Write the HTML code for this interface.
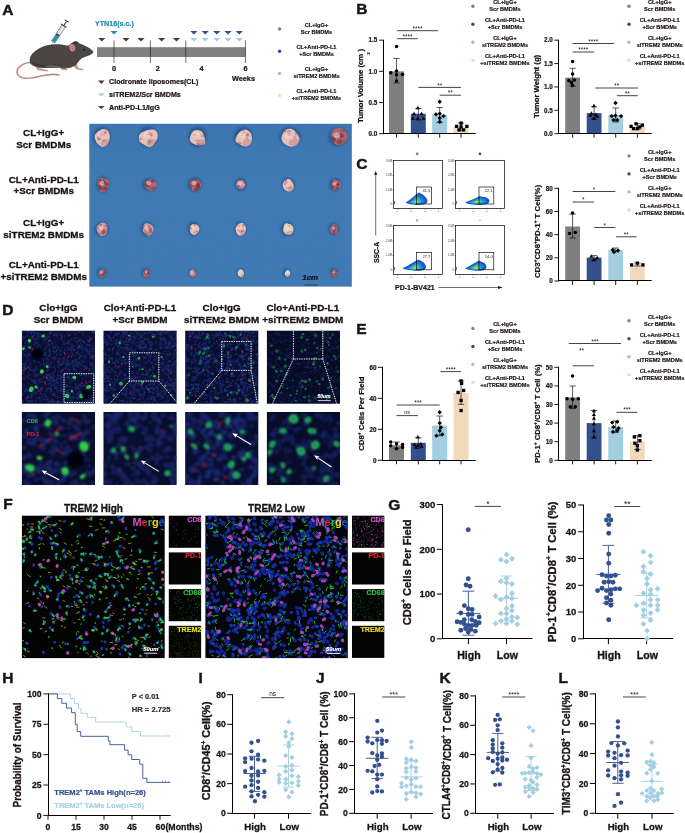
<!DOCTYPE html>
<html><head><meta charset="utf-8"><title>Figure</title>
<style>html,body{margin:0;padding:0;background:#fff}svg{display:block}text{font-family:"Liberation Sans",sans-serif}</style>
</head><body>
<svg width="685" height="833" viewBox="0 0 685 833">
<rect width="685" height="833" fill="#fff"/>
<text x="2.20" y="14.80" font-size="15.5" text-anchor="start" fill="#1a1311" font-weight="bold" stroke="#1a1311" stroke-width="0.46">A</text>
<path d="M30.5,62.5 C22,63 15.5,68.5 17.5,74 C20,80.5 31,78.6 41,76 C48,74.4 54,73.8 59,75" fill="none" stroke="#bb8f87" stroke-width="1.7" stroke-linecap="round"/>
<path d="M35,66.5 L37.5,70.2 L47.5,71.6 L48.5,70.3 L41,68.5 L40,66 Z" fill="#c99a90"/>
<path d="M73.5,65 L76,69.3 L83.3,70.6 L83.6,69.3 L78.4,67.8 L77,64 Z" fill="#c99a90"/>
<path d="M60,66 L61,69.5 L67,70.3 L67,69 L63.5,68 Z" fill="#b58a82"/>
<path d="M29.6,60 C29.5,54 38,47.5 48,45 C55,43.6 63,44.2 68,45.8 C70.5,44.5 72.5,42 75,41.3 C77,41 78.5,42.5 79.5,43.6 C84,44.6 89.5,47.8 93.2,51.2 C93.8,52.8 92,54 90,55 C87,56.5 84,57 81.5,58.5 C79,61 77,63.5 75.5,65.5 C72,67.5 67.5,68.6 64,68.4 C58,66.8 52,68.4 46,68 C40,68 32,67 30,63 Z" fill="#4b4544"/>
<path d="M31,61 C36,65 46,66.5 53,64.5 C57,63.5 60,64 64,66.5 C58,66 52,68 46,67.6 C40,67.5 33,66.5 31,61 Z" fill="#3a3535"/>
<path d="M44,66.8 C50,64.5 58,64.8 64,67.6 C58,67.2 50,68.2 44,66.8 Z" fill="#6a6362"/>
<ellipse cx="72.3" cy="47.8" rx="2.9" ry="3.6" fill="#c9928e" transform="rotate(-15 72.3 47.8)"/>
<ellipse cx="72.6" cy="48" rx="1.8" ry="2.5" fill="#b77d7c" transform="rotate(-15 72.6 48)"/>
<path d="M73.5,42.5 C75,40.8 78,41.2 78.6,43.3 C77,43 75,43.2 74,44.4 Z" fill="#3a3535"/>
<circle cx="83.80" cy="49.70" r="0.9" fill="#111"/>
<line x1="91.50" y1="50.00" x2="95.50" y2="44.50" stroke="#ccc" stroke-width="0.3"/>
<line x1="92.00" y1="50.50" x2="96.50" y2="47.00" stroke="#ccc" stroke-width="0.3"/>
<line x1="48.70" y1="51.50" x2="53.20" y2="42.00" stroke="#333" stroke-width="0.35"/>
<g transform="translate(53.2,42) rotate(-57)"><rect x="0" y="-2" width="19" height="4" fill="#eef3f6" stroke="#2b2b2b" stroke-width="0.45"/><rect x="0.4" y="-1.7" width="7.6" height="3.4" fill="#1f8fc6"/><rect x="7.8" y="-1.9" width="1.4" height="3.8" fill="#333"/><line x1="10.5" y1="-2" x2="10.5" y2="0" stroke="#333" stroke-width="0.3"/><line x1="12.5" y1="-2" x2="12.5" y2="0" stroke="#333" stroke-width="0.3"/><line x1="14.5" y1="-2" x2="14.5" y2="0" stroke="#333" stroke-width="0.3"/><line x1="16.5" y1="-2" x2="16.5" y2="0" stroke="#333" stroke-width="0.3"/><rect x="19" y="-3.3" width="0.9" height="6.6" fill="#2b2b2b"/><rect x="19.9" y="-0.5" width="4.6" height="1" fill="#2b2b2b"/><rect x="24.4" y="-2.4" width="0.9" height="4.8" fill="#2b2b2b"/></g>
<text x="95.00" y="26.40" font-size="7.15" text-anchor="start" fill="#1b8bb8" font-weight="bold" stroke="#1b8bb8" stroke-width="0.21">YTN16(s.c.)</text>
<polygon points="110.50,30.90 117.50,30.90 114.00,34.50" fill="#1b8bb8"/>
<rect x="97.00" y="47.20" width="148.60" height="9.80" fill="#808080"/>
<line x1="114.00" y1="40.30" x2="114.00" y2="63.00" stroke="#111" stroke-width="0.6"/>
<line x1="150.40" y1="40.30" x2="150.40" y2="63.00" stroke="#111" stroke-width="0.6"/>
<line x1="185.80" y1="40.30" x2="185.80" y2="63.00" stroke="#111" stroke-width="0.6"/>
<line x1="245.40" y1="40.30" x2="245.40" y2="63.00" stroke="#111" stroke-width="0.6"/>
<polygon points="98.20,38.00 105.40,38.00 101.80,41.60" fill="#4a3b38"/>
<polygon points="122.40,38.00 129.60,38.00 126.00,41.60" fill="#4a3b38"/>
<polygon points="137.40,38.00 144.60,38.00 141.00,41.60" fill="#4a3b38"/>
<polygon points="158.00,38.00 165.20,38.00 161.60,41.60" fill="#4a3b38"/>
<polygon points="172.90,38.00 180.10,38.00 176.50,41.60" fill="#4a3b38"/>
<polygon points="190.30,31.00 197.50,31.00 193.90,34.60" fill="#2d4b8e"/>
<polygon points="190.30,38.00 197.50,38.00 193.90,41.60" fill="#9fcfe6"/>
<polygon points="201.60,31.00 208.80,31.00 205.20,34.60" fill="#2d4b8e"/>
<polygon points="201.60,38.00 208.80,38.00 205.20,41.60" fill="#9fcfe6"/>
<polygon points="213.10,31.00 220.30,31.00 216.70,34.60" fill="#2d4b8e"/>
<polygon points="213.10,38.00 220.30,38.00 216.70,41.60" fill="#9fcfe6"/>
<polygon points="224.40,31.00 231.60,31.00 228.00,34.60" fill="#2d4b8e"/>
<polygon points="224.40,38.00 231.60,38.00 228.00,41.60" fill="#9fcfe6"/>
<polygon points="235.70,31.00 242.90,31.00 239.30,34.60" fill="#2d4b8e"/>
<polygon points="235.70,38.00 242.90,38.00 239.30,41.60" fill="#9fcfe6"/>
<text x="114.00" y="71.20" font-size="7.3" text-anchor="middle" fill="#1a1311" font-weight="bold" stroke="#1a1311" stroke-width="0.22">0</text>
<text x="157.80" y="71.20" font-size="7.3" text-anchor="middle" fill="#1a1311" font-weight="bold" stroke="#1a1311" stroke-width="0.22">2</text>
<text x="201.60" y="71.20" font-size="7.3" text-anchor="middle" fill="#1a1311" font-weight="bold" stroke="#1a1311" stroke-width="0.22">4</text>
<text x="245.60" y="71.20" font-size="7.3" text-anchor="middle" fill="#1a1311" font-weight="bold" stroke="#1a1311" stroke-width="0.22">6</text>
<text x="243.50" y="81.20" font-size="7.3" text-anchor="middle" fill="#1a1311" font-weight="bold" stroke="#1a1311" stroke-width="0.22">Weeks</text>
<polygon points="98.00,80.50 104.60,80.50 101.30,83.90" fill="#4a3b38"/>
<text x="109.00" y="84.40" font-size="7.15" text-anchor="start" fill="#1a1311" font-weight="bold" stroke="#1a1311" stroke-width="0.21">Clodronate liposomes(CL)</text>
<polygon points="98.00,93.20 104.60,93.20 101.30,96.60" fill="#9fcfe6"/>
<text x="109.00" y="97.10" font-size="7.15" text-anchor="start" fill="#1a1311" font-weight="bold" stroke="#1a1311" stroke-width="0.21">siTREM2/Scr BMDMs</text>
<polygon points="98.00,105.90 104.60,105.90 101.30,109.30" fill="#2d4b8e"/>
<text x="109.00" y="109.80" font-size="7.15" text-anchor="start" fill="#1a1311" font-weight="bold" stroke="#1a1311" stroke-width="0.21">Anti-PD-L1/IgG</text>
<circle cx="279.60" cy="29.00" r="1.7" fill="#808080"/>
<text x="316.50" y="26.75" font-size="5.65" text-anchor="middle" fill="#1a1311" font-weight="bold" stroke="#1a1311" stroke-width="0.17">CL+IgG+</text>
<text x="316.50" y="33.70" font-size="5.65" text-anchor="middle" fill="#1a1311" font-weight="bold" stroke="#1a1311" stroke-width="0.17">Scr BMDMs</text>
<circle cx="279.60" cy="51.20" r="1.7" fill="#2e4a8a"/>
<text x="316.50" y="48.95" font-size="5.65" text-anchor="middle" fill="#1a1311" font-weight="bold" stroke="#1a1311" stroke-width="0.17">CL+Anti-PD-L1</text>
<text x="316.50" y="55.90" font-size="5.65" text-anchor="middle" fill="#1a1311" font-weight="bold" stroke="#1a1311" stroke-width="0.17">+Scr BMDMs</text>
<circle cx="279.60" cy="73.40" r="1.7" fill="#8fc6de"/>
<text x="316.50" y="71.15" font-size="5.65" text-anchor="middle" fill="#1a1311" font-weight="bold" stroke="#1a1311" stroke-width="0.17">CL+IgG+</text>
<text x="316.50" y="78.10" font-size="5.65" text-anchor="middle" fill="#1a1311" font-weight="bold" stroke="#1a1311" stroke-width="0.17">siTREM2 BMDMs</text>
<circle cx="279.60" cy="95.60" r="1.7" fill="#f6d7b3"/>
<text x="316.50" y="93.35" font-size="5.65" text-anchor="middle" fill="#1a1311" font-weight="bold" stroke="#1a1311" stroke-width="0.17">CL+Anti-PD-L1</text>
<text x="316.50" y="100.30" font-size="5.65" text-anchor="middle" fill="#1a1311" font-weight="bold" stroke="#1a1311" stroke-width="0.17">+siTREM2 BMDMs</text>
<text x="356.30" y="14.30" font-size="15.5" text-anchor="start" fill="#1a1311" font-weight="bold" stroke="#1a1311" stroke-width="0.46">B</text>
<rect x="389.00" y="71.37" width="15.00" height="62.33" fill="#7f7f7f"/>
<rect x="410.80" y="113.75" width="15.00" height="19.95" fill="#33508d"/>
<rect x="432.20" y="114.69" width="15.00" height="19.01" fill="#a3cde1"/>
<rect x="453.50" y="126.84" width="15.00" height="6.86" fill="#f3d9bb"/>
<line x1="396.50" y1="58.50" x2="396.50" y2="83.00" stroke="#1a1311" stroke-width="0.7"/>
<line x1="393.30" y1="58.50" x2="399.70" y2="58.50" stroke="#1a1311" stroke-width="0.7"/>
<line x1="393.30" y1="83.00" x2="399.70" y2="83.00" stroke="#1a1311" stroke-width="0.7"/>
<line x1="418.30" y1="108.50" x2="418.30" y2="120.00" stroke="#1a1311" stroke-width="0.7"/>
<line x1="415.10" y1="108.50" x2="421.50" y2="108.50" stroke="#1a1311" stroke-width="0.7"/>
<line x1="415.10" y1="120.00" x2="421.50" y2="120.00" stroke="#1a1311" stroke-width="0.7"/>
<line x1="439.70" y1="107.50" x2="439.70" y2="122.60" stroke="#1a1311" stroke-width="0.7"/>
<line x1="436.50" y1="107.50" x2="442.90" y2="107.50" stroke="#1a1311" stroke-width="0.7"/>
<line x1="436.50" y1="122.60" x2="442.90" y2="122.60" stroke="#1a1311" stroke-width="0.7"/>
<line x1="461.00" y1="123.00" x2="461.00" y2="130.60" stroke="#1a1311" stroke-width="0.7"/>
<line x1="457.80" y1="123.00" x2="464.20" y2="123.00" stroke="#1a1311" stroke-width="0.7"/>
<line x1="457.80" y1="130.60" x2="464.20" y2="130.60" stroke="#1a1311" stroke-width="0.7"/>
<line x1="383.50" y1="39.80" x2="383.50" y2="134.00" stroke="#000" stroke-width="1.0"/>
<line x1="383.00" y1="133.50" x2="475.70" y2="133.50" stroke="#000" stroke-width="1.0"/>
<line x1="379.10" y1="133.70" x2="383.70" y2="133.70" stroke="#000" stroke-width="0.9"/>
<text x="377.20" y="135.97" font-size="6.3" text-anchor="end" fill="#1a1311" font-weight="bold" stroke="#1a1311" stroke-width="0.19">0.0</text>
<line x1="379.10" y1="102.53" x2="383.70" y2="102.53" stroke="#000" stroke-width="0.9"/>
<text x="377.20" y="104.80" font-size="6.3" text-anchor="end" fill="#1a1311" font-weight="bold" stroke="#1a1311" stroke-width="0.19">0.5</text>
<line x1="379.10" y1="71.37" x2="383.70" y2="71.37" stroke="#000" stroke-width="0.9"/>
<text x="377.20" y="73.63" font-size="6.3" text-anchor="end" fill="#1a1311" font-weight="bold" stroke="#1a1311" stroke-width="0.19">1.0</text>
<line x1="379.10" y1="40.20" x2="383.70" y2="40.20" stroke="#000" stroke-width="0.9"/>
<text x="377.20" y="42.47" font-size="6.3" text-anchor="end" fill="#1a1311" font-weight="bold" stroke="#1a1311" stroke-width="0.19">1.5</text>
<line x1="396.50" y1="133.70" x2="396.50" y2="137.70" stroke="#000" stroke-width="0.9"/>
<line x1="418.30" y1="133.70" x2="418.30" y2="137.70" stroke="#000" stroke-width="0.9"/>
<line x1="439.70" y1="133.70" x2="439.70" y2="137.70" stroke="#000" stroke-width="0.9"/>
<line x1="461.00" y1="133.70" x2="461.00" y2="137.70" stroke="#000" stroke-width="0.9"/>
<circle cx="396.52" cy="46.48" r="1.75" fill="#000"/>
<circle cx="390.74" cy="72.86" r="1.75" fill="#000"/>
<circle cx="396.52" cy="71.11" r="1.75" fill="#000"/>
<circle cx="402.55" cy="74.62" r="1.75" fill="#000"/>
<circle cx="396.52" cy="74.87" r="1.75" fill="#000"/>
<circle cx="396.52" cy="80.90" r="1.75" fill="#000"/>
<polygon points="415.86,109.15 419.89,109.15 417.87,105.73" fill="#000"/>
<polygon points="412.09,115.18 416.12,115.18 414.11,111.76" fill="#000"/>
<polygon points="419.63,115.18 423.66,115.18 421.64,111.76" fill="#000"/>
<polygon points="410.84,119.70 414.86,119.70 412.85,116.28" fill="#000"/>
<polygon points="415.86,119.70 419.89,119.70 417.87,116.28" fill="#000"/>
<polygon points="421.39,119.70 425.41,119.70 423.40,116.28" fill="#000"/>
<polygon points="437.55,101.76 439.73,99.57 441.92,101.76 439.73,103.95" fill="#000"/>
<polygon points="433.78,114.32 435.96,112.13 438.15,114.32 435.96,116.51" fill="#000"/>
<polygon points="437.55,113.57 439.73,111.38 441.92,113.57 439.73,115.76" fill="#000"/>
<polygon points="441.32,116.08 443.50,113.89 445.69,116.08 443.50,118.27" fill="#000"/>
<polygon points="437.55,118.09 439.73,115.90 441.92,118.09 439.73,120.28" fill="#000"/>
<polygon points="437.55,121.86 439.73,119.67 441.92,121.86 439.73,124.05" fill="#000"/>
<rect x="459.43" y="121.45" width="3.32" height="3.32" fill="#000"/>
<rect x="454.91" y="124.72" width="3.32" height="3.32" fill="#000"/>
<rect x="459.43" y="125.22" width="3.32" height="3.32" fill="#000"/>
<rect x="465.21" y="124.72" width="3.32" height="3.32" fill="#000"/>
<rect x="457.42" y="128.24" width="3.32" height="3.32" fill="#000"/>
<rect x="461.94" y="128.24" width="3.32" height="3.32" fill="#000"/>
<line x1="397.00" y1="30.70" x2="438.00" y2="30.70" stroke="#1a1311" stroke-width="0.8"/>
<text x="417.50" y="30.80" font-size="6.4" text-anchor="middle" fill="#1a1311" font-weight="normal">****</text>
<line x1="397.00" y1="38.70" x2="417.90" y2="38.70" stroke="#1a1311" stroke-width="0.8"/>
<text x="407.45" y="38.80" font-size="6.4" text-anchor="middle" fill="#1a1311" font-weight="normal">****</text>
<line x1="418.40" y1="87.40" x2="461.00" y2="87.40" stroke="#1a1311" stroke-width="0.8"/>
<text x="439.70" y="87.50" font-size="6.4" text-anchor="middle" fill="#1a1311" font-weight="normal">**</text>
<line x1="439.70" y1="95.20" x2="461.00" y2="95.20" stroke="#1a1311" stroke-width="0.8"/>
<text x="450.35" y="95.30" font-size="6.4" text-anchor="middle" fill="#1a1311" font-weight="normal">**</text>
<text x="362.70" y="86.00" font-size="7.75" text-anchor="middle" fill="#1a1311" font-weight="bold" stroke="#1a1311" stroke-width="0.23" transform="rotate(-90 362.70 86.00)" textLength="74.0" lengthAdjust="spacingAndGlyphs">Tumor Volume (cm )</text>
<text x="370.30" y="53.50" font-size="4.3" text-anchor="middle" fill="#1a1311" font-weight="bold" stroke="#1a1311" stroke-width="0.13" transform="rotate(-90 370.30 53.50)">3</text>
<circle cx="472.90" cy="6.20" r="1.7" fill="#808080"/>
<text x="505.00" y="3.95" font-size="5.65" text-anchor="middle" fill="#1a1311" font-weight="bold" stroke="#1a1311" stroke-width="0.17">CL+IgG+</text>
<text x="505.00" y="10.90" font-size="5.65" text-anchor="middle" fill="#1a1311" font-weight="bold" stroke="#1a1311" stroke-width="0.17">Scr BMDMs</text>
<circle cx="472.90" cy="24.20" r="1.7" fill="#2e4a8a"/>
<text x="505.00" y="21.95" font-size="5.65" text-anchor="middle" fill="#1a1311" font-weight="bold" stroke="#1a1311" stroke-width="0.17">CL+Anti-PD-L1</text>
<text x="505.00" y="28.90" font-size="5.65" text-anchor="middle" fill="#1a1311" font-weight="bold" stroke="#1a1311" stroke-width="0.17">+Scr BMDMs</text>
<circle cx="472.90" cy="42.20" r="1.7" fill="#8fc6de"/>
<text x="505.00" y="39.95" font-size="5.65" text-anchor="middle" fill="#1a1311" font-weight="bold" stroke="#1a1311" stroke-width="0.17">CL+IgG+</text>
<text x="505.00" y="46.90" font-size="5.65" text-anchor="middle" fill="#1a1311" font-weight="bold" stroke="#1a1311" stroke-width="0.17">siTREM2 BMDMs</text>
<circle cx="472.90" cy="60.20" r="1.7" fill="#f6d7b3"/>
<text x="505.00" y="57.95" font-size="5.65" text-anchor="middle" fill="#1a1311" font-weight="bold" stroke="#1a1311" stroke-width="0.17">CL+Anti-PD-L1</text>
<text x="505.00" y="64.90" font-size="5.65" text-anchor="middle" fill="#1a1311" font-weight="bold" stroke="#1a1311" stroke-width="0.17">+siTREM2 BMDMs</text>
<rect x="565.20" y="77.60" width="14.80" height="56.10" fill="#7f7f7f"/>
<rect x="586.70" y="113.13" width="14.80" height="20.57" fill="#33508d"/>
<rect x="608.30" y="115.00" width="14.80" height="18.70" fill="#a3cde1"/>
<rect x="630.00" y="126.45" width="14.80" height="7.25" fill="#f3d9bb"/>
<line x1="572.60" y1="68.30" x2="572.60" y2="86.20" stroke="#1a1311" stroke-width="0.7"/>
<line x1="569.40" y1="68.30" x2="575.80" y2="68.30" stroke="#1a1311" stroke-width="0.7"/>
<line x1="569.40" y1="86.20" x2="575.80" y2="86.20" stroke="#1a1311" stroke-width="0.7"/>
<line x1="594.10" y1="106.80" x2="594.10" y2="119.30" stroke="#1a1311" stroke-width="0.7"/>
<line x1="590.90" y1="106.80" x2="597.30" y2="106.80" stroke="#1a1311" stroke-width="0.7"/>
<line x1="590.90" y1="119.30" x2="597.30" y2="119.30" stroke="#1a1311" stroke-width="0.7"/>
<line x1="615.70" y1="108.00" x2="615.70" y2="121.90" stroke="#1a1311" stroke-width="0.7"/>
<line x1="612.50" y1="108.00" x2="618.90" y2="108.00" stroke="#1a1311" stroke-width="0.7"/>
<line x1="612.50" y1="121.90" x2="618.90" y2="121.90" stroke="#1a1311" stroke-width="0.7"/>
<line x1="637.40" y1="123.60" x2="637.40" y2="129.40" stroke="#1a1311" stroke-width="0.7"/>
<line x1="634.20" y1="123.60" x2="640.60" y2="123.60" stroke="#1a1311" stroke-width="0.7"/>
<line x1="634.20" y1="129.40" x2="640.60" y2="129.40" stroke="#1a1311" stroke-width="0.7"/>
<line x1="558.50" y1="39.80" x2="558.50" y2="134.00" stroke="#000" stroke-width="1.0"/>
<line x1="558.00" y1="133.50" x2="651.70" y2="133.50" stroke="#000" stroke-width="1.0"/>
<line x1="554.40" y1="133.70" x2="559.00" y2="133.70" stroke="#000" stroke-width="0.9"/>
<text x="552.70" y="135.97" font-size="6.3" text-anchor="end" fill="#1a1311" font-weight="bold" stroke="#1a1311" stroke-width="0.19">0.0</text>
<line x1="554.40" y1="110.32" x2="559.00" y2="110.32" stroke="#000" stroke-width="0.9"/>
<text x="552.70" y="112.59" font-size="6.3" text-anchor="end" fill="#1a1311" font-weight="bold" stroke="#1a1311" stroke-width="0.19">0.5</text>
<line x1="554.40" y1="86.95" x2="559.00" y2="86.95" stroke="#000" stroke-width="0.9"/>
<text x="552.70" y="89.22" font-size="6.3" text-anchor="end" fill="#1a1311" font-weight="bold" stroke="#1a1311" stroke-width="0.19">1.0</text>
<line x1="554.40" y1="63.58" x2="559.00" y2="63.58" stroke="#000" stroke-width="0.9"/>
<text x="552.70" y="65.84" font-size="6.3" text-anchor="end" fill="#1a1311" font-weight="bold" stroke="#1a1311" stroke-width="0.19">1.5</text>
<line x1="554.40" y1="40.20" x2="559.00" y2="40.20" stroke="#000" stroke-width="0.9"/>
<text x="552.70" y="42.47" font-size="6.3" text-anchor="end" fill="#1a1311" font-weight="bold" stroke="#1a1311" stroke-width="0.19">2.0</text>
<line x1="572.60" y1="133.70" x2="572.60" y2="137.70" stroke="#000" stroke-width="0.9"/>
<line x1="594.10" y1="133.70" x2="594.10" y2="137.70" stroke="#000" stroke-width="0.9"/>
<line x1="615.70" y1="133.70" x2="615.70" y2="137.70" stroke="#000" stroke-width="0.9"/>
<line x1="637.40" y1="133.70" x2="637.40" y2="137.70" stroke="#000" stroke-width="0.9"/>
<circle cx="572.55" cy="61.56" r="1.75" fill="#000"/>
<circle cx="572.55" cy="74.12" r="1.75" fill="#000"/>
<circle cx="568.78" cy="80.40" r="1.75" fill="#000"/>
<circle cx="574.56" cy="79.90" r="1.75" fill="#000"/>
<circle cx="571.29" cy="82.41" r="1.75" fill="#000"/>
<circle cx="572.55" cy="85.43" r="1.75" fill="#000"/>
<polygon points="591.89,107.14 595.92,107.14 593.90,103.72" fill="#000"/>
<polygon points="589.38,114.68 593.40,114.68 591.39,111.25" fill="#000"/>
<polygon points="593.90,115.93 597.93,115.93 595.91,112.51" fill="#000"/>
<polygon points="591.89,119.70 595.92,119.70 593.90,116.28" fill="#000"/>
<polygon points="588.37,116.69 592.40,116.69 590.39,113.26" fill="#000"/>
<polygon points="595.16,117.69 599.18,117.69 597.17,114.27" fill="#000"/>
<polygon points="613.33,103.02 615.51,100.83 617.70,103.02 615.51,105.20" fill="#000"/>
<polygon points="609.56,116.08 611.74,113.89 613.93,116.08 611.74,118.27" fill="#000"/>
<polygon points="613.33,115.58 615.51,113.39 617.70,115.58 615.51,117.77" fill="#000"/>
<polygon points="618.85,116.08 621.04,113.89 623.23,116.08 621.04,118.27" fill="#000"/>
<polygon points="611.32,120.10 613.50,117.91 615.69,120.10 613.50,122.29" fill="#000"/>
<polygon points="615.08,120.10 617.27,117.91 619.46,120.10 617.27,122.29" fill="#000"/>
<rect x="634.45" y="122.21" width="3.32" height="3.32" fill="#000"/>
<rect x="629.43" y="124.72" width="3.32" height="3.32" fill="#000"/>
<rect x="640.73" y="123.46" width="3.32" height="3.32" fill="#000"/>
<rect x="631.94" y="126.98" width="3.32" height="3.32" fill="#000"/>
<rect x="635.71" y="126.98" width="3.32" height="3.32" fill="#000"/>
<rect x="638.22" y="125.22" width="3.32" height="3.32" fill="#000"/>
<line x1="572.50" y1="43.50" x2="614.00" y2="43.50" stroke="#1a1311" stroke-width="0.8"/>
<text x="593.25" y="43.60" font-size="6.4" text-anchor="middle" fill="#1a1311" font-weight="normal">****</text>
<line x1="572.50" y1="52.00" x2="594.00" y2="52.00" stroke="#1a1311" stroke-width="0.8"/>
<text x="583.25" y="52.10" font-size="6.4" text-anchor="middle" fill="#1a1311" font-weight="normal">****</text>
<line x1="595.40" y1="88.00" x2="637.90" y2="88.00" stroke="#1a1311" stroke-width="0.8"/>
<text x="616.65" y="88.10" font-size="6.4" text-anchor="middle" fill="#1a1311" font-weight="normal">**</text>
<line x1="616.80" y1="95.70" x2="637.90" y2="95.70" stroke="#1a1311" stroke-width="0.8"/>
<text x="627.35" y="95.80" font-size="6.4" text-anchor="middle" fill="#1a1311" font-weight="normal">**</text>
<text x="538.80" y="86.40" font-size="7.75" text-anchor="middle" fill="#1a1311" font-weight="bold" stroke="#1a1311" stroke-width="0.23" transform="rotate(-90 538.80 86.40)" textLength="63.2" lengthAdjust="spacingAndGlyphs">Tumor Weight (g)</text>
<circle cx="629.00" cy="6.20" r="1.7" fill="#808080"/>
<text x="659.70" y="3.95" font-size="5.65" text-anchor="middle" fill="#1a1311" font-weight="bold" stroke="#1a1311" stroke-width="0.17">CL+IgG+</text>
<text x="659.70" y="10.90" font-size="5.65" text-anchor="middle" fill="#1a1311" font-weight="bold" stroke="#1a1311" stroke-width="0.17">Scr BMDMs</text>
<circle cx="629.00" cy="24.20" r="1.7" fill="#2e4a8a"/>
<text x="659.70" y="21.95" font-size="5.65" text-anchor="middle" fill="#1a1311" font-weight="bold" stroke="#1a1311" stroke-width="0.17">CL+Anti-PD-L1</text>
<text x="659.70" y="28.90" font-size="5.65" text-anchor="middle" fill="#1a1311" font-weight="bold" stroke="#1a1311" stroke-width="0.17">+Scr BMDMs</text>
<circle cx="629.00" cy="42.20" r="1.7" fill="#8fc6de"/>
<text x="659.70" y="39.95" font-size="5.65" text-anchor="middle" fill="#1a1311" font-weight="bold" stroke="#1a1311" stroke-width="0.17">CL+IgG+</text>
<text x="659.70" y="46.90" font-size="5.65" text-anchor="middle" fill="#1a1311" font-weight="bold" stroke="#1a1311" stroke-width="0.17">siTREM2 BMDMs</text>
<circle cx="629.00" cy="60.20" r="1.7" fill="#f6d7b3"/>
<text x="659.70" y="57.95" font-size="5.65" text-anchor="middle" fill="#1a1311" font-weight="bold" stroke="#1a1311" stroke-width="0.17">CL+Anti-PD-L1</text>
<text x="659.70" y="64.90" font-size="5.65" text-anchor="middle" fill="#1a1311" font-weight="bold" stroke="#1a1311" stroke-width="0.17">+siTREM2 BMDMs</text>
<text x="356.30" y="169.20" font-size="15.5" text-anchor="start" fill="#1a1311" font-weight="bold" stroke="#1a1311" stroke-width="0.46">C</text>
<circle cx="417.10" cy="153.80" r="1.35" fill="#808080"/>
<circle cx="480.00" cy="153.80" r="1.35" fill="#2e4a8a"/>
<circle cx="417.10" cy="220.40" r="1.35" fill="#8fc6de"/>
<circle cx="480.00" cy="220.40" r="1.35" fill="#f6d7b3"/>
<rect x="393.50" y="160.40" width="49.00" height="48.20" fill="#fff" stroke="#000" stroke-width="0.7"/>
<path d="M405.50,202.40 C409.50,200.80 415.00,194.70 419.00,192.50 C421.40,193.70 427.20,196.70 427.50,200.80 C427.50,203.80 424.50,204.80 418.20,204.90 C413.20,204.90 407.50,203.80 405.50,202.40 Z" fill="#1e56c2"/>
<path d="M408.13,202.35 C411.09,201.16 415.16,196.65 418.12,195.02 C419.89,195.91 424.18,198.13 424.41,201.16 C424.41,203.38 422.19,204.12 417.52,204.20 C413.82,204.20 409.61,203.38 408.13,202.35 Z" fill="#1f80d4"/>
<path d="M410.55,202.30 C412.55,201.50 415.30,198.45 417.30,197.35 C418.50,197.95 421.40,199.45 421.55,201.50 C421.55,203.00 420.05,203.50 416.90,203.55 C414.40,203.55 411.55,203.00 410.55,202.30 Z" fill="#27b4c9"/>
<path d="M412.17,202.27 C413.53,201.72 415.40,199.65 416.76,198.90 C417.57,199.31 419.54,200.33 419.65,201.72 C419.65,202.74 418.63,203.08 416.48,203.12 C414.78,203.12 412.85,202.74 412.17,202.27 Z" fill="#43cf6e"/>
<path d="M413.58,202.24 C414.38,201.92 415.48,200.70 416.28,200.26 C416.76,200.50 417.92,201.10 417.98,201.92 C417.98,202.52 417.38,202.72 416.12,202.74 C415.12,202.74 413.98,202.52 413.58,202.24 Z" fill="#e0e03a"/>
<path d="M414.69,202.22 C415.05,202.07 415.55,201.53 415.91,201.33 C416.12,201.44 416.64,201.71 416.67,202.07 C416.67,202.34 416.40,202.43 415.83,202.44 C415.38,202.44 414.87,202.34 414.69,202.22 Z" fill="#f0702a"/>
<ellipse cx="394.20" cy="202.60" rx="0.8" ry="1.8" fill="#2b63c8"/>
<rect x="416.60" y="187.00" width="14.80" height="17.00" fill="none" stroke="#000" stroke-width="0.65"/>
<text x="430.40" y="192.00" font-size="4.1" text-anchor="end" fill="#222" font-weight="normal">41.5</text>
<line x1="392.30" y1="161.20" x2="393.50" y2="161.20" stroke="#111" stroke-width="0.35"/>
<text x="391.90" y="162.10" font-size="2.6" text-anchor="end" fill="#333" font-weight="normal">3.0M</text>
<line x1="392.30" y1="175.53" x2="393.50" y2="175.53" stroke="#111" stroke-width="0.35"/>
<text x="391.90" y="176.43" font-size="2.6" text-anchor="end" fill="#333" font-weight="normal">2.0M</text>
<line x1="392.30" y1="189.87" x2="393.50" y2="189.87" stroke="#111" stroke-width="0.35"/>
<text x="391.90" y="190.77" font-size="2.6" text-anchor="end" fill="#333" font-weight="normal">1.0M</text>
<line x1="392.30" y1="204.20" x2="393.50" y2="204.20" stroke="#111" stroke-width="0.35"/>
<text x="391.90" y="205.10" font-size="2.6" text-anchor="end" fill="#333" font-weight="normal">0</text>
<line x1="397.50" y1="208.60" x2="397.50" y2="209.80" stroke="#111" stroke-width="0.35"/>
<text x="397.50" y="212.20" font-size="1.9" text-anchor="middle" fill="#444" font-weight="normal">10</text>
<line x1="411.17" y1="208.60" x2="411.17" y2="209.80" stroke="#111" stroke-width="0.35"/>
<text x="411.17" y="212.20" font-size="1.9" text-anchor="middle" fill="#444" font-weight="normal">10</text>
<line x1="424.83" y1="208.60" x2="424.83" y2="209.80" stroke="#111" stroke-width="0.35"/>
<text x="424.83" y="212.20" font-size="1.9" text-anchor="middle" fill="#444" font-weight="normal">10</text>
<line x1="438.50" y1="208.60" x2="438.50" y2="209.80" stroke="#111" stroke-width="0.35"/>
<text x="438.50" y="212.20" font-size="1.9" text-anchor="middle" fill="#444" font-weight="normal">10</text>
<line x1="395.50" y1="208.60" x2="395.50" y2="209.20" stroke="#111" stroke-width="0.25"/>
<line x1="398.38" y1="208.60" x2="398.38" y2="209.20" stroke="#111" stroke-width="0.25"/>
<line x1="401.25" y1="208.60" x2="401.25" y2="209.20" stroke="#111" stroke-width="0.25"/>
<line x1="404.12" y1="208.60" x2="404.12" y2="209.20" stroke="#111" stroke-width="0.25"/>
<line x1="407.00" y1="208.60" x2="407.00" y2="209.20" stroke="#111" stroke-width="0.25"/>
<line x1="409.88" y1="208.60" x2="409.88" y2="209.20" stroke="#111" stroke-width="0.25"/>
<line x1="412.75" y1="208.60" x2="412.75" y2="209.20" stroke="#111" stroke-width="0.25"/>
<line x1="415.62" y1="208.60" x2="415.62" y2="209.20" stroke="#111" stroke-width="0.25"/>
<line x1="418.50" y1="208.60" x2="418.50" y2="209.20" stroke="#111" stroke-width="0.25"/>
<line x1="421.38" y1="208.60" x2="421.38" y2="209.20" stroke="#111" stroke-width="0.25"/>
<line x1="424.25" y1="208.60" x2="424.25" y2="209.20" stroke="#111" stroke-width="0.25"/>
<line x1="427.12" y1="208.60" x2="427.12" y2="209.20" stroke="#111" stroke-width="0.25"/>
<line x1="430.00" y1="208.60" x2="430.00" y2="209.20" stroke="#111" stroke-width="0.25"/>
<line x1="432.88" y1="208.60" x2="432.88" y2="209.20" stroke="#111" stroke-width="0.25"/>
<line x1="435.75" y1="208.60" x2="435.75" y2="209.20" stroke="#111" stroke-width="0.25"/>
<line x1="438.62" y1="208.60" x2="438.62" y2="209.20" stroke="#111" stroke-width="0.25"/>
<rect x="455.50" y="160.40" width="49.00" height="48.20" fill="#fff" stroke="#000" stroke-width="0.7"/>
<path d="M465.00,202.40 C469.00,200.80 475.80,198.20 479.80,196.00 C482.20,197.20 489.20,196.70 489.50,200.80 C489.50,203.80 486.50,204.80 479.00,204.90 C474.00,204.90 467.00,203.80 465.00,202.40 Z" fill="#1e56c2"/>
<path d="M467.96,202.35 C470.92,201.16 475.96,199.24 478.92,197.61 C480.69,198.50 485.87,198.13 486.09,201.16 C486.09,203.38 483.87,204.12 478.32,204.20 C474.62,204.20 469.44,203.38 467.96,202.35 Z" fill="#1f80d4"/>
<path d="M470.70,202.30 C472.70,201.50 476.10,200.20 478.10,199.10 C479.30,199.70 482.80,199.45 482.95,201.50 C482.95,203.00 481.45,203.50 477.70,203.55 C475.20,203.55 471.70,203.00 470.70,202.30 Z" fill="#27b4c9"/>
<path d="M472.52,202.27 C473.88,201.72 476.20,200.84 477.56,200.09 C478.37,200.50 480.75,200.33 480.85,201.72 C480.85,202.74 479.83,203.08 477.28,203.12 C475.58,203.12 473.20,202.74 472.52,202.27 Z" fill="#43cf6e"/>
<path d="M474.12,202.24 C474.92,201.92 476.28,201.40 477.08,200.96 C477.56,201.20 478.96,201.10 479.02,201.92 C479.02,202.52 478.42,202.72 476.92,202.74 C475.92,202.74 474.52,202.52 474.12,202.24 Z" fill="#e0e03a"/>
<path d="M475.37,202.22 C475.73,202.07 476.35,201.84 476.71,201.64 C476.92,201.75 477.55,201.71 477.58,202.07 C477.58,202.34 477.31,202.43 476.63,202.44 C476.18,202.44 475.55,202.34 475.37,202.22 Z" fill="#f0702a"/>
<ellipse cx="456.20" cy="202.60" rx="0.8" ry="1.8" fill="#2b63c8"/>
<rect x="479.00" y="187.00" width="14.80" height="17.00" fill="none" stroke="#000" stroke-width="0.65"/>
<text x="492.80" y="192.00" font-size="4.1" text-anchor="end" fill="#222" font-weight="normal">22.1</text>
<line x1="454.30" y1="161.20" x2="455.50" y2="161.20" stroke="#111" stroke-width="0.35"/>
<text x="453.90" y="162.10" font-size="2.6" text-anchor="end" fill="#333" font-weight="normal">3.0M</text>
<line x1="454.30" y1="175.53" x2="455.50" y2="175.53" stroke="#111" stroke-width="0.35"/>
<text x="453.90" y="176.43" font-size="2.6" text-anchor="end" fill="#333" font-weight="normal">2.0M</text>
<line x1="454.30" y1="189.87" x2="455.50" y2="189.87" stroke="#111" stroke-width="0.35"/>
<text x="453.90" y="190.77" font-size="2.6" text-anchor="end" fill="#333" font-weight="normal">1.0M</text>
<line x1="454.30" y1="204.20" x2="455.50" y2="204.20" stroke="#111" stroke-width="0.35"/>
<text x="453.90" y="205.10" font-size="2.6" text-anchor="end" fill="#333" font-weight="normal">0</text>
<line x1="459.50" y1="208.60" x2="459.50" y2="209.80" stroke="#111" stroke-width="0.35"/>
<text x="459.50" y="212.20" font-size="1.9" text-anchor="middle" fill="#444" font-weight="normal">10</text>
<line x1="473.17" y1="208.60" x2="473.17" y2="209.80" stroke="#111" stroke-width="0.35"/>
<text x="473.17" y="212.20" font-size="1.9" text-anchor="middle" fill="#444" font-weight="normal">10</text>
<line x1="486.83" y1="208.60" x2="486.83" y2="209.80" stroke="#111" stroke-width="0.35"/>
<text x="486.83" y="212.20" font-size="1.9" text-anchor="middle" fill="#444" font-weight="normal">10</text>
<line x1="500.50" y1="208.60" x2="500.50" y2="209.80" stroke="#111" stroke-width="0.35"/>
<text x="500.50" y="212.20" font-size="1.9" text-anchor="middle" fill="#444" font-weight="normal">10</text>
<line x1="457.50" y1="208.60" x2="457.50" y2="209.20" stroke="#111" stroke-width="0.25"/>
<line x1="460.38" y1="208.60" x2="460.38" y2="209.20" stroke="#111" stroke-width="0.25"/>
<line x1="463.25" y1="208.60" x2="463.25" y2="209.20" stroke="#111" stroke-width="0.25"/>
<line x1="466.12" y1="208.60" x2="466.12" y2="209.20" stroke="#111" stroke-width="0.25"/>
<line x1="469.00" y1="208.60" x2="469.00" y2="209.20" stroke="#111" stroke-width="0.25"/>
<line x1="471.88" y1="208.60" x2="471.88" y2="209.20" stroke="#111" stroke-width="0.25"/>
<line x1="474.75" y1="208.60" x2="474.75" y2="209.20" stroke="#111" stroke-width="0.25"/>
<line x1="477.62" y1="208.60" x2="477.62" y2="209.20" stroke="#111" stroke-width="0.25"/>
<line x1="480.50" y1="208.60" x2="480.50" y2="209.20" stroke="#111" stroke-width="0.25"/>
<line x1="483.38" y1="208.60" x2="483.38" y2="209.20" stroke="#111" stroke-width="0.25"/>
<line x1="486.25" y1="208.60" x2="486.25" y2="209.20" stroke="#111" stroke-width="0.25"/>
<line x1="489.12" y1="208.60" x2="489.12" y2="209.20" stroke="#111" stroke-width="0.25"/>
<line x1="492.00" y1="208.60" x2="492.00" y2="209.20" stroke="#111" stroke-width="0.25"/>
<line x1="494.88" y1="208.60" x2="494.88" y2="209.20" stroke="#111" stroke-width="0.25"/>
<line x1="497.75" y1="208.60" x2="497.75" y2="209.20" stroke="#111" stroke-width="0.25"/>
<line x1="500.62" y1="208.60" x2="500.62" y2="209.20" stroke="#111" stroke-width="0.25"/>
<rect x="393.50" y="225.50" width="49.00" height="49.00" fill="#fff" stroke="#000" stroke-width="0.7"/>
<path d="M402.50,268.30 C406.50,266.70 414.30,261.70 418.30,259.50 C420.70,260.70 425.70,262.60 426.00,266.70 C426.00,269.70 423.00,270.70 417.50,270.80 C412.50,270.80 404.50,269.70 402.50,268.30 Z" fill="#1e56c2"/>
<path d="M405.72,268.25 C408.68,267.06 414.46,263.36 417.42,261.74 C419.19,262.62 422.89,264.03 423.11,267.06 C423.11,269.28 420.89,270.02 416.82,270.10 C413.12,270.10 407.20,269.28 405.72,268.25 Z" fill="#1f80d4"/>
<path d="M408.70,268.20 C410.70,267.40 414.60,264.90 416.60,263.80 C417.80,264.40 420.30,265.35 420.45,267.40 C420.45,268.90 418.95,269.40 416.20,269.45 C413.70,269.45 409.70,268.90 408.70,268.20 Z" fill="#27b4c9"/>
<path d="M410.68,268.17 C412.04,267.62 414.70,265.92 416.06,265.18 C416.87,265.58 418.57,266.23 418.67,267.62 C418.67,268.64 417.65,268.98 415.78,269.02 C414.08,269.02 411.36,268.64 410.68,268.17 Z" fill="#43cf6e"/>
<path d="M412.42,268.14 C413.22,267.82 414.78,266.82 415.58,266.38 C416.06,266.62 417.06,267.00 417.12,267.82 C417.12,268.42 416.52,268.62 415.42,268.64 C414.42,268.64 412.82,268.42 412.42,268.14 Z" fill="#e0e03a"/>
<path d="M413.78,268.12 C414.14,267.97 414.85,267.52 415.21,267.33 C415.42,267.43 415.87,267.61 415.90,267.97 C415.90,268.24 415.63,268.33 415.13,268.34 C414.68,268.34 413.96,268.24 413.78,268.12 Z" fill="#f0702a"/>
<ellipse cx="394.20" cy="268.50" rx="0.8" ry="1.8" fill="#2b63c8"/>
<rect x="416.60" y="252.60" width="14.80" height="17.20" fill="none" stroke="#000" stroke-width="0.65"/>
<text x="430.40" y="257.60" font-size="4.1" text-anchor="end" fill="#222" font-weight="normal">27.7</text>
<line x1="392.30" y1="226.30" x2="393.50" y2="226.30" stroke="#111" stroke-width="0.35"/>
<text x="391.90" y="227.20" font-size="2.6" text-anchor="end" fill="#333" font-weight="normal">3.0M</text>
<line x1="392.30" y1="240.90" x2="393.50" y2="240.90" stroke="#111" stroke-width="0.35"/>
<text x="391.90" y="241.80" font-size="2.6" text-anchor="end" fill="#333" font-weight="normal">2.0M</text>
<line x1="392.30" y1="255.50" x2="393.50" y2="255.50" stroke="#111" stroke-width="0.35"/>
<text x="391.90" y="256.40" font-size="2.6" text-anchor="end" fill="#333" font-weight="normal">1.0M</text>
<line x1="392.30" y1="270.10" x2="393.50" y2="270.10" stroke="#111" stroke-width="0.35"/>
<text x="391.90" y="271.00" font-size="2.6" text-anchor="end" fill="#333" font-weight="normal">0</text>
<line x1="397.50" y1="274.50" x2="397.50" y2="275.70" stroke="#111" stroke-width="0.35"/>
<text x="397.50" y="278.10" font-size="1.9" text-anchor="middle" fill="#444" font-weight="normal">10</text>
<line x1="411.17" y1="274.50" x2="411.17" y2="275.70" stroke="#111" stroke-width="0.35"/>
<text x="411.17" y="278.10" font-size="1.9" text-anchor="middle" fill="#444" font-weight="normal">10</text>
<line x1="424.83" y1="274.50" x2="424.83" y2="275.70" stroke="#111" stroke-width="0.35"/>
<text x="424.83" y="278.10" font-size="1.9" text-anchor="middle" fill="#444" font-weight="normal">10</text>
<line x1="438.50" y1="274.50" x2="438.50" y2="275.70" stroke="#111" stroke-width="0.35"/>
<text x="438.50" y="278.10" font-size="1.9" text-anchor="middle" fill="#444" font-weight="normal">10</text>
<line x1="395.50" y1="274.50" x2="395.50" y2="275.10" stroke="#111" stroke-width="0.25"/>
<line x1="398.38" y1="274.50" x2="398.38" y2="275.10" stroke="#111" stroke-width="0.25"/>
<line x1="401.25" y1="274.50" x2="401.25" y2="275.10" stroke="#111" stroke-width="0.25"/>
<line x1="404.12" y1="274.50" x2="404.12" y2="275.10" stroke="#111" stroke-width="0.25"/>
<line x1="407.00" y1="274.50" x2="407.00" y2="275.10" stroke="#111" stroke-width="0.25"/>
<line x1="409.88" y1="274.50" x2="409.88" y2="275.10" stroke="#111" stroke-width="0.25"/>
<line x1="412.75" y1="274.50" x2="412.75" y2="275.10" stroke="#111" stroke-width="0.25"/>
<line x1="415.62" y1="274.50" x2="415.62" y2="275.10" stroke="#111" stroke-width="0.25"/>
<line x1="418.50" y1="274.50" x2="418.50" y2="275.10" stroke="#111" stroke-width="0.25"/>
<line x1="421.38" y1="274.50" x2="421.38" y2="275.10" stroke="#111" stroke-width="0.25"/>
<line x1="424.25" y1="274.50" x2="424.25" y2="275.10" stroke="#111" stroke-width="0.25"/>
<line x1="427.12" y1="274.50" x2="427.12" y2="275.10" stroke="#111" stroke-width="0.25"/>
<line x1="430.00" y1="274.50" x2="430.00" y2="275.10" stroke="#111" stroke-width="0.25"/>
<line x1="432.88" y1="274.50" x2="432.88" y2="275.10" stroke="#111" stroke-width="0.25"/>
<line x1="435.75" y1="274.50" x2="435.75" y2="275.10" stroke="#111" stroke-width="0.25"/>
<line x1="438.62" y1="274.50" x2="438.62" y2="275.10" stroke="#111" stroke-width="0.25"/>
<rect x="455.50" y="225.50" width="49.00" height="49.00" fill="#fff" stroke="#000" stroke-width="0.7"/>
<path d="M465.00,268.30 C469.00,266.70 474.80,262.70 478.80,260.50 C481.20,261.70 486.20,262.60 486.50,266.70 C486.50,269.70 483.50,270.70 478.00,270.80 C473.00,270.80 467.00,269.70 465.00,268.30 Z" fill="#1e56c2"/>
<path d="M467.70,268.25 C470.66,267.06 474.96,264.10 477.92,262.48 C479.69,263.36 483.39,264.03 483.61,267.06 C483.61,269.28 481.39,270.02 477.32,270.10 C473.62,270.10 469.18,269.28 467.70,268.25 Z" fill="#1f80d4"/>
<path d="M470.20,268.20 C472.20,267.40 475.10,265.40 477.10,264.30 C478.30,264.90 480.80,265.35 480.95,267.40 C480.95,268.90 479.45,269.40 476.70,269.45 C474.20,269.45 471.20,268.90 470.20,268.20 Z" fill="#27b4c9"/>
<path d="M471.86,268.17 C473.22,267.62 475.20,266.26 476.56,265.52 C477.37,265.92 479.07,266.23 479.17,267.62 C479.17,268.64 478.15,268.98 476.28,269.02 C474.58,269.02 472.54,268.64 471.86,268.17 Z" fill="#43cf6e"/>
<path d="M473.32,268.14 C474.12,267.82 475.28,267.02 476.08,266.58 C476.56,266.82 477.56,267.00 477.62,267.82 C477.62,268.42 477.02,268.62 475.92,268.64 C474.92,268.64 473.72,268.42 473.32,268.14 Z" fill="#e0e03a"/>
<path d="M474.46,268.12 C474.82,267.97 475.35,267.61 475.71,267.42 C475.92,267.52 476.37,267.61 476.40,267.97 C476.40,268.24 476.13,268.33 475.63,268.34 C475.18,268.34 474.64,268.24 474.46,268.12 Z" fill="#f0702a"/>
<ellipse cx="456.20" cy="268.50" rx="0.8" ry="1.8" fill="#2b63c8"/>
<rect x="479.00" y="252.60" width="14.80" height="17.20" fill="none" stroke="#000" stroke-width="0.65"/>
<text x="492.80" y="257.60" font-size="4.1" text-anchor="end" fill="#222" font-weight="normal">14.0</text>
<line x1="454.30" y1="226.30" x2="455.50" y2="226.30" stroke="#111" stroke-width="0.35"/>
<text x="453.90" y="227.20" font-size="2.6" text-anchor="end" fill="#333" font-weight="normal">3.0M</text>
<line x1="454.30" y1="240.90" x2="455.50" y2="240.90" stroke="#111" stroke-width="0.35"/>
<text x="453.90" y="241.80" font-size="2.6" text-anchor="end" fill="#333" font-weight="normal">2.0M</text>
<line x1="454.30" y1="255.50" x2="455.50" y2="255.50" stroke="#111" stroke-width="0.35"/>
<text x="453.90" y="256.40" font-size="2.6" text-anchor="end" fill="#333" font-weight="normal">1.0M</text>
<line x1="454.30" y1="270.10" x2="455.50" y2="270.10" stroke="#111" stroke-width="0.35"/>
<text x="453.90" y="271.00" font-size="2.6" text-anchor="end" fill="#333" font-weight="normal">0</text>
<line x1="459.50" y1="274.50" x2="459.50" y2="275.70" stroke="#111" stroke-width="0.35"/>
<text x="459.50" y="278.10" font-size="1.9" text-anchor="middle" fill="#444" font-weight="normal">10</text>
<line x1="473.17" y1="274.50" x2="473.17" y2="275.70" stroke="#111" stroke-width="0.35"/>
<text x="473.17" y="278.10" font-size="1.9" text-anchor="middle" fill="#444" font-weight="normal">10</text>
<line x1="486.83" y1="274.50" x2="486.83" y2="275.70" stroke="#111" stroke-width="0.35"/>
<text x="486.83" y="278.10" font-size="1.9" text-anchor="middle" fill="#444" font-weight="normal">10</text>
<line x1="500.50" y1="274.50" x2="500.50" y2="275.70" stroke="#111" stroke-width="0.35"/>
<text x="500.50" y="278.10" font-size="1.9" text-anchor="middle" fill="#444" font-weight="normal">10</text>
<line x1="457.50" y1="274.50" x2="457.50" y2="275.10" stroke="#111" stroke-width="0.25"/>
<line x1="460.38" y1="274.50" x2="460.38" y2="275.10" stroke="#111" stroke-width="0.25"/>
<line x1="463.25" y1="274.50" x2="463.25" y2="275.10" stroke="#111" stroke-width="0.25"/>
<line x1="466.12" y1="274.50" x2="466.12" y2="275.10" stroke="#111" stroke-width="0.25"/>
<line x1="469.00" y1="274.50" x2="469.00" y2="275.10" stroke="#111" stroke-width="0.25"/>
<line x1="471.88" y1="274.50" x2="471.88" y2="275.10" stroke="#111" stroke-width="0.25"/>
<line x1="474.75" y1="274.50" x2="474.75" y2="275.10" stroke="#111" stroke-width="0.25"/>
<line x1="477.62" y1="274.50" x2="477.62" y2="275.10" stroke="#111" stroke-width="0.25"/>
<line x1="480.50" y1="274.50" x2="480.50" y2="275.10" stroke="#111" stroke-width="0.25"/>
<line x1="483.38" y1="274.50" x2="483.38" y2="275.10" stroke="#111" stroke-width="0.25"/>
<line x1="486.25" y1="274.50" x2="486.25" y2="275.10" stroke="#111" stroke-width="0.25"/>
<line x1="489.12" y1="274.50" x2="489.12" y2="275.10" stroke="#111" stroke-width="0.25"/>
<line x1="492.00" y1="274.50" x2="492.00" y2="275.10" stroke="#111" stroke-width="0.25"/>
<line x1="494.88" y1="274.50" x2="494.88" y2="275.10" stroke="#111" stroke-width="0.25"/>
<line x1="497.75" y1="274.50" x2="497.75" y2="275.10" stroke="#111" stroke-width="0.25"/>
<line x1="500.62" y1="274.50" x2="500.62" y2="275.10" stroke="#111" stroke-width="0.25"/>
<line x1="375.70" y1="235.50" x2="375.70" y2="173.50" stroke="#111" stroke-width="0.6"/>
<polygon points="374.1,174.8 377.3,174.8 375.7,171" fill="#111"/>
<text x="378.70" y="252.50" font-size="6.8" text-anchor="middle" fill="#1a1311" font-weight="bold" stroke="#1a1311" stroke-width="0.20" transform="rotate(-90 378.70 252.50)">SSC-A</text>
<text x="395.00" y="290.00" font-size="7.0" text-anchor="start" fill="#1a1311" font-weight="bold" stroke="#1a1311" stroke-width="0.21">PD-1-BV421</text>
<line x1="438.50" y1="287.50" x2="499.00" y2="287.50" stroke="#111" stroke-width="0.6"/>
<polygon points="498,285.9 498,289.1 502.6,287.5" fill="#111"/>
<rect x="565.20" y="226.54" width="14.80" height="54.46" fill="#7f7f7f"/>
<rect x="586.70" y="257.59" width="14.80" height="23.41" fill="#33508d"/>
<rect x="608.30" y="250.06" width="14.80" height="30.94" fill="#a3cde1"/>
<rect x="630.00" y="264.55" width="14.80" height="16.45" fill="#f3d9bb"/>
<line x1="572.60" y1="214.00" x2="572.60" y2="238.00" stroke="#1a1311" stroke-width="0.7"/>
<line x1="569.40" y1="214.00" x2="575.80" y2="214.00" stroke="#1a1311" stroke-width="0.7"/>
<line x1="569.40" y1="238.00" x2="575.80" y2="238.00" stroke="#1a1311" stroke-width="0.7"/>
<line x1="594.10" y1="255.60" x2="594.10" y2="259.90" stroke="#1a1311" stroke-width="0.7"/>
<line x1="590.90" y1="255.60" x2="597.30" y2="255.60" stroke="#1a1311" stroke-width="0.7"/>
<line x1="590.90" y1="259.90" x2="597.30" y2="259.90" stroke="#1a1311" stroke-width="0.7"/>
<line x1="615.70" y1="248.00" x2="615.70" y2="251.80" stroke="#1a1311" stroke-width="0.7"/>
<line x1="612.50" y1="248.00" x2="618.90" y2="248.00" stroke="#1a1311" stroke-width="0.7"/>
<line x1="612.50" y1="251.80" x2="618.90" y2="251.80" stroke="#1a1311" stroke-width="0.7"/>
<line x1="637.40" y1="263.00" x2="637.40" y2="266.00" stroke="#1a1311" stroke-width="0.7"/>
<line x1="634.20" y1="263.00" x2="640.60" y2="263.00" stroke="#1a1311" stroke-width="0.7"/>
<line x1="634.20" y1="266.00" x2="640.60" y2="266.00" stroke="#1a1311" stroke-width="0.7"/>
<line x1="558.50" y1="187.90" x2="558.50" y2="281.00" stroke="#000" stroke-width="1.0"/>
<line x1="558.00" y1="280.50" x2="651.70" y2="280.50" stroke="#000" stroke-width="1.0"/>
<line x1="554.40" y1="281.00" x2="559.00" y2="281.00" stroke="#000" stroke-width="0.9"/>
<text x="552.70" y="283.27" font-size="6.3" text-anchor="end" fill="#1a1311" font-weight="bold" stroke="#1a1311" stroke-width="0.19">0</text>
<line x1="554.40" y1="257.82" x2="559.00" y2="257.82" stroke="#000" stroke-width="0.9"/>
<text x="552.70" y="260.09" font-size="6.3" text-anchor="end" fill="#1a1311" font-weight="bold" stroke="#1a1311" stroke-width="0.19">20</text>
<line x1="554.40" y1="234.65" x2="559.00" y2="234.65" stroke="#000" stroke-width="0.9"/>
<text x="552.70" y="236.92" font-size="6.3" text-anchor="end" fill="#1a1311" font-weight="bold" stroke="#1a1311" stroke-width="0.19">40</text>
<line x1="554.40" y1="211.48" x2="559.00" y2="211.48" stroke="#000" stroke-width="0.9"/>
<text x="552.70" y="213.74" font-size="6.3" text-anchor="end" fill="#1a1311" font-weight="bold" stroke="#1a1311" stroke-width="0.19">60</text>
<line x1="554.40" y1="188.30" x2="559.00" y2="188.30" stroke="#000" stroke-width="0.9"/>
<text x="552.70" y="190.57" font-size="6.3" text-anchor="end" fill="#1a1311" font-weight="bold" stroke="#1a1311" stroke-width="0.19">80</text>
<line x1="572.60" y1="281.00" x2="572.60" y2="285.00" stroke="#000" stroke-width="0.9"/>
<line x1="594.10" y1="281.00" x2="594.10" y2="285.00" stroke="#000" stroke-width="0.9"/>
<line x1="615.70" y1="281.00" x2="615.70" y2="285.00" stroke="#000" stroke-width="0.9"/>
<line x1="637.40" y1="281.00" x2="637.40" y2="285.00" stroke="#000" stroke-width="0.9"/>
<circle cx="572.55" cy="212.89" r="1.75" fill="#000"/>
<circle cx="569.53" cy="233.49" r="1.75" fill="#000"/>
<circle cx="575.31" cy="232.49" r="1.75" fill="#000"/>
<polygon points="589.38,257.72 593.40,257.72 591.39,254.29" fill="#000"/>
<polygon points="591.89,261.23 595.92,261.23 593.90,257.81" fill="#000"/>
<polygon points="595.16,259.22 599.18,259.22 597.17,255.80" fill="#000"/>
<polygon points="610.56,249.82 612.75,247.64 614.94,249.82 612.75,252.01" fill="#000"/>
<polygon points="611.82,252.09 614.01,249.90 616.19,252.09 614.01,254.27" fill="#000"/>
<polygon points="615.84,250.58 618.03,248.39 620.21,250.58 618.03,252.77" fill="#000"/>
<rect x="629.93" y="263.24" width="3.32" height="3.32" fill="#000"/>
<rect x="635.71" y="261.48" width="3.32" height="3.32" fill="#000"/>
<rect x="641.24" y="263.24" width="3.32" height="3.32" fill="#000"/>
<line x1="572.50" y1="191.50" x2="615.30" y2="191.50" stroke="#1a1311" stroke-width="0.8"/>
<text x="593.90" y="191.60" font-size="6.4" text-anchor="middle" fill="#1a1311" font-weight="normal">*</text>
<line x1="572.50" y1="202.00" x2="594.00" y2="202.00" stroke="#1a1311" stroke-width="0.8"/>
<text x="583.25" y="202.10" font-size="6.4" text-anchor="middle" fill="#1a1311" font-weight="normal">*</text>
<line x1="594.20" y1="227.50" x2="615.30" y2="227.50" stroke="#1a1311" stroke-width="0.8"/>
<text x="604.75" y="227.60" font-size="6.4" text-anchor="middle" fill="#1a1311" font-weight="normal">*</text>
<line x1="616.00" y1="236.80" x2="636.60" y2="236.80" stroke="#1a1311" stroke-width="0.8"/>
<text x="626.30" y="236.90" font-size="6.4" text-anchor="middle" fill="#1a1311" font-weight="normal">**</text>
<text x="540.20" y="231.50" font-size="7.6" text-anchor="middle" fill="#1a1311" font-weight="bold" stroke="#1a1311" stroke-width="0.23" transform="rotate(-90 540.20 231.50)" textLength="93.0" lengthAdjust="spacingAndGlyphs">CD3<tspan font-size="0.62em" dy="-0.677em">+</tspan><tspan dy="0.420em">&#8203;</tspan>CD8<tspan font-size="0.62em" dy="-0.677em">+</tspan><tspan dy="0.420em">&#8203;</tspan>PD-1<tspan font-size="0.62em" dy="-0.677em">+</tspan><tspan dy="0.420em">&#8203;</tspan> T Cell(%)</text>
<circle cx="629.00" cy="155.90" r="1.7" fill="#808080"/>
<text x="659.70" y="153.65" font-size="5.65" text-anchor="middle" fill="#1a1311" font-weight="bold" stroke="#1a1311" stroke-width="0.17">CL+IgG+</text>
<text x="659.70" y="160.60" font-size="5.65" text-anchor="middle" fill="#1a1311" font-weight="bold" stroke="#1a1311" stroke-width="0.17">Scr BMDMs</text>
<circle cx="629.00" cy="173.90" r="1.7" fill="#2e4a8a"/>
<text x="659.70" y="171.65" font-size="5.65" text-anchor="middle" fill="#1a1311" font-weight="bold" stroke="#1a1311" stroke-width="0.17">CL+Anti-PD-L1</text>
<text x="659.70" y="178.60" font-size="5.65" text-anchor="middle" fill="#1a1311" font-weight="bold" stroke="#1a1311" stroke-width="0.17">+Scr BMDMs</text>
<circle cx="629.00" cy="191.90" r="1.7" fill="#8fc6de"/>
<text x="659.70" y="189.65" font-size="5.65" text-anchor="middle" fill="#1a1311" font-weight="bold" stroke="#1a1311" stroke-width="0.17">CL+IgG+</text>
<text x="659.70" y="196.60" font-size="5.65" text-anchor="middle" fill="#1a1311" font-weight="bold" stroke="#1a1311" stroke-width="0.17">siTREM2 BMDMs</text>
<circle cx="629.00" cy="209.90" r="1.7" fill="#f6d7b3"/>
<text x="659.70" y="207.65" font-size="5.65" text-anchor="middle" fill="#1a1311" font-weight="bold" stroke="#1a1311" stroke-width="0.17">CL+Anti-PD-L1</text>
<text x="659.70" y="214.60" font-size="5.65" text-anchor="middle" fill="#1a1311" font-weight="bold" stroke="#1a1311" stroke-width="0.17">+siTREM2 BMDMs</text>
<defs><pattern id="tex" width="1.7" height="1.5" patternUnits="userSpaceOnUse"><rect width="1.7" height="1.5" fill="#4b87c1"/><circle cx="0.45" cy="0.4" r="0.38" fill="#3068a2"/><circle cx="1.3" cy="1.15" r="0.38" fill="#3068a2"/></pattern><linearGradient id="phg" x1="0" y1="0" x2="0" y2="1"><stop offset="0" stop-color="#1d4f86" stop-opacity="0.14"/><stop offset="0.35" stop-color="#1d4f86" stop-opacity="0.05"/><stop offset="1" stop-color="#1d4f86" stop-opacity="0.06"/></linearGradient><filter id="b3" x="-20%" y="-20%" width="140%" height="140%"><feGaussianBlur stdDeviation="0.5"/></filter><filter id="b8" x="-30%" y="-30%" width="160%" height="160%"><feGaussianBlur stdDeviation="0.9"/></filter><clipPath id="phc"><rect x="89.3" y="123.8" width="262.5" height="162.8"/></clipPath></defs>
<rect x="89.30" y="123.80" width="262.50" height="162.80" fill="url(#tex)"/>
<rect x="89.30" y="123.80" width="262.50" height="162.80" fill="url(#phg)"/>
<g clip-path="url(#phc)">
<ellipse cx="101.8" cy="136.9" rx="9.0" ry="9.8" fill="#173e6e" opacity="0.5" filter="url(#b8)"/>
<clipPath id="tc00"><path d="M109.6,134.2 Q110.2,137.3 109.5,140.3 Q108.7,143.3 106.4,145.6 Q104.1,148.0 101.3,146.5 Q98.5,145.0 96.7,142.7 Q94.9,140.4 94.7,137.2 Q94.6,134.1 96.8,132.4 Q99.0,130.7 101.4,129.5 Q103.8,128.4 106.4,129.8 Q108.9,131.2 109.6,134.2Z"/></clipPath>
<path d="M109.6,134.2 Q110.2,137.3 109.5,140.3 Q108.7,143.3 106.4,145.6 Q104.1,148.0 101.3,146.5 Q98.5,145.0 96.7,142.7 Q94.9,140.4 94.7,137.2 Q94.6,134.1 96.8,132.4 Q99.0,130.7 101.4,129.5 Q103.8,128.4 106.4,129.8 Q108.9,131.2 109.6,134.2Z" fill="#e4c0b8" filter="url(#b3)"/>
<g clip-path="url(#tc00)" filter="url(#b3)">
<ellipse cx="103.1" cy="134.6" rx="1.4" ry="0.9" fill="#c0586a" opacity="0.67"/>
<ellipse cx="101.6" cy="134.9" rx="1.9" ry="2.1" fill="#c0586a" opacity="0.61"/>
<ellipse cx="100.2" cy="135.1" rx="1.2" ry="1.0" fill="#c0586a" opacity="0.37"/>
<ellipse cx="103.6" cy="140.8" rx="1.2" ry="1.0" fill="#c0586a" opacity="0.53"/>
<ellipse cx="105.1" cy="132.7" rx="1.6" ry="1.4" fill="#c0586a" opacity="0.61"/>
<ellipse cx="99.0" cy="138.4" rx="1.9" ry="2.1" fill="#c0586a" opacity="0.69"/>
<ellipse cx="101.4" cy="133.2" rx="1.3" ry="1.0" fill="#c0586a" opacity="0.38"/>
<ellipse cx="100.8" cy="135.1" rx="3.2" ry="3.1" fill="#f1dcd4" opacity="0.55"/>
<ellipse cx="106.4" cy="143.2" rx="5.6" ry="4.0" fill="#7a3040" opacity="0.22"/>
</g>
<ellipse cx="148.0" cy="136.9" rx="9.7" ry="10.3" fill="#173e6e" opacity="0.5" filter="url(#b8)"/>
<clipPath id="tc01"><path d="M157.5,133.6 Q158.4,137.3 156.7,140.2 Q154.9,143.1 152.7,145.7 Q150.4,148.2 147.4,146.6 Q144.5,145.1 141.6,143.2 Q138.6,141.3 138.8,137.4 Q139.1,133.5 142.2,132.3 Q145.3,131.0 147.6,130.1 Q149.9,129.2 153.2,129.6 Q156.6,130.0 157.5,133.6Z"/></clipPath>
<path d="M157.5,133.6 Q158.4,137.3 156.7,140.2 Q154.9,143.1 152.7,145.7 Q150.4,148.2 147.4,146.6 Q144.5,145.1 141.6,143.2 Q138.6,141.3 138.8,137.4 Q139.1,133.5 142.2,132.3 Q145.3,131.0 147.6,130.1 Q149.9,129.2 153.2,129.6 Q156.6,130.0 157.5,133.6Z" fill="#e4c0b8" filter="url(#b3)"/>
<g clip-path="url(#tc01)" filter="url(#b3)">
<ellipse cx="140.6" cy="139.0" rx="1.6" ry="1.0" fill="#c0586a" opacity="0.60"/>
<ellipse cx="149.3" cy="133.2" rx="1.3" ry="1.0" fill="#c0586a" opacity="0.74"/>
<ellipse cx="148.7" cy="134.1" rx="1.5" ry="0.9" fill="#c0586a" opacity="0.37"/>
<ellipse cx="149.5" cy="133.9" rx="1.7" ry="1.4" fill="#c0586a" opacity="0.43"/>
<ellipse cx="148.3" cy="134.1" rx="1.8" ry="1.2" fill="#c0586a" opacity="0.52"/>
<ellipse cx="149.5" cy="141.4" rx="2.1" ry="2.1" fill="#c0586a" opacity="0.47"/>
<ellipse cx="151.2" cy="134.8" rx="1.6" ry="1.6" fill="#c0586a" opacity="0.61"/>
<ellipse cx="146.9" cy="134.9" rx="3.5" ry="3.3" fill="#f1dcd4" opacity="0.55"/>
<ellipse cx="152.9" cy="143.5" rx="6.1" ry="4.3" fill="#7a3040" opacity="0.22"/>
</g>
<ellipse cx="197.3" cy="136.9" rx="9.3" ry="10.3" fill="#173e6e" opacity="0.5" filter="url(#b8)"/>
<clipPath id="tc02"><path d="M203.8,134.8 Q204.6,137.3 205.2,141.1 Q205.8,144.8 202.4,145.1 Q199.1,145.4 196.7,145.0 Q194.2,144.6 191.7,142.8 Q189.1,141.0 189.9,137.6 Q190.7,134.3 192.4,132.1 Q194.2,129.9 196.6,129.9 Q199.0,129.9 201.0,131.1 Q203.0,132.4 203.8,134.8Z"/></clipPath>
<path d="M203.8,134.8 Q204.6,137.3 205.2,141.1 Q205.8,144.8 202.4,145.1 Q199.1,145.4 196.7,145.0 Q194.2,144.6 191.7,142.8 Q189.1,141.0 189.9,137.6 Q190.7,134.3 192.4,132.1 Q194.2,129.9 196.6,129.9 Q199.0,129.9 201.0,131.1 Q203.0,132.4 203.8,134.8Z" fill="#e4c0b8" filter="url(#b3)"/>
<g clip-path="url(#tc02)" filter="url(#b3)">
<ellipse cx="194.9" cy="135.3" rx="1.7" ry="1.3" fill="#c0586a" opacity="0.53"/>
<ellipse cx="202.6" cy="135.9" rx="1.7" ry="1.7" fill="#c0586a" opacity="0.42"/>
<ellipse cx="202.1" cy="144.2" rx="1.8" ry="1.3" fill="#c0586a" opacity="0.43"/>
<ellipse cx="197.4" cy="128.7" rx="1.4" ry="1.5" fill="#c0586a" opacity="0.70"/>
<ellipse cx="194.3" cy="134.2" rx="1.3" ry="0.8" fill="#c0586a" opacity="0.74"/>
<ellipse cx="198.3" cy="144.3" rx="1.4" ry="1.4" fill="#c0586a" opacity="0.59"/>
<ellipse cx="197.1" cy="140.7" rx="1.8" ry="1.1" fill="#c0586a" opacity="0.44"/>
<ellipse cx="196.2" cy="134.9" rx="3.3" ry="3.3" fill="#f1dcd4" opacity="0.55"/>
<ellipse cx="202.1" cy="143.5" rx="5.8" ry="4.3" fill="#7a3040" opacity="0.22"/>
</g>
<ellipse cx="243.3" cy="136.9" rx="9.3" ry="10.3" fill="#173e6e" opacity="0.5" filter="url(#b8)"/>
<clipPath id="tc03"><path d="M251.3,134.3 Q252.4,137.3 251.9,140.9 Q251.3,144.4 248.4,145.8 Q245.4,147.2 242.8,145.9 Q240.2,144.7 237.4,142.9 Q234.5,141.2 235.9,137.9 Q237.2,134.5 239.0,132.7 Q240.7,131.0 242.9,130.0 Q245.2,129.0 247.6,130.2 Q250.1,131.4 251.3,134.3Z"/></clipPath>
<path d="M251.3,134.3 Q252.4,137.3 251.9,140.9 Q251.3,144.4 248.4,145.8 Q245.4,147.2 242.8,145.9 Q240.2,144.7 237.4,142.9 Q234.5,141.2 235.9,137.9 Q237.2,134.5 239.0,132.7 Q240.7,131.0 242.9,130.0 Q245.2,129.0 247.6,130.2 Q250.1,131.4 251.3,134.3Z" fill="#e4c0b8" filter="url(#b3)"/>
<g clip-path="url(#tc03)" filter="url(#b3)">
<ellipse cx="246.8" cy="138.6" rx="1.5" ry="1.3" fill="#c0586a" opacity="0.40"/>
<ellipse cx="239.2" cy="143.6" rx="2.0" ry="1.8" fill="#c0586a" opacity="0.63"/>
<ellipse cx="241.4" cy="135.6" rx="1.2" ry="0.7" fill="#c0586a" opacity="0.71"/>
<ellipse cx="241.6" cy="128.9" rx="1.2" ry="1.1" fill="#c0586a" opacity="0.54"/>
<ellipse cx="243.4" cy="132.8" rx="2.0" ry="1.3" fill="#c0586a" opacity="0.57"/>
<ellipse cx="243.3" cy="129.0" rx="1.8" ry="1.7" fill="#c0586a" opacity="0.67"/>
<ellipse cx="247.4" cy="134.9" rx="1.7" ry="1.8" fill="#c0586a" opacity="0.70"/>
<ellipse cx="242.2" cy="134.9" rx="3.3" ry="3.3" fill="#f1dcd4" opacity="0.55"/>
<ellipse cx="248.1" cy="143.5" rx="5.8" ry="4.3" fill="#7a3040" opacity="0.22"/>
</g>
<ellipse cx="289.9" cy="136.9" rx="10.6" ry="9.6" fill="#173e6e" opacity="0.5" filter="url(#b8)"/>
<clipPath id="tc04"><path d="M298.0,135.0 Q299.7,137.3 299.3,140.5 Q298.9,143.7 295.7,145.6 Q292.5,147.5 289.0,146.3 Q285.5,145.2 283.2,142.8 Q280.9,140.5 281.5,137.5 Q282.0,134.5 283.7,131.9 Q285.5,129.4 288.9,128.8 Q292.3,128.2 294.3,130.5 Q296.4,132.8 298.0,135.0Z"/></clipPath>
<path d="M298.0,135.0 Q299.7,137.3 299.3,140.5 Q298.9,143.7 295.7,145.6 Q292.5,147.5 289.0,146.3 Q285.5,145.2 283.2,142.8 Q280.9,140.5 281.5,137.5 Q282.0,134.5 283.7,131.9 Q285.5,129.4 288.9,128.8 Q292.3,128.2 294.3,130.5 Q296.4,132.8 298.0,135.0Z" fill="#e4c0b8" filter="url(#b3)"/>
<g clip-path="url(#tc04)" filter="url(#b3)">
<ellipse cx="284.7" cy="130.9" rx="2.0" ry="1.9" fill="#c0586a" opacity="0.51"/>
<ellipse cx="289.9" cy="131.5" rx="1.6" ry="1.7" fill="#c0586a" opacity="0.38"/>
<ellipse cx="290.5" cy="134.9" rx="1.8" ry="1.5" fill="#c0586a" opacity="0.44"/>
<ellipse cx="288.7" cy="132.3" rx="1.8" ry="1.9" fill="#c0586a" opacity="0.45"/>
<ellipse cx="294.9" cy="137.6" rx="1.8" ry="1.3" fill="#c0586a" opacity="0.42"/>
<ellipse cx="296.2" cy="133.8" rx="1.6" ry="1.7" fill="#c0586a" opacity="0.48"/>
<ellipse cx="288.6" cy="134.3" rx="1.6" ry="1.6" fill="#c0586a" opacity="0.72"/>
<ellipse cx="288.6" cy="135.1" rx="3.8" ry="3.1" fill="#f1dcd4" opacity="0.55"/>
<ellipse cx="295.3" cy="143.0" rx="6.7" ry="4.0" fill="#7a3040" opacity="0.22"/>
</g>
<ellipse cx="337.9" cy="136.9" rx="9.6" ry="9.4" fill="#173e6e" opacity="0.5" filter="url(#b8)"/>
<clipPath id="tc05"><path d="M347.2,134.3 Q348.7,137.3 346.7,139.9 Q344.7,142.5 342.4,144.3 Q340.1,146.1 337.3,145.1 Q334.6,144.1 333.2,141.9 Q331.8,139.7 331.1,137.0 Q330.4,134.4 332.0,131.5 Q333.5,128.6 336.9,128.0 Q340.2,127.4 343.0,129.3 Q345.8,131.2 347.2,134.3Z"/></clipPath>
<path d="M347.2,134.3 Q348.7,137.3 346.7,139.9 Q344.7,142.5 342.4,144.3 Q340.1,146.1 337.3,145.1 Q334.6,144.1 333.2,141.9 Q331.8,139.7 331.1,137.0 Q330.4,134.4 332.0,131.5 Q333.5,128.6 336.9,128.0 Q340.2,127.4 343.0,129.3 Q345.8,131.2 347.2,134.3Z" fill="#ad6670" filter="url(#b3)"/>
<g clip-path="url(#tc05)" filter="url(#b3)">
<ellipse cx="342.1" cy="136.1" rx="2.2" ry="1.8" fill="#7c2f42" opacity="0.46"/>
<ellipse cx="339.5" cy="141.8" rx="2.8" ry="2.4" fill="#7c2f42" opacity="0.48"/>
<ellipse cx="342.8" cy="130.5" rx="2.6" ry="1.6" fill="#7c2f42" opacity="0.36"/>
<ellipse cx="340.2" cy="135.6" rx="2.9" ry="2.6" fill="#7c2f42" opacity="0.47"/>
<ellipse cx="339.1" cy="135.1" rx="2.1" ry="1.8" fill="#7c2f42" opacity="0.36"/>
<ellipse cx="340.2" cy="134.2" rx="2.1" ry="1.3" fill="#7c2f42" opacity="0.60"/>
<ellipse cx="332.9" cy="139.3" rx="2.8" ry="2.8" fill="#7c2f42" opacity="0.73"/>
<ellipse cx="337.2" cy="134.2" rx="2.6" ry="1.8" fill="#7c2f42" opacity="0.35"/>
<ellipse cx="332.1" cy="138.4" rx="2.2" ry="1.6" fill="#7c2f42" opacity="0.49"/>
<ellipse cx="336.8" cy="135.2" rx="3.4" ry="3.0" fill="#f1dcd4" opacity="0.55"/>
<ellipse cx="342.8" cy="142.9" rx="6.0" ry="3.9" fill="#7a3040" opacity="0.22"/>
</g>
<ellipse cx="102.6" cy="184.5" rx="6.6" ry="8.2" fill="#173e6e" opacity="0.5" filter="url(#b8)"/>
<clipPath id="tc10"><path d="M108.9,182.0 Q109.3,184.9 108.4,187.3 Q107.5,189.7 105.9,191.1 Q104.2,192.6 102.1,192.3 Q100.1,192.1 99.1,189.7 Q98.2,187.3 97.7,184.7 Q97.2,182.0 98.5,179.6 Q99.9,177.2 101.9,178.1 Q104.0,179.1 106.2,179.1 Q108.4,179.2 108.9,182.0Z"/></clipPath>
<path d="M108.9,182.0 Q109.3,184.9 108.4,187.3 Q107.5,189.7 105.9,191.1 Q104.2,192.6 102.1,192.3 Q100.1,192.1 99.1,189.7 Q98.2,187.3 97.7,184.7 Q97.2,182.0 98.5,179.6 Q99.9,177.2 101.9,178.1 Q104.0,179.1 106.2,179.1 Q108.4,179.2 108.9,182.0Z" fill="#ad6670" filter="url(#b3)"/>
<g clip-path="url(#tc10)" filter="url(#b3)">
<ellipse cx="102.9" cy="182.4" rx="1.7" ry="1.5" fill="#7c2f42" opacity="0.71"/>
<ellipse cx="100.6" cy="188.3" rx="2.0" ry="2.0" fill="#7c2f42" opacity="0.73"/>
<ellipse cx="99.3" cy="186.1" rx="1.5" ry="1.4" fill="#7c2f42" opacity="0.68"/>
<ellipse cx="100.5" cy="180.6" rx="1.5" ry="1.5" fill="#7c2f42" opacity="0.74"/>
<ellipse cx="106.7" cy="184.2" rx="1.9" ry="1.5" fill="#7c2f42" opacity="0.71"/>
<ellipse cx="104.9" cy="182.0" rx="1.3" ry="1.1" fill="#7c2f42" opacity="0.57"/>
<ellipse cx="103.6" cy="180.6" rx="1.3" ry="1.3" fill="#7c2f42" opacity="0.38"/>
<ellipse cx="103.8" cy="182.3" rx="1.6" ry="1.6" fill="#7c2f42" opacity="0.41"/>
<ellipse cx="105.2" cy="188.5" rx="1.9" ry="1.9" fill="#7c2f42" opacity="0.63"/>
<ellipse cx="102.1" cy="183.1" rx="2.2" ry="2.6" fill="#f1dcd4" opacity="0.55"/>
<ellipse cx="106.0" cy="189.7" rx="3.9" ry="3.3" fill="#7a3040" opacity="0.22"/>
</g>
<ellipse cx="149.3" cy="184.5" rx="7.4" ry="6.7" fill="#173e6e" opacity="0.5" filter="url(#b8)"/>
<clipPath id="tc11"><path d="M156.4,182.9 Q157.7,184.9 156.2,186.8 Q154.8,188.7 153.0,190.3 Q151.3,192.0 149.3,190.5 Q147.3,189.0 146.0,187.8 Q144.7,186.6 144.2,184.8 Q143.8,182.9 145.4,181.6 Q147.0,180.3 149.1,179.4 Q151.1,178.5 153.1,179.7 Q155.1,180.9 156.4,182.9Z"/></clipPath>
<path d="M156.4,182.9 Q157.7,184.9 156.2,186.8 Q154.8,188.7 153.0,190.3 Q151.3,192.0 149.3,190.5 Q147.3,189.0 146.0,187.8 Q144.7,186.6 144.2,184.8 Q143.8,182.9 145.4,181.6 Q147.0,180.3 149.1,179.4 Q151.1,178.5 153.1,179.7 Q155.1,180.9 156.4,182.9Z" fill="#ad6670" filter="url(#b3)"/>
<g clip-path="url(#tc11)" filter="url(#b3)">
<ellipse cx="144.6" cy="184.2" rx="1.8" ry="1.4" fill="#7c2f42" opacity="0.50"/>
<ellipse cx="153.1" cy="180.6" rx="1.5" ry="1.6" fill="#7c2f42" opacity="0.74"/>
<ellipse cx="145.8" cy="184.3" rx="1.5" ry="1.3" fill="#7c2f42" opacity="0.55"/>
<ellipse cx="148.5" cy="183.9" rx="2.2" ry="1.9" fill="#7c2f42" opacity="0.51"/>
<ellipse cx="151.2" cy="181.3" rx="1.8" ry="1.7" fill="#7c2f42" opacity="0.38"/>
<ellipse cx="146.5" cy="184.1" rx="2.2" ry="2.3" fill="#7c2f42" opacity="0.46"/>
<ellipse cx="147.8" cy="185.2" rx="1.7" ry="1.7" fill="#7c2f42" opacity="0.71"/>
<ellipse cx="146.9" cy="185.3" rx="1.5" ry="1.4" fill="#7c2f42" opacity="0.72"/>
<ellipse cx="153.4" cy="188.3" rx="1.4" ry="1.0" fill="#7c2f42" opacity="0.44"/>
<ellipse cx="148.6" cy="183.4" rx="2.6" ry="2.1" fill="#f1dcd4" opacity="0.55"/>
<ellipse cx="153.1" cy="188.7" rx="4.5" ry="2.7" fill="#7a3040" opacity="0.22"/>
</g>
<ellipse cx="194.7" cy="184.5" rx="7.2" ry="7.4" fill="#173e6e" opacity="0.5" filter="url(#b8)"/>
<clipPath id="tc12"><path d="M200.8,183.0 Q202.1,184.9 200.9,186.8 Q199.6,188.8 198.0,189.9 Q196.3,190.9 194.2,190.9 Q192.0,190.9 191.3,188.8 Q190.6,186.7 189.7,184.6 Q188.8,182.4 190.8,181.3 Q192.8,180.2 194.6,179.3 Q196.4,178.4 197.9,179.8 Q199.5,181.2 200.8,183.0Z"/></clipPath>
<path d="M200.8,183.0 Q202.1,184.9 200.9,186.8 Q199.6,188.8 198.0,189.9 Q196.3,190.9 194.2,190.9 Q192.0,190.9 191.3,188.8 Q190.6,186.7 189.7,184.6 Q188.8,182.4 190.8,181.3 Q192.8,180.2 194.6,179.3 Q196.4,178.4 197.9,179.8 Q199.5,181.2 200.8,183.0Z" fill="#ad6670" filter="url(#b3)"/>
<g clip-path="url(#tc12)" filter="url(#b3)">
<ellipse cx="196.5" cy="188.8" rx="1.8" ry="1.4" fill="#7c2f42" opacity="0.52"/>
<ellipse cx="193.1" cy="184.5" rx="1.6" ry="1.5" fill="#7c2f42" opacity="0.61"/>
<ellipse cx="190.1" cy="183.9" rx="2.0" ry="2.0" fill="#7c2f42" opacity="0.44"/>
<ellipse cx="195.0" cy="179.5" rx="2.3" ry="1.7" fill="#7c2f42" opacity="0.48"/>
<ellipse cx="197.5" cy="183.7" rx="2.4" ry="2.5" fill="#7c2f42" opacity="0.40"/>
<ellipse cx="195.6" cy="189.9" rx="1.7" ry="1.1" fill="#7c2f42" opacity="0.68"/>
<ellipse cx="190.9" cy="187.4" rx="1.5" ry="1.2" fill="#7c2f42" opacity="0.62"/>
<ellipse cx="197.7" cy="185.2" rx="2.1" ry="2.2" fill="#7c2f42" opacity="0.74"/>
<ellipse cx="198.1" cy="187.5" rx="2.1" ry="1.8" fill="#7c2f42" opacity="0.62"/>
<ellipse cx="194.1" cy="183.2" rx="2.5" ry="2.3" fill="#f1dcd4" opacity="0.55"/>
<ellipse cx="198.4" cy="189.2" rx="4.3" ry="3.0" fill="#7a3040" opacity="0.22"/>
</g>
<ellipse cx="240.6" cy="184.5" rx="6.0" ry="6.4" fill="#173e6e" opacity="0.5" filter="url(#b8)"/>
<clipPath id="tc13"><path d="M245.0,183.4 Q245.5,184.9 244.8,186.3 Q244.2,187.8 243.1,188.6 Q241.9,189.4 240.6,189.0 Q239.3,188.7 237.8,187.8 Q236.4,186.9 236.4,184.9 Q236.5,183.0 237.5,181.4 Q238.6,179.9 240.3,180.1 Q241.9,180.3 243.2,181.1 Q244.5,181.8 245.0,183.4Z"/></clipPath>
<path d="M245.0,183.4 Q245.5,184.9 244.8,186.3 Q244.2,187.8 243.1,188.6 Q241.9,189.4 240.6,189.0 Q239.3,188.7 237.8,187.8 Q236.4,186.9 236.4,184.9 Q236.5,183.0 237.5,181.4 Q238.6,179.9 240.3,180.1 Q241.9,180.3 243.2,181.1 Q244.5,181.8 245.0,183.4Z" fill="#d09c9e" filter="url(#b3)"/>
<g clip-path="url(#tc13)" filter="url(#b3)">
<ellipse cx="242.4" cy="189.4" rx="1.6" ry="1.7" fill="#a03e54" opacity="0.39"/>
<ellipse cx="245.4" cy="186.8" rx="1.3" ry="1.2" fill="#a03e54" opacity="0.48"/>
<ellipse cx="238.2" cy="185.6" rx="1.2" ry="1.1" fill="#a03e54" opacity="0.36"/>
<ellipse cx="239.9" cy="180.4" rx="1.1" ry="0.9" fill="#a03e54" opacity="0.65"/>
<ellipse cx="239.6" cy="186.1" rx="1.1" ry="0.9" fill="#a03e54" opacity="0.36"/>
<ellipse cx="244.4" cy="182.1" rx="1.4" ry="1.5" fill="#a03e54" opacity="0.60"/>
<ellipse cx="238.4" cy="187.0" rx="1.3" ry="1.4" fill="#a03e54" opacity="0.67"/>
<ellipse cx="241.0" cy="189.9" rx="1.4" ry="1.4" fill="#a03e54" opacity="0.68"/>
<ellipse cx="240.2" cy="183.5" rx="2.0" ry="2.0" fill="#f1dcd4" opacity="0.55"/>
<ellipse cx="243.7" cy="188.5" rx="3.5" ry="2.5" fill="#7a3040" opacity="0.22"/>
</g>
<ellipse cx="288.0" cy="184.5" rx="6.6" ry="6.8" fill="#173e6e" opacity="0.5" filter="url(#b8)"/>
<clipPath id="tc14"><path d="M293.0,183.4 Q293.9,184.9 293.8,187.2 Q293.7,189.5 291.7,190.7 Q289.7,191.9 287.6,191.2 Q285.5,190.6 284.1,188.9 Q282.7,187.2 282.7,184.9 Q282.7,182.6 284.3,181.3 Q285.9,179.9 287.8,179.1 Q289.7,178.4 290.8,180.1 Q292.0,181.8 293.0,183.4Z"/></clipPath>
<path d="M293.0,183.4 Q293.9,184.9 293.8,187.2 Q293.7,189.5 291.7,190.7 Q289.7,191.9 287.6,191.2 Q285.5,190.6 284.1,188.9 Q282.7,187.2 282.7,184.9 Q282.7,182.6 284.3,181.3 Q285.9,179.9 287.8,179.1 Q289.7,178.4 290.8,180.1 Q292.0,181.8 293.0,183.4Z" fill="#e4c0b8" filter="url(#b3)"/>
<g clip-path="url(#tc14)" filter="url(#b3)">
<ellipse cx="286.8" cy="187.8" rx="0.8" ry="0.6" fill="#c0586a" opacity="0.61"/>
<ellipse cx="287.0" cy="183.2" rx="1.3" ry="1.2" fill="#c0586a" opacity="0.49"/>
<ellipse cx="286.6" cy="181.6" rx="1.1" ry="0.9" fill="#c0586a" opacity="0.75"/>
<ellipse cx="286.0" cy="181.4" rx="1.2" ry="1.3" fill="#c0586a" opacity="0.36"/>
<ellipse cx="285.4" cy="181.8" rx="0.9" ry="0.8" fill="#c0586a" opacity="0.37"/>
<ellipse cx="289.6" cy="187.8" rx="0.9" ry="0.6" fill="#c0586a" opacity="0.71"/>
<ellipse cx="285.4" cy="183.8" rx="1.3" ry="1.2" fill="#c0586a" opacity="0.75"/>
<ellipse cx="287.5" cy="183.4" rx="2.2" ry="2.1" fill="#f1dcd4" opacity="0.55"/>
<ellipse cx="291.4" cy="188.8" rx="3.9" ry="2.7" fill="#7a3040" opacity="0.22"/>
</g>
<ellipse cx="335.2" cy="184.5" rx="6.0" ry="6.6" fill="#173e6e" opacity="0.5" filter="url(#b8)"/>
<clipPath id="tc15"><path d="M340.4,183.1 Q341.1,184.9 340.7,187.0 Q340.2,189.2 338.3,189.3 Q336.5,189.4 334.8,189.8 Q333.2,190.2 331.8,188.6 Q330.5,187.1 331.3,185.2 Q332.1,183.3 332.5,181.1 Q332.8,178.8 334.7,179.5 Q336.5,180.1 338.1,180.7 Q339.6,181.2 340.4,183.1Z"/></clipPath>
<path d="M340.4,183.1 Q341.1,184.9 340.7,187.0 Q340.2,189.2 338.3,189.3 Q336.5,189.4 334.8,189.8 Q333.2,190.2 331.8,188.6 Q330.5,187.1 331.3,185.2 Q332.1,183.3 332.5,181.1 Q332.8,178.8 334.7,179.5 Q336.5,180.1 338.1,180.7 Q339.6,181.2 340.4,183.1Z" fill="#ad6670" filter="url(#b3)"/>
<g clip-path="url(#tc15)" filter="url(#b3)">
<ellipse cx="337.3" cy="187.9" rx="1.6" ry="1.0" fill="#7c2f42" opacity="0.73"/>
<ellipse cx="333.1" cy="186.6" rx="1.6" ry="1.2" fill="#7c2f42" opacity="0.46"/>
<ellipse cx="334.0" cy="181.8" rx="1.4" ry="1.3" fill="#7c2f42" opacity="0.47"/>
<ellipse cx="337.9" cy="185.1" rx="1.2" ry="0.8" fill="#7c2f42" opacity="0.65"/>
<ellipse cx="332.4" cy="188.1" rx="1.7" ry="1.1" fill="#7c2f42" opacity="0.75"/>
<ellipse cx="337.2" cy="184.3" rx="1.8" ry="1.5" fill="#7c2f42" opacity="0.54"/>
<ellipse cx="337.9" cy="184.5" rx="1.5" ry="1.6" fill="#7c2f42" opacity="0.64"/>
<ellipse cx="331.2" cy="186.0" rx="1.8" ry="1.6" fill="#7c2f42" opacity="0.40"/>
<ellipse cx="333.8" cy="182.6" rx="1.3" ry="0.8" fill="#7c2f42" opacity="0.56"/>
<ellipse cx="334.8" cy="183.5" rx="2.0" ry="2.0" fill="#f1dcd4" opacity="0.55"/>
<ellipse cx="338.3" cy="188.7" rx="3.5" ry="2.6" fill="#7a3040" opacity="0.22"/>
</g>
<ellipse cx="101.7" cy="229.0" rx="7.3" ry="7.6" fill="#173e6e" opacity="0.5" filter="url(#b8)"/>
<clipPath id="tc20"><path d="M107.3,227.2 Q107.5,229.4 107.2,231.5 Q107.0,233.7 105.2,235.1 Q103.5,236.6 101.3,235.9 Q99.2,235.2 98.1,233.3 Q97.1,231.5 96.6,229.2 Q96.1,227.0 97.7,225.4 Q99.3,223.7 101.4,222.8 Q103.5,221.8 105.4,223.4 Q107.2,225.0 107.3,227.2Z"/></clipPath>
<path d="M107.3,227.2 Q107.5,229.4 107.2,231.5 Q107.0,233.7 105.2,235.1 Q103.5,236.6 101.3,235.9 Q99.2,235.2 98.1,233.3 Q97.1,231.5 96.6,229.2 Q96.1,227.0 97.7,225.4 Q99.3,223.7 101.4,222.8 Q103.5,221.8 105.4,223.4 Q107.2,225.0 107.3,227.2Z" fill="#d09c9e" filter="url(#b3)"/>
<g clip-path="url(#tc20)" filter="url(#b3)">
<ellipse cx="108.1" cy="229.3" rx="1.8" ry="1.3" fill="#a03e54" opacity="0.40"/>
<ellipse cx="106.2" cy="226.0" rx="1.7" ry="1.3" fill="#a03e54" opacity="0.46"/>
<ellipse cx="100.7" cy="225.4" rx="1.7" ry="1.5" fill="#a03e54" opacity="0.65"/>
<ellipse cx="103.3" cy="232.1" rx="2.0" ry="2.1" fill="#a03e54" opacity="0.70"/>
<ellipse cx="104.1" cy="229.9" rx="1.4" ry="1.2" fill="#a03e54" opacity="0.60"/>
<ellipse cx="105.5" cy="232.0" rx="1.3" ry="0.8" fill="#a03e54" opacity="0.62"/>
<ellipse cx="98.2" cy="227.9" rx="1.5" ry="1.3" fill="#a03e54" opacity="0.43"/>
<ellipse cx="99.6" cy="233.8" rx="1.9" ry="1.2" fill="#a03e54" opacity="0.40"/>
<ellipse cx="101.0" cy="227.7" rx="2.5" ry="2.4" fill="#f1dcd4" opacity="0.55"/>
<ellipse cx="105.5" cy="233.8" rx="4.4" ry="3.1" fill="#7a3040" opacity="0.22"/>
</g>
<ellipse cx="147.1" cy="229.0" rx="6.7" ry="7.2" fill="#173e6e" opacity="0.5" filter="url(#b8)"/>
<clipPath id="tc21"><path d="M153.3,227.2 Q154.2,229.4 153.3,231.6 Q152.3,233.8 150.6,235.1 Q148.8,236.5 147.0,235.3 Q145.2,234.2 143.9,232.8 Q142.5,231.5 142.8,229.5 Q143.0,227.5 143.7,225.2 Q144.4,223.0 146.5,223.3 Q148.6,223.5 150.5,224.2 Q152.4,225.0 153.3,227.2Z"/></clipPath>
<path d="M153.3,227.2 Q154.2,229.4 153.3,231.6 Q152.3,233.8 150.6,235.1 Q148.8,236.5 147.0,235.3 Q145.2,234.2 143.9,232.8 Q142.5,231.5 142.8,229.5 Q143.0,227.5 143.7,225.2 Q144.4,223.0 146.5,223.3 Q148.6,223.5 150.5,224.2 Q152.4,225.0 153.3,227.2Z" fill="#d09c9e" filter="url(#b3)"/>
<g clip-path="url(#tc21)" filter="url(#b3)">
<ellipse cx="150.4" cy="229.2" rx="1.5" ry="1.5" fill="#a03e54" opacity="0.72"/>
<ellipse cx="145.1" cy="230.8" rx="1.2" ry="1.2" fill="#a03e54" opacity="0.38"/>
<ellipse cx="150.9" cy="231.5" rx="1.4" ry="1.4" fill="#a03e54" opacity="0.47"/>
<ellipse cx="148.0" cy="227.5" rx="1.2" ry="1.2" fill="#a03e54" opacity="0.38"/>
<ellipse cx="146.3" cy="234.0" rx="1.6" ry="1.2" fill="#a03e54" opacity="0.41"/>
<ellipse cx="145.0" cy="233.2" rx="1.4" ry="0.9" fill="#a03e54" opacity="0.63"/>
<ellipse cx="143.1" cy="227.0" rx="1.8" ry="1.9" fill="#a03e54" opacity="0.53"/>
<ellipse cx="148.6" cy="226.6" rx="1.3" ry="1.1" fill="#a03e54" opacity="0.72"/>
<ellipse cx="146.6" cy="227.8" rx="2.3" ry="2.2" fill="#f1dcd4" opacity="0.55"/>
<ellipse cx="150.5" cy="233.6" rx="4.0" ry="2.9" fill="#7a3040" opacity="0.22"/>
</g>
<ellipse cx="193.6" cy="229.0" rx="6.0" ry="7.4" fill="#173e6e" opacity="0.5" filter="url(#b8)"/>
<clipPath id="tc22"><path d="M199.1,227.2 Q200.1,229.4 198.9,231.3 Q197.6,233.1 196.3,234.3 Q195.0,235.5 193.4,235.1 Q191.9,234.7 190.8,233.1 Q189.8,231.5 189.8,229.4 Q189.7,227.3 190.8,225.6 Q191.8,224.0 193.4,223.9 Q194.9,223.9 196.5,224.4 Q198.1,225.0 199.1,227.2Z"/></clipPath>
<path d="M199.1,227.2 Q200.1,229.4 198.9,231.3 Q197.6,233.1 196.3,234.3 Q195.0,235.5 193.4,235.1 Q191.9,234.7 190.8,233.1 Q189.8,231.5 189.8,229.4 Q189.7,227.3 190.8,225.6 Q191.8,224.0 193.4,223.9 Q194.9,223.9 196.5,224.4 Q198.1,225.0 199.1,227.2Z" fill="#e4c0b8" filter="url(#b3)"/>
<g clip-path="url(#tc22)" filter="url(#b3)">
<ellipse cx="195.1" cy="225.4" rx="1.1" ry="1.0" fill="#c0586a" opacity="0.42"/>
<ellipse cx="194.4" cy="223.7" rx="0.9" ry="0.5" fill="#c0586a" opacity="0.56"/>
<ellipse cx="191.1" cy="228.2" rx="1.2" ry="1.1" fill="#c0586a" opacity="0.67"/>
<ellipse cx="197.1" cy="231.0" rx="1.1" ry="0.7" fill="#c0586a" opacity="0.38"/>
<ellipse cx="193.8" cy="223.6" rx="0.8" ry="0.7" fill="#c0586a" opacity="0.41"/>
<ellipse cx="194.1" cy="224.8" rx="0.8" ry="0.6" fill="#c0586a" opacity="0.66"/>
<ellipse cx="190.3" cy="228.7" rx="0.9" ry="0.7" fill="#c0586a" opacity="0.74"/>
<ellipse cx="193.2" cy="227.8" rx="2.0" ry="2.3" fill="#f1dcd4" opacity="0.55"/>
<ellipse cx="196.7" cy="233.7" rx="3.5" ry="3.0" fill="#7a3040" opacity="0.22"/>
</g>
<ellipse cx="240.4" cy="229.0" rx="6.0" ry="7.2" fill="#173e6e" opacity="0.5" filter="url(#b8)"/>
<clipPath id="tc23"><path d="M245.8,227.2 Q246.4,229.4 245.6,231.5 Q244.8,233.5 243.4,234.7 Q241.9,235.8 240.1,235.7 Q238.2,235.5 237.0,233.7 Q235.8,231.8 235.6,229.3 Q235.4,226.8 237.0,225.4 Q238.6,224.1 240.3,223.1 Q242.0,222.1 243.6,223.5 Q245.1,225.0 245.8,227.2Z"/></clipPath>
<path d="M245.8,227.2 Q246.4,229.4 245.6,231.5 Q244.8,233.5 243.4,234.7 Q241.9,235.8 240.1,235.7 Q238.2,235.5 237.0,233.7 Q235.8,231.8 235.6,229.3 Q235.4,226.8 237.0,225.4 Q238.6,224.1 240.3,223.1 Q242.0,222.1 243.6,223.5 Q245.1,225.0 245.8,227.2Z" fill="#e4c0b8" filter="url(#b3)"/>
<g clip-path="url(#tc23)" filter="url(#b3)">
<ellipse cx="243.5" cy="225.3" rx="1.1" ry="1.2" fill="#c0586a" opacity="0.73"/>
<ellipse cx="239.0" cy="226.4" rx="1.1" ry="1.1" fill="#c0586a" opacity="0.52"/>
<ellipse cx="239.5" cy="230.5" rx="1.1" ry="1.2" fill="#c0586a" opacity="0.50"/>
<ellipse cx="242.0" cy="231.6" rx="0.9" ry="0.7" fill="#c0586a" opacity="0.74"/>
<ellipse cx="243.2" cy="230.5" rx="0.8" ry="0.7" fill="#c0586a" opacity="0.66"/>
<ellipse cx="241.6" cy="231.1" rx="0.9" ry="0.8" fill="#c0586a" opacity="0.71"/>
<ellipse cx="242.6" cy="229.9" rx="0.8" ry="0.6" fill="#c0586a" opacity="0.44"/>
<ellipse cx="240.0" cy="227.8" rx="2.0" ry="2.2" fill="#f1dcd4" opacity="0.55"/>
<ellipse cx="243.5" cy="233.6" rx="3.5" ry="2.9" fill="#7a3040" opacity="0.22"/>
</g>
<ellipse cx="287.2" cy="229.0" rx="6.6" ry="7.4" fill="#173e6e" opacity="0.5" filter="url(#b8)"/>
<clipPath id="tc24"><path d="M293.1,227.2 Q294.0,229.4 293.1,231.6 Q292.3,233.8 290.5,234.4 Q288.6,235.0 287.0,234.6 Q285.4,234.3 284.3,232.8 Q283.1,231.4 283.2,229.5 Q283.4,227.5 284.0,225.2 Q284.7,223.0 286.7,223.2 Q288.7,223.5 290.4,224.3 Q292.2,225.1 293.1,227.2Z"/></clipPath>
<path d="M293.1,227.2 Q294.0,229.4 293.1,231.6 Q292.3,233.8 290.5,234.4 Q288.6,235.0 287.0,234.6 Q285.4,234.3 284.3,232.8 Q283.1,231.4 283.2,229.5 Q283.4,227.5 284.0,225.2 Q284.7,223.0 286.7,223.2 Q288.7,223.5 290.4,224.3 Q292.2,225.1 293.1,227.2Z" fill="#e9cdb8" filter="url(#b3)"/>
<g clip-path="url(#tc24)" filter="url(#b3)">
<ellipse cx="289.1" cy="225.9" rx="1.0" ry="1.0" fill="#d09088" opacity="0.72"/>
<ellipse cx="285.9" cy="232.9" rx="1.4" ry="1.2" fill="#d09088" opacity="0.44"/>
<ellipse cx="286.7" cy="227.8" rx="2.2" ry="2.3" fill="#f1dcd4" opacity="0.55"/>
<ellipse cx="290.6" cy="233.7" rx="3.9" ry="3.0" fill="#7a3040" opacity="0.22"/>
</g>
<ellipse cx="333.5" cy="229.0" rx="5.2" ry="6.0" fill="#173e6e" opacity="0.5" filter="url(#b8)"/>
<clipPath id="tc25"><path d="M337.5,227.6 Q337.4,229.4 337.7,231.4 Q338.0,233.5 336.5,234.4 Q334.9,235.3 333.5,234.5 Q332.1,233.7 331.1,232.4 Q330.1,231.2 330.1,229.4 Q330.1,227.6 331.2,226.5 Q332.2,225.4 333.6,224.2 Q335.0,223.1 336.3,224.4 Q337.6,225.8 337.5,227.6Z"/></clipPath>
<path d="M337.5,227.6 Q337.4,229.4 337.7,231.4 Q338.0,233.5 336.5,234.4 Q334.9,235.3 333.5,234.5 Q332.1,233.7 331.1,232.4 Q330.1,231.2 330.1,229.4 Q330.1,227.6 331.2,226.5 Q332.2,225.4 333.6,224.2 Q335.0,223.1 336.3,224.4 Q337.6,225.8 337.5,227.6Z" fill="#ad6670" filter="url(#b3)"/>
<g clip-path="url(#tc25)" filter="url(#b3)">
<ellipse cx="334.2" cy="230.7" rx="1.3" ry="1.0" fill="#7c2f42" opacity="0.67"/>
<ellipse cx="333.5" cy="226.0" rx="1.1" ry="0.7" fill="#7c2f42" opacity="0.48"/>
<ellipse cx="333.9" cy="233.9" rx="1.3" ry="1.2" fill="#7c2f42" opacity="0.75"/>
<ellipse cx="333.8" cy="232.6" rx="1.1" ry="1.0" fill="#7c2f42" opacity="0.35"/>
<ellipse cx="335.6" cy="225.5" rx="1.5" ry="1.0" fill="#7c2f42" opacity="0.46"/>
<ellipse cx="333.8" cy="227.8" rx="1.3" ry="1.1" fill="#7c2f42" opacity="0.73"/>
<ellipse cx="331.0" cy="227.1" rx="1.2" ry="1.1" fill="#7c2f42" opacity="0.52"/>
<ellipse cx="335.2" cy="228.6" rx="1.5" ry="1.0" fill="#7c2f42" opacity="0.57"/>
<ellipse cx="332.6" cy="229.1" rx="1.5" ry="1.1" fill="#7c2f42" opacity="0.47"/>
<ellipse cx="333.3" cy="228.1" rx="1.7" ry="1.8" fill="#f1dcd4" opacity="0.55"/>
<ellipse cx="336.2" cy="232.8" rx="2.9" ry="2.3" fill="#7a3040" opacity="0.22"/>
</g>
<ellipse cx="101.6" cy="272.8" rx="4.9" ry="5.3" fill="#173e6e" opacity="0.5" filter="url(#b8)"/>
<clipPath id="tc30"><path d="M105.2,271.8 Q105.3,273.2 105.1,274.5 Q104.9,275.8 103.9,276.7 Q102.9,277.6 101.5,277.5 Q100.0,277.5 99.4,276.1 Q98.8,274.6 98.5,273.1 Q98.2,271.5 99.4,270.8 Q100.6,270.0 101.7,269.5 Q102.8,269.0 104.0,269.7 Q105.1,270.4 105.2,271.8Z"/></clipPath>
<path d="M105.2,271.8 Q105.3,273.2 105.1,274.5 Q104.9,275.8 103.9,276.7 Q102.9,277.6 101.5,277.5 Q100.0,277.5 99.4,276.1 Q98.8,274.6 98.5,273.1 Q98.2,271.5 99.4,270.8 Q100.6,270.0 101.7,269.5 Q102.8,269.0 104.0,269.7 Q105.1,270.4 105.2,271.8Z" fill="#ad6670" filter="url(#b3)"/>
<g clip-path="url(#tc30)" filter="url(#b3)">
<ellipse cx="105.4" cy="272.4" rx="1.3" ry="0.8" fill="#7c2f42" opacity="0.50"/>
<ellipse cx="101.8" cy="271.4" rx="1.2" ry="1.0" fill="#7c2f42" opacity="0.35"/>
<ellipse cx="105.4" cy="273.0" rx="1.0" ry="0.9" fill="#7c2f42" opacity="0.47"/>
<ellipse cx="100.5" cy="275.2" rx="1.1" ry="0.8" fill="#7c2f42" opacity="0.51"/>
<ellipse cx="101.4" cy="271.5" rx="1.0" ry="1.0" fill="#7c2f42" opacity="0.48"/>
<ellipse cx="104.6" cy="272.2" rx="1.3" ry="1.0" fill="#7c2f42" opacity="0.68"/>
<ellipse cx="103.3" cy="274.1" rx="0.9" ry="0.9" fill="#7c2f42" opacity="0.63"/>
<ellipse cx="103.1" cy="275.4" rx="1.4" ry="1.2" fill="#7c2f42" opacity="0.39"/>
<ellipse cx="102.4" cy="274.8" rx="1.0" ry="0.8" fill="#7c2f42" opacity="0.38"/>
<ellipse cx="101.4" cy="272.1" rx="1.6" ry="1.6" fill="#f1dcd4" opacity="0.55"/>
<ellipse cx="104.2" cy="276.1" rx="2.7" ry="2.0" fill="#7a3040" opacity="0.22"/>
</g>
<ellipse cx="146.0" cy="272.8" rx="4.3" ry="5.4" fill="#173e6e" opacity="0.5" filter="url(#b8)"/>
<clipPath id="tc31"><path d="M149.8,271.8 Q150.6,273.2 149.8,274.6 Q149.0,276.1 148.1,276.9 Q147.2,277.8 146.0,277.6 Q144.8,277.5 144.0,276.2 Q143.1,275.0 143.1,273.2 Q143.0,271.4 144.0,270.4 Q145.0,269.4 146.1,269.2 Q147.1,269.0 148.1,269.7 Q149.0,270.4 149.8,271.8Z"/></clipPath>
<path d="M149.8,271.8 Q150.6,273.2 149.8,274.6 Q149.0,276.1 148.1,276.9 Q147.2,277.8 146.0,277.6 Q144.8,277.5 144.0,276.2 Q143.1,275.0 143.1,273.2 Q143.0,271.4 144.0,270.4 Q145.0,269.4 146.1,269.2 Q147.1,269.0 148.1,269.7 Q149.0,270.4 149.8,271.8Z" fill="#ad6670" filter="url(#b3)"/>
<g clip-path="url(#tc31)" filter="url(#b3)">
<ellipse cx="148.3" cy="273.4" rx="1.1" ry="1.2" fill="#7c2f42" opacity="0.67"/>
<ellipse cx="145.4" cy="270.6" rx="0.8" ry="0.6" fill="#7c2f42" opacity="0.49"/>
<ellipse cx="146.0" cy="272.0" rx="0.9" ry="0.8" fill="#7c2f42" opacity="0.67"/>
<ellipse cx="147.6" cy="270.4" rx="0.8" ry="0.8" fill="#7c2f42" opacity="0.71"/>
<ellipse cx="145.0" cy="272.5" rx="1.0" ry="0.7" fill="#7c2f42" opacity="0.64"/>
<ellipse cx="148.6" cy="273.0" rx="1.1" ry="1.1" fill="#7c2f42" opacity="0.43"/>
<ellipse cx="148.7" cy="272.1" rx="0.9" ry="0.5" fill="#7c2f42" opacity="0.45"/>
<ellipse cx="144.4" cy="271.6" rx="0.9" ry="1.0" fill="#7c2f42" opacity="0.49"/>
<ellipse cx="145.5" cy="273.6" rx="1.2" ry="0.8" fill="#7c2f42" opacity="0.71"/>
<ellipse cx="145.9" cy="272.1" rx="1.3" ry="1.6" fill="#f1dcd4" opacity="0.55"/>
<ellipse cx="148.2" cy="276.2" rx="2.3" ry="2.1" fill="#7a3040" opacity="0.22"/>
</g>
<ellipse cx="192.3" cy="272.8" rx="4.0" ry="4.6" fill="#173e6e" opacity="0.5" filter="url(#b8)"/>
<clipPath id="tc32"><path d="M195.4,272.2 Q196.0,273.2 195.6,274.5 Q195.3,275.7 194.4,276.4 Q193.4,277.1 192.5,276.6 Q191.6,276.1 190.5,275.4 Q189.5,274.8 189.5,273.2 Q189.4,271.6 190.3,270.5 Q191.2,269.4 192.3,269.3 Q193.4,269.3 194.1,270.2 Q194.8,271.2 195.4,272.2Z"/></clipPath>
<path d="M195.4,272.2 Q196.0,273.2 195.6,274.5 Q195.3,275.7 194.4,276.4 Q193.4,277.1 192.5,276.6 Q191.6,276.1 190.5,275.4 Q189.5,274.8 189.5,273.2 Q189.4,271.6 190.3,270.5 Q191.2,269.4 192.3,269.3 Q193.4,269.3 194.1,270.2 Q194.8,271.2 195.4,272.2Z" fill="#d09c9e" filter="url(#b3)"/>
<g clip-path="url(#tc32)" filter="url(#b3)">
<ellipse cx="193.5" cy="271.7" rx="0.9" ry="0.7" fill="#a03e54" opacity="0.58"/>
<ellipse cx="193.5" cy="271.9" rx="0.8" ry="0.5" fill="#a03e54" opacity="0.36"/>
<ellipse cx="194.1" cy="276.4" rx="0.9" ry="0.9" fill="#a03e54" opacity="0.47"/>
<ellipse cx="191.8" cy="270.6" rx="0.7" ry="0.6" fill="#a03e54" opacity="0.67"/>
<ellipse cx="194.1" cy="273.4" rx="0.8" ry="0.5" fill="#a03e54" opacity="0.50"/>
<ellipse cx="191.9" cy="272.6" rx="0.8" ry="0.6" fill="#a03e54" opacity="0.58"/>
<ellipse cx="191.9" cy="275.5" rx="0.6" ry="0.6" fill="#a03e54" opacity="0.41"/>
<ellipse cx="194.8" cy="272.6" rx="0.8" ry="0.6" fill="#a03e54" opacity="0.60"/>
<ellipse cx="192.3" cy="272.2" rx="1.2" ry="1.3" fill="#f1dcd4" opacity="0.55"/>
<ellipse cx="194.4" cy="275.7" rx="2.1" ry="1.7" fill="#7a3040" opacity="0.22"/>
</g>
<ellipse cx="240.4" cy="272.8" rx="3.9" ry="4.8" fill="#173e6e" opacity="0.5" filter="url(#b8)"/>
<clipPath id="tc33"><path d="M243.7,272.0 Q244.2,273.2 243.8,274.6 Q243.5,276.1 242.5,276.9 Q241.6,277.6 240.6,277.1 Q239.6,276.6 238.6,275.8 Q237.6,274.9 237.7,273.3 Q237.8,271.6 238.6,270.4 Q239.3,269.1 240.4,269.3 Q241.5,269.4 242.3,270.1 Q243.2,270.7 243.7,272.0Z"/></clipPath>
<path d="M243.7,272.0 Q244.2,273.2 243.8,274.6 Q243.5,276.1 242.5,276.9 Q241.6,277.6 240.6,277.1 Q239.6,276.6 238.6,275.8 Q237.6,274.9 237.7,273.3 Q237.8,271.6 238.6,270.4 Q239.3,269.1 240.4,269.3 Q241.5,269.4 242.3,270.1 Q243.2,270.7 243.7,272.0Z" fill="#e9cdb8" filter="url(#b3)"/>
<g clip-path="url(#tc33)" filter="url(#b3)">
<ellipse cx="238.7" cy="271.8" rx="0.6" ry="0.5" fill="#d09088" opacity="0.52"/>
<ellipse cx="242.1" cy="272.1" rx="0.5" ry="0.4" fill="#d09088" opacity="0.71"/>
<ellipse cx="240.4" cy="272.2" rx="1.2" ry="1.4" fill="#f1dcd4" opacity="0.55"/>
<ellipse cx="242.4" cy="275.8" rx="2.0" ry="1.8" fill="#7a3040" opacity="0.22"/>
</g>
<ellipse cx="286.7" cy="272.8" rx="3.9" ry="4.4" fill="#173e6e" opacity="0.5" filter="url(#b8)"/>
<clipPath id="tc34"><path d="M290.0,272.0 Q290.5,273.2 290.1,274.4 Q289.6,275.6 288.7,276.4 Q287.9,277.2 286.9,276.6 Q286.0,276.0 285.2,275.3 Q284.5,274.5 284.8,273.4 Q285.1,272.2 285.6,271.4 Q286.1,270.6 287.0,270.2 Q287.8,269.7 288.7,270.3 Q289.5,270.9 290.0,272.0Z"/></clipPath>
<path d="M290.0,272.0 Q290.5,273.2 290.1,274.4 Q289.6,275.6 288.7,276.4 Q287.9,277.2 286.9,276.6 Q286.0,276.0 285.2,275.3 Q284.5,274.5 284.8,273.4 Q285.1,272.2 285.6,271.4 Q286.1,270.6 287.0,270.2 Q287.8,269.7 288.7,270.3 Q289.5,270.9 290.0,272.0Z" fill="#e9cdb8" filter="url(#b3)"/>
<g clip-path="url(#tc34)" filter="url(#b3)">
<ellipse cx="286.6" cy="273.8" rx="0.6" ry="0.5" fill="#d09088" opacity="0.45"/>
<ellipse cx="286.8" cy="275.0" rx="0.5" ry="0.3" fill="#d09088" opacity="0.71"/>
<ellipse cx="286.7" cy="272.3" rx="1.2" ry="1.3" fill="#f1dcd4" opacity="0.55"/>
<ellipse cx="288.8" cy="275.5" rx="2.0" ry="1.6" fill="#7a3040" opacity="0.22"/>
</g>
<ellipse cx="333.8" cy="272.8" rx="3.9" ry="4.6" fill="#173e6e" opacity="0.5" filter="url(#b8)"/>
<clipPath id="tc35"><path d="M337.5,271.7 Q337.9,273.2 337.4,274.5 Q336.8,275.8 335.9,276.7 Q335.0,277.6 334.0,277.0 Q333.0,276.4 332.1,275.5 Q331.3,274.7 331.7,273.4 Q332.0,272.1 332.4,270.8 Q332.8,269.5 333.8,269.4 Q334.9,269.3 336.0,269.8 Q337.1,270.3 337.5,271.7Z"/></clipPath>
<path d="M337.5,271.7 Q337.9,273.2 337.4,274.5 Q336.8,275.8 335.9,276.7 Q335.0,277.6 334.0,277.0 Q333.0,276.4 332.1,275.5 Q331.3,274.7 331.7,273.4 Q332.0,272.1 332.4,270.8 Q332.8,269.5 333.8,269.4 Q334.9,269.3 336.0,269.8 Q337.1,270.3 337.5,271.7Z" fill="#ad6670" filter="url(#b3)"/>
<g clip-path="url(#tc35)" filter="url(#b3)">
<ellipse cx="336.3" cy="275.0" rx="0.7" ry="0.6" fill="#7c2f42" opacity="0.73"/>
<ellipse cx="335.6" cy="273.2" rx="0.8" ry="0.6" fill="#7c2f42" opacity="0.38"/>
<ellipse cx="336.3" cy="271.3" rx="0.8" ry="0.7" fill="#7c2f42" opacity="0.58"/>
<ellipse cx="335.2" cy="273.5" rx="1.1" ry="0.8" fill="#7c2f42" opacity="0.55"/>
<ellipse cx="336.9" cy="271.8" rx="0.9" ry="0.6" fill="#7c2f42" opacity="0.47"/>
<ellipse cx="336.7" cy="271.6" rx="0.7" ry="0.8" fill="#7c2f42" opacity="0.49"/>
<ellipse cx="333.3" cy="273.4" rx="1.0" ry="1.2" fill="#7c2f42" opacity="0.43"/>
<ellipse cx="333.6" cy="272.1" rx="1.0" ry="0.7" fill="#7c2f42" opacity="0.39"/>
<ellipse cx="334.2" cy="271.4" rx="1.1" ry="1.1" fill="#7c2f42" opacity="0.64"/>
<ellipse cx="333.8" cy="272.2" rx="1.2" ry="1.3" fill="#f1dcd4" opacity="0.55"/>
<ellipse cx="335.8" cy="275.7" rx="2.0" ry="1.7" fill="#7a3040" opacity="0.22"/>
</g>
</g>
<text x="310.20" y="280.00" font-size="8" text-anchor="middle" fill="#15151f" font-weight="bold" stroke="#15151f" stroke-width="0.24" font-style="italic">1cm</text>
<line x1="304.50" y1="285.00" x2="318.10" y2="285.00" stroke="#1a1a2a" stroke-width="0.6"/>
<text x="43.70" y="136.00" font-size="9.9" text-anchor="middle" fill="#1a1311" font-weight="bold" stroke="#1a1311" stroke-width="0.30">CL+IgG+</text>
<text x="43.70" y="147.60" font-size="9.9" text-anchor="middle" fill="#1a1311" font-weight="bold" stroke="#1a1311" stroke-width="0.30">Scr BMDMs</text>
<text x="43.70" y="182.50" font-size="9.9" text-anchor="middle" fill="#1a1311" font-weight="bold" stroke="#1a1311" stroke-width="0.30">CL+Anti-PD-L1</text>
<text x="43.70" y="194.10" font-size="9.9" text-anchor="middle" fill="#1a1311" font-weight="bold" stroke="#1a1311" stroke-width="0.30">+Scr BMDMs</text>
<text x="43.70" y="226.40" font-size="9.9" text-anchor="middle" fill="#1a1311" font-weight="bold" stroke="#1a1311" stroke-width="0.30">CL+IgG+</text>
<text x="43.70" y="238.00" font-size="9.9" text-anchor="middle" fill="#1a1311" font-weight="bold" stroke="#1a1311" stroke-width="0.30">siTREM2 BMDMs</text>
<text x="43.70" y="267.90" font-size="9.9" text-anchor="middle" fill="#1a1311" font-weight="bold" stroke="#1a1311" stroke-width="0.30">CL+Anti-PD-L1</text>
<text x="43.70" y="279.50" font-size="9.9" text-anchor="middle" fill="#1a1311" font-weight="bold" stroke="#1a1311" stroke-width="0.30">+siTREM2 BMDMs</text>
<defs><filter id="fb5" x="-5%" y="-5%" width="110%" height="110%"><feGaussianBlur stdDeviation="0.45"/></filter><filter id="fb6" x="-5%" y="-5%" width="110%" height="110%"><feGaussianBlur stdDeviation="0.9"/></filter><filter id="fb10" x="-40%" y="-40%" width="180%" height="180%"><feGaussianBlur stdDeviation="1.3"/></filter></defs>
<text x="2.20" y="315.20" font-size="15.5" text-anchor="start" fill="#1a1311" font-weight="bold" stroke="#1a1311" stroke-width="0.46">D</text>
<text x="58.40" y="311.00" font-size="9.9" text-anchor="middle" fill="#1a1311" font-weight="bold" stroke="#1a1311" stroke-width="0.30">Clo+IgG</text>
<text x="58.40" y="322.70" font-size="9.9" text-anchor="middle" fill="#1a1311" font-weight="bold" stroke="#1a1311" stroke-width="0.30">Scr BMDM</text>
<text x="140.00" y="311.00" font-size="9.9" text-anchor="middle" fill="#1a1311" font-weight="bold" stroke="#1a1311" stroke-width="0.30">Clo+Anti-PD-L1</text>
<text x="140.00" y="322.70" font-size="9.9" text-anchor="middle" fill="#1a1311" font-weight="bold" stroke="#1a1311" stroke-width="0.30">+Scr BMDM</text>
<text x="221.60" y="311.00" font-size="9.9" text-anchor="middle" fill="#1a1311" font-weight="bold" stroke="#1a1311" stroke-width="0.30">Clo+IgG</text>
<text x="221.60" y="322.70" font-size="9.9" text-anchor="middle" fill="#1a1311" font-weight="bold" stroke="#1a1311" stroke-width="0.30">siTREM2 BMDM</text>
<text x="302.80" y="311.00" font-size="9.9" text-anchor="middle" fill="#1a1311" font-weight="bold" stroke="#1a1311" stroke-width="0.30">Clo+Anti-PD-L1</text>
<text x="302.80" y="322.70" font-size="9.9" text-anchor="middle" fill="#1a1311" font-weight="bold" stroke="#1a1311" stroke-width="0.30">+siTREM2 BMDM</text>
<clipPath id="fc1"><rect x="21.9" y="330.7" width="73.1" height="73"/></clipPath>
<rect x="21.90" y="330.70" width="73.10" height="73.00" fill="#0a0f34"/>
<g clip-path="url(#fc1)"><g filter="url(#fb5)">
<path d="M34.0,381.1l-0.4,0.6M81.0,368.1l0.4,0.3M64.7,335.8l-0.2,0.2M94.8,384.6l-0.1,0.6M58.3,339.2l0.3,0.0M31.0,398.4l-0.2,0.2M35.6,333.4l-0.2,0.4M92.7,396.0l0.2,0.7M30.9,365.5l0.2,0.7M51.8,357.4l-0.4,0.3M23.9,337.5l0.4,0.1M62.1,385.3l-0.4,0.1M35.1,343.1l-0.1,0.3M44.3,338.2l-0.4,0.4M71.9,380.0l-0.5,0.2M92.2,373.8l0.6,0.2M85.9,342.5l-0.2,0.7M83.1,334.5l-0.0,0.4M27.0,355.4l0.1,0.5M40.3,400.7l-0.3,0.5M83.2,388.8l-0.5,0.2M84.0,353.2l0.6,0.4M72.0,400.3l-0.2,0.2M64.6,349.5l0.1,0.7M28.8,337.6l-0.1,0.3M69.8,339.9l-0.6,0.3M34.0,344.1l0.5,0.4M73.9,394.5l-0.5,0.2M26.5,386.5l-0.5,0.1M44.8,333.8l0.6,0.0M58.7,370.8l-0.6,0.4M75.6,401.3l-0.5,0.5M26.6,390.2l-0.4,0.3M29.8,336.3l0.3,0.1M67.3,332.1l0.7,0.1M51.3,347.2l-0.6,0.4M81.6,383.5l-0.4,0.3M68.1,401.0l-0.0,0.2M87.0,387.6l0.4,0.2M73.0,380.6l0.4,0.1M82.2,401.1l-0.0,0.3M50.5,341.3l0.2,0.1M76.2,364.5l0.1,0.7M46.4,377.5l0.1,0.6M40.5,392.4l-0.4,0.5M42.2,358.4l-0.4,0.3M42.4,343.4l0.3,0.0M24.4,389.9l0.3,0.3M24.8,375.1l-0.2,0.5M28.8,353.3l0.2,0.3M79.8,390.7l-0.5,0.6M62.2,347.1l-0.2,0.2M23.2,373.2l-0.4,0.5M35.7,335.1l-0.1,0.6M80.4,355.4l-0.4,0.2M87.0,335.9l-0.2,0.3M41.6,335.0l-0.5,0.3M33.5,338.3l0.5,0.3M75.1,369.0l-0.4,0.2M47.7,369.6l0.3,0.5M33.7,392.8l-0.7,0.0M78.7,396.6l0.3,0.4M90.7,399.1l0.1,0.3M66.3,385.9l-0.1,0.4M86.4,345.8l0.0,0.7M86.4,357.2l-0.1,0.8M81.5,357.1l0.3,0.2M23.8,379.3l0.6,0.1M87.3,368.2l0.2,0.3M78.3,385.6l-0.3,0.7M57.7,350.1l-0.5,0.5M64.8,389.3l-0.5,0.1M50.7,331.0l0.5,0.4M36.3,347.3l0.2,0.2M49.0,391.0l0.2,0.6M65.6,381.3l-0.2,0.4M79.1,388.6l0.3,0.1M27.5,353.2l-0.2,0.5M71.8,352.3l-0.1,0.6M37.8,380.8l-0.2,0.7M32.2,334.9l-0.5,0.1M69.8,332.2l0.2,0.5M92.2,358.0l0.2,0.2M77.1,377.1l-0.3,0.4M23.4,377.7l0.4,0.0M28.2,366.5l0.1,0.2M37.6,334.2l0.6,0.0M38.1,338.9l-0.6,0.4M36.8,381.8l-0.1,0.3M28.9,345.6l-0.2,0.3M22.6,352.8l0.3,0.3M24.4,367.1l0.3,0.1M89.6,336.5l-0.3,0.0M25.8,351.7l-0.6,0.1M49.3,393.9l-0.2,0.2M62.6,357.3l-0.2,0.3M35.5,397.4l-0.0,0.5M85.4,355.3l-0.3,0.1M75.7,369.3l0.5,0.0M72.5,365.7l-0.0,0.6M71.6,387.1l0.4,0.1M94.8,354.6l-0.3,0.4M67.7,350.6l0.1,0.2M79.6,394.4l0.7,0.1M73.2,368.2l0.2,0.2M43.5,340.2l0.2,0.3M55.1,386.4l-0.0,0.3M43.5,363.3l-0.1,0.6M30.4,356.2l-0.1,0.5M67.6,353.5l0.3,0.3M90.3,356.4l-0.3,0.3M22.2,355.6l-0.3,0.2M80.6,343.4l0.0,0.7M67.3,343.0l-0.2,0.3M40.4,346.5l0.2,0.3M75.2,348.5l-0.3,0.3M94.7,336.8l-0.5,0.3M79.2,344.3l-0.4,0.3M28.1,382.9l0.4,0.5M30.7,389.4l0.1,0.3M68.4,376.7l0.1,0.3M63.9,357.2l0.4,0.1M33.6,360.7l-0.6,0.1M30.4,369.6l0.1,0.5M46.9,352.0l0.2,0.5M72.0,353.7l0.5,0.5M68.2,398.4l-0.4,0.3M88.1,337.6l-0.1,0.4M61.0,348.8l-0.5,0.4M30.4,352.1l-0.3,0.1M59.2,371.2l-0.3,0.1M52.6,380.6l0.4,0.2M23.0,352.0l-0.1,0.3M90.0,376.7l-0.3,0.7M26.3,357.1l-0.5,0.4M71.5,400.5l0.4,0.2M38.5,387.0l0.3,0.3M28.1,400.5l-0.7,0.3M35.5,373.5l0.4,0.4M47.0,379.8l-0.3,0.7M46.5,339.1l0.0,0.3M56.8,336.8l0.3,0.1M60.2,349.0l0.0,0.3M51.0,378.6l-0.2,0.3M52.0,377.7l0.6,0.1M56.4,350.5l0.1,0.6M78.7,358.4l-0.1,0.4M48.4,388.2l0.7,0.2M28.5,350.7l-0.2,0.3M79.7,401.7l0.6,0.1M32.1,370.6l-0.6,0.1M92.5,368.2l-0.7,0.2M80.7,359.8l0.3,0.1M65.7,374.3l0.0,0.3M28.7,373.2l0.0,0.7M82.8,348.5l0.5,0.5M56.8,378.4l0.5,0.5M62.2,373.7l0.3,0.1M64.3,350.4l0.5,0.1M74.5,340.3l0.6,0.0M83.9,359.1l0.2,0.7M72.6,387.8l0.2,0.6M40.2,366.2l-0.3,0.3M37.8,342.2l-0.4,0.4M33.9,369.4l-0.1,0.4M40.9,333.6l0.5,0.2M68.3,345.4l-0.0,0.5M37.1,390.5l-0.3,0.0M86.0,350.2l-0.5,0.1M69.1,353.7l0.5,0.2M80.4,342.1l0.4,0.3M59.8,362.5l0.0,0.6M25.0,365.8l-0.3,0.1M90.3,351.5l-0.7,0.3M26.8,355.1l0.2,0.1M53.8,381.4l0.0,0.2M81.3,383.4l0.5,0.2M56.5,402.3l0.4,0.3M60.0,388.4l0.5,0.4M23.4,378.7l-0.1,0.3M34.2,383.2l-0.4,0.6M27.1,375.5l-0.3,0.0M27.7,395.7l-0.2,0.3M87.8,345.1l0.1,0.5M69.0,355.9l0.6,0.1M94.2,388.2l0.6,0.3M74.3,349.7l0.5,0.2M53.6,402.2l-0.0,0.2M27.6,377.9l0.5,0.2M28.5,393.4l0.1,0.3M84.3,357.5l0.3,0.1M85.2,383.4l-0.3,0.2M29.4,356.3l-0.2,0.2M65.8,363.3l-0.5,0.4M93.3,357.0l-0.4,0.2M84.3,335.9l-0.5,0.0M57.3,335.3l-0.3,0.6M52.3,378.4l0.2,0.1M61.3,378.4l-0.2,0.3M91.6,363.2l0.4,0.3M80.7,352.7l0.3,0.2M26.7,331.0l0.2,0.2M29.0,390.2l-0.6,0.4M37.6,388.1l-0.3,0.3M91.0,399.9l-0.5,0.1M82.5,348.7l-0.0,0.2M31.7,345.6l0.2,0.3M49.1,383.8l-0.4,0.7M62.7,392.8l-0.2,0.4M48.2,347.4l-0.2,0.1M31.3,378.8l-0.2,0.1M61.5,402.2l-0.6,0.1M70.7,383.4l-0.5,0.0M72.7,364.8l-0.2,0.4M24.5,368.3l-0.4,0.4M23.9,340.0l0.1,0.7M64.9,352.9l-0.4,0.1M89.0,342.1l0.5,0.6M65.1,337.3l0.2,0.4M74.0,361.5l-0.1,0.4M59.4,361.6l0.1,0.4M67.5,347.7l0.1,0.6M92.6,363.4l-0.5,0.5M76.9,387.6l-0.4,0.1M60.0,352.5l-0.5,0.4M22.3,389.2l-0.2,0.5M37.7,393.2l-0.5,0.1M87.3,379.4l-0.3,0.1M62.3,394.0l0.1,0.3M28.1,355.2l-0.3,0.4M67.1,398.3l0.2,0.3M87.2,344.3l0.0,0.4M82.1,361.0l0.0,0.6M82.8,334.2l0.3,0.0M27.1,349.1l-0.0,0.6M72.5,396.4l-0.2,0.6M26.2,340.8l0.1,0.7M62.2,338.0l-0.4,0.3M56.6,390.6l-0.1,0.6M36.1,369.9l0.2,0.3M26.2,367.4l0.0,0.5M86.0,361.8l0.5,0.1M56.1,344.2l-0.7,0.2M82.4,339.8l-0.1,0.6M93.6,401.2l0.1,0.2M31.7,335.1l-0.4,0.3M92.1,399.4l-0.2,0.5M34.4,343.9l-0.4,0.0M64.2,357.8l-0.1,0.6M49.3,374.8l-0.4,0.6M59.5,392.9l0.7,0.1M37.9,383.1l0.4,0.0M79.5,363.1l0.3,0.6M49.8,340.4l-0.5,0.2M48.1,365.5l-0.1,0.6M54.9,340.2l0.4,0.0M26.7,363.8l0.0,0.3" fill="none" stroke="#24337e" stroke-width="1.28" stroke-linecap="round" opacity="0.46"/>
<path d="M68.3,365.7l0.3,0.4M58.8,347.9l0.4,0.2M79.9,347.7l0.3,0.7M85.9,375.7l-0.4,0.2M91.5,357.6l-0.6,0.5M55.0,371.0l0.4,0.1M85.2,347.8l-0.4,0.1M77.1,386.4l-0.3,0.6M82.4,345.4l-0.7,0.5M54.9,358.9l-0.3,0.2M74.4,403.2l-0.6,0.7M38.1,375.1l-0.5,0.8M47.4,398.4l0.6,0.2M26.7,390.1l-0.5,0.0M87.6,400.7l0.2,0.4M86.5,366.5l0.2,0.5M27.0,389.5l-0.0,0.5M87.6,402.5l-0.0,0.9M60.3,383.9l0.2,0.4M86.3,374.6l-0.7,0.2M61.0,350.8l-0.7,0.5M23.6,374.0l-0.5,0.0M51.5,400.7l0.8,0.0M23.8,363.3l-0.3,0.5M61.3,354.4l-0.8,0.2M49.5,382.5l-0.2,0.7M78.5,388.4l0.1,0.4M34.7,382.6l0.5,0.6M50.3,353.3l0.0,0.6M91.2,337.9l-0.4,0.8M44.6,381.8l0.3,0.1M93.3,356.6l-0.3,0.3M27.3,390.1l-0.1,0.6M69.0,363.0l-0.4,0.6M25.5,362.4l0.2,0.7M55.2,348.0l-0.8,0.2M28.1,365.7l0.1,0.8M67.7,386.1l0.6,0.7M39.8,397.6l0.7,0.0M94.2,331.2l-0.7,0.6M62.3,336.5l-0.1,0.6M29.8,400.5l-0.3,0.8M71.7,349.7l0.3,0.7M33.1,380.4l0.2,0.2M90.7,364.8l0.4,0.1M50.0,350.6l0.1,0.4M90.2,382.1l-0.6,0.5M73.1,348.2l0.1,0.4M55.1,396.0l0.2,0.8M60.6,334.3l-0.7,0.4M80.6,392.3l0.3,0.8M27.8,396.4l-0.0,0.5M81.5,375.0l-0.7,0.2M26.8,368.1l0.3,0.1M24.6,366.8l0.1,0.8M89.9,370.0l0.1,0.6M27.6,391.1l0.6,0.3M67.8,343.4l0.1,0.5M80.9,396.9l0.5,0.4M60.9,397.0l-0.6,0.3M79.9,331.5l-0.2,0.6M69.2,342.5l-0.5,0.6M94.9,371.2l0.9,0.0M28.0,360.3l0.0,0.3M31.5,332.7l-0.5,0.6M37.3,338.5l0.3,0.6M30.9,348.2l0.8,0.1M69.5,349.2l-0.4,0.7M61.2,364.2l0.1,0.9M75.7,384.1l0.1,0.3M70.5,373.1l0.5,0.1M75.6,390.0l0.3,0.3M58.4,364.4l0.7,0.2M85.2,385.5l-0.9,0.3M89.7,345.2l0.3,0.6M68.2,341.4l-0.1,0.7M37.9,345.8l-0.4,0.4M46.4,378.1l0.5,0.0M72.8,360.9l0.7,0.0M74.9,374.1l-0.7,0.1M68.4,377.1l-0.4,0.6M55.3,368.2l-0.4,0.0M55.2,346.9l-0.1,0.5M34.0,389.0l0.1,0.4M35.5,341.8l-0.4,0.3M61.0,339.1l0.6,0.6M61.3,336.9l0.4,0.0M64.1,390.4l-0.7,0.2M45.2,397.4l0.3,0.2M87.1,387.0l-0.4,0.7M92.4,387.4l-0.9,0.0M70.4,378.6l-0.2,0.2M28.5,354.4l-0.5,0.4M30.1,379.0l-0.0,0.3M53.0,381.1l0.6,0.0M36.4,366.8l-0.2,0.4M53.0,345.3l-0.3,0.0M70.7,347.5l-0.8,0.4M49.3,351.1l0.8,0.2M45.9,395.8l-0.2,0.5M71.3,401.1l0.1,0.6M49.7,402.0l-0.8,0.2M41.4,388.7l0.1,0.6M92.8,378.5l0.6,0.3M50.1,340.7l-0.6,0.3M25.4,377.2l-0.2,0.6M73.9,360.9l-0.9,0.0M73.2,391.6l-0.0,0.7M73.2,392.5l-0.4,0.3M68.1,390.5l-0.2,0.4M63.8,371.2l-0.4,0.3M77.5,337.8l-0.7,0.1M50.9,388.5l-0.1,0.7M45.4,352.9l-0.1,0.5M92.4,397.7l0.6,0.0M66.9,402.4l0.4,0.5M57.5,397.1l0.3,0.3M74.7,333.0l-0.5,0.0M26.5,400.1l-0.3,0.3M66.2,359.8l0.7,0.2M77.7,347.1l0.2,0.8M44.8,349.8l0.6,0.0M25.6,336.5l-0.1,0.4M83.1,378.7l-0.3,0.3M66.9,385.1l0.4,0.1M41.2,379.7l0.6,0.1M74.8,350.1l-0.3,0.3M40.7,393.9l0.3,0.4M92.7,345.5l0.7,0.6M92.8,387.7l-0.3,0.2M71.2,349.8l-0.4,0.8M49.4,345.1l0.6,0.0M84.6,366.6l0.5,0.0M49.2,355.6l0.6,0.2M39.0,344.3l0.6,0.5M34.5,374.1l0.1,0.3M83.9,365.8l-0.1,0.6M81.9,364.6l-0.5,0.6M69.0,363.4l0.4,0.4M36.9,368.2l-0.6,0.7M49.8,378.4l-0.1,0.7M75.1,360.0l0.3,0.5M48.1,367.1l0.3,0.5M81.6,386.3l0.3,0.4M25.9,388.7l0.3,0.0M80.0,361.8l-0.5,0.2M46.9,399.7l-0.4,0.1M77.2,351.4l0.4,0.8M70.5,396.9l0.1,0.7M46.0,347.3l-0.4,0.4M89.9,345.4l0.2,0.2M57.8,396.7l-0.6,0.3M92.7,401.0l-0.7,0.6M37.0,343.0l-0.6,0.3M75.7,372.1l0.6,0.2M41.6,402.8l0.0,0.4M57.4,358.6l0.5,0.0M23.7,370.1l0.3,0.8M44.9,382.2l-0.9,0.0M67.8,334.4l0.5,0.7M65.6,343.0l0.2,0.5M60.1,388.4l-0.1,0.3M79.9,356.0l-0.2,0.3M68.2,392.8l-0.2,0.8M56.8,378.0l0.7,0.1M57.0,349.6l-0.0,0.5M69.0,378.7l-0.4,0.3M52.5,400.4l0.5,0.3M35.3,392.6l0.3,0.8M60.5,377.1l0.4,0.3M33.2,331.4l-0.5,0.4M71.1,363.8l0.2,0.3M69.1,341.5l0.3,0.6M91.0,402.2l-0.7,0.6M23.2,348.7l-0.1,0.6M75.1,355.8l-0.4,0.4M57.3,390.0l0.5,0.5M57.7,375.2l-0.4,0.2M78.0,393.4l-0.3,0.1M27.8,358.3l0.4,0.3M49.2,380.1l-0.6,0.2M21.9,352.8l0.2,0.4M27.2,345.8l0.1,0.7M51.0,376.1l-0.3,0.8M57.8,375.4l0.7,0.3M79.0,392.6l-0.7,0.1M79.0,353.4l-0.5,0.7M28.9,343.6l-0.5,0.2M62.8,363.7l0.1,0.8M31.3,396.3l0.5,0.3M80.6,356.2l-0.6,0.1M44.7,365.8l0.1,0.6M83.8,341.9l0.0,0.8M70.1,389.9l0.6,0.2M36.5,384.1l0.2,0.9M30.6,363.3l-0.4,0.2M53.7,351.5l0.5,0.8M48.6,374.3l0.8,0.0M44.4,362.5l0.5,0.0M42.1,370.9l-0.3,0.7M85.8,388.7l-0.2,0.4M48.7,363.9l0.3,0.8M30.6,345.6l0.4,0.5M94.6,355.4l-0.2,0.8M60.6,375.4l-0.7,0.5M66.3,362.7l0.4,0.7M89.0,402.1l-0.3,0.1M60.0,364.9l-0.4,0.5M63.2,393.3l0.3,0.7M51.9,391.0l-0.7,0.5M58.5,400.7l-0.7,0.5M64.3,358.7l-0.6,0.3M93.6,351.8l-0.5,0.7M32.5,348.6l-0.1,0.3M21.9,332.7l0.2,0.7M29.3,369.2l0.4,0.0M56.1,351.5l-0.7,0.4M93.7,333.1l0.8,0.0M93.6,389.7l-0.2,0.5M85.8,375.9l-0.2,0.3M76.1,359.3l0.7,0.3M79.7,340.3l-0.4,0.6M61.6,402.6l0.1,0.4M27.8,367.0l0.8,0.4M30.3,374.7l0.3,0.4M70.1,369.2l-0.0,0.3M42.5,396.3l0.2,0.4M84.6,400.8l0.9,0.3M46.7,374.8l0.4,0.3M87.1,385.8l0.5,0.6M78.3,348.1l-0.7,0.3M23.4,337.0l-0.3,0.6M93.3,365.1l0.7,0.1M55.5,388.3l-0.9,0.1M82.4,355.8l-0.4,0.1M35.3,332.5l-0.6,0.7M41.5,381.9l0.3,0.3M34.0,335.3l-0.4,0.0M69.1,386.3l0.7,0.3M27.3,334.8l0.4,0.6M94.6,390.5l0.3,0.3M22.8,400.9l-0.2,0.6M77.9,342.0l-0.3,0.6M84.7,356.8l0.3,0.3M71.2,400.2l0.3,0.1M82.0,346.9l-0.3,0.4M62.5,399.6l0.3,0.0M27.8,340.5l-0.6,0.3M74.0,337.8l0.6,0.5M83.5,341.9l-0.3,0.1M71.4,339.6l0.6,0.4M23.4,350.2l-0.4,0.3M74.4,403.4l0.0,0.5M34.8,380.0l0.3,0.8M51.6,392.0l-0.2,0.7M78.8,397.3l-0.9,0.3M61.3,390.5l-0.2,0.3M57.1,403.0l0.4,0.9" fill="none" stroke="#24337e" stroke-width="1.60" stroke-linecap="round" opacity="0.62"/>
<path d="M37.7,388.6l0.0,0.4M22.1,357.8l-0.4,0.7M38.9,333.8l-0.5,0.6M24.4,354.7l0.4,0.5M33.2,390.4l0.7,0.3M47.0,366.1l-0.0,0.5M78.9,345.9l0.9,0.1M64.4,384.0l-0.4,0.9M94.6,358.9l0.0,0.4M58.2,366.6l-0.0,0.6M62.6,376.2l-0.5,0.2M47.2,374.3l-0.7,0.5M78.7,358.1l0.5,0.7M51.7,402.9l0.6,0.1M49.4,348.7l-0.2,0.3M78.5,366.0l-0.2,1.1M52.6,343.2l-1.0,0.1M76.4,365.7l-0.5,0.3M24.0,346.2l0.2,0.5M53.0,373.1l0.4,0.1M78.1,331.4l0.5,0.1M69.0,392.9l0.3,0.6M88.1,340.4l0.1,1.1M32.2,394.0l0.3,0.7M58.0,346.7l-0.6,0.4M62.1,334.1l-0.8,0.9M22.5,364.6l-0.6,0.2M40.4,381.6l-1.0,0.5M87.7,352.2l0.4,0.3M65.8,367.8l-0.6,0.7M60.3,371.6l0.9,0.7M45.2,403.2l0.1,1.2M77.4,363.4l-0.0,1.0M59.7,359.1l0.9,0.4M40.0,382.1l0.1,0.5M50.1,366.2l0.2,0.9M57.9,383.1l-0.9,0.3M70.7,393.4l-1.0,0.3M50.1,375.6l0.2,0.5M44.8,353.5l-0.7,0.2M44.0,399.6l-0.9,0.1M73.4,345.7l-0.7,0.5M91.4,354.2l0.6,0.5M36.5,374.4l-0.2,0.4M53.8,375.7l0.4,0.9M35.7,400.8l0.3,0.2M23.3,367.3l0.6,0.5M22.5,370.4l0.5,0.6M49.0,340.6l0.5,0.5M76.5,386.1l-1.0,0.3M67.2,365.1l-0.5,0.5M43.7,376.5l-0.2,1.0M71.5,344.6l0.5,0.4M71.7,378.4l0.7,0.3M51.8,381.1l0.5,0.8M37.5,333.7l0.4,0.8M73.8,366.7l-0.2,0.8M71.6,346.6l0.2,0.7M92.8,359.2l0.8,0.3M47.6,375.5l0.3,0.5M89.9,369.8l-0.7,0.2M78.6,384.7l0.8,0.3M34.9,370.1l0.2,0.7M52.8,373.1l-0.3,0.7M89.7,368.9l-0.6,0.2M52.9,377.5l-0.9,0.6M53.3,358.3l0.3,0.3M24.5,390.8l0.7,0.4M94.5,358.2l-0.7,0.3M64.0,403.5l0.6,0.6M57.2,334.7l-0.9,0.7M50.4,376.6l-0.1,0.5M49.3,349.0l-0.1,0.8M82.7,350.0l0.4,0.3M58.3,382.8l-0.6,0.2M48.8,344.8l-0.8,0.3M30.9,395.0l1.1,0.0M54.3,367.2l-0.5,0.0M48.6,356.0l-0.2,0.3M38.2,388.3l-0.5,0.2M64.8,373.3l-0.4,0.9M45.8,354.7l-0.3,1.1M67.5,392.6l1.0,0.6M51.5,386.2l-0.2,0.4M39.6,374.5l0.5,0.1M59.9,379.1l0.6,0.2M48.0,388.0l0.6,0.2M64.3,344.0l-0.9,0.4M74.5,369.4l0.3,0.4M50.4,389.2l0.6,0.2M79.9,385.7l0.5,0.1M54.3,347.6l-0.6,0.0M67.8,365.3l-0.4,0.2M44.2,354.8l0.4,0.2M24.2,346.3l-0.1,1.1M69.5,363.6l-0.6,0.3M65.3,391.4l-0.6,0.4M83.8,341.3l-0.0,0.6M86.2,348.7l0.5,0.8M66.7,385.0l0.2,0.5M93.4,367.1l0.2,0.3M53.4,379.2l0.4,1.0M22.2,337.5l-0.1,0.6M30.0,368.0l0.1,0.8M50.5,383.9l0.7,0.4M93.5,349.5l0.3,0.3M42.3,387.9l0.5,0.4M37.5,332.5l-0.3,0.3M89.8,353.2l0.0,0.8M84.4,385.2l-0.4,0.2M53.6,394.5l-0.5,0.4M55.6,381.3l0.9,0.4M34.1,370.8l-0.7,0.9M44.5,341.0l0.7,0.7M92.5,362.9l-0.8,0.2M54.1,385.4l-0.3,0.4M26.9,397.2l0.4,0.5M47.7,369.9l0.4,0.3M56.5,387.0l0.4,0.8M61.0,385.6l-0.0,0.8M93.3,369.3l-0.0,1.0M76.7,361.6l-0.4,0.5M68.9,376.6l0.4,0.2M61.2,381.5l0.3,0.6M39.2,362.1l-0.3,0.4M72.5,362.2l0.8,0.6M70.9,403.1l-0.5,0.3M64.8,395.9l-0.1,0.8M53.2,334.9l0.5,0.6M46.4,388.8l1.1,0.2M74.6,379.9l0.8,0.8M84.7,374.6l-0.7,0.2M25.0,342.8l0.5,0.3M51.4,401.0l-0.4,0.1M35.0,339.0l0.4,0.4M62.0,388.8l0.5,1.1M76.8,401.9l0.2,1.1M45.2,338.1l-0.2,0.3M73.7,350.1l0.3,0.6M79.0,398.1l0.5,0.3M88.0,344.5l0.9,0.7M54.5,400.9l-0.1,0.7M91.1,365.0l0.5,0.7M40.9,387.8l0.2,0.3M67.9,369.4l0.9,0.5M76.9,341.3l-0.5,0.8M58.0,361.1l0.2,0.9M75.3,334.4l0.9,0.1M89.7,351.2l-0.8,0.4M89.3,380.9l-0.1,0.9M47.1,358.0l-0.5,0.4M31.3,401.4l0.8,0.3M73.8,397.1l-0.5,1.0M76.3,353.1l0.8,0.1M24.6,350.0l-0.4,0.1M93.4,349.6l-0.5,0.8M56.6,387.9l-0.7,0.4M39.7,379.3l-0.5,0.9M68.7,399.9l0.3,0.2M89.0,341.2l-0.3,0.4M38.2,398.0l0.4,0.2M44.8,393.8l-1.0,0.4M43.7,358.9l0.1,1.0M46.8,370.8l0.3,0.4M64.1,360.4l-0.2,0.6M66.2,372.6l1.0,0.2M60.3,391.4l0.9,0.0M85.7,368.5l0.5,0.3M53.1,350.1l0.4,0.9M56.3,379.9l-0.2,0.4M34.7,382.6l0.4,0.7M59.3,401.9l-0.7,0.1M49.4,336.3l-0.9,0.6M62.2,403.3l-0.4,0.4M63.6,390.4l0.9,0.4M80.1,374.5l0.6,0.5M30.3,386.4l0.2,0.8M72.7,398.2l-0.5,0.1M27.5,331.9l1.0,0.2M31.7,380.8l0.6,0.5M94.4,372.0l0.7,0.8M67.5,376.4l-0.4,1.0M48.0,359.6l0.2,0.5M44.2,377.6l-0.3,0.4M68.5,364.2l1.2,0.2M74.0,369.5l-0.4,0.2M77.6,394.6l0.1,0.4M62.2,362.3l0.8,0.2M47.3,363.1l-0.9,0.7M31.4,397.5l-0.7,0.2M63.1,341.2l0.9,0.1M49.2,350.9l0.0,0.5M57.0,354.4l0.4,0.3M77.9,362.1l-0.6,0.1M36.1,375.8l-0.8,0.1M94.2,347.7l-0.6,0.8M89.2,400.4l0.8,0.7M71.0,382.0l-0.4,0.1M24.9,364.7l0.3,0.5M89.7,339.8l-0.3,1.0M47.9,375.9l-0.7,0.3M31.5,332.8l-0.9,0.0M93.1,363.0l-0.5,0.6M32.1,401.0l-0.3,0.8M57.7,332.9l-0.6,0.5M54.5,356.9l0.3,0.5M65.1,386.7l0.3,0.5M22.5,394.1l-0.2,1.2M87.4,350.9l-0.6,0.0M77.4,397.7l0.2,0.8M29.9,354.4l0.2,0.4M38.1,335.5l0.9,0.7M74.3,364.0l0.1,0.4M51.5,362.2l-0.2,0.5M63.3,369.6l-0.9,0.3M38.1,337.0l0.6,0.1M90.7,348.5l0.6,0.2M61.8,363.8l-0.9,0.6M29.4,401.6l-0.7,0.3M92.3,330.8l-0.2,0.8M32.7,338.0l0.8,0.9M38.7,397.9l1.0,0.6M66.3,364.2l0.8,0.6M65.0,398.2l0.0,0.4M47.0,390.1l-0.7,0.5M79.9,339.4l1.1,0.4M43.1,364.1l-0.8,0.4M82.0,332.3l1.1,0.3M66.2,390.9l1.2,0.2M47.0,338.3l-0.8,0.7M55.3,403.4l-0.9,0.2M48.0,343.4l0.3,0.7M51.7,398.9l0.2,0.8M54.9,334.0l-0.5,0.8M90.4,338.2l0.0,1.0M79.9,371.9l1.1,0.1M92.3,332.4l0.4,0.4M43.3,370.8l-0.5,0.6M54.4,383.7l0.2,0.4M88.6,353.7l-0.5,0.6M67.8,360.9l0.4,0.6M28.4,375.4l-0.3,1.1M41.7,390.6l-0.3,0.6M91.7,401.2l0.6,0.2M29.5,342.4l0.4,0.3M87.5,388.2l-0.5,0.5M90.0,362.8l0.3,0.4M24.2,384.5l-0.7,0.8M35.1,360.9l-0.3,0.5M80.0,363.4l0.1,0.5M47.8,400.3l0.3,0.4M83.6,361.5l0.0,0.9" fill="none" stroke="#24337e" stroke-width="2.00" stroke-linecap="round" opacity="0.53"/>
<ellipse cx="43.1" cy="336.1" rx="1.8" ry="1.5" fill="#2fd84a" opacity="0.95" transform="rotate(167 43.1 336.1)"/>
<ellipse cx="29.5" cy="340.8" rx="1.9" ry="1.7" fill="#2fd84a" opacity="0.95" transform="rotate(108 29.5 340.8)"/>
<ellipse cx="23.3" cy="348.7" rx="1.6" ry="1.2" fill="#2fd84a" opacity="0.95" transform="rotate(154 23.3 348.7)"/>
<ellipse cx="29.5" cy="347.5" rx="1.5" ry="1.0" fill="#2fd84a" opacity="0.95" transform="rotate(37 29.5 347.5)"/>
<ellipse cx="41.9" cy="371.5" rx="2.2" ry="2.0" fill="#2fd84a" opacity="0.95" transform="rotate(117 41.9 371.5)"/>
<ellipse cx="47.2" cy="366.7" rx="1.6" ry="1.3" fill="#2fd84a" opacity="0.95" transform="rotate(61 47.2 366.7)"/>
<ellipse cx="31.2" cy="389.4" rx="2.8" ry="2.2" fill="#2fd84a" opacity="0.95" transform="rotate(114 31.2 389.4)"/>
<ellipse cx="36.0" cy="387.0" rx="1.8" ry="1.4" fill="#2fd84a" opacity="0.95" transform="rotate(33 36.0 387.0)"/>
<ellipse cx="74.3" cy="377.5" rx="2.0" ry="1.7" fill="#2fd84a" opacity="0.95" transform="rotate(14 74.3 377.5)"/>
<ellipse cx="88.6" cy="387.0" rx="2.6" ry="1.9" fill="#2fd84a" opacity="0.95" transform="rotate(159 88.6 387.0)"/>
<ellipse cx="67.1" cy="395.9" rx="2.4" ry="2.1" fill="#2fd84a" opacity="0.95" transform="rotate(24 67.1 395.9)"/>
<ellipse cx="81.4" cy="395.9" rx="2.4" ry="2.1" fill="#2fd84a" opacity="0.95" transform="rotate(100 81.4 395.9)"/>
<ellipse cx="71.9" cy="391.1" rx="1.3" ry="1.0" fill="#2fd84a" opacity="0.95" transform="rotate(110 71.9 391.1)"/>
<line x1="31.4" y1="337.9" x2="33.3" y2="335.6" stroke="#d81a44" stroke-width="0.9" stroke-linecap="round" opacity="0.9"/>
<line x1="49.3" y1="333.8" x2="51.4" y2="332.6" stroke="#d81a44" stroke-width="0.9" stroke-linecap="round" opacity="0.9"/>
<line x1="68.8" y1="336.1" x2="70.1" y2="335.1" stroke="#d81a44" stroke-width="0.9" stroke-linecap="round" opacity="0.9"/>
<line x1="33.1" y1="348.7" x2="31.7" y2="351.1" stroke="#d81a44" stroke-width="0.9" stroke-linecap="round" opacity="0.9"/>
<line x1="63.9" y1="352.1" x2="65.5" y2="355.0" stroke="#d81a44" stroke-width="0.9" stroke-linecap="round" opacity="0.9"/>
<line x1="67.6" y1="358.0" x2="69.0" y2="356.3" stroke="#d81a44" stroke-width="0.9" stroke-linecap="round" opacity="0.9"/>
<line x1="61.5" y1="371.0" x2="63.1" y2="369.6" stroke="#d81a44" stroke-width="0.9" stroke-linecap="round" opacity="0.9"/>
<line x1="44.5" y1="381.7" x2="46.5" y2="385.2" stroke="#d81a44" stroke-width="0.9" stroke-linecap="round" opacity="0.9"/>
<line x1="40.8" y1="389.6" x2="38.3" y2="391.7" stroke="#d81a44" stroke-width="0.9" stroke-linecap="round" opacity="0.9"/>
<line x1="53.1" y1="395.2" x2="54.7" y2="393.3" stroke="#d81a44" stroke-width="0.9" stroke-linecap="round" opacity="0.9"/>
<line x1="82.2" y1="382.8" x2="80.7" y2="384.1" stroke="#d81a44" stroke-width="0.9" stroke-linecap="round" opacity="0.9"/>
<line x1="85.5" y1="381.0" x2="86.9" y2="383.5" stroke="#d81a44" stroke-width="0.9" stroke-linecap="round" opacity="0.9"/>
<line x1="77.4" y1="387.6" x2="75.9" y2="388.9" stroke="#d81a44" stroke-width="0.9" stroke-linecap="round" opacity="0.9"/>
<line x1="72.6" y1="354.7" x2="71.2" y2="357.1" stroke="#d81a44" stroke-width="0.9" stroke-linecap="round" opacity="0.9"/>
<line x1="91.5" y1="356.8" x2="92.9" y2="355.1" stroke="#d81a44" stroke-width="0.9" stroke-linecap="round" opacity="0.9"/>
<line x1="79.6" y1="345.4" x2="78.5" y2="347.3" stroke="#d81a44" stroke-width="0.9" stroke-linecap="round" opacity="0.9"/>
<line x1="58.3" y1="401.3" x2="56.7" y2="403.9" stroke="#d81a44" stroke-width="0.9" stroke-linecap="round" opacity="0.9"/>
<line x1="48.0" y1="341.3" x2="50.2" y2="339.5" stroke="#d81a44" stroke-width="0.9" stroke-linecap="round" opacity="0.9"/>
<line x1="24.0" y1="369.8" x2="26.4" y2="368.4" stroke="#d81a44" stroke-width="0.9" stroke-linecap="round" opacity="0.9"/>
<line x1="58.1" y1="362.6" x2="59.3" y2="361.2" stroke="#d81a44" stroke-width="0.9" stroke-linecap="round" opacity="0.9"/>
<line x1="84.0" y1="369.9" x2="86.0" y2="368.2" stroke="#d81a44" stroke-width="0.9" stroke-linecap="round" opacity="0.9"/>
<line x1="88.5" y1="341.1" x2="91.1" y2="339.6" stroke="#d81a44" stroke-width="0.9" stroke-linecap="round" opacity="0.9"/>
<line x1="26.6" y1="398.6" x2="28.5" y2="397.0" stroke="#d81a44" stroke-width="0.9" stroke-linecap="round" opacity="0.9"/>
<line x1="46.1" y1="376.4" x2="47.4" y2="378.6" stroke="#d81a44" stroke-width="0.9" stroke-linecap="round" opacity="0.9"/>
<circle cx="37.2" cy="354.2" r="5.6" fill="#020208" filter="url(#fb10)"/>
<circle cx="86.2" cy="393.8" r="4.4" fill="#020208" filter="url(#fb10)"/>
</g></g>
<clipPath id="fc2"><rect x="103.5" y="330.7" width="73.1" height="73"/></clipPath>
<rect x="103.50" y="330.70" width="73.10" height="73.00" fill="#0a0f34"/>
<g clip-path="url(#fc2)"><g filter="url(#fb5)">
<path d="M173.5,340.9l-0.6,0.2M151.1,355.9l-0.7,0.1M147.4,398.7l-0.3,0.7M167.9,373.7l0.4,0.4M172.1,387.2l-0.3,0.2M122.4,400.5l-0.7,0.2M113.9,390.9l0.2,0.2M105.9,398.2l0.3,0.1M170.5,353.1l0.3,0.6M143.2,362.3l0.3,0.2M129.5,362.2l-0.4,0.6M132.8,337.7l0.7,0.0M127.5,356.8l-0.2,0.3M150.8,345.4l0.0,0.3M170.8,364.3l0.0,0.2M176.0,385.0l-0.4,0.4M160.8,390.5l0.3,0.2M149.9,355.6l-0.1,0.4M106.6,401.3l-0.4,0.4M166.8,343.9l-0.2,0.2M128.7,384.3l0.6,0.4M165.6,333.1l-0.3,0.4M156.0,364.6l-0.3,0.0M152.2,342.2l-0.1,0.3M147.6,333.8l0.2,0.3M149.7,402.6l0.1,0.2M128.5,393.8l0.5,0.3M116.3,389.3l0.4,0.3M141.0,344.4l-0.6,0.1M154.4,390.4l0.6,0.2M159.2,358.9l-0.1,0.5M131.3,347.9l-0.6,0.4M166.7,374.4l0.3,0.6M153.7,389.6l0.4,0.3M140.4,399.2l-0.6,0.2M127.8,401.5l0.3,0.6M151.2,354.2l-0.2,0.7M125.3,332.4l-0.4,0.3M116.3,365.5l0.1,0.3M143.1,394.8l-0.3,0.1M141.1,346.6l0.4,0.1M107.1,403.3l0.3,0.1M140.4,335.8l-0.2,0.3M137.1,376.7l-0.4,0.2M129.9,351.6l-0.6,0.3M160.4,346.6l0.4,0.4M170.8,373.4l-0.2,0.3M128.2,359.8l0.7,0.1M144.2,390.8l0.3,0.0M142.2,380.5l0.6,0.3M129.4,389.0l-0.2,0.4M133.9,340.0l0.0,0.7M160.3,340.0l0.5,0.4M130.7,378.1l0.2,0.3M115.0,399.4l-0.3,0.4M138.3,343.5l-0.1,0.6M136.5,381.6l0.4,0.1M107.2,339.7l0.2,0.6M149.3,355.2l-0.4,0.3M133.3,333.8l0.2,0.6M171.2,368.0l-0.2,0.2M173.2,397.8l-0.6,0.4M166.0,359.1l0.4,0.5M124.1,377.6l0.0,0.4M136.8,342.8l0.5,0.1M161.5,376.8l-0.3,0.3M109.5,364.9l-0.1,0.3M169.1,351.2l-0.5,0.3M162.7,369.1l0.0,0.3M126.2,393.3l0.4,0.0M120.2,356.4l0.2,0.2M168.6,365.8l0.4,0.6M112.5,352.2l-0.0,0.6M123.6,335.8l0.1,0.4M119.0,342.1l0.5,0.3M107.1,366.2l-0.3,0.4M103.6,383.2l0.1,0.5M141.4,340.7l0.6,0.4M115.1,334.7l-0.3,0.1M120.5,340.0l-0.6,0.3M145.9,332.5l0.6,0.1M134.3,391.6l-0.3,0.2M132.0,348.8l0.4,0.3M165.6,393.6l0.3,0.0M123.4,386.7l-0.3,0.3M174.1,388.7l0.2,0.7M139.5,403.6l-0.3,0.2M130.9,390.4l0.2,0.0M129.4,366.0l-0.3,0.5M143.4,380.6l-0.5,0.0M132.4,361.3l-0.2,0.6M173.3,382.3l-0.0,0.5M158.4,383.5l0.2,0.4M131.9,394.1l-0.3,0.4M118.9,346.4l-0.3,0.3M157.1,401.5l-0.2,0.4M113.0,336.3l-0.1,0.6M127.8,401.2l0.2,0.1M117.8,368.4l0.3,0.2M124.3,344.1l0.5,0.2M120.0,356.9l0.1,0.5M125.0,379.9l-0.2,0.2M113.0,360.2l-0.6,0.2M138.3,378.5l0.4,0.5M140.3,385.4l-0.2,0.1M120.4,337.4l0.3,0.5M175.6,390.9l0.2,0.3M127.9,342.1l0.2,0.3M110.9,372.1l-0.3,0.4M127.7,377.3l0.3,0.7M150.6,387.3l0.2,0.5M138.6,334.0l-0.7,0.2M134.9,343.2l0.1,0.4M125.4,363.3l-0.2,0.5M174.2,342.8l-0.1,0.5M165.6,366.0l0.3,0.2M164.4,338.2l-0.1,0.3M133.0,402.6l0.0,0.2M136.2,351.9l0.1,0.3M169.8,386.4l0.0,0.7M131.1,377.8l0.3,0.2M167.0,356.2l0.2,0.3M140.5,394.1l0.3,0.1M169.0,369.4l-0.4,0.6M175.5,403.1l0.6,0.0M110.8,397.2l-0.5,0.4M171.3,386.0l-0.2,0.2M130.8,357.2l0.4,0.6M153.2,364.9l-0.0,0.6M161.6,387.2l0.5,0.5M174.3,335.6l-0.3,0.1M166.2,392.2l-0.5,0.6M165.9,398.6l0.4,0.1M104.1,380.3l-0.6,0.2M169.6,334.4l0.1,0.3M137.3,382.7l-0.2,0.1M139.0,354.4l-0.3,0.0M113.0,393.0l0.3,0.4M166.1,402.7l-0.2,0.6M122.7,384.2l0.2,0.7M162.4,340.8l0.2,0.4M107.5,345.4l-0.4,0.0M176.5,349.5l0.0,0.3M156.4,387.3l-0.4,0.3M161.7,399.3l-0.5,0.3M112.2,371.7l0.1,0.2M145.4,369.7l0.2,0.4M112.8,369.1l0.2,0.4M116.3,367.7l0.3,0.2M138.3,348.7l-0.6,0.2M130.9,339.0l0.3,0.6M104.7,381.9l0.6,0.1M175.2,367.1l0.2,0.3M149.8,368.7l-0.0,0.5M133.9,353.0l0.2,0.3M171.0,332.8l0.2,0.6M104.7,387.9l-0.7,0.2M171.3,347.2l-0.5,0.6M149.4,369.7l0.7,0.1M172.3,339.3l0.1,0.2M109.6,377.8l0.5,0.4M161.0,347.9l-0.1,0.2M172.5,383.3l0.4,0.6M126.5,335.1l-0.7,0.0M167.7,332.9l-0.7,0.2M143.5,391.0l-0.4,0.2M112.5,381.2l0.4,0.4M114.0,385.9l0.5,0.1M116.0,354.7l0.2,0.3M151.6,395.8l0.1,0.6M135.1,384.3l0.0,0.3M135.7,356.6l-0.3,0.0M155.4,378.2l-0.2,0.7M147.0,339.1l-0.3,0.4M124.8,332.1l-0.3,0.1M131.4,350.1l-0.0,0.3M130.2,394.9l-0.0,0.4M168.2,373.8l-0.4,0.2M131.1,350.1l0.3,0.2M168.9,341.0l0.5,0.2M149.7,376.9l-0.7,0.3M126.1,333.5l-0.2,0.2M134.1,391.7l-0.2,0.3M171.4,380.7l0.3,0.1M105.5,395.6l-0.2,0.2M121.1,366.1l-0.4,0.2M166.8,362.1l0.3,0.7M148.4,358.9l0.4,0.2M130.5,385.0l-0.5,0.3M104.5,375.8l0.2,0.2M122.9,353.9l-0.5,0.3M118.0,340.5l-0.3,0.1M109.5,360.4l0.4,0.5M154.4,389.2l0.4,0.6M176.1,386.3l0.2,0.2M104.0,334.4l0.0,0.3M173.6,385.4l0.3,0.7M148.4,402.5l-0.2,0.4M169.1,331.8l-0.3,0.6M144.6,362.5l0.7,0.1M123.9,390.2l-0.4,0.1M144.4,392.1l0.5,0.4M109.8,376.3l-0.0,0.3M170.2,354.6l-0.2,0.5M139.8,360.9l-0.1,0.2M174.4,384.0l-0.1,0.5M104.8,358.9l-0.6,0.3M169.1,360.5l-0.3,0.4M109.5,382.2l0.5,0.5M124.8,363.8l0.5,0.5M153.3,393.1l-0.0,0.4M134.9,403.0l0.2,0.5M114.8,362.3l-0.0,0.3M123.0,363.8l0.1,0.2M174.4,351.8l-0.1,0.3M140.0,366.5l0.2,0.2M114.5,378.2l-0.0,0.2M173.3,356.9l0.0,0.6M143.2,396.1l0.4,0.2M123.4,371.6l0.3,0.4M150.6,382.9l0.2,0.4M152.7,381.3l-0.2,0.1M117.6,333.9l-0.7,0.2M168.2,367.2l-0.3,0.6M121.0,376.2l-0.3,0.3M122.0,350.7l0.3,0.1M154.3,396.9l-0.2,0.6M163.7,336.9l-0.5,0.6M147.9,342.9l0.3,0.4M158.9,344.8l0.5,0.5M150.1,392.2l0.5,0.1M158.9,359.5l-0.3,0.1M109.7,337.9l-0.5,0.0M125.5,374.9l-0.4,0.0M134.5,372.7l-0.4,0.1M112.0,357.6l-0.6,0.4M162.7,347.2l-0.1,0.6M168.3,331.8l-0.5,0.5M148.2,350.1l-0.5,0.3M151.6,375.0l-0.3,0.4M168.7,334.8l0.2,0.2M139.0,392.3l-0.3,0.1M150.8,350.2l0.1,0.3M147.4,373.8l0.2,0.2M103.7,353.9l-0.0,0.3M141.4,388.1l-0.5,0.2M170.4,385.5l0.3,0.1M152.7,401.7l-0.5,0.5M153.0,375.9l0.1,0.2M115.6,364.2l0.4,0.4M145.1,388.7l0.3,0.6M164.4,401.5l0.7,0.1M141.3,344.4l0.6,0.2M168.9,371.3l-0.0,0.7M118.4,362.8l0.1,0.4M140.4,352.4l0.3,0.6M164.4,363.7l-0.2,0.4M139.0,352.9l0.1,0.4M133.5,354.9l0.7,0.2M150.9,349.0l-0.7,0.3M130.9,369.5l-0.0,0.3M153.8,376.7l0.3,0.1M166.2,401.1l0.0,0.4M174.9,341.1l-0.7,0.1M139.5,344.4l0.1,0.4M124.5,358.3l0.2,0.4M123.3,380.4l0.1,0.3M123.7,402.5l-0.5,0.3M134.7,335.2l-0.4,0.0M125.5,368.1l0.1,0.6M110.4,334.3l0.2,0.7M114.5,393.1l-0.3,0.3M172.9,333.3l-0.3,0.4M134.2,392.7l-0.3,0.1M142.2,384.9l0.3,0.3M124.2,378.2l0.3,0.1M145.4,392.4l-0.5,0.2M151.9,335.2l-0.5,0.4M161.1,391.0l-0.2,0.4M165.9,351.2l-0.4,0.2M160.0,352.8l-0.3,0.1M124.9,359.4l-0.3,0.7M161.7,344.1l-0.0,0.4M115.7,333.3l0.0,0.5" fill="none" stroke="#23327c" stroke-width="1.28" stroke-linecap="round" opacity="0.46"/>
<path d="M105.2,403.6l0.5,0.3M168.5,347.6l0.5,0.4M153.6,398.1l-0.1,0.7M126.2,344.6l-0.2,0.2M173.8,372.0l0.5,0.1M126.3,387.7l0.8,0.2M152.3,344.2l-0.3,0.3M140.5,368.5l-0.1,0.5M130.8,373.2l0.3,0.6M152.7,369.3l0.0,0.3M132.9,398.6l0.7,0.1M169.0,343.2l-0.6,0.3M117.5,333.4l-0.1,0.6M154.2,334.5l-0.0,0.8M165.4,367.1l-0.1,0.6M138.1,383.8l0.4,0.4M148.0,399.5l0.0,0.6M116.0,381.2l0.5,0.1M129.3,339.3l-0.6,0.1M123.7,337.8l-0.5,0.5M171.1,391.6l-0.7,0.1M118.4,366.5l0.6,0.2M121.7,347.5l-0.9,0.1M168.5,377.9l-0.2,0.5M139.1,332.9l-0.2,0.3M165.4,347.7l-0.7,0.5M163.3,331.4l0.4,0.7M168.8,371.0l-0.8,0.3M123.8,342.3l-0.7,0.4M174.7,344.6l0.0,0.6M151.4,344.9l0.1,0.5M141.3,401.5l0.0,0.3M142.0,386.7l0.1,0.7M163.8,337.9l0.5,0.7M170.0,360.8l-0.9,0.3M172.3,383.8l-0.2,0.8M124.1,348.1l0.4,0.1M126.6,338.2l0.5,0.2M133.8,356.5l0.5,0.0M173.6,358.1l-0.6,0.2M112.9,348.1l0.6,0.2M163.5,339.0l-0.3,0.7M128.3,358.5l0.4,0.2M107.1,380.8l0.2,0.6M104.2,336.7l-0.5,0.3M138.0,377.1l-0.4,0.5M125.7,348.2l0.1,0.3M144.2,343.5l-0.9,0.2M122.6,394.1l-0.4,0.5M145.4,374.6l-0.4,0.2M130.7,402.2l0.6,0.1M157.3,334.1l0.2,0.3M153.2,382.8l0.6,0.7M122.6,331.3l-0.2,0.2M140.7,342.4l0.5,0.6M109.6,367.3l-0.2,0.4M145.7,347.4l-0.2,0.9M108.6,391.0l0.9,0.0M135.0,384.2l0.3,0.3M128.6,371.6l0.0,0.6M169.6,381.1l0.4,0.2M136.5,358.8l-0.3,0.4M124.6,375.4l0.6,0.1M106.5,390.3l-0.1,0.9M104.9,339.0l-0.3,0.6M126.0,379.2l-0.7,0.2M119.7,344.5l-0.2,0.7M169.2,384.5l0.2,0.8M168.1,365.6l0.1,0.9M164.1,339.3l-0.3,0.9M133.8,341.6l0.7,0.3M134.9,386.6l0.5,0.4M120.6,384.4l0.1,0.3M125.8,359.4l-0.6,0.4M122.0,400.8l0.4,0.6M146.2,338.8l-0.3,0.1M153.6,388.1l0.5,0.7M141.1,348.2l-0.9,0.0M143.0,348.0l0.3,0.4M147.1,380.1l0.3,0.2M125.9,389.1l0.5,0.3M110.7,338.9l-0.2,0.2M159.6,337.6l0.6,0.5M127.3,350.1l-0.4,0.3M175.1,350.4l-0.4,0.0M133.7,385.0l0.4,0.3M160.6,347.9l0.0,0.9M139.0,369.0l0.7,0.6M139.6,380.7l-0.3,0.9M142.9,402.7l-0.8,0.4M159.3,357.9l-0.3,0.7M145.2,357.5l0.0,0.5M159.0,333.3l-0.2,0.3M133.1,364.8l0.7,0.6M141.7,334.2l0.1,0.6M158.3,368.3l-0.2,0.5M140.9,393.7l0.6,0.5M157.5,393.8l0.3,0.8M143.3,383.4l-0.0,0.5M136.4,389.4l0.3,0.7M132.7,350.5l0.9,0.3M149.2,376.4l0.6,0.4M141.8,385.2l0.7,0.0M160.9,363.3l0.6,0.4M111.6,368.9l0.2,0.9M105.1,353.0l0.7,0.6M146.2,362.8l-0.4,0.4M169.2,376.8l-0.5,0.4M161.0,367.1l0.3,0.7M174.6,382.9l-0.5,0.3M154.8,397.3l-0.2,0.3M175.6,338.5l-0.8,0.4M140.2,347.0l-0.6,0.1M149.7,369.5l-0.5,0.6M138.8,339.3l0.3,0.2M161.8,332.9l-0.4,0.8M110.0,380.9l-0.4,0.6M149.1,391.5l-0.4,0.1M141.2,396.0l-0.4,0.0M106.5,377.0l-0.4,0.2M140.6,369.4l-0.4,0.4M138.5,373.8l-0.6,0.1M165.1,343.6l-0.3,0.3M149.7,377.8l-0.4,0.2M112.6,383.0l-0.3,0.3M168.8,369.3l0.4,0.1M115.7,372.6l0.0,0.3M130.7,339.3l0.2,0.2M165.1,385.2l0.5,0.4M124.8,330.8l0.6,0.4M121.3,360.1l0.4,0.4M116.6,397.2l0.0,0.7M167.8,385.5l0.0,0.3M140.0,341.5l-0.3,0.5M104.9,381.6l0.6,0.3M106.9,387.4l0.7,0.0M121.3,363.4l0.4,0.6M126.3,402.5l0.7,0.2M135.9,366.0l0.1,0.3M119.6,358.8l-0.0,0.4M117.4,359.6l-0.4,0.2M161.5,387.4l0.5,0.3M155.2,363.5l-0.3,0.6M174.0,386.5l-0.4,0.6M121.5,384.0l-0.7,0.0M147.3,354.7l0.4,0.8M164.3,383.3l0.1,0.5M153.1,382.1l0.8,0.0M139.5,366.3l-0.1,0.4M118.0,376.8l-0.4,0.1M161.0,332.2l-0.2,0.7M144.6,402.0l0.1,0.5M109.1,355.6l-0.3,0.6M157.6,357.7l0.2,0.5M144.4,346.6l-0.0,0.6M124.2,341.5l0.4,0.8M167.9,364.5l-0.5,0.8M155.3,336.5l0.7,0.5M136.1,364.0l-0.2,0.5M106.0,376.3l-0.0,0.8M151.5,347.7l-0.1,0.4M130.0,379.1l0.5,0.6M104.2,364.7l0.4,0.1M145.9,344.8l-0.4,0.6M144.3,394.8l-0.5,0.3M149.6,396.9l0.5,0.8M138.6,390.4l0.5,0.6M166.8,389.8l0.5,0.2M124.0,352.0l0.1,0.6M176.1,331.0l0.8,0.1M167.8,348.6l-0.8,0.1M163.4,397.2l-0.8,0.5M143.1,340.6l-0.9,0.1M129.5,340.5l0.1,0.3M139.7,398.5l0.1,0.3M127.4,344.9l-0.0,0.9M140.0,377.2l-0.4,0.2M117.4,353.1l-0.2,0.4M125.7,403.2l-0.3,0.2M142.7,383.5l0.6,0.2M116.4,334.7l-0.6,0.1M111.2,378.6l-0.0,0.9M144.3,394.3l-0.2,0.7M134.8,394.3l-0.1,0.5M111.3,331.9l0.1,0.6M140.3,380.3l0.4,0.2M114.3,382.6l0.7,0.3M175.4,333.1l0.1,0.7M103.5,350.8l0.3,0.7M151.5,398.5l-0.3,0.2M154.4,356.0l0.8,0.1M130.7,381.9l0.7,0.6M146.5,374.6l0.2,0.4M164.9,330.8l0.7,0.1M137.3,334.0l-0.1,0.3M154.6,375.0l-0.2,0.2M104.4,372.3l0.1,0.9M105.8,389.5l0.9,0.1M127.0,332.4l-0.4,0.3M174.2,385.8l-0.1,0.4M162.1,391.9l-0.5,0.8M163.7,390.4l0.1,0.3M154.7,400.0l0.5,0.0M171.2,372.3l-0.4,0.8M156.3,349.4l-0.8,0.2M144.1,358.1l-0.3,0.7M124.2,387.3l-0.2,0.3M113.6,337.9l-0.4,0.3M113.6,362.3l0.8,0.4M137.1,372.9l-0.3,0.2M174.2,375.9l-0.0,0.3M175.8,382.5l-0.4,0.3M173.1,345.9l0.1,0.7M107.4,377.0l-0.2,0.2M129.3,381.4l-0.2,0.5M115.4,343.4l0.5,0.7M168.6,374.4l-0.4,0.6M156.8,331.1l0.4,0.4M147.1,387.8l-0.0,0.6M159.9,333.2l0.1,0.9M170.5,378.4l0.3,0.2M153.3,392.6l-0.0,0.7M107.3,370.7l-0.4,0.2M152.0,342.7l-0.4,0.0M106.8,378.2l0.1,0.5M117.8,376.0l0.4,0.2M163.3,358.4l0.2,0.4M126.9,338.2l0.6,0.5M152.7,366.9l0.5,0.7M127.8,397.8l0.1,0.3M164.6,391.4l0.7,0.4M144.7,332.6l-0.2,0.9M167.4,396.2l0.1,0.5M141.3,336.7l0.2,0.6M170.9,336.0l-0.7,0.7M144.0,350.1l-0.5,0.7M156.3,364.2l0.3,0.5M166.8,332.0l0.9,0.0M176.4,355.9l-0.7,0.2M173.2,395.1l0.3,0.5M140.9,394.1l-0.1,0.5M104.4,378.7l0.0,0.4M151.0,384.0l-0.8,0.5M150.9,375.8l-0.5,0.7M119.5,374.1l-0.6,0.1M138.9,334.9l0.7,0.1M169.6,390.6l0.1,0.5M170.6,342.8l0.5,0.5M134.0,336.8l-0.5,0.2M135.9,377.0l-0.1,0.6M106.2,364.5l-0.5,0.3M115.2,366.6l-0.3,0.0M108.8,397.1l-0.5,0.1M165.0,387.5l-0.4,0.4M165.1,333.1l0.6,0.7M106.1,375.9l-0.1,0.4M128.7,340.6l-0.2,0.6M158.9,369.2l-0.6,0.0M175.2,361.2l-0.2,0.7M107.1,335.4l0.6,0.0M124.4,333.7l-0.6,0.1M107.1,390.8l0.3,0.3M116.1,397.2l0.3,0.5M136.1,332.1l0.4,0.5M117.4,379.5l0.3,0.2M152.8,373.1l0.5,0.1M108.1,337.6l0.4,0.2M111.9,390.0l0.4,0.3M135.6,380.4l-0.2,0.3M112.2,362.3l0.5,0.7M149.1,388.5l0.9,0.1M150.1,345.6l0.5,0.2M135.1,339.1l-0.8,0.2M122.0,392.3l0.4,0.4M138.1,338.5l0.3,0.6M117.2,397.2l0.8,0.1M122.3,379.3l0.2,0.8M166.7,346.3l0.4,0.2M162.4,381.8l-0.6,0.4M113.4,347.6l0.3,0.7M159.9,396.2l0.4,0.1M118.6,354.0l0.8,0.5M119.1,396.7l-0.9,0.3" fill="none" stroke="#23327c" stroke-width="1.60" stroke-linecap="round" opacity="0.62"/>
<path d="M117.0,339.5l-0.5,1.1M173.6,354.0l0.4,0.5M155.3,334.2l-1.0,0.4M165.6,373.2l-0.7,0.6M154.6,375.4l-0.2,0.3M173.3,378.2l0.4,0.5M107.1,369.5l-0.5,0.3M133.4,379.0l-0.3,0.9M125.2,374.2l0.1,0.7M109.9,403.4l0.4,0.6M173.1,368.1l-0.0,0.5M143.5,356.2l-0.5,0.3M142.6,388.8l0.1,0.4M133.5,391.2l0.5,0.7M141.8,373.4l-0.3,1.0M150.5,356.5l-0.3,0.6M104.8,367.2l-1.0,0.1M135.3,350.3l-0.8,0.8M119.3,349.3l-0.6,0.5M137.9,345.9l-0.7,0.0M106.3,358.3l0.1,0.5M131.5,385.5l0.6,0.4M123.0,335.5l-0.5,0.5M107.7,367.1l-0.4,0.4M159.5,331.0l1.2,0.1M142.6,340.9l0.7,0.5M131.3,377.4l0.2,0.5M130.0,392.6l0.9,0.3M164.8,367.9l-0.0,0.6M133.2,394.5l-0.5,1.0M115.3,334.4l0.5,0.8M114.7,371.4l-0.3,0.3M105.1,399.9l-0.7,0.7M108.4,343.7l-0.3,0.2M149.0,384.7l-0.8,0.1M169.4,389.2l0.1,0.8M107.7,398.3l-0.5,0.3M136.0,355.0l0.4,0.2M162.9,353.1l0.2,0.3M106.5,400.1l-0.2,0.5M126.2,340.8l-0.3,0.5M138.6,389.2l0.5,0.4M170.4,373.3l0.7,0.2M162.6,379.7l0.7,0.4M114.8,363.8l0.5,0.2M149.5,332.2l-0.3,1.0M153.9,398.8l-0.1,0.4M133.2,397.7l0.1,1.0M160.7,347.2l-0.6,0.9M121.0,371.1l-0.8,0.8M145.9,347.3l0.6,0.4M147.7,353.2l-0.0,0.4M120.5,340.2l0.5,0.1M135.8,389.7l0.6,0.8M110.8,357.8l0.7,0.6M122.1,363.1l0.1,1.1M116.6,393.4l0.5,0.2M143.0,398.1l0.5,0.2M120.4,389.3l0.3,0.5M114.2,396.8l0.2,0.4M142.8,342.2l0.5,0.1M108.9,375.9l-0.7,0.5M161.5,343.1l-0.5,0.9M126.6,391.4l-0.2,0.4M122.5,386.0l-0.0,0.7M157.0,357.5l-0.8,0.7M132.1,336.2l-0.5,0.6M104.3,396.3l-0.0,0.6M105.3,341.6l0.1,0.4M129.1,338.8l-0.1,0.6M151.6,348.4l-1.1,0.3M128.7,349.4l0.8,0.3M129.4,382.3l0.5,0.8M170.0,345.2l-1.1,0.3M171.6,347.3l0.4,0.5M134.1,386.8l-0.1,1.0M139.1,364.6l0.7,0.1M127.0,334.0l-0.2,1.0M144.1,367.5l-0.8,0.4M154.0,367.8l-0.3,0.7M131.1,338.3l-0.5,0.5M139.9,394.4l0.3,0.9M125.1,374.4l-1.0,0.6M130.1,339.6l-0.3,0.8M108.8,384.7l1.1,0.3M159.1,385.0l1.0,0.2M135.0,337.2l0.8,0.1M160.4,337.1l0.4,1.0M172.0,389.2l0.8,0.1M147.1,374.1l-0.2,0.6M169.6,383.8l0.5,1.0M104.8,379.0l-0.9,0.3M153.5,351.1l-0.4,0.7M107.2,343.9l-0.5,0.9M110.0,337.0l0.4,0.1M113.0,387.9l-0.8,0.1M126.2,393.7l0.3,0.4M175.5,390.3l0.6,0.4M120.3,372.8l0.5,0.1M144.0,356.6l-1.1,0.1M126.2,347.3l-0.5,0.2M171.0,379.3l0.6,0.9M142.3,337.5l-0.5,0.4M119.1,333.2l-0.4,0.3M147.1,371.6l-0.9,0.0M169.1,361.3l0.5,1.0M144.6,392.0l-0.5,0.9M131.1,359.9l-0.2,0.3M154.5,384.6l-1.1,0.5M116.9,379.1l1.1,0.4M174.9,346.0l-1.1,0.2M134.7,375.7l-0.8,0.5M139.3,382.9l1.0,0.5M162.0,395.8l0.1,1.0M154.6,359.6l0.7,0.9M148.3,360.9l0.8,0.0M127.3,362.4l-0.8,0.4M164.8,393.3l-0.2,1.1M168.1,365.6l-0.5,0.4M161.5,333.9l-0.3,0.9M110.1,349.8l-0.4,0.3M124.2,360.9l0.3,1.1M140.3,385.6l0.8,0.1M152.3,395.9l-0.2,0.7M131.9,351.1l0.5,0.4M139.9,345.7l0.1,1.2M176.3,349.9l-0.3,0.3M149.4,348.6l-0.2,0.8M166.2,342.0l-1.1,0.2M110.8,387.1l-1.0,0.5M108.5,377.5l-0.7,0.8M160.9,342.1l-1.0,0.3M163.2,369.7l0.6,0.7M113.3,395.3l0.8,0.1M124.8,394.2l0.1,1.0M118.1,362.0l0.2,0.4M107.3,342.2l0.8,0.8M169.3,342.8l-0.6,0.6M152.8,366.5l0.9,0.3M105.2,354.3l0.5,0.8M125.3,331.2l-0.9,0.5M162.4,381.4l0.0,0.4M173.7,363.0l-0.5,0.2M127.4,378.1l-0.2,0.4M156.2,342.3l-0.3,0.5M148.7,341.5l0.6,0.5M109.3,371.3l0.1,1.0M104.2,369.5l-0.7,0.1M159.3,352.4l0.8,0.8M115.1,389.1l-0.6,0.1M125.1,378.5l0.4,0.6M126.3,391.2l-0.1,1.0M163.0,330.7l0.1,1.0M171.9,339.1l-0.1,0.7M131.8,363.5l-0.1,1.1M155.8,387.0l0.3,0.2M147.0,388.6l0.5,0.9M130.1,397.2l-0.2,0.5M105.8,371.6l-0.5,1.0M163.6,362.1l-0.6,0.2M163.0,370.3l-0.5,0.1M152.4,392.6l1.2,0.1M152.2,387.6l-0.3,1.0M141.3,347.5l0.2,0.4M150.5,341.3l0.5,0.2M163.1,358.6l-0.6,0.3M136.0,383.2l0.6,0.1M160.2,379.7l-0.5,0.2M146.2,357.2l-0.8,0.3M148.1,373.0l-0.5,0.1M150.0,342.2l0.2,1.1M167.1,368.8l-0.5,0.0M123.2,400.5l1.1,0.4M112.7,358.5l-0.5,0.3M137.3,359.9l-0.5,0.5M134.9,397.5l-0.1,0.8M138.7,359.3l-0.8,0.2M132.2,372.0l0.4,0.3M157.6,393.8l0.2,0.4M139.1,369.4l0.5,0.0M123.4,333.3l0.7,0.5M117.8,382.8l0.8,0.3M134.6,361.3l-0.4,0.1M156.8,377.8l0.9,0.2M128.3,344.9l-0.6,0.1M166.8,381.4l-0.1,0.9M176.3,343.1l0.4,0.1M138.4,356.9l-0.6,0.4M174.2,364.3l-0.7,0.4M168.2,399.9l0.5,0.3M131.0,333.6l0.4,0.0M117.7,351.7l0.4,1.1M150.8,369.9l-0.3,0.7M171.5,365.7l-0.8,0.0M110.6,387.4l0.5,0.7M152.9,335.6l-0.7,0.1M127.4,347.7l0.2,1.0M171.6,337.1l-0.1,1.0M116.5,343.2l-0.0,0.5M109.0,335.8l-0.5,0.7M166.8,384.1l-0.4,0.5M167.8,369.5l0.4,0.4M158.1,396.1l-0.0,0.5M135.2,363.2l0.4,1.0M135.4,378.1l-0.4,0.1M151.8,398.2l-0.5,0.6M152.3,330.9l-0.7,0.5M108.7,348.8l-0.3,1.1M151.6,362.9l0.3,0.2M146.6,353.8l0.4,0.9M125.0,330.7l0.8,0.3M117.7,345.5l0.0,1.1M163.2,370.8l0.4,0.4M169.6,354.3l0.5,0.5M119.1,333.4l-0.7,0.7M111.8,344.6l-0.9,0.0M120.2,371.0l-0.4,0.8M159.5,393.4l0.7,0.4M139.3,358.6l0.9,0.5M152.5,333.1l-0.5,0.6M151.1,380.5l-0.7,0.8M129.6,400.2l1.1,0.4M166.1,339.7l-1.1,0.5M176.1,364.5l0.5,0.2M164.8,339.8l0.3,0.2M163.1,364.1l0.2,0.5M168.9,344.4l-0.2,0.7M144.7,338.8l-0.1,0.9M126.3,340.9l0.7,0.6M167.9,383.4l0.1,0.4M158.5,361.0l-0.5,0.9M115.0,379.9l0.5,0.4M174.6,388.3l0.1,0.6M115.1,375.5l0.5,0.1M115.0,402.1l-0.4,0.1M131.6,342.8l1.0,0.2M140.4,336.5l0.0,0.8M131.4,363.2l0.2,0.4M119.6,384.4l0.3,0.3M125.8,396.1l-0.4,0.1M132.9,355.2l0.6,0.2M155.2,400.5l-1.1,0.1M112.9,387.7l0.3,0.7M114.4,341.5l0.6,0.3M110.6,340.2l1.0,0.3M171.4,371.5l-0.5,0.5M158.2,393.9l0.1,0.5M138.5,399.7l-0.6,0.2M134.6,331.3l0.5,0.4M146.7,386.4l-0.9,0.6M172.2,385.1l-0.2,0.5M168.2,354.1l-1.0,0.6M157.4,387.5l0.1,0.9M136.9,364.9l-0.0,0.7M172.7,345.5l-0.4,0.4M116.7,360.4l-0.4,0.5M104.8,389.8l0.1,0.7M120.2,400.9l-0.4,0.2M137.6,391.5l0.9,0.5M114.1,384.9l0.8,0.6M175.5,379.2l0.1,0.8M167.1,347.6l0.3,0.2M106.8,385.4l-1.1,0.1M142.5,334.7l0.9,0.3M120.9,341.9l0.1,1.1M145.9,381.4l0.4,0.9M144.9,378.1l-0.0,0.5M143.3,374.2l-0.2,0.7M157.8,390.4l-0.6,1.0M134.2,388.6l-0.3,0.2M108.8,380.7l0.1,0.4M131.1,391.8l-0.3,0.3M174.0,400.0l-0.6,0.7M116.8,353.1l0.7,0.8M105.9,342.3l-1.0,0.1M150.9,353.3l-1.0,0.1M150.3,391.0l-0.3,1.1M148.1,339.4l-0.3,0.6M170.2,369.6l0.2,0.5M132.8,387.5l-0.4,0.4M132.2,381.0l-0.7,0.0M109.3,359.1l-0.5,0.9M129.0,348.7l-0.5,0.4" fill="none" stroke="#23327c" stroke-width="2.00" stroke-linecap="round" opacity="0.53"/>
<ellipse cx="129.3" cy="335.6" rx="1.3" ry="0.9" fill="#22b84e" opacity="0.95" transform="rotate(27 129.3 335.6)"/>
<ellipse cx="153.3" cy="336.8" rx="1.4" ry="1.0" fill="#22b84e" opacity="0.95" transform="rotate(143 153.3 336.8)"/>
<ellipse cx="119.7" cy="342.8" rx="1.4" ry="1.3" fill="#22b84e" opacity="0.95" transform="rotate(130 119.7 342.8)"/>
<ellipse cx="109.0" cy="361.9" rx="1.5" ry="1.1" fill="#22b84e" opacity="0.95" transform="rotate(99 109.0 361.9)"/>
<ellipse cx="123.3" cy="357.1" rx="1.4" ry="1.0" fill="#22b84e" opacity="0.95" transform="rotate(166 123.3 357.1)"/>
<ellipse cx="138.9" cy="358.3" rx="1.5" ry="1.2" fill="#22b84e" opacity="0.95" transform="rotate(136 138.9 358.3)"/>
<ellipse cx="132.9" cy="366.7" rx="0.9" ry="0.8" fill="#22b84e" opacity="0.95" transform="rotate(9 132.9 366.7)"/>
<ellipse cx="142.5" cy="369.1" rx="1.2" ry="0.9" fill="#22b84e" opacity="0.95" transform="rotate(3 142.5 369.1)"/>
<ellipse cx="154.5" cy="376.3" rx="1.5" ry="1.3" fill="#22b84e" opacity="0.95" transform="rotate(163 154.5 376.3)"/>
<ellipse cx="120.9" cy="383.5" rx="2.0" ry="1.8" fill="#22b84e" opacity="0.95" transform="rotate(48 120.9 383.5)"/>
<ellipse cx="110.2" cy="384.7" rx="1.3" ry="1.0" fill="#22b84e" opacity="0.95" transform="rotate(87 110.2 384.7)"/>
<ellipse cx="142.5" cy="382.3" rx="1.5" ry="1.3" fill="#22b84e" opacity="0.95" transform="rotate(141 142.5 382.3)"/>
<ellipse cx="148.5" cy="389.4" rx="0.9" ry="0.6" fill="#22b84e" opacity="0.95" transform="rotate(59 148.5 389.4)"/>
<ellipse cx="171.2" cy="395.4" rx="1.2" ry="1.0" fill="#22b84e" opacity="0.95" transform="rotate(117 171.2 395.4)"/>
<ellipse cx="161.6" cy="357.1" rx="1.0" ry="1.0" fill="#22b84e" opacity="0.95" transform="rotate(172 161.6 357.1)"/>
<ellipse cx="165.2" cy="385.9" rx="1.2" ry="1.1" fill="#22b84e" opacity="0.95" transform="rotate(140 165.2 385.9)"/>
<ellipse cx="113.8" cy="395.4" rx="1.3" ry="1.1" fill="#22b84e" opacity="0.95" transform="rotate(129 113.8 395.4)"/>
<line x1="113.2" y1="349.4" x2="112.0" y2="350.4" stroke="#d81a44" stroke-width="0.9" stroke-linecap="round" opacity="0.9"/>
<line x1="118.1" y1="367.3" x2="119.0" y2="366.1" stroke="#d81a44" stroke-width="0.9" stroke-linecap="round" opacity="0.9"/>
<line x1="140.8" y1="385.1" x2="141.8" y2="384.3" stroke="#d81a44" stroke-width="0.9" stroke-linecap="round" opacity="0.9"/>
<line x1="161.1" y1="339.5" x2="162.2" y2="338.9" stroke="#d81a44" stroke-width="0.9" stroke-linecap="round" opacity="0.9"/>
<line x1="151.7" y1="362.3" x2="152.4" y2="361.5" stroke="#d81a44" stroke-width="0.9" stroke-linecap="round" opacity="0.9"/>
<line x1="130.3" y1="392.7" x2="130.7" y2="393.4" stroke="#d81a44" stroke-width="0.9" stroke-linecap="round" opacity="0.9"/>
</g></g>
<clipPath id="fc3"><rect x="185.2" y="330.7" width="73.1" height="73"/></clipPath>
<rect x="185.20" y="330.70" width="73.10" height="73.00" fill="#090e30"/>
<g clip-path="url(#fc3)"><g filter="url(#fb5)">
<path d="M252.8,399.9l0.5,0.3M223.9,340.2l0.5,0.3M187.0,337.0l0.2,0.1M211.4,334.9l-0.4,0.2M256.2,357.2l0.1,0.5M208.2,337.0l0.0,0.2M232.2,344.0l-0.6,0.4M193.6,337.9l0.2,0.3M209.4,357.7l0.4,0.4M204.1,338.5l-0.0,0.5M225.1,397.8l-0.1,0.3M189.3,361.1l-0.0,0.5M244.0,400.0l-0.2,0.5M256.4,358.2l-0.3,0.0M253.4,400.1l-0.0,0.5M224.9,390.0l0.4,0.2M210.3,395.8l0.4,0.4M235.9,391.3l-0.2,0.3M241.6,371.4l0.0,0.3M209.5,371.5l0.2,0.7M226.3,370.3l-0.4,0.1M237.7,331.0l0.2,0.3M200.1,380.4l-0.7,0.3M236.3,365.8l0.5,0.1M207.0,396.3l0.1,0.3M242.0,379.9l-0.3,0.6M207.3,400.8l0.3,0.7M220.1,371.1l-0.1,0.3M204.5,392.9l-0.2,0.3M226.6,363.0l0.1,0.5M257.0,377.0l0.2,0.2M195.9,391.8l0.3,0.6M206.6,336.4l0.4,0.3M251.9,344.0l-0.1,0.3M219.5,382.5l0.3,0.6M228.4,354.6l-0.4,0.3M216.4,353.8l-0.1,0.2M211.7,378.2l0.3,0.3M256.9,402.4l0.5,0.1M188.1,359.5l-0.2,0.6M214.9,335.0l-0.2,0.5M215.5,348.7l-0.3,0.2M245.3,372.7l0.2,0.3M229.7,397.8l0.4,0.6M246.6,359.3l0.1,0.7M256.5,384.8l0.0,0.4M229.2,335.3l-0.1,0.2M190.1,365.2l0.0,0.4M240.0,375.0l0.0,0.4M204.8,351.5l-0.3,0.5M255.6,332.3l0.5,0.0M235.6,399.8l0.1,0.4M193.3,391.1l0.6,0.4M255.2,376.8l0.3,0.2M232.5,394.6l0.4,0.6M245.2,343.6l0.0,0.3M256.5,330.7l0.3,0.2M243.5,377.2l-0.2,0.1M222.7,396.7l0.4,0.4M234.2,375.4l0.5,0.1M195.6,340.9l-0.4,0.2M222.3,389.8l-0.3,0.4M243.7,392.0l-0.7,0.3M254.8,397.5l-0.2,0.6M221.8,402.5l-0.4,0.5M249.9,364.2l0.2,0.6M228.5,403.0l0.2,0.7M231.8,386.1l-0.3,0.2M239.2,364.6l-0.1,0.8M220.3,388.6l-0.2,0.3M197.9,394.9l0.0,0.3M235.9,338.4l0.4,0.5M254.4,377.0l0.5,0.3M223.4,400.3l-0.5,0.5M214.5,384.7l0.1,0.3M186.0,355.2l0.1,0.6M252.9,387.7l-0.5,0.5M229.8,347.3l0.5,0.1M192.1,376.5l-0.2,0.3M235.4,402.3l-0.6,0.4M238.7,355.5l0.3,0.5M212.6,353.7l0.6,0.1M193.7,362.5l-0.6,0.1M209.5,372.4l0.4,0.6M247.5,386.4l0.5,0.0M241.7,388.0l0.4,0.1M232.0,333.9l0.2,0.2M217.3,347.5l-0.6,0.3M249.4,372.8l-0.0,0.3M244.1,349.4l-0.0,0.4M242.9,339.2l-0.1,0.6M255.6,393.9l-0.4,0.1M231.8,352.2l0.2,0.2M251.9,333.8l-0.7,0.1M212.4,384.6l0.2,0.4M231.2,336.5l-0.5,0.3M192.1,344.8l-0.1,0.4M247.5,369.3l-0.1,0.2M188.5,379.3l0.6,0.4M185.2,360.0l-0.5,0.1M255.2,370.8l-0.2,0.4M220.8,337.1l0.2,0.5M256.5,376.2l-0.6,0.5M251.4,334.7l0.3,0.3M251.2,346.8l0.1,0.6M193.3,337.3l-0.7,0.3M192.1,389.5l-0.3,0.5M238.5,335.1l0.2,0.1M210.1,393.5l0.6,0.0M255.2,401.7l-0.1,0.2M224.4,347.7l-0.6,0.2M227.7,371.3l-0.2,0.3M244.7,363.6l0.3,0.4M254.6,396.1l0.3,0.5M234.9,354.8l-0.3,0.5M249.7,376.0l0.4,0.7M242.5,358.0l0.4,0.4M210.3,354.0l0.1,0.2M254.0,341.7l0.3,0.5M245.2,343.9l-0.4,0.2M229.3,343.8l0.5,0.3M215.0,402.8l0.5,0.1M191.9,384.4l0.6,0.2M216.8,403.7l-0.5,0.4M244.5,355.8l0.3,0.6M196.2,361.5l-0.0,0.4M195.5,356.5l-0.2,0.3M254.7,403.3l-0.7,0.1M205.2,348.0l0.6,0.0M239.9,347.8l0.0,0.3M221.0,384.5l0.0,0.5M191.1,360.9l0.3,0.0M240.6,383.5l-0.3,0.2M222.7,398.5l-0.4,0.2M230.3,354.5l-0.2,0.4M212.5,373.7l0.6,0.0M222.3,342.4l0.3,0.4M248.6,378.5l-0.3,0.4M234.8,362.7l0.3,0.2M211.5,358.3l-0.6,0.4M206.4,349.7l0.3,0.5M217.9,396.0l-0.3,0.0M245.5,392.2l-0.0,0.7M251.0,335.9l-0.2,0.5M224.3,364.2l-0.3,0.3M191.6,331.9l0.3,0.3M186.5,364.6l0.3,0.4M189.2,398.7l0.6,0.3M203.4,370.0l-0.3,0.5M202.0,402.5l-0.3,0.6M247.4,354.2l0.1,0.4M214.0,355.9l0.2,0.2M197.8,335.5l-0.6,0.1M251.3,378.3l-0.2,0.5M202.2,332.2l0.1,0.5M202.2,386.4l0.6,0.1M195.7,395.6l0.1,0.3M248.5,357.7l-0.5,0.1M247.7,353.2l0.4,0.0M211.3,358.0l0.3,0.4M220.5,374.8l0.4,0.0M225.5,381.2l-0.3,0.5M196.2,353.8l0.3,0.5M231.7,359.6l0.2,0.1M221.8,333.6l0.3,0.0M200.7,363.5l-0.3,0.2M188.9,348.0l-0.6,0.2M186.2,389.8l-0.6,0.4M227.3,334.7l-0.3,0.5M249.3,335.3l-0.5,0.3M222.4,370.5l0.1,0.6M197.0,351.9l0.6,0.2M244.3,392.9l0.7,0.1M230.6,385.7l-0.4,0.6M222.7,370.1l-0.2,0.4M196.6,376.0l-0.0,0.5M190.6,385.2l0.6,0.2M236.8,342.7l0.3,0.2M195.9,358.1l0.3,0.5M230.8,365.4l0.1,0.4M217.5,398.5l-0.1,0.4M230.4,383.0l0.6,0.4M229.0,342.4l0.1,0.6M204.4,355.3l0.8,0.1M223.9,335.9l0.4,0.3M218.6,386.6l0.3,0.2M236.3,387.4l-0.4,0.3M187.5,400.1l-0.3,0.0M244.8,343.5l-0.7,0.3M242.7,393.8l0.4,0.6M223.1,366.7l0.4,0.5M228.0,366.8l0.3,0.4M196.0,391.0l-0.3,0.6M206.7,330.8l0.1,0.2M214.9,397.4l0.4,0.5M192.5,334.9l0.2,0.4M255.4,393.4l-0.2,0.4M186.6,403.0l-0.4,0.2M192.7,347.8l0.0,0.7M256.0,367.6l0.4,0.1M190.4,368.7l-0.3,0.5M196.9,359.8l0.1,0.5M250.6,375.7l-0.7,0.2M205.1,346.7l0.3,0.3M185.4,389.1l0.3,0.0M194.7,341.3l0.2,0.4M235.4,390.9l-0.2,0.2M206.7,344.8l0.1,0.7M216.0,376.6l0.3,0.1M251.3,367.3l0.2,0.5M213.7,363.3l-0.3,0.1M220.9,367.9l0.1,0.5M196.6,337.1l-0.6,0.4M235.5,398.6l-0.3,0.1M185.4,400.9l0.1,0.2M223.6,354.7l0.4,0.0M185.5,359.0l0.1,0.5M218.5,361.7l-0.3,0.1M220.2,332.1l-0.6,0.1M198.7,364.1l0.5,0.2M217.0,368.5l0.3,0.1M235.6,383.2l-0.1,0.3M202.4,344.7l-0.2,0.4M241.0,331.9l-0.2,0.3M185.4,400.4l-0.1,0.3M225.5,372.7l-0.6,0.3M187.6,383.3l0.2,0.5M207.7,382.9l0.5,0.2M204.7,402.4l0.5,0.5M195.6,375.9l0.2,0.1M228.1,346.6l-0.6,0.2M206.2,401.5l-0.1,0.3M207.9,359.9l0.1,0.6M211.6,372.4l0.6,0.1M197.8,336.3l-0.1,0.3M190.5,345.2l-0.0,0.5M221.5,355.9l-0.4,0.3M234.5,364.5l-0.6,0.3M223.0,380.6l0.0,0.3M206.3,394.1l-0.4,0.0M239.1,388.2l-0.3,0.6M200.6,372.6l0.2,0.1M206.9,398.3l-0.5,0.4M211.9,338.8l0.3,0.2M223.0,363.1l-0.2,0.5M203.6,342.9l-0.4,0.2M210.3,401.2l0.5,0.4M190.7,333.9l0.1,0.4M255.6,343.6l0.3,0.2M246.2,394.9l0.3,0.1" fill="none" stroke="#22338c" stroke-width="1.28" stroke-linecap="round" opacity="0.46"/>
<path d="M250.4,336.8l-0.0,0.4M199.2,363.2l0.6,0.4M237.1,361.5l0.7,0.4M242.4,373.7l0.5,0.0M240.7,357.6l0.6,0.3M219.9,383.1l0.0,0.8M198.3,354.3l0.2,0.8M188.0,350.8l0.7,0.1M206.3,352.9l0.5,0.1M242.5,382.3l-0.4,0.1M228.5,399.7l0.9,0.2M186.9,389.8l0.7,0.0M224.6,402.8l0.6,0.3M199.3,336.2l-0.3,0.2M201.0,338.3l-0.7,0.2M203.7,361.5l0.4,0.2M244.7,396.0l0.3,0.8M231.9,348.1l-0.4,0.2M225.4,391.0l-0.6,0.3M246.3,348.8l0.6,0.1M202.4,371.6l0.4,0.5M212.8,388.0l-0.3,0.2M197.9,363.5l0.3,0.1M235.6,370.1l-0.1,0.8M191.5,394.7l0.5,0.6M229.4,352.0l-0.6,0.2M210.1,359.0l0.3,0.1M203.9,351.0l0.7,0.3M221.9,338.8l-0.2,0.2M247.9,349.6l-0.4,0.8M188.3,389.6l0.6,0.8M191.8,384.6l-0.3,0.3M252.1,378.5l0.7,0.5M186.6,375.3l0.2,0.2M226.9,387.0l0.7,0.0M195.0,337.5l-0.2,0.3M230.5,369.6l-0.5,0.1M239.6,398.3l0.3,0.3M194.6,358.4l-0.4,0.7M238.1,386.1l-0.3,0.1M208.3,361.9l-0.2,0.5M208.2,379.7l0.7,0.2M255.9,369.9l0.3,0.2M256.9,378.9l-0.3,0.0M213.2,334.9l0.0,0.6M237.0,379.5l0.8,0.5M228.2,368.3l0.3,0.1M195.8,377.5l0.4,0.6M224.1,345.1l-0.1,0.8M221.3,370.6l-0.1,0.6M243.0,372.3l-0.4,0.0M234.0,338.9l0.1,0.5M191.0,336.6l-0.6,0.0M222.6,350.6l0.0,0.8M199.6,384.4l-0.7,0.0M201.1,335.2l0.4,0.0M244.4,386.1l0.3,0.1M195.4,388.9l0.9,0.1M215.5,393.0l0.2,0.8M246.0,345.9l0.3,0.3M227.8,401.9l-0.3,0.0M223.4,369.9l-0.3,0.1M204.7,374.5l0.0,0.6M194.5,367.8l-0.1,0.7M241.4,337.9l0.8,0.3M196.9,370.9l0.4,0.3M241.9,384.4l0.4,0.1M217.9,334.6l-0.2,0.6M242.2,355.4l-0.8,0.1M214.7,379.4l0.2,0.4M254.2,332.4l-0.0,0.5M238.8,387.0l0.3,0.7M252.8,341.2l0.7,0.6M231.7,376.1l-0.7,0.3M229.1,360.1l-0.6,0.7M207.1,336.6l0.0,0.6M233.8,392.5l-0.4,0.7M257.2,361.7l0.1,0.4M235.9,349.4l-0.8,0.0M257.1,341.5l-0.2,0.3M224.9,373.6l0.2,0.7M243.1,339.2l-0.5,0.2M248.5,356.6l0.7,0.2M239.9,364.0l-0.6,0.3M251.1,385.2l-0.3,0.4M238.6,392.2l0.2,0.3M220.1,383.8l0.8,0.3M249.9,378.7l-0.6,0.4M193.2,403.0l-0.1,0.6M223.4,343.3l-0.3,0.2M200.2,359.0l0.3,0.2M198.4,391.4l-0.6,0.0M199.9,337.0l-0.3,0.4M224.7,346.2l-0.7,0.5M187.1,360.7l0.3,0.9M248.5,350.4l-0.8,0.0M191.3,348.8l0.4,0.8M221.5,367.8l-0.7,0.1M185.7,367.6l0.3,0.6M208.1,373.1l0.2,0.3M233.9,391.7l0.3,0.4M243.3,392.3l0.0,0.6M208.0,388.1l-0.7,0.2M248.8,359.7l0.1,0.6M192.0,368.1l-0.6,0.4M226.7,334.5l0.1,0.5M251.1,333.0l-0.5,0.5M239.7,398.8l0.2,0.3M242.2,342.1l0.3,0.2M196.8,383.8l-0.5,0.7M201.2,356.8l-0.1,0.3M237.8,344.5l0.2,0.4M224.8,336.2l0.7,0.2M210.0,385.9l-0.8,0.4M249.1,331.9l-0.4,0.3M199.9,342.8l-0.3,0.4M201.5,371.4l0.4,0.7M235.7,348.9l0.7,0.0M207.6,350.6l0.3,0.5M237.7,362.2l0.3,0.3M230.2,360.1l-0.6,0.1M198.3,331.7l0.6,0.4M191.7,352.4l-0.6,0.2M238.4,359.1l-0.2,0.8M213.1,381.8l-0.6,0.2M208.5,347.6l-0.1,0.4M186.6,382.1l0.8,0.4M240.0,389.5l0.5,0.4M186.8,377.3l0.3,0.2M205.7,339.1l0.4,0.4M248.6,379.3l0.7,0.6M249.9,380.5l0.5,0.7M204.7,380.3l-0.4,0.8M237.8,346.0l0.0,0.3M258.1,355.7l0.3,0.2M202.2,358.1l0.3,0.1M232.6,368.4l0.4,0.4M233.6,367.3l-0.2,0.4M190.3,346.8l0.2,0.8M218.6,345.4l0.7,0.2M221.1,386.4l0.3,0.1M231.4,357.3l-0.5,0.4M188.0,344.9l-0.2,0.5M253.8,376.0l0.6,0.3M198.7,387.9l0.5,0.8M206.9,333.9l-0.7,0.5M206.1,347.6l0.5,0.3M256.2,348.0l0.1,0.3M204.6,350.8l0.0,0.7M241.5,354.9l0.2,0.3M250.6,363.7l0.4,0.0M242.3,393.9l0.0,1.0M194.7,336.1l-0.3,0.4M240.8,354.8l0.3,0.3M205.3,398.5l-0.3,0.1M188.0,368.0l-0.8,0.2M186.6,398.3l0.4,0.5M231.0,365.0l0.7,0.3M226.2,335.7l0.9,0.3M257.3,383.4l0.2,0.7M205.1,350.8l-0.9,0.1M240.2,343.8l-0.6,0.4M257.6,392.4l0.2,0.6M238.9,369.8l-0.4,0.3M244.7,337.7l-0.7,0.1M217.4,369.4l-0.4,0.1M193.7,355.0l0.0,0.6M196.6,384.8l0.4,0.5M206.2,362.5l0.0,0.5M194.6,378.3l0.4,0.5M210.7,397.2l0.2,0.4M194.9,377.4l0.6,0.1M210.0,384.3l-0.2,0.3M208.6,354.9l-0.4,0.1M199.1,336.9l0.3,0.1M244.5,369.7l-0.3,0.2M241.2,341.5l0.7,0.1M213.5,358.8l0.4,0.4M252.6,343.7l-0.1,0.5M218.7,335.2l-0.5,0.2M221.5,359.5l-0.3,0.7M193.6,331.0l-0.1,0.8M222.1,365.3l0.2,0.3M233.4,348.2l0.1,0.8M247.1,340.0l0.0,0.6M196.0,378.5l-0.8,0.3M193.1,333.1l-0.8,0.1M186.5,384.9l-0.3,0.5M241.9,372.7l0.6,0.6M203.8,333.0l-0.4,0.8M219.8,332.5l0.7,0.6M249.9,365.2l0.6,0.5M230.9,355.0l0.2,0.8M245.5,385.3l-0.2,0.5M202.8,349.5l-0.3,0.2M253.3,331.7l-0.5,0.5M219.1,370.6l-0.6,0.6M224.9,389.1l0.8,0.4M255.8,390.3l-0.6,0.6M208.4,369.3l-0.7,0.1M193.3,333.6l-0.5,0.4M250.1,357.1l-0.6,0.1M219.8,376.5l-0.0,0.3M220.8,389.2l0.1,0.4M251.8,339.9l0.6,0.0M221.9,381.4l0.3,0.1M256.3,382.3l-0.4,0.0M255.3,383.8l0.4,0.7M256.4,355.0l0.9,0.1M241.2,373.3l0.0,0.3M230.6,382.9l0.5,0.1M213.1,354.1l-0.3,0.6M212.4,401.4l0.2,0.3M232.8,400.6l-0.3,0.4M210.1,378.5l0.1,0.6M228.4,381.6l-0.2,0.9M246.9,395.5l-0.7,0.5M220.2,368.4l0.5,0.5M227.0,335.4l-0.4,0.7M240.8,402.9l0.2,0.9M225.2,401.4l0.1,0.9M250.3,398.6l0.1,0.8M249.4,384.9l0.3,0.3M221.6,353.5l-0.1,0.7M234.1,403.2l-0.0,0.9M231.1,349.8l-0.5,0.2M187.1,398.0l0.5,0.1M209.9,381.4l0.7,0.4M251.1,358.9l0.5,0.6M200.7,355.9l-0.4,0.5M209.5,341.0l-0.5,0.2M193.3,332.7l0.1,0.9M239.9,379.1l0.6,0.4M211.5,385.9l0.4,0.0M204.3,392.8l0.0,0.9M253.6,340.1l-0.8,0.3M257.1,402.5l0.6,0.3M241.5,333.2l0.2,0.3M229.4,392.1l-0.6,0.6M222.0,386.4l0.1,0.7M222.5,369.1l0.2,0.5M247.8,349.3l0.8,0.2M238.4,337.0l-0.3,0.4M229.2,356.9l0.6,0.8M231.9,335.3l0.5,0.4M244.7,331.6l0.9,0.2M195.3,344.2l-0.5,0.4M235.2,399.7l0.2,0.4M196.5,367.6l0.6,0.4M193.5,371.3l0.1,0.5" fill="none" stroke="#22338c" stroke-width="1.60" stroke-linecap="round" opacity="0.62"/>
<path d="M228.5,361.6l-0.1,0.5M201.4,363.9l-0.7,0.5M222.7,384.3l0.6,0.3M233.3,376.0l0.7,0.3M227.0,378.9l0.1,0.5M228.4,363.4l-0.9,0.0M244.8,345.0l0.3,0.8M227.1,390.6l-0.2,0.4M242.0,370.8l-0.0,0.9M245.8,348.1l0.4,0.5M197.4,401.9l-0.4,0.8M235.4,401.8l-0.5,0.2M240.0,356.0l0.5,1.0M219.3,345.1l0.4,0.1M223.9,343.1l0.6,0.1M251.1,363.2l0.6,0.3M235.5,360.8l0.0,0.6M206.8,360.6l-0.2,0.9M193.1,376.8l0.3,0.4M254.8,336.4l-0.7,0.0M219.6,363.5l0.4,0.1M195.6,394.0l-0.5,0.6M216.1,336.7l-1.0,0.2M225.8,369.1l1.0,0.3M248.3,367.0l-1.2,0.1M208.6,356.2l-0.8,0.4M215.9,390.3l-1.0,0.3M191.7,346.6l0.2,0.6M219.0,339.5l0.4,0.0M247.4,348.8l0.1,0.4M205.3,357.1l0.7,0.3M214.1,380.3l0.8,0.8M197.6,402.0l0.7,0.5M195.4,384.1l-0.0,0.7M245.3,374.7l-0.9,0.7M247.8,345.7l-0.4,0.2M248.0,362.5l0.3,0.6M208.0,395.4l-0.9,0.3M241.8,391.4l0.4,0.9M224.3,346.1l-0.4,0.0M245.4,373.7l-0.4,0.0M217.8,343.3l0.4,0.0M230.7,361.9l-0.6,0.3M216.7,335.3l-0.8,0.4M187.7,359.2l1.2,0.2M205.1,343.0l1.0,0.6M224.9,339.6l-0.8,0.3M207.8,376.0l0.4,0.1M210.6,402.1l0.4,0.4M243.0,352.3l-0.4,0.4M251.1,341.9l0.1,0.4M252.5,401.5l-0.6,0.3M243.3,383.3l1.0,0.1M227.1,403.1l-0.4,0.6M238.7,335.9l-0.5,0.4M233.6,341.1l-0.9,0.6M226.8,372.5l0.1,1.0M211.1,373.3l0.5,0.7M191.2,354.5l-0.2,0.4M244.0,388.8l-0.3,1.0M230.1,361.9l-1.2,0.1M228.6,398.7l0.2,0.8M245.4,383.1l1.1,0.4M211.4,345.7l0.9,0.1M203.3,357.7l0.2,1.0M203.3,333.5l-1.1,0.3M196.4,371.7l-1.1,0.1M253.0,350.1l0.4,0.0M192.0,361.9l0.1,0.9M212.7,384.2l-0.9,0.5M247.9,387.5l-0.5,0.5M231.0,401.0l0.4,0.3M207.0,369.4l-0.4,0.4M230.6,399.7l0.9,0.2M210.0,341.9l-0.2,0.9M220.7,356.3l0.0,0.6M205.3,339.2l-0.8,0.1M250.0,348.6l-0.2,0.9M252.9,401.7l0.5,0.0M238.6,385.2l0.6,1.0M247.3,334.5l1.1,0.2M189.7,339.1l-0.2,0.7M192.6,379.6l-0.7,0.8M238.8,375.9l-0.3,0.2M205.8,367.5l-0.6,0.3M245.5,370.2l-0.7,0.4M252.0,392.6l-0.4,0.2M199.2,333.5l-0.0,1.1M228.1,386.1l0.6,0.9M230.0,362.4l0.7,0.4M185.3,360.4l1.0,0.1M201.7,348.2l0.6,0.7M198.1,344.8l0.7,0.2M237.9,330.9l-0.1,0.5M209.0,366.0l0.6,0.8M241.6,340.4l-0.1,0.8M195.4,337.0l1.0,0.1M244.4,334.1l0.1,0.9M230.9,392.7l1.1,0.1M187.6,385.7l0.8,0.1M246.9,390.5l0.2,0.6M236.4,353.7l0.5,0.2M201.6,348.3l-0.4,0.3M227.0,381.1l0.3,1.1M201.6,361.7l0.6,0.9M204.7,359.0l0.6,0.2M244.2,343.5l0.2,0.4M204.1,342.7l0.7,0.4M251.1,384.7l0.1,0.3M187.0,344.7l0.4,0.4M218.8,397.7l0.2,0.8M243.9,386.4l0.2,1.1M218.7,377.7l-0.8,0.5M247.8,400.9l0.2,1.1M226.7,364.1l0.4,0.6M187.8,385.6l0.7,0.2M199.5,369.1l-1.2,0.0M209.4,371.9l0.4,0.6M208.2,366.3l0.5,0.5M227.0,367.4l-0.5,0.4M242.5,374.2l-1.2,0.0M194.2,381.1l-0.3,0.3M230.7,332.2l1.1,0.3M251.6,372.3l-0.9,0.1M240.8,381.3l0.4,0.4M193.7,385.3l-0.4,0.2M230.9,336.4l-0.0,0.5M236.6,332.3l0.9,0.6M228.4,357.1l-0.8,0.3M202.4,392.8l0.2,0.5M211.6,401.3l0.4,0.1M211.1,391.1l0.3,0.3M233.1,392.0l0.3,0.4M227.5,345.0l-0.5,0.8M242.9,391.7l-0.5,0.1M217.3,382.6l-0.9,0.5M223.6,363.2l-0.9,0.3M214.6,361.9l-0.9,0.6M189.1,334.3l1.0,0.2M202.2,363.3l-1.0,0.5M189.6,331.7l-0.3,0.7M256.3,380.3l0.3,0.8M243.0,359.3l0.2,0.7M215.3,391.3l-0.8,0.5M195.9,352.6l0.2,0.9M219.5,356.0l1.0,0.1M224.8,355.0l0.0,0.7M233.4,373.4l-0.6,0.0M218.3,334.0l0.9,0.8M258.1,354.7l-0.4,0.4M248.9,340.7l-0.7,0.8M195.1,360.6l-0.2,0.5M207.3,362.1l0.5,0.6M208.7,360.8l0.3,1.2M188.9,367.5l0.4,0.9M238.2,364.5l0.2,0.3M245.0,395.2l1.1,0.2M228.0,358.4l0.2,0.9M189.5,395.3l0.2,0.5M196.6,370.3l0.4,0.8M254.3,374.2l-0.1,0.7M242.4,365.9l0.0,0.7M251.2,367.2l-0.4,0.2M211.3,402.1l0.2,0.3M205.7,363.8l-0.6,0.2M232.9,380.7l-0.3,0.3M218.6,392.9l-0.3,0.3M247.2,402.7l0.3,0.6M234.5,401.4l-0.1,1.0M200.3,373.3l-1.0,0.2M206.7,357.0l-0.5,1.0M186.7,348.4l0.2,0.6M244.4,378.2l0.8,0.2M203.9,347.6l-0.3,0.2M187.0,346.3l-0.1,0.9M232.3,361.4l0.1,0.6M207.9,380.5l-1.0,0.2M225.1,390.6l0.6,0.1M198.1,388.1l0.0,0.7M232.1,350.0l-0.3,0.6M211.0,351.5l0.4,0.4M214.1,342.8l0.3,1.0M256.3,354.1l-0.0,0.5M202.9,382.6l0.0,0.5M206.9,370.6l0.7,0.5M198.3,339.2l-1.0,0.4M199.9,372.7l-1.1,0.2M244.0,358.7l0.2,0.3M247.4,388.7l-1.1,0.4M197.7,385.3l0.5,0.2M252.9,372.2l0.7,0.8M224.6,389.0l0.3,0.3M196.1,368.3l-0.5,0.1M251.0,386.4l-1.0,0.7M219.5,380.2l0.2,0.6M239.5,364.9l0.6,0.2M236.1,349.8l-0.4,0.4M224.5,336.2l0.9,0.4M206.6,363.3l-0.4,0.3M197.5,372.3l-0.4,0.6M240.4,367.6l0.2,0.6M205.2,365.8l0.9,0.8M211.0,398.9l-0.3,0.8M241.6,378.9l-0.9,0.3M199.6,346.6l0.5,0.1M219.2,370.1l0.4,0.1M221.5,334.8l0.9,0.3M194.6,355.4l-0.3,0.6M236.3,360.8l-0.4,0.1M237.8,385.8l0.0,1.2M228.5,356.9l-1.0,0.3M189.9,335.6l-0.5,0.8M214.5,397.3l-0.4,0.2M244.0,336.5l0.1,0.7M254.9,402.7l-1.1,0.3M192.0,389.3l-1.0,0.2M248.2,393.8l0.4,0.3M201.1,357.8l-0.1,0.4M226.1,335.0l1.2,0.1M241.2,390.4l0.5,0.6M247.2,331.6l-0.5,0.1M214.2,361.0l-0.5,0.6M245.9,354.3l-0.6,0.8M207.2,402.9l-0.8,0.5M214.8,396.4l0.9,0.8M229.5,343.5l0.6,0.4M201.8,397.2l-1.1,0.2M198.4,347.4l0.2,0.4M255.2,398.9l0.9,0.5M207.5,347.0l-1.0,0.5M204.7,387.2l0.4,0.9M203.4,368.3l0.1,0.8M202.8,394.9l0.9,0.3M227.5,367.1l0.8,0.8M252.8,360.3l0.7,0.8M215.6,336.0l1.0,0.1M222.0,391.7l-0.9,0.2M197.5,390.9l-0.7,0.2M203.6,343.6l0.1,1.2M241.6,355.7l0.4,0.2M219.6,363.9l-0.4,0.3M215.7,357.9l-0.8,0.3M223.0,356.2l-0.9,0.5M234.7,339.5l-0.2,0.9M242.8,369.1l-0.6,0.7M228.1,353.1l0.5,0.2M186.0,357.4l0.3,0.9M197.5,374.6l0.3,0.6M189.0,373.0l-0.0,0.6M222.0,363.6l0.4,0.0" fill="none" stroke="#22338c" stroke-width="2.00" stroke-linecap="round" opacity="0.53"/>
<ellipse cx="203.6" cy="370.3" rx="1.2" ry="0.9" fill="#1c9a50" opacity="0.67" transform="rotate(144 203.6 370.3)"/>
<ellipse cx="230.4" cy="337.2" rx="0.9" ry="0.6" fill="#1c9a50" opacity="0.75" transform="rotate(112 230.4 337.2)"/>
<ellipse cx="205.1" cy="348.9" rx="1.8" ry="1.3" fill="#1c9a50" opacity="0.63" transform="rotate(17 205.1 348.9)"/>
<ellipse cx="245.0" cy="365.6" rx="1.5" ry="1.3" fill="#1c9a50" opacity="0.53" transform="rotate(45 245.0 365.6)"/>
<ellipse cx="231.1" cy="392.6" rx="1.4" ry="1.2" fill="#1c9a50" opacity="0.72" transform="rotate(154 231.1 392.6)"/>
<ellipse cx="233.6" cy="337.1" rx="1.6" ry="1.3" fill="#1c9a50" opacity="0.67" transform="rotate(13 233.6 337.1)"/>
<ellipse cx="208.0" cy="334.8" rx="1.7" ry="1.2" fill="#1c9a50" opacity="0.63" transform="rotate(49 208.0 334.8)"/>
<ellipse cx="236.9" cy="393.3" rx="1.5" ry="1.0" fill="#1c9a50" opacity="0.77" transform="rotate(58 236.9 393.3)"/>
<ellipse cx="214.5" cy="388.0" rx="1.3" ry="1.0" fill="#1c9a50" opacity="0.78" transform="rotate(144 214.5 388.0)"/>
<ellipse cx="247.9" cy="339.4" rx="1.0" ry="0.8" fill="#1c9a50" opacity="0.55" transform="rotate(90 247.9 339.4)"/>
<ellipse cx="253.9" cy="362.8" rx="1.5" ry="1.0" fill="#1c9a50" opacity="0.58" transform="rotate(58 253.9 362.8)"/>
<ellipse cx="222.3" cy="359.3" rx="1.2" ry="0.9" fill="#1c9a50" opacity="0.67" transform="rotate(50 222.3 359.3)"/>
<ellipse cx="227.6" cy="395.1" rx="1.5" ry="1.0" fill="#1c9a50" opacity="0.78" transform="rotate(99 227.6 395.1)"/>
<ellipse cx="246.4" cy="401.1" rx="1.5" ry="1.4" fill="#1c9a50" opacity="0.53" transform="rotate(13 246.4 401.1)"/>
<ellipse cx="246.7" cy="399.3" rx="1.7" ry="1.4" fill="#1c9a50" opacity="0.66" transform="rotate(42 246.7 399.3)"/>
<ellipse cx="236.5" cy="347.3" rx="1.7" ry="1.4" fill="#1c9a50" opacity="0.66" transform="rotate(160 236.5 347.3)"/>
<ellipse cx="206.9" cy="337.1" rx="1.7" ry="1.4" fill="#1c9a50" opacity="0.80" transform="rotate(95 206.9 337.1)"/>
<ellipse cx="193.3" cy="387.9" rx="1.2" ry="0.9" fill="#1c9a50" opacity="0.53" transform="rotate(104 193.3 387.9)"/>
<ellipse cx="207.5" cy="385.7" rx="1.7" ry="1.2" fill="#1c9a50" opacity="0.49" transform="rotate(73 207.5 385.7)"/>
<ellipse cx="229.7" cy="335.8" rx="1.5" ry="1.3" fill="#1c9a50" opacity="0.59" transform="rotate(155 229.7 335.8)"/>
<ellipse cx="248.1" cy="400.4" rx="1.3" ry="0.9" fill="#1c9a50" opacity="0.80" transform="rotate(25 248.1 400.4)"/>
<ellipse cx="208.6" cy="338.0" rx="1.4" ry="1.2" fill="#1c9a50" opacity="0.49" transform="rotate(11 208.6 338.0)"/>
<ellipse cx="200.8" cy="360.8" rx="1.4" ry="1.3" fill="#1c9a50" opacity="0.53" transform="rotate(10 200.8 360.8)"/>
<ellipse cx="190.1" cy="392.6" rx="1.1" ry="1.1" fill="#1c9a50" opacity="0.79" transform="rotate(108 190.1 392.6)"/>
<ellipse cx="249.2" cy="358.8" rx="1.3" ry="0.9" fill="#1c9a50" opacity="0.65" transform="rotate(20 249.2 358.8)"/>
<ellipse cx="231.7" cy="373.8" rx="1.4" ry="1.2" fill="#1c9a50" opacity="0.68" transform="rotate(164 231.7 373.8)"/>
<ellipse cx="252.2" cy="367.7" rx="1.3" ry="1.0" fill="#1c9a50" opacity="0.71" transform="rotate(11 252.2 367.7)"/>
<ellipse cx="203.6" cy="353.5" rx="1.8" ry="1.5" fill="#1c9a50" opacity="0.65" transform="rotate(114 203.6 353.5)"/>
<ellipse cx="225.1" cy="333.5" rx="1.2" ry="1.0" fill="#1c9a50" opacity="0.67" transform="rotate(5 225.1 333.5)"/>
<ellipse cx="188.6" cy="375.2" rx="1.5" ry="1.2" fill="#1c9a50" opacity="0.50" transform="rotate(20 188.6 375.2)"/>
<ellipse cx="230.5" cy="364.9" rx="1.5" ry="1.1" fill="#1c9a50" opacity="0.59" transform="rotate(64 230.5 364.9)"/>
<ellipse cx="236.1" cy="383.6" rx="0.9" ry="0.6" fill="#1c9a50" opacity="0.50" transform="rotate(94 236.1 383.6)"/>
<ellipse cx="233.9" cy="399.2" rx="1.1" ry="0.7" fill="#1c9a50" opacity="0.63" transform="rotate(106 233.9 399.2)"/>
<ellipse cx="228.2" cy="354.8" rx="1.2" ry="0.8" fill="#1c9a50" opacity="0.58" transform="rotate(20 228.2 354.8)"/>
<ellipse cx="212.7" cy="373.8" rx="1.1" ry="0.9" fill="#1c9a50" opacity="0.60" transform="rotate(108 212.7 373.8)"/>
<ellipse cx="240.6" cy="334.6" rx="1.4" ry="1.1" fill="#1c9a50" opacity="0.72" transform="rotate(41 240.6 334.6)"/>
<ellipse cx="208.6" cy="348.1" rx="1.6" ry="1.5" fill="#1c9a50" opacity="0.56" transform="rotate(97 208.6 348.1)"/>
<ellipse cx="200.1" cy="362.7" rx="1.5" ry="1.3" fill="#1c9a50" opacity="0.51" transform="rotate(106 200.1 362.7)"/>
<ellipse cx="209.4" cy="355.7" rx="1.7" ry="1.2" fill="#1c9a50" opacity="0.62" transform="rotate(160 209.4 355.7)"/>
<ellipse cx="246.3" cy="344.4" rx="1.2" ry="1.0" fill="#1c9a50" opacity="0.69" transform="rotate(6 246.3 344.4)"/>
<ellipse cx="248.3" cy="363.8" rx="1.1" ry="0.8" fill="#1c9a50" opacity="0.52" transform="rotate(30 248.3 363.8)"/>
<ellipse cx="223.8" cy="345.9" rx="1.6" ry="1.3" fill="#1c9a50" opacity="0.75" transform="rotate(102 223.8 345.9)"/>
<ellipse cx="199.9" cy="351.9" rx="1.6" ry="1.3" fill="#1c9a50" opacity="0.69" transform="rotate(115 199.9 351.9)"/>
<ellipse cx="242.9" cy="356.5" rx="1.0" ry="0.9" fill="#1c9a50" opacity="0.57" transform="rotate(109 242.9 356.5)"/>
<ellipse cx="242.1" cy="351.4" rx="1.2" ry="0.8" fill="#1c9a50" opacity="0.61" transform="rotate(90 242.1 351.4)"/>
<ellipse cx="216.2" cy="361.0" rx="1.7" ry="1.6" fill="#1c9a50" opacity="0.53" transform="rotate(66 216.2 361.0)"/>
<ellipse cx="187.5" cy="397.8" rx="1.7" ry="1.3" fill="#1c9a50" opacity="0.80" transform="rotate(105 187.5 397.8)"/>
<ellipse cx="217.2" cy="398.3" rx="1.7" ry="1.2" fill="#1c9a50" opacity="0.55" transform="rotate(134 217.2 398.3)"/>
<ellipse cx="238.7" cy="390.4" rx="1.5" ry="1.4" fill="#1c9a50" opacity="0.65" transform="rotate(55 238.7 390.4)"/>
<ellipse cx="207.2" cy="356.2" rx="1.1" ry="0.8" fill="#1c9a50" opacity="0.50" transform="rotate(0 207.2 356.2)"/>
<ellipse cx="227.9" cy="352.5" rx="1.6" ry="1.1" fill="#1c9a50" opacity="0.49" transform="rotate(124 227.9 352.5)"/>
<ellipse cx="249.6" cy="380.6" rx="1.7" ry="1.4" fill="#1c9a50" opacity="0.77" transform="rotate(85 249.6 380.6)"/>
<ellipse cx="249.4" cy="372.5" rx="0.9" ry="0.6" fill="#1c9a50" opacity="0.72" transform="rotate(5 249.4 372.5)"/>
<ellipse cx="199.1" cy="353.4" rx="1.5" ry="1.4" fill="#1c9a50" opacity="0.65" transform="rotate(163 199.1 353.4)"/>
<ellipse cx="215.8" cy="397.5" rx="1.4" ry="1.0" fill="#1c9a50" opacity="0.59" transform="rotate(26 215.8 397.5)"/>
<line x1="204.1" y1="391.9" x2="205.2" y2="392.4" stroke="#d81a44" stroke-width="0.9" stroke-linecap="round" opacity="0.9"/>
<line x1="191.0" y1="347.8" x2="191.8" y2="348.1" stroke="#d81a44" stroke-width="0.9" stroke-linecap="round" opacity="0.9"/>
<line x1="195.0" y1="349.1" x2="195.9" y2="349.4" stroke="#d81a44" stroke-width="0.9" stroke-linecap="round" opacity="0.9"/>
<line x1="196.6" y1="395.8" x2="195.6" y2="396.6" stroke="#d81a44" stroke-width="0.9" stroke-linecap="round" opacity="0.9"/>
<line x1="246.4" y1="336.4" x2="247.2" y2="335.9" stroke="#d81a44" stroke-width="0.9" stroke-linecap="round" opacity="0.9"/>
<line x1="229.6" y1="368.7" x2="230.2" y2="368.4" stroke="#d81a44" stroke-width="0.9" stroke-linecap="round" opacity="0.9"/>
<line x1="240.6" y1="333.1" x2="241.1" y2="332.6" stroke="#d81a44" stroke-width="0.9" stroke-linecap="round" opacity="0.9"/>
<line x1="190.0" y1="336.6" x2="190.8" y2="335.7" stroke="#d81a44" stroke-width="0.9" stroke-linecap="round" opacity="0.9"/>
<line x1="245.7" y1="339.0" x2="246.8" y2="338.3" stroke="#d81a44" stroke-width="0.9" stroke-linecap="round" opacity="0.9"/>
<line x1="198.3" y1="337.2" x2="197.8" y2="338.1" stroke="#d81a44" stroke-width="0.9" stroke-linecap="round" opacity="0.9"/>
<line x1="227.3" y1="357.8" x2="228.1" y2="357.4" stroke="#d81a44" stroke-width="0.9" stroke-linecap="round" opacity="0.9"/>
<line x1="216.6" y1="341.2" x2="217.0" y2="341.8" stroke="#d81a44" stroke-width="0.9" stroke-linecap="round" opacity="0.9"/>
<line x1="213.1" y1="338.4" x2="213.9" y2="338.0" stroke="#d81a44" stroke-width="0.9" stroke-linecap="round" opacity="0.9"/>
<line x1="218.7" y1="377.0" x2="219.4" y2="378.1" stroke="#d81a44" stroke-width="0.9" stroke-linecap="round" opacity="0.9"/>
<line x1="242.0" y1="376.0" x2="243.1" y2="375.4" stroke="#d81a44" stroke-width="0.9" stroke-linecap="round" opacity="0.9"/>
<line x1="230.3" y1="384.7" x2="230.8" y2="385.6" stroke="#d81a44" stroke-width="0.9" stroke-linecap="round" opacity="0.9"/>
<line x1="215.7" y1="334.2" x2="216.5" y2="333.7" stroke="#d81a44" stroke-width="0.9" stroke-linecap="round" opacity="0.9"/>
<line x1="235.5" y1="337.1" x2="234.9" y2="338.1" stroke="#d81a44" stroke-width="0.9" stroke-linecap="round" opacity="0.9"/>
<line x1="196.6" y1="334.3" x2="195.8" y2="335.0" stroke="#d81a44" stroke-width="0.9" stroke-linecap="round" opacity="0.9"/>
<line x1="241.5" y1="351.3" x2="242.2" y2="350.3" stroke="#d81a44" stroke-width="0.9" stroke-linecap="round" opacity="0.9"/>
<line x1="252.7" y1="382.6" x2="251.5" y2="383.7" stroke="#d81a44" stroke-width="0.9" stroke-linecap="round" opacity="0.9"/>
<line x1="242.5" y1="378.3" x2="241.4" y2="379.3" stroke="#d81a44" stroke-width="0.9" stroke-linecap="round" opacity="0.9"/>
</g></g>
<clipPath id="fc4"><rect x="266.9" y="330.7" width="73.1" height="73"/></clipPath>
<rect x="266.90" y="330.70" width="73.10" height="73.00" fill="#070b26"/>
<g clip-path="url(#fc4)"><g filter="url(#fb5)">
<path d="M319.0,392.0l0.3,0.0M273.6,386.0l0.3,0.0M299.2,393.9l-0.2,0.7M320.9,363.1l-0.0,0.3M328.5,342.2l-0.3,0.1M332.2,398.2l-0.2,0.4M315.5,389.0l0.0,0.3M321.2,398.2l0.5,0.2M302.0,379.6l-0.2,0.4M322.8,369.5l0.3,0.6M314.3,359.3l0.1,0.7M285.2,344.2l-0.1,0.2M294.0,334.9l0.4,0.2M269.6,402.9l0.6,0.0M296.8,359.6l-0.6,0.3M333.2,389.0l-0.1,0.5M317.5,361.3l-0.4,0.1M322.5,354.0l-0.3,0.1M271.9,388.0l0.6,0.1M299.5,343.5l-0.3,0.2M307.6,381.8l0.3,0.6M280.3,341.0l-0.7,0.1M318.4,349.3l-0.0,0.6M339.3,392.5l-0.7,0.2M276.5,401.3l0.6,0.4M285.1,353.1l-0.5,0.1M286.7,335.3l0.3,0.3M291.8,386.2l-0.5,0.5M326.6,384.2l0.0,0.3M321.6,348.1l0.3,0.1M335.6,348.4l0.2,0.3M283.6,390.4l0.1,0.4M299.4,398.2l0.3,0.4M274.8,368.6l0.4,0.0M327.7,373.3l-0.5,0.4M282.5,341.0l0.5,0.1M311.6,382.3l-0.1,0.2M278.9,392.5l0.1,0.5M302.3,331.0l0.3,0.2M333.4,383.9l0.5,0.0M275.1,376.4l-0.0,0.4M281.6,343.5l-0.1,0.4M294.8,335.2l0.5,0.1M315.7,348.6l-0.5,0.2M287.4,379.8l-0.6,0.1M320.7,391.6l0.7,0.3M293.9,393.6l0.3,0.3M314.9,361.5l0.4,0.3M312.3,400.4l0.1,0.4M298.6,367.5l0.3,0.1M287.0,383.4l0.1,0.3M267.1,397.4l0.5,0.1M285.8,336.1l-0.1,0.5M290.6,337.8l-0.3,0.1M311.7,367.0l-0.3,0.4M338.6,361.2l0.1,0.3M310.8,362.4l0.3,0.1M339.2,390.5l0.6,0.4M334.2,396.8l-0.1,0.3M285.5,379.5l-0.3,0.6M309.1,374.0l-0.1,0.4M316.6,377.5l-0.5,0.2M315.9,371.6l0.3,0.7M295.0,398.3l-0.5,0.4M331.7,401.8l-0.0,0.8M339.5,376.9l0.1,0.4M309.8,377.7l0.6,0.1M332.2,347.6l-0.4,0.2M284.7,362.9l-0.5,0.1M281.7,397.5l0.7,0.0M290.6,340.0l0.7,0.2M339.7,356.3l-0.1,0.5M271.2,364.0l0.0,0.5M277.1,371.4l-0.6,0.0M328.6,361.7l-0.2,0.3M274.8,342.0l0.5,0.5M311.4,396.2l0.1,0.3M329.2,376.6l0.1,0.7M314.0,351.4l0.7,0.1M336.5,357.9l0.3,0.3M336.0,374.9l-0.1,0.5M285.9,384.2l-0.0,0.5M317.2,347.7l0.3,0.2M324.4,373.8l-0.3,0.0M278.1,331.6l-0.3,0.1M289.9,357.3l0.4,0.5M274.7,348.0l-0.2,0.7M325.0,383.3l0.3,0.5M281.1,401.9l0.5,0.1M296.2,363.6l0.2,0.6M296.1,356.3l-0.6,0.3M279.0,359.4l0.4,0.1M288.4,335.6l-0.2,0.3M277.5,339.2l0.5,0.5M302.4,375.6l-0.5,0.2M288.2,395.1l-0.0,0.7M279.1,375.4l0.0,0.5M285.9,356.4l0.1,0.3M285.5,377.8l-0.5,0.3M278.4,400.7l-0.4,0.5M319.3,352.6l0.4,0.3M286.5,396.9l0.4,0.0M288.8,372.9l-0.2,0.7M338.3,357.0l-0.5,0.4M335.2,372.0l0.5,0.1M339.3,350.0l-0.1,0.4M292.4,386.5l-0.4,0.1M299.7,387.3l-0.5,0.3M275.1,346.8l-0.1,0.5M309.6,393.3l0.0,0.7M268.2,350.3l0.2,0.2M330.8,400.4l0.2,0.4M270.4,366.7l0.2,0.3M273.3,334.2l-0.1,0.3M303.6,391.0l-0.2,0.3M317.6,366.8l0.6,0.3M280.9,339.0l-0.7,0.2M313.7,382.5l-0.3,0.4M300.4,392.2l-0.1,0.7M309.0,367.3l0.3,0.2M302.8,396.1l-0.4,0.0M275.6,345.2l0.1,0.3M316.1,366.5l0.1,0.5M286.8,367.3l0.1,0.4M278.0,388.2l-0.7,0.3M296.2,396.2l-0.2,0.3M336.3,355.3l-0.6,0.1M334.9,389.8l-0.3,0.4M318.0,336.1l0.5,0.5M301.7,403.5l0.2,0.4M272.2,350.8l0.6,0.3M294.5,366.9l-0.2,0.1M307.4,352.8l0.3,0.3M324.3,390.7l0.3,0.2M294.7,397.2l0.5,0.1M331.0,364.9l-0.2,0.5M303.8,399.4l0.2,0.4M322.2,378.0l-0.1,0.5M339.3,339.4l-0.4,0.4M294.0,349.5l-0.3,0.3M297.2,363.3l-0.0,0.5M328.5,378.1l-0.8,0.1M335.2,362.9l0.5,0.2M272.7,376.1l0.2,0.6M289.0,374.3l-0.5,0.3M299.4,346.0l0.7,0.3M284.8,338.8l0.0,0.3M331.4,378.7l0.2,0.6M284.9,399.4l-0.5,0.1M294.9,363.1l-0.2,0.1M309.3,381.9l0.4,0.5M293.4,393.3l0.2,0.1M288.2,398.2l0.0,0.3M306.7,352.4l0.3,0.0M280.0,347.3l-0.1,0.6M279.3,337.1l-0.3,0.3M336.8,391.7l-0.3,0.7M319.0,350.9l-0.6,0.0M272.9,368.2l-0.2,0.3M334.2,338.5l0.5,0.4M327.9,400.8l0.1,0.7M317.9,369.8l-0.7,0.2M288.5,375.4l0.4,0.5M313.0,362.1l-0.7,0.3M338.6,373.7l-0.1,0.3M331.6,361.4l0.2,0.4M320.9,357.5l-0.2,0.6M273.8,374.9l0.1,0.3M307.9,357.6l0.1,0.7M280.3,372.7l-0.4,0.1M310.4,397.2l0.4,0.5M303.4,353.4l-0.4,0.2M311.1,367.7l0.5,0.6M276.1,351.8l0.6,0.2" fill="none" stroke="#1a2874" stroke-width="1.28" stroke-linecap="round" opacity="0.32"/>
<path d="M280.2,403.6l-0.2,0.8M278.0,382.3l-0.2,0.7M339.1,339.1l0.3,0.1M289.2,400.3l-0.4,0.5M290.8,353.0l0.7,0.0M290.0,396.0l0.8,0.1M326.8,403.1l-0.5,0.4M273.7,366.8l0.3,0.7M338.1,340.3l0.5,0.1M284.6,376.8l-0.8,0.4M325.0,360.2l-0.1,0.3M308.9,362.4l0.1,0.3M299.9,353.5l0.2,0.8M318.9,389.9l-0.1,0.4M283.0,352.8l0.0,0.6M313.8,332.0l0.4,0.5M313.1,396.8l-0.0,0.7M319.6,359.7l0.1,0.4M328.7,369.4l-0.4,0.2M270.5,390.9l-0.3,0.0M270.5,396.9l-0.8,0.4M303.7,336.4l0.5,0.2M314.7,363.8l0.2,0.5M327.8,355.6l0.2,0.6M287.5,394.3l0.4,0.7M321.5,375.1l-0.1,0.5M282.5,402.3l-0.4,0.3M317.3,342.1l-0.2,0.3M283.5,347.8l-0.1,0.8M290.9,348.0l0.4,0.9M313.1,372.2l1.0,0.1M336.5,367.8l-0.4,0.1M293.0,363.5l-0.7,0.4M337.6,394.4l0.2,0.9M293.2,345.0l-0.4,0.2M275.2,391.2l-0.7,0.5M278.4,368.6l-0.5,0.7M277.3,375.3l0.2,0.3M304.1,366.2l-0.1,0.6M328.4,356.3l0.2,0.6M280.0,374.8l-0.8,0.2M297.7,401.8l-0.2,0.7M306.3,353.1l0.2,0.9M314.2,369.9l0.2,0.4M307.6,367.5l-0.1,0.3M323.8,396.9l0.0,0.4M323.3,375.9l-0.4,0.5M280.6,401.5l0.2,0.4M323.6,345.4l0.1,0.3M321.5,374.7l-0.2,0.7M276.1,383.6l-0.3,0.6M280.5,369.6l-0.6,0.7M328.8,386.9l0.4,0.3M329.0,401.9l-0.2,0.5M275.3,333.1l0.8,0.2M305.0,395.0l-0.5,0.3M295.4,342.3l0.5,0.0M267.5,385.9l-0.3,0.5M331.7,403.2l-0.1,0.9M310.4,397.3l-0.5,0.1M275.7,356.7l-0.2,0.8M318.8,356.5l-0.3,0.1M337.5,393.9l-0.3,0.6M309.1,361.8l0.0,0.9M294.5,399.8l0.2,0.6M278.4,377.0l-0.6,0.1M316.3,337.8l-0.1,0.3M283.5,383.4l0.4,0.7M284.5,366.0l0.2,0.5M331.0,360.1l0.6,0.0M333.3,359.9l0.0,0.8M301.4,349.1l0.5,0.5M298.4,382.1l-0.1,0.7M277.4,352.3l0.4,0.1M278.6,374.5l0.3,0.1M271.7,352.4l-0.4,0.2M283.8,385.0l0.3,0.2M298.0,357.6l0.3,0.9M278.3,365.6l-0.5,0.3M269.3,342.9l-0.2,0.3M295.9,337.7l0.8,0.2M317.6,344.3l-0.0,0.6M325.1,332.6l-0.5,0.1M308.5,357.8l0.7,0.2M312.7,335.4l0.8,0.1M327.6,357.7l0.3,0.3M267.7,350.0l0.6,0.3M277.6,398.4l-0.0,0.7M295.2,352.1l-0.8,0.4M320.9,358.5l0.9,0.3M285.8,388.6l0.3,0.1M310.4,367.6l-0.6,0.5M315.0,370.1l0.5,0.1M312.8,358.8l-0.6,0.5M298.6,341.3l-0.6,0.5M271.8,385.3l0.2,0.2M334.6,360.7l-0.5,0.1M311.4,399.3l0.3,0.6M316.8,369.9l0.3,0.2M291.6,331.2l0.2,0.5M279.6,380.9l0.7,0.6M313.9,365.0l-0.1,0.7M309.2,371.3l0.1,0.3M327.5,339.9l-0.6,0.7M283.9,341.6l0.9,0.1M322.4,343.1l-0.5,0.4M298.1,354.0l0.4,0.3M272.7,353.4l-0.4,0.5M332.0,358.9l0.3,0.4M292.9,388.5l-0.7,0.6M335.3,376.6l-0.5,0.8M299.2,341.2l-0.1,0.7M311.9,387.1l-0.4,0.5M275.4,360.5l0.2,0.8M316.5,382.0l-0.1,0.6M329.1,349.0l-0.1,0.5M280.4,353.8l-0.1,0.7M306.1,341.5l-0.4,0.5M336.3,343.0l0.1,0.3M288.5,349.5l-0.8,0.2M331.2,387.4l-0.3,0.2M269.7,335.4l-0.7,0.3M285.7,379.0l0.2,0.8M284.3,366.0l-0.1,0.7M279.1,333.8l0.0,0.6M288.3,358.2l-0.5,0.2M320.6,397.8l0.3,0.0M270.2,366.1l0.7,0.3M328.8,350.0l0.4,0.1M328.2,336.8l-0.6,0.5M294.0,332.0l-0.3,0.7M309.9,402.8l-0.1,0.9M333.0,394.3l0.1,0.4M293.0,391.1l-0.1,0.6M300.9,350.8l0.4,0.7M291.1,401.3l0.0,0.9M295.9,331.0l0.4,0.3M297.1,362.2l-0.6,0.7M276.9,332.7l-0.0,0.9M300.3,376.2l-0.5,0.5M314.2,353.2l0.4,0.4M339.9,331.6l0.7,0.1M281.6,374.8l0.3,0.1M279.3,398.4l-0.7,0.4M315.6,367.2l-0.5,0.8M267.5,376.3l0.5,0.5M302.1,377.8l0.2,0.9M317.7,395.5l0.3,0.4M330.6,338.1l0.8,0.5M270.9,362.7l0.5,0.7M298.7,399.4l0.4,0.7M294.8,339.2l0.5,0.6M267.3,350.0l0.0,0.7M270.8,384.3l0.0,0.9M270.4,358.5l0.5,0.1M289.6,398.6l-0.3,0.6M298.5,385.0l0.6,0.3M270.9,382.8l0.0,0.3M304.6,348.1l0.2,0.8M279.1,401.2l0.7,0.4M293.0,402.3l0.6,0.2M317.5,337.3l-0.1,0.4M311.2,371.4l-0.2,0.7M273.4,351.3l0.2,0.2M331.4,394.6l-0.6,0.2M313.9,402.8l0.9,0.1M319.5,350.3l0.5,0.0M289.7,345.0l0.3,0.2M307.9,364.3l-0.6,0.2M309.9,353.4l0.8,0.1M330.3,342.5l-0.1,0.4M310.3,382.1l-0.9,0.2M308.8,339.0l0.5,0.5" fill="none" stroke="#1a2874" stroke-width="1.60" stroke-linecap="round" opacity="0.42"/>
<path d="M281.1,379.7l-0.6,0.5M319.9,386.6l0.1,0.6M304.7,400.6l-0.5,0.1M273.1,386.2l-0.6,0.1M306.5,357.5l0.4,1.1M272.0,337.8l0.5,0.7M329.7,350.1l0.3,0.9M278.2,341.1l-0.3,0.3M303.8,403.5l0.5,0.4M286.0,377.7l0.4,1.1M301.2,391.4l0.3,0.5M330.8,348.9l-0.4,0.8M299.7,386.5l0.1,0.4M306.3,372.8l-0.7,0.1M288.4,355.2l-0.3,0.4M286.1,370.4l1.0,0.0M286.5,358.6l-0.1,0.4M268.3,364.5l-1.1,0.4M332.6,346.3l-0.0,1.0M270.7,398.9l-0.3,0.9M324.9,338.3l1.0,0.7M325.3,366.9l-0.6,1.0M314.3,360.7l0.6,0.1M280.9,341.9l0.9,0.5M283.9,375.9l-0.3,0.3M336.0,348.0l1.2,0.1M308.1,365.4l-1.1,0.3M270.3,343.4l0.6,1.0M289.4,380.3l0.2,0.4M336.0,371.0l0.3,1.1M335.0,357.3l0.8,0.5M291.2,336.9l0.2,1.1M308.2,348.1l0.7,0.0M289.0,388.0l0.0,0.4M318.3,380.8l-0.9,0.6M331.6,368.4l-0.1,0.6M299.7,394.2l0.1,1.0M332.1,336.3l-0.2,0.8M337.1,366.2l-0.1,0.9M273.9,377.2l1.0,0.5M322.9,400.9l-0.2,0.6M285.5,365.4l0.2,0.6M301.3,384.7l-0.2,0.6M322.8,330.9l-0.3,0.8M305.6,375.8l-0.8,0.8M309.0,343.2l-0.5,0.7M276.2,342.4l-0.7,0.8M283.8,398.3l0.5,0.5M283.6,393.7l0.3,0.3M319.5,368.8l0.1,0.4M325.1,341.1l-0.6,0.0M288.1,340.7l0.5,0.6M324.2,341.4l0.2,0.8M336.2,392.2l0.4,0.0M312.2,400.9l-0.3,0.7M287.6,384.3l-0.1,0.6M277.6,352.4l-1.1,0.3M277.2,372.8l-1.0,0.2M313.1,333.0l0.7,0.1M279.4,395.4l0.3,1.0M304.5,385.8l0.4,0.7M291.4,402.1l0.4,0.1M319.6,402.1l-0.3,0.9M296.3,334.3l0.6,0.6M276.4,364.4l-0.2,0.5M268.8,383.4l-0.2,0.9M331.4,386.5l-0.0,0.9M334.3,372.2l0.7,0.0M337.0,380.2l0.6,0.5M267.0,379.4l0.6,0.6M278.9,351.4l0.6,0.1M272.9,340.3l1.0,0.4M327.8,394.5l-0.2,1.1M295.2,359.4l-0.9,0.1M285.9,396.8l0.6,0.3M324.1,336.5l0.3,0.2M319.8,401.0l0.6,0.8M275.8,334.6l0.3,0.3M277.5,377.1l0.6,0.4M289.7,395.5l0.3,0.3M328.2,332.5l-0.8,0.3M339.2,378.4l0.7,0.8M310.9,332.2l-0.9,0.2M324.1,333.2l0.0,1.2M267.4,393.0l-0.1,0.5M328.4,402.9l-0.2,0.8M310.2,402.3l-0.1,0.5M298.6,387.4l-1.0,0.2M330.0,379.3l0.4,0.5M305.5,367.0l0.7,0.2M315.0,343.3l-0.1,0.6M314.2,381.9l0.8,0.2M291.4,395.4l-0.2,0.4M314.6,337.4l-0.7,0.5M272.7,353.5l-0.1,0.5M336.7,368.6l-0.8,0.0M320.1,346.0l0.0,0.7M278.7,333.8l0.1,1.0M319.7,365.8l-0.5,0.5M279.3,349.6l0.4,0.8M315.0,378.7l-0.5,0.8M333.8,348.1l0.4,0.9M273.8,385.8l0.8,0.1M274.9,373.9l0.4,0.1M333.8,382.1l0.6,0.7M276.1,359.8l-0.4,0.0M331.6,393.7l-0.6,0.3M331.0,367.1l-0.4,0.1M339.5,402.0l0.2,1.0M271.1,366.3l-0.0,0.9M270.3,391.9l-1.1,0.1M323.3,373.7l0.6,0.7M312.4,353.6l-0.8,0.6M295.3,397.6l-0.2,0.4M328.5,393.4l0.5,0.3M285.8,339.8l-0.8,0.5M318.3,402.7l-0.4,1.1M320.0,373.5l1.1,0.2M268.2,358.1l-0.8,0.7M299.3,337.2l-0.5,0.4M280.2,359.4l0.7,0.7M319.8,350.3l0.9,0.4M302.7,344.8l0.7,0.1M293.8,399.5l-0.7,0.2M327.9,386.3l0.0,0.8M329.2,389.4l-0.9,0.1M318.9,355.7l-0.5,0.1M337.8,389.2l-0.5,1.0M282.8,384.6l-0.1,0.9M270.1,343.8l-1.0,0.2M319.8,389.8l-0.5,0.1M322.6,344.9l-0.6,0.6M300.8,400.0l0.8,0.4M278.8,391.5l-0.2,0.9M286.4,355.9l-0.9,0.6M324.4,334.7l-0.4,0.2M308.4,384.7l0.3,0.9M275.2,398.6l-0.6,0.2M293.7,385.7l0.1,0.6M308.5,367.5l-0.8,0.4M339.0,378.7l-0.5,0.6M288.3,370.9l1.0,0.3M339.2,331.6l-0.1,1.1M268.9,382.8l1.0,0.1M292.5,400.7l0.5,0.1M282.9,370.1l0.3,0.9M296.9,401.2l-1.1,0.2M298.4,399.0l0.4,0.5M267.3,374.8l-1.2,0.2M311.8,386.1l-0.7,0.2M283.9,366.7l0.0,0.6M320.3,379.3l-0.3,0.4M331.5,392.6l0.4,0.7M275.7,401.3l0.0,0.5M301.0,388.3l-0.1,0.8M288.2,357.5l0.3,0.3M295.6,374.7l0.5,0.5M318.6,394.5l0.3,0.7M298.3,374.0l0.9,0.2M304.0,362.7l1.0,0.0M308.7,362.2l-0.3,0.3M325.7,347.4l-0.5,0.7M281.1,352.6l-0.3,0.7M303.7,372.5l-0.5,1.0M276.8,333.0l0.7,0.7M267.8,363.2l-0.5,0.3M329.3,377.5l-0.7,0.6M334.8,341.3l0.4,0.9M296.2,381.2l0.0,0.6M273.1,385.2l0.3,0.2M338.2,356.0l0.6,0.3M287.4,349.0l-0.1,1.2M335.2,395.8l-0.4,0.3" fill="none" stroke="#1a2874" stroke-width="2.00" stroke-linecap="round" opacity="0.36"/>
<ellipse cx="305.7" cy="388.7" rx="1.7" ry="1.1" fill="#1a934c" opacity="0.59" transform="rotate(136 305.7 388.7)"/>
<ellipse cx="285.2" cy="359.5" rx="1.5" ry="1.0" fill="#1a934c" opacity="0.62" transform="rotate(47 285.2 359.5)"/>
<ellipse cx="314.5" cy="358.6" rx="1.8" ry="1.6" fill="#1a934c" opacity="0.55" transform="rotate(153 314.5 358.6)"/>
<ellipse cx="327.8" cy="334.5" rx="1.0" ry="0.8" fill="#1a934c" opacity="0.59" transform="rotate(115 327.8 334.5)"/>
<ellipse cx="317.0" cy="352.3" rx="1.2" ry="0.8" fill="#1a934c" opacity="0.48" transform="rotate(133 317.0 352.3)"/>
<ellipse cx="337.7" cy="371.6" rx="1.5" ry="1.0" fill="#1a934c" opacity="0.52" transform="rotate(120 337.7 371.6)"/>
<ellipse cx="307.2" cy="339.6" rx="1.5" ry="1.2" fill="#1a934c" opacity="0.62" transform="rotate(9 307.2 339.6)"/>
<ellipse cx="329.0" cy="345.1" rx="1.0" ry="0.9" fill="#1a934c" opacity="0.75" transform="rotate(170 329.0 345.1)"/>
<ellipse cx="313.5" cy="364.0" rx="1.6" ry="1.5" fill="#1a934c" opacity="0.73" transform="rotate(157 313.5 364.0)"/>
<ellipse cx="286.4" cy="374.1" rx="1.9" ry="1.6" fill="#1a934c" opacity="0.62" transform="rotate(121 286.4 374.1)"/>
<ellipse cx="335.7" cy="358.6" rx="1.1" ry="0.9" fill="#1a934c" opacity="0.73" transform="rotate(106 335.7 358.6)"/>
<ellipse cx="327.2" cy="399.4" rx="1.3" ry="1.3" fill="#1a934c" opacity="0.62" transform="rotate(63 327.2 399.4)"/>
<ellipse cx="309.0" cy="396.5" rx="1.6" ry="1.2" fill="#1a934c" opacity="0.50" transform="rotate(146 309.0 396.5)"/>
<ellipse cx="296.6" cy="393.9" rx="1.1" ry="0.9" fill="#1a934c" opacity="0.60" transform="rotate(153 296.6 393.9)"/>
<ellipse cx="302.3" cy="380.9" rx="1.9" ry="1.3" fill="#1a934c" opacity="0.63" transform="rotate(177 302.3 380.9)"/>
<ellipse cx="328.2" cy="342.1" rx="1.7" ry="1.3" fill="#1a934c" opacity="0.49" transform="rotate(76 328.2 342.1)"/>
<ellipse cx="304.5" cy="397.2" rx="1.8" ry="1.3" fill="#1a934c" opacity="0.61" transform="rotate(5 304.5 397.2)"/>
<ellipse cx="322.8" cy="379.0" rx="1.8" ry="1.4" fill="#1a934c" opacity="0.63" transform="rotate(83 322.8 379.0)"/>
<ellipse cx="309.3" cy="400.6" rx="1.8" ry="1.5" fill="#1a934c" opacity="0.54" transform="rotate(25 309.3 400.6)"/>
<ellipse cx="287.4" cy="388.2" rx="1.1" ry="0.8" fill="#1a934c" opacity="0.62" transform="rotate(141 287.4 388.2)"/>
<ellipse cx="285.4" cy="366.0" rx="1.8" ry="1.6" fill="#1a934c" opacity="0.58" transform="rotate(126 285.4 366.0)"/>
<ellipse cx="317.1" cy="381.1" rx="1.1" ry="1.0" fill="#1a934c" opacity="0.62" transform="rotate(21 317.1 381.1)"/>
<ellipse cx="331.2" cy="377.7" rx="0.9" ry="0.6" fill="#1a934c" opacity="0.75" transform="rotate(144 331.2 377.7)"/>
<ellipse cx="273.9" cy="398.1" rx="1.7" ry="1.6" fill="#1a934c" opacity="0.71" transform="rotate(157 273.9 398.1)"/>
<ellipse cx="272.1" cy="395.6" rx="1.8" ry="1.5" fill="#1a934c" opacity="0.64" transform="rotate(135 272.1 395.6)"/>
<ellipse cx="322.6" cy="337.5" rx="1.1" ry="0.9" fill="#1a934c" opacity="0.53" transform="rotate(176 322.6 337.5)"/>
<ellipse cx="330.4" cy="386.2" rx="1.0" ry="0.8" fill="#1a934c" opacity="0.64" transform="rotate(64 330.4 386.2)"/>
<ellipse cx="315.6" cy="335.2" rx="1.9" ry="1.7" fill="#1a934c" opacity="0.50" transform="rotate(45 315.6 335.2)"/>
<ellipse cx="272.0" cy="345.3" rx="1.0" ry="0.7" fill="#1a934c" opacity="0.69" transform="rotate(155 272.0 345.3)"/>
<ellipse cx="277.1" cy="350.9" rx="1.9" ry="1.7" fill="#1a934c" opacity="0.46" transform="rotate(21 277.1 350.9)"/>
<ellipse cx="300.2" cy="383.4" rx="1.3" ry="0.8" fill="#1a934c" opacity="0.46" transform="rotate(115 300.2 383.4)"/>
<ellipse cx="291.8" cy="358.9" rx="1.0" ry="0.7" fill="#1a934c" opacity="0.64" transform="rotate(25 291.8 358.9)"/>
<ellipse cx="320.2" cy="366.5" rx="1.0" ry="0.9" fill="#1a934c" opacity="0.55" transform="rotate(79 320.2 366.5)"/>
<ellipse cx="329.9" cy="338.0" rx="1.4" ry="1.1" fill="#1a934c" opacity="0.58" transform="rotate(34 329.9 338.0)"/>
<ellipse cx="305.3" cy="350.0" rx="1.5" ry="1.4" fill="#1a934c" opacity="0.66" transform="rotate(115 305.3 350.0)"/>
<ellipse cx="315.8" cy="358.1" rx="1.4" ry="1.0" fill="#1a934c" opacity="0.65" transform="rotate(24 315.8 358.1)"/>
<ellipse cx="315.2" cy="397.9" rx="1.8" ry="1.3" fill="#1a934c" opacity="0.48" transform="rotate(46 315.2 397.9)"/>
<ellipse cx="334.2" cy="356.1" rx="1.5" ry="1.2" fill="#1a934c" opacity="0.61" transform="rotate(179 334.2 356.1)"/>
<ellipse cx="315.0" cy="367.8" rx="1.0" ry="0.8" fill="#1a934c" opacity="0.54" transform="rotate(116 315.0 367.8)"/>
<ellipse cx="319.2" cy="383.9" rx="1.6" ry="1.2" fill="#1a934c" opacity="0.67" transform="rotate(10 319.2 383.9)"/>
<ellipse cx="279.2" cy="358.3" rx="1.9" ry="1.4" fill="#1a934c" opacity="0.59" transform="rotate(85 279.2 358.3)"/>
<ellipse cx="276.4" cy="371.3" rx="1.9" ry="1.3" fill="#1a934c" opacity="0.64" transform="rotate(48 276.4 371.3)"/>
<ellipse cx="313.8" cy="361.7" rx="1.2" ry="0.9" fill="#1a934c" opacity="0.51" transform="rotate(19 313.8 361.7)"/>
<ellipse cx="302.2" cy="386.7" rx="1.6" ry="1.5" fill="#1a934c" opacity="0.48" transform="rotate(151 302.2 386.7)"/>
<ellipse cx="281.4" cy="370.9" rx="1.5" ry="1.4" fill="#1a934c" opacity="0.57" transform="rotate(94 281.4 370.9)"/>
<ellipse cx="275.8" cy="351.4" rx="1.0" ry="0.8" fill="#1a934c" opacity="0.49" transform="rotate(158 275.8 351.4)"/>
<ellipse cx="302.0" cy="351.4" rx="1.6" ry="1.4" fill="#1a934c" opacity="0.60" transform="rotate(87 302.0 351.4)"/>
<ellipse cx="329.4" cy="397.9" rx="1.4" ry="1.1" fill="#1a934c" opacity="0.69" transform="rotate(149 329.4 397.9)"/>
<ellipse cx="273.7" cy="367.1" rx="1.9" ry="1.5" fill="#1a934c" opacity="0.50" transform="rotate(4 273.7 367.1)"/>
<ellipse cx="309.7" cy="379.7" rx="1.5" ry="1.3" fill="#1a934c" opacity="0.72" transform="rotate(21 309.7 379.7)"/>
<ellipse cx="276.6" cy="380.9" rx="1.5" ry="1.4" fill="#1a934c" opacity="0.65" transform="rotate(106 276.6 380.9)"/>
<ellipse cx="295.9" cy="400.6" rx="1.0" ry="0.9" fill="#1a934c" opacity="0.63" transform="rotate(160 295.9 400.6)"/>
<ellipse cx="328.3" cy="387.8" rx="1.5" ry="1.1" fill="#1a934c" opacity="0.50" transform="rotate(167 328.3 387.8)"/>
<ellipse cx="281.3" cy="392.6" rx="1.3" ry="1.0" fill="#1a934c" opacity="0.54" transform="rotate(45 281.3 392.6)"/>
<ellipse cx="327.1" cy="363.4" rx="1.3" ry="0.9" fill="#1a934c" opacity="0.69" transform="rotate(119 327.1 363.4)"/>
<ellipse cx="290.7" cy="395.2" rx="1.2" ry="1.1" fill="#1a934c" opacity="0.60" transform="rotate(139 290.7 395.2)"/>
<ellipse cx="305.5" cy="381.5" rx="1.8" ry="1.7" fill="#1a934c" opacity="0.65" transform="rotate(135 305.5 381.5)"/>
<ellipse cx="271.0" cy="345.8" rx="1.6" ry="1.1" fill="#1a934c" opacity="0.48" transform="rotate(160 271.0 345.8)"/>
<ellipse cx="321.1" cy="348.8" rx="1.1" ry="0.8" fill="#1a934c" opacity="0.64" transform="rotate(76 321.1 348.8)"/>
<ellipse cx="282.6" cy="386.7" rx="1.1" ry="0.8" fill="#1a934c" opacity="0.69" transform="rotate(52 282.6 386.7)"/>
<ellipse cx="332.9" cy="398.0" rx="1.0" ry="0.7" fill="#1a934c" opacity="0.53" transform="rotate(95 332.9 398.0)"/>
<ellipse cx="314.3" cy="343.2" rx="1.4" ry="1.0" fill="#1a934c" opacity="0.48" transform="rotate(106 314.3 343.2)"/>
<ellipse cx="332.7" cy="334.5" rx="1.5" ry="1.1" fill="#1a934c" opacity="0.60" transform="rotate(91 332.7 334.5)"/>
<ellipse cx="303.4" cy="334.0" rx="1.3" ry="1.1" fill="#1a934c" opacity="0.55" transform="rotate(42 303.4 334.0)"/>
<ellipse cx="292.7" cy="380.5" rx="1.0" ry="0.7" fill="#1a934c" opacity="0.70" transform="rotate(142 292.7 380.5)"/>
<ellipse cx="322.5" cy="335.0" rx="1.0" ry="0.9" fill="#1a934c" opacity="0.75" transform="rotate(110 322.5 335.0)"/>
<ellipse cx="337.9" cy="346.9" rx="1.0" ry="0.7" fill="#1a934c" opacity="0.51" transform="rotate(52 337.9 346.9)"/>
<ellipse cx="317.2" cy="347.9" rx="1.2" ry="1.2" fill="#1a934c" opacity="0.69" transform="rotate(67 317.2 347.9)"/>
<ellipse cx="297.1" cy="391.0" rx="1.6" ry="1.3" fill="#1a934c" opacity="0.57" transform="rotate(90 297.1 391.0)"/>
<ellipse cx="301.6" cy="337.4" rx="1.8" ry="1.6" fill="#1a934c" opacity="0.51" transform="rotate(104 301.6 337.4)"/>
<ellipse cx="302.7" cy="334.3" rx="1.4" ry="1.1" fill="#1a934c" opacity="0.66" transform="rotate(138 302.7 334.3)"/>
<ellipse cx="299.2" cy="364.1" rx="0.9" ry="0.7" fill="#1a934c" opacity="0.53" transform="rotate(14 299.2 364.1)"/>
<ellipse cx="327.6" cy="363.6" rx="1.3" ry="1.2" fill="#1a934c" opacity="0.57" transform="rotate(65 327.6 363.6)"/>
<ellipse cx="335.9" cy="388.2" rx="1.2" ry="0.9" fill="#1a934c" opacity="0.56" transform="rotate(132 335.9 388.2)"/>
<ellipse cx="328.0" cy="369.5" rx="1.1" ry="0.9" fill="#1a934c" opacity="0.46" transform="rotate(15 328.0 369.5)"/>
</g></g>
<path d="M64,373.7 H93.7 V402.6 H64 Z" fill="none" stroke="#fff" stroke-width="0.9" stroke-dasharray="1.5 0.9"/>
<path d="M129.4,352.8 H158.8 V381 H129.4 Z M129.4,381 L110,403.6 M158.8,381 L176.3,401.5" fill="none" stroke="#fff" stroke-width="0.9" stroke-dasharray="1.5 0.9"/>
<path d="M221.7,341.5 H251.1 V370.4 H221.7 Z M221.7,370.4 L194,403.6 M251.1,370.4 L257.4,403.6" fill="none" stroke="#fff" stroke-width="0.9" stroke-dasharray="1.5 0.9"/>
<path d="M293.4,331 V359 H322.8 V331 M293.4,359 L272.5,403.6 M322.8,359 L336.6,403.6" fill="none" stroke="#fff" stroke-width="0.9" stroke-dasharray="1.5 0.9"/>
<text x="324.00" y="398.30" font-size="5" text-anchor="middle" fill="#fff" font-weight="bold" stroke="#fff" stroke-width="0.15" font-style="italic">50um</text>
<line x1="317.70" y1="400.60" x2="330.80" y2="400.60" stroke="#fff" stroke-width="0.8"/>
<clipPath id="fc5"><rect x="21.9" y="412" width="73.1" height="73"/></clipPath>
<rect x="21.90" y="412.00" width="73.10" height="73.00" fill="#090e2e"/>
<g clip-path="url(#fc5)"><g filter="url(#fb6)">
<path d="M22.8,420.2l-0.8,1.1M38.8,467.3l-1.6,0.8M61.1,444.7l-0.2,1.4M90.6,441.4l-0.7,0.6M37.3,427.8l-0.2,1.6M47.9,426.9l-0.4,1.2M85.4,459.5l-1.7,0.8M68.7,428.0l0.5,0.5M69.2,473.0l-0.3,0.7M44.3,424.9l-1.2,0.1M36.0,479.2l-0.2,1.7M88.4,459.4l-0.7,0.3M54.4,469.6l0.1,0.8M30.6,426.2l0.1,0.7M58.3,469.6l-1.0,0.4M24.7,420.2l0.6,1.7M78.0,430.6l-0.9,0.5M49.3,432.6l0.0,1.5M25.6,456.8l0.6,0.4M35.3,445.2l-0.7,0.3M60.2,464.3l-1.0,1.2M30.9,469.2l-0.3,1.0M34.0,474.3l-1.5,0.7M44.4,443.1l1.7,0.4M75.6,472.4l-0.4,0.9M36.7,471.4l0.6,0.4M36.4,427.7l-1.4,1.0M26.7,430.2l0.4,0.7M42.2,425.3l1.1,0.3M22.3,412.0l0.4,0.5M64.3,441.5l1.0,1.4M61.4,435.3l1.1,0.2M61.6,480.7l-0.0,0.8M50.2,461.4l0.7,0.1M39.6,463.5l1.7,0.8M93.8,470.1l-1.4,0.6M32.2,415.5l-1.0,0.3M54.1,422.3l1.2,1.2M56.8,462.1l-0.6,1.7M34.2,418.6l0.5,1.0M45.5,440.4l-1.1,1.4M24.7,465.3l0.8,0.5M88.5,465.9l1.3,0.1M55.1,422.0l-1.3,0.3M49.8,428.7l1.3,0.7M41.8,444.1l-0.3,0.6M40.9,478.2l-1.4,0.4M41.3,468.9l0.0,1.0M61.5,447.5l1.1,0.6M65.8,434.9l0.4,0.8" fill="none" stroke="#1f2f7c" stroke-width="3.20" stroke-linecap="round" opacity="0.45"/>
<path d="M50.6,461.9l-0.8,1.6M32.7,466.1l-2.3,0.3M52.1,484.7l0.2,1.9M36.4,436.1l0.6,1.3M64.7,452.0l-0.5,2.3M83.0,484.2l1.5,0.2M37.9,470.2l1.0,1.8M24.9,436.5l-1.5,0.2M92.2,483.3l1.7,0.4M67.5,451.8l-0.5,1.8M65.9,462.8l-1.1,1.0M94.4,426.4l-0.3,2.0M63.0,420.6l1.1,0.1M46.4,464.1l-1.3,2.0M42.2,439.2l-1.2,0.2M32.0,464.9l-1.2,0.1M77.9,483.9l0.1,1.0M34.8,415.3l-0.4,1.3M37.0,426.1l-1.3,1.9M55.6,464.3l1.7,0.7M76.3,480.8l-0.4,1.1M30.6,443.0l2.3,0.3M24.3,456.9l-1.0,1.4M48.5,441.3l2.1,0.7M47.2,462.9l0.5,1.4M67.6,447.0l-0.3,1.4M24.4,447.2l-1.5,0.2M49.7,467.3l-1.1,1.7M78.7,429.0l-1.0,0.2M28.9,453.9l1.1,2.0M71.1,449.9l-0.4,1.3M62.4,428.2l-0.9,0.3M25.4,481.7l0.6,0.6M26.4,430.1l-0.8,1.3M44.8,415.3l0.8,1.2M23.6,470.6l1.3,1.4M87.7,472.4l-1.0,0.9M84.7,416.2l-0.7,0.3M52.5,480.9l-0.2,1.0M54.9,441.3l1.5,0.6M88.4,443.3l0.8,0.2M64.7,475.6l1.2,0.6M46.8,482.0l-1.0,0.6M70.9,437.0l1.9,0.8M34.3,467.0l-2.0,1.3M53.5,417.7l1.0,0.2M47.6,462.5l0.5,2.3M83.8,452.1l-0.3,2.2" fill="none" stroke="#1f2f7c" stroke-width="4.00" stroke-linecap="round" opacity="0.6"/>
<path d="M32.0,420.2l1.4,1.2M70.3,422.0l-0.8,1.1M28.7,413.5l-0.2,2.6M48.6,481.7l-2.0,1.3M91.6,473.2l-2.6,1.5M24.1,465.7l-0.5,1.3M75.2,426.1l0.8,0.7M46.3,440.9l-2.0,0.5M94.5,469.7l-0.9,2.6M71.2,418.8l-1.0,1.4M28.9,441.1l-0.3,1.0M55.1,470.4l1.1,1.2M29.1,483.8l-1.8,1.4M84.3,446.7l-0.6,1.6M72.6,483.0l0.8,1.5M47.4,412.8l1.6,0.3M31.0,475.2l-2.5,0.7M81.9,433.8l1.4,1.4M84.7,441.3l-0.9,0.9M56.0,421.8l0.9,1.9M32.2,439.8l2.3,1.6M39.6,468.9l2.7,0.2M87.4,430.9l-0.9,1.5M81.7,440.0l1.7,2.1M48.8,468.3l-0.8,1.1M58.4,480.3l0.6,0.9M43.6,446.6l-0.7,1.6M43.9,478.6l1.3,2.0M66.1,473.8l0.8,0.9M35.6,439.2l-2.2,1.7M84.6,434.5l-1.7,1.2M51.9,472.1l-1.7,2.1M71.9,435.6l1.5,0.2M57.8,484.9l1.1,2.2M51.8,451.3l1.2,2.2M54.1,447.0l2.0,2.1M75.1,436.7l0.4,2.1M63.5,478.4l-1.0,2.4M71.9,473.2l-0.3,1.3M62.6,469.3l0.4,2.0M85.5,421.1l2.6,0.6M52.7,434.9l1.6,2.3M35.5,428.5l1.1,2.7M29.8,469.4l-1.1,1.3M28.8,470.4l-0.5,0.7M57.2,416.5l2.0,0.6M78.5,420.8l1.0,1.4" fill="none" stroke="#1f2f7c" stroke-width="5.00" stroke-linecap="round" opacity="0.51"/>
<ellipse cx="48.0" cy="423.0" rx="3.6" ry="3.1" fill="#2fd84a" opacity="0.95" transform="rotate(121 48.0 423.0)"/>
<ellipse cx="57.5" cy="434.0" rx="1.8" ry="1.4" fill="#2fd84a" opacity="0.95" transform="rotate(82 57.5 434.0)"/>
<ellipse cx="84.0" cy="446.5" rx="5.2" ry="4.5" fill="#2fd84a" opacity="0.95" transform="rotate(45 84.0 446.5)"/>
<ellipse cx="39.5" cy="458.0" rx="3.0" ry="2.0" fill="#2fd84a" opacity="0.95" transform="rotate(13 39.5 458.0)"/>
<ellipse cx="30.0" cy="468.0" rx="4.6" ry="3.3" fill="#2fd84a" opacity="0.95" transform="rotate(21 30.0 468.0)"/>
<ellipse cx="65.0" cy="471.0" rx="3.8" ry="3.5" fill="#2fd84a" opacity="0.95" transform="rotate(98 65.0 471.0)"/>
<ellipse cx="82.6" cy="476.5" rx="3.0" ry="2.0" fill="#2fd84a" opacity="0.95" transform="rotate(146 82.6 476.5)"/>
<line x1="54.6" y1="433.4" x2="60.4" y2="426.6" stroke="#d81a44" stroke-width="1.2" stroke-linecap="round" opacity="0.9"/>
<line x1="47.3" y1="440.5" x2="50.7" y2="438.5" stroke="#d81a44" stroke-width="1.2" stroke-linecap="round" opacity="0.9"/>
<line x1="69.3" y1="439.6" x2="80.7" y2="433.4" stroke="#d81a44" stroke-width="1.2" stroke-linecap="round" opacity="0.9"/>
<line x1="57.7" y1="450.1" x2="62.3" y2="453.9" stroke="#d81a44" stroke-width="1.2" stroke-linecap="round" opacity="0.9"/>
<line x1="31.8" y1="474.0" x2="34.2" y2="474.0" stroke="#d81a44" stroke-width="1.2" stroke-linecap="round" opacity="0.9"/>
<line x1="37.8" y1="457.5" x2="40.2" y2="457.5" stroke="#d81a44" stroke-width="1.2" stroke-linecap="round" opacity="0.9"/>
<line x1="73.7" y1="419.2" x2="76.3" y2="420.8" stroke="#d81a44" stroke-width="1.2" stroke-linecap="round" opacity="0.9"/>
<line x1="38.9" y1="447.0" x2="41.1" y2="445.0" stroke="#d81a44" stroke-width="1.2" stroke-linecap="round" opacity="0.9"/>
<circle cx="75.5" cy="459.5" r="8.5" fill="#020208" filter="url(#fb10)"/>
</g></g>
<clipPath id="fc6"><rect x="103.5" y="412" width="73.1" height="73"/></clipPath>
<rect x="103.50" y="412.00" width="73.10" height="73.00" fill="#090e2e"/>
<g clip-path="url(#fc6)"><g filter="url(#fb6)">
<path d="M109.2,427.6l-1.5,0.2M110.8,449.2l0.2,1.0M130.6,412.1l1.0,0.7M165.1,473.1l0.5,1.8M175.0,420.2l1.2,0.9M129.3,423.9l-1.0,1.1M157.5,453.5l-0.2,0.6M127.6,429.8l1.1,0.6M138.4,471.3l-0.6,1.8M151.9,415.5l-0.7,0.5M104.0,481.5l1.4,0.7M166.6,457.1l1.8,0.1M156.3,426.3l1.3,0.4M150.7,422.1l-0.6,0.3M146.8,482.7l1.4,0.4M136.9,418.1l-0.4,0.5M155.6,483.5l0.2,1.6M169.8,439.5l-0.8,0.7M103.8,476.3l1.4,0.0M111.9,435.2l-0.1,1.1M136.4,478.0l-0.4,1.3M112.9,418.1l0.1,1.3M158.5,417.4l-0.3,1.6M117.0,484.1l-0.5,0.4M140.6,425.5l-0.7,0.6M140.8,466.9l0.2,0.8M131.1,446.5l0.6,0.9M118.6,426.4l0.1,0.7M127.0,482.3l0.7,0.9M138.1,451.1l0.5,1.2M122.2,479.3l1.3,0.3M136.2,422.9l-1.5,0.5M161.9,456.4l-0.3,1.6M141.8,447.8l0.3,0.8M132.3,474.8l-0.3,0.8M111.2,437.4l1.1,1.2M147.4,460.6l-0.0,0.8M108.8,456.7l1.2,1.0M153.3,475.7l-0.8,1.6M134.0,461.3l-0.7,0.7M165.7,463.7l-1.0,1.4M176.4,457.4l-1.7,0.7M175.9,425.6l0.8,0.4M112.1,473.0l1.4,0.9M165.9,437.2l-0.8,1.1M133.5,419.5l0.9,0.7M118.0,445.9l-0.3,0.5M144.5,418.2l-1.4,0.5M105.7,432.1l-1.7,0.6M108.2,460.5l-0.0,1.0M172.6,481.3l0.5,1.1M127.3,421.8l-0.3,0.9M109.5,415.0l0.8,1.0M132.7,482.7l-0.4,0.4M103.9,461.0l-1.4,0.4M110.0,424.0l-0.0,1.3M118.7,412.9l-1.0,0.6" fill="none" stroke="#1e2e7a" stroke-width="3.20" stroke-linecap="round" opacity="0.45"/>
<path d="M125.7,477.7l0.5,0.7M165.1,450.2l0.4,0.7M158.7,421.2l1.3,1.3M173.2,426.7l1.0,2.0M115.2,413.5l0.2,2.1M126.1,479.8l1.9,1.4M145.6,468.2l-2.0,1.0M132.8,484.1l-1.3,0.9M136.1,463.3l1.9,1.0M125.6,440.1l-1.5,0.2M153.8,481.5l-1.3,1.2M141.9,449.1l-1.7,1.5M165.6,449.2l-0.4,0.9M121.6,412.1l0.3,1.6M160.6,435.1l1.4,1.2M126.8,424.1l0.4,0.7M118.9,468.9l0.8,1.8M163.5,414.5l-0.5,1.2M156.2,461.3l0.5,1.8M173.2,483.6l-0.8,0.4M103.9,472.5l1.2,0.8M168.1,448.7l0.8,0.6M146.6,484.4l0.6,0.8M174.9,430.0l1.4,0.2M175.5,457.3l0.3,1.7M116.5,418.4l-2.2,0.5M150.0,450.0l0.1,1.2M109.9,440.6l-0.5,1.4M162.8,431.7l-0.6,2.2M112.5,450.8l-1.7,1.6M125.1,484.7l-1.7,1.1M161.0,442.7l-2.0,0.0M145.0,417.4l-1.3,1.3M138.0,413.3l-1.6,0.2M166.4,464.5l0.6,1.6M147.5,469.4l1.7,1.2M145.5,413.1l-0.1,1.3M165.0,432.6l-1.0,1.6M154.4,417.8l-0.4,1.2M116.2,457.8l-0.0,0.7M133.0,467.9l0.2,0.7M115.8,421.4l-0.3,0.8M150.0,444.2l1.5,1.4M157.0,431.5l-0.7,0.9M113.6,452.5l2.3,0.2M113.8,428.2l0.2,0.8M118.9,429.5l-0.2,2.1M141.3,463.0l-0.4,1.2M133.4,419.4l-0.1,1.3M173.4,463.3l-2.0,0.4M173.1,467.9l1.4,1.1M139.1,463.3l-0.9,0.6M122.4,473.9l1.5,0.7M119.4,415.2l-0.6,1.3M108.0,425.9l-0.2,1.7M117.7,429.0l-0.5,0.7M166.8,474.3l0.5,0.8" fill="none" stroke="#1e2e7a" stroke-width="4.00" stroke-linecap="round" opacity="0.6"/>
<path d="M139.8,464.6l2.2,1.8M172.6,476.4l-1.0,2.5M104.2,465.3l0.4,1.3M109.5,420.8l2.4,0.7M107.1,414.8l-2.2,1.0M115.7,471.4l1.9,1.6M146.4,428.7l-1.5,0.5M134.7,417.1l0.0,3.0M110.1,416.6l1.8,1.3M117.6,414.7l-1.6,1.3M139.4,481.7l-1.9,0.5M120.0,439.5l1.4,0.8M147.7,472.0l1.1,1.6M105.5,481.5l1.0,2.4M174.2,479.3l-1.0,2.4M130.2,418.0l-0.3,1.0M146.2,447.2l1.0,0.6M174.1,425.3l-1.0,1.3M159.5,439.5l-2.4,1.5M120.3,444.3l-2.0,1.0M122.0,452.1l0.8,0.7M174.5,475.1l0.1,2.6M140.3,416.8l-1.0,0.4M126.8,464.2l1.7,0.3M130.2,413.6l-0.5,1.5M156.4,479.2l-1.4,2.1M112.9,432.1l-2.5,1.4M119.5,473.9l2.5,1.5M114.8,453.8l2.1,0.5M159.0,444.5l-0.9,0.7M153.8,412.2l1.6,1.7M109.8,481.5l0.3,1.1M175.3,434.0l2.1,0.3M168.8,448.0l1.1,0.5M169.8,437.5l1.4,1.5M157.2,458.0l1.5,0.4M143.5,432.1l0.9,1.1M152.5,457.7l-1.3,1.3M148.6,437.4l-2.2,1.8M172.1,417.6l-1.4,0.2M109.3,423.7l-0.6,1.0M136.2,451.9l2.2,0.2M144.2,480.7l-0.1,1.2M112.3,466.5l1.4,1.9M152.5,438.2l-0.4,1.1M158.9,420.9l-0.8,0.4M157.4,429.1l0.6,2.1M136.2,425.9l0.9,0.8M134.7,449.1l-0.2,2.8M136.4,472.8l1.0,0.5M172.4,467.6l1.7,2.4M123.2,438.3l2.1,0.3M107.9,422.9l-1.3,2.6M107.1,437.1l2.3,1.0M109.1,431.7l0.6,2.7M149.9,439.0l-2.1,0.5" fill="none" stroke="#1e2e7a" stroke-width="5.00" stroke-linecap="round" opacity="0.51"/>
<ellipse cx="131.7" cy="429.0" rx="3.2" ry="2.7" fill="#25c050" opacity="0.95" transform="rotate(29 131.7 429.0)"/>
<circle cx="131.7" cy="429.0" r="1.2" fill="#1a4a6a" opacity="0.55"/>
<ellipse cx="113.8" cy="450.0" rx="2.6" ry="2.0" fill="#25c050" opacity="0.95" transform="rotate(99 113.8 450.0)"/>
<circle cx="113.8" cy="450.0" r="0.9" fill="#1a4a6a" opacity="0.55"/>
<ellipse cx="123.3" cy="448.7" rx="2.6" ry="2.4" fill="#25c050" opacity="0.95" transform="rotate(164 123.3 448.7)"/>
<circle cx="123.3" cy="448.7" r="0.9" fill="#1a4a6a" opacity="0.55"/>
<ellipse cx="127.0" cy="457.0" rx="2.8" ry="2.0" fill="#25c050" opacity="0.95" transform="rotate(49 127.0 457.0)"/>
<circle cx="127.0" cy="457.0" r="1.0" fill="#1a4a6a" opacity="0.55"/>
<ellipse cx="136.5" cy="456.0" rx="2.8" ry="1.9" fill="#25c050" opacity="0.95" transform="rotate(101 136.5 456.0)"/>
<circle cx="136.5" cy="456.0" r="1.0" fill="#1a4a6a" opacity="0.55"/>
<ellipse cx="167.6" cy="473.0" rx="3.0" ry="2.7" fill="#25c050" opacity="0.95" transform="rotate(164 167.6 473.0)"/>
<circle cx="167.6" cy="473.0" r="1.1" fill="#1a4a6a" opacity="0.55"/>
<ellipse cx="171.0" cy="426.0" rx="1.8" ry="1.6" fill="#25c050" opacity="0.50" transform="rotate(1 171.0 426.0)"/>
<line x1="125.2" y1="452.0" x2="126.8" y2="452.0" stroke="#d81a44" stroke-width="1.2" stroke-linecap="round" opacity="0.9"/>
<line x1="161.4" y1="430.0" x2="162.6" y2="430.0" stroke="#d81a44" stroke-width="1.2" stroke-linecap="round" opacity="0.9"/>
<line x1="119.4" y1="470.0" x2="120.6" y2="470.0" stroke="#d81a44" stroke-width="1.2" stroke-linecap="round" opacity="0.9"/>
<line x1="139.5" y1="446.7" x2="140.5" y2="447.3" stroke="#d81a44" stroke-width="1.2" stroke-linecap="round" opacity="0.9"/>
</g></g>
<clipPath id="fc7"><rect x="185.2" y="412" width="73.1" height="73"/></clipPath>
<rect x="185.20" y="412.00" width="73.10" height="73.00" fill="#090e2e"/>
<g clip-path="url(#fc7)"><g filter="url(#fb6)">
<path d="M226.9,458.2l-0.8,0.2M251.6,425.6l-0.3,0.6M223.8,444.5l-0.3,1.5M221.5,415.8l-1.5,0.4M253.0,452.6l-0.2,1.1M206.0,427.6l-0.6,1.3M202.9,431.9l-0.5,1.4M198.8,420.0l-1.3,1.3M194.3,422.9l-0.6,1.6M200.0,426.1l-0.7,0.8M224.6,469.3l-0.9,0.6M242.3,420.1l-1.5,0.9M208.3,476.9l-1.7,0.6M187.6,418.4l-0.7,1.0M222.3,431.0l0.9,1.1M214.2,470.6l-1.0,0.4M230.7,432.9l1.3,1.0M216.9,471.1l-0.8,0.2M222.6,474.1l0.7,0.3M205.0,454.6l-0.3,1.7M190.4,479.6l1.2,1.2M185.7,480.6l0.8,0.1M188.1,413.5l-0.2,1.6M212.0,470.4l0.0,1.5M246.3,413.2l0.5,1.0M194.6,436.3l-0.0,0.6M191.2,426.8l0.8,0.6M243.7,451.8l-0.4,0.7M190.9,436.6l1.4,1.3M185.8,444.8l-0.5,1.0M188.3,423.6l-1.2,1.0M232.4,481.8l-1.1,0.7M243.3,449.7l-0.2,0.7M230.8,425.8l0.2,1.1M206.0,465.3l0.7,0.8M254.7,470.5l-0.8,0.3M196.8,427.9l1.0,0.4M198.0,443.0l0.5,0.3M251.3,479.0l-1.3,0.4M250.9,450.8l1.3,0.1M221.3,449.0l1.0,0.6M218.7,478.8l-1.9,0.3M207.4,472.4l0.5,1.5M218.1,472.1l0.0,0.7M210.8,420.7l0.5,1.6M245.4,459.5l-1.2,1.0M210.8,433.1l-1.1,0.0M237.6,416.6l-1.0,1.3M222.5,438.0l-1.7,0.4M225.4,465.9l-1.0,0.4M216.8,436.4l0.5,1.3M198.1,471.1l0.9,0.4M228.2,434.8l0.3,0.8M208.6,475.3l1.2,0.8M230.9,433.1l0.4,0.5M240.7,412.9l-1.5,1.1M255.8,434.9l1.1,1.0" fill="none" stroke="#20328c" stroke-width="3.20" stroke-linecap="round" opacity="0.45"/>
<path d="M244.9,432.2l1.1,0.3M232.8,457.0l1.6,0.9M254.2,458.4l-0.4,2.1M229.6,465.7l-1.0,1.7M235.0,420.6l-1.6,0.7M250.7,466.7l0.8,0.6M185.7,450.3l-1.9,0.9M187.6,475.7l-1.0,2.1M193.9,435.1l-1.2,0.8M233.0,445.4l1.2,0.8M207.7,417.1l-2.1,0.6M249.0,413.1l0.7,0.0M236.5,423.9l0.4,2.2M229.2,465.3l-2.0,0.8M249.3,482.2l1.0,0.2M209.0,419.7l-1.1,1.0M230.8,467.5l1.3,2.0M252.8,475.4l1.5,0.1M230.9,464.6l-1.8,0.7M227.1,426.5l-1.1,0.4M241.6,453.9l-0.4,2.3M215.4,478.9l1.3,0.6M242.3,469.8l-1.0,0.0M239.4,475.3l-1.5,1.3M185.7,475.0l1.6,1.7M210.0,448.2l-0.7,0.6M194.6,419.3l-2.2,0.1M218.8,458.7l0.0,0.8M211.6,430.4l-1.3,1.1M213.2,432.6l-0.6,0.6M256.7,437.2l0.1,2.1M209.4,471.1l-0.7,0.8M242.9,440.2l0.8,1.3M199.8,476.5l0.3,2.4M251.5,457.8l-0.7,0.1M217.7,441.2l-0.3,0.9M187.6,424.0l-1.5,0.7M240.6,419.1l-2.1,0.7M226.8,418.7l-1.0,0.2M213.2,454.8l2.0,0.4M207.9,451.4l0.2,2.0M202.4,430.5l0.3,1.4M253.1,475.9l-0.9,1.0M203.2,455.9l0.0,1.4M187.5,435.1l-0.4,0.7M230.6,472.4l0.2,1.7M193.6,469.6l-1.2,1.9M215.7,435.1l0.9,2.1M203.8,429.8l-0.8,1.1M234.2,430.9l-0.3,1.3M198.3,482.2l-0.4,0.7M212.4,434.0l-1.3,0.4M228.5,416.6l0.9,0.0M253.1,460.0l0.6,1.0M197.3,450.9l-1.2,0.7M231.4,426.0l-1.1,0.3M240.4,437.3l1.1,2.0" fill="none" stroke="#20328c" stroke-width="4.00" stroke-linecap="round" opacity="0.6"/>
<path d="M232.9,477.0l-2.6,1.2M222.0,482.5l1.0,0.4M207.2,434.6l-0.9,1.3M216.4,473.8l1.0,0.4M189.3,483.5l0.8,1.3M194.2,435.5l-1.5,2.6M207.4,440.8l2.2,1.3M239.8,452.9l-0.8,2.6M189.4,432.1l-2.8,0.1M219.8,438.1l2.2,1.0M220.4,439.7l-1.3,1.1M224.8,444.4l2.5,0.2M221.4,456.7l-1.0,2.3M219.0,442.8l-1.8,1.7M220.4,413.5l2.9,0.4M198.7,464.0l-1.6,0.2M255.8,472.7l-2.2,1.8M240.1,454.8l0.3,1.6M201.9,418.7l-0.8,2.4M199.0,481.4l0.6,2.3M258.0,461.6l-1.7,0.2M244.7,422.1l-1.1,0.3M201.9,420.2l-0.8,2.5M256.0,467.1l0.4,1.4M230.4,435.9l1.1,1.3M218.1,426.8l0.6,1.7M215.5,421.5l1.5,1.5M202.4,413.7l1.1,0.9M207.6,472.9l0.3,2.8M238.2,428.4l0.8,1.0M193.8,482.9l-1.6,1.4M188.2,429.3l2.7,1.1M249.3,417.7l1.8,1.3M216.6,471.3l1.9,1.8M202.3,460.8l0.9,2.0M192.4,468.1l-1.9,1.4M213.3,446.8l0.9,1.3M195.1,450.1l-0.5,1.9M249.1,484.5l-0.7,0.8M243.0,484.6l0.9,0.2M224.9,432.7l-1.0,0.7M207.5,474.7l-1.3,1.3M244.0,426.2l-2.2,0.3M248.9,480.1l-1.0,0.5M225.2,432.5l-1.6,0.6M209.2,459.4l2.7,0.4M251.0,414.3l1.7,1.5M251.2,443.6l1.8,0.1M189.8,413.0l0.2,1.8M257.4,417.8l-1.3,0.8M237.5,421.6l-1.2,0.3M206.9,435.8l-1.5,0.2M224.3,454.6l-1.5,2.4M215.3,424.1l-1.4,2.3M199.8,458.7l2.8,0.8M209.8,464.8l2.3,0.3" fill="none" stroke="#20328c" stroke-width="5.00" stroke-linecap="round" opacity="0.51"/>
<ellipse cx="208.7" cy="424.8" rx="3.2" ry="2.9" fill="#22b458" opacity="0.95" transform="rotate(155 208.7 424.8)"/>
<circle cx="208.7" cy="424.8" r="1.2" fill="#1a4a6a" opacity="0.55"/>
<ellipse cx="227.9" cy="421.0" rx="3.4" ry="2.4" fill="#22b458" opacity="0.95" transform="rotate(102 227.9 421.0)"/>
<circle cx="227.9" cy="421.0" r="1.2" fill="#1a4a6a" opacity="0.55"/>
<ellipse cx="190.8" cy="432.0" rx="3.0" ry="2.2" fill="#22b458" opacity="0.95" transform="rotate(49 190.8 432.0)"/>
<circle cx="190.8" cy="432.0" r="1.1" fill="#1a4a6a" opacity="0.55"/>
<ellipse cx="194.4" cy="446.3" rx="3.2" ry="2.1" fill="#22b458" opacity="0.95" transform="rotate(39 194.4 446.3)"/>
<circle cx="194.4" cy="446.3" r="1.2" fill="#1a4a6a" opacity="0.55"/>
<ellipse cx="206.3" cy="446.3" rx="3.0" ry="2.3" fill="#22b458" opacity="0.95" transform="rotate(38 206.3 446.3)"/>
<circle cx="206.3" cy="446.3" r="1.1" fill="#1a4a6a" opacity="0.55"/>
<ellipse cx="219.5" cy="436.7" rx="2.6" ry="2.1" fill="#22b458" opacity="0.95" transform="rotate(73 219.5 436.7)"/>
<circle cx="219.5" cy="436.7" r="0.9" fill="#1a4a6a" opacity="0.55"/>
<ellipse cx="227.9" cy="447.5" rx="4.0" ry="3.5" fill="#22b458" opacity="0.95" transform="rotate(8 227.9 447.5)"/>
<circle cx="227.9" cy="447.5" r="1.4" fill="#1a4a6a" opacity="0.55"/>
<ellipse cx="242.2" cy="432.0" rx="2.4" ry="2.2" fill="#22b458" opacity="0.95" transform="rotate(100 242.2 432.0)"/>
<circle cx="242.2" cy="432.0" r="0.9" fill="#1a4a6a" opacity="0.55"/>
<ellipse cx="231.5" cy="464.3" rx="3.6" ry="3.3" fill="#22b458" opacity="0.95" transform="rotate(102 231.5 464.3)"/>
<circle cx="231.5" cy="464.3" r="1.3" fill="#1a4a6a" opacity="0.55"/>
<ellipse cx="236.3" cy="475.0" rx="3.8" ry="3.6" fill="#22b458" opacity="0.95" transform="rotate(55 236.3 475.0)"/>
<circle cx="236.3" cy="475.0" r="1.4" fill="#1a4a6a" opacity="0.55"/>
<ellipse cx="248.0" cy="455.0" rx="3.2" ry="2.8" fill="#22b458" opacity="0.95" transform="rotate(77 248.0 455.0)"/>
<circle cx="248.0" cy="455.0" r="1.2" fill="#1a4a6a" opacity="0.55"/>
<ellipse cx="244.0" cy="459.0" rx="2.5" ry="2.2" fill="#22b458" opacity="0.95" transform="rotate(147 244.0 459.0)"/>
<circle cx="244.0" cy="459.0" r="0.9" fill="#1a4a6a" opacity="0.55"/>
<line x1="219.1" y1="425.4" x2="222.3" y2="421.6" stroke="#d81a44" stroke-width="1.2" stroke-linecap="round" opacity="0.9"/>
<line x1="202.9" y1="466.5" x2="205.1" y2="464.5" stroke="#d81a44" stroke-width="1.2" stroke-linecap="round" opacity="0.9"/>
<line x1="189.9" y1="443.5" x2="191.7" y2="444.5" stroke="#d81a44" stroke-width="1.2" stroke-linecap="round" opacity="0.9"/>
<line x1="224.1" y1="477.9" x2="226.9" y2="476.9" stroke="#d81a44" stroke-width="1.2" stroke-linecap="round" opacity="0.9"/>
<line x1="212.5" y1="454.7" x2="214.5" y2="454.7" stroke="#d81a44" stroke-width="1.2" stroke-linecap="round" opacity="0.9"/>
<line x1="195.2" y1="470.0" x2="196.8" y2="470.0" stroke="#d81a44" stroke-width="1.2" stroke-linecap="round" opacity="0.9"/>
<line x1="214.2" y1="480.0" x2="215.8" y2="480.0" stroke="#d81a44" stroke-width="1.2" stroke-linecap="round" opacity="0.9"/>
</g></g>
<clipPath id="fc8"><rect x="266.9" y="412" width="73.1" height="73"/></clipPath>
<rect x="266.90" y="412.00" width="73.10" height="73.00" fill="#080c28"/>
<g clip-path="url(#fc8)"><g filter="url(#fb6)">
<path d="M305.6,454.8l0.6,0.2M336.3,443.0l-1.4,0.2M286.9,456.6l-1.1,0.2M285.6,452.3l-0.6,0.4M313.4,433.3l1.4,0.4M308.8,440.6l-0.5,0.9M321.6,471.2l-0.2,1.4M324.8,441.6l0.4,0.4M321.1,483.6l0.1,0.9M284.0,433.6l-0.8,0.1M296.6,428.6l-0.1,0.9M322.3,482.5l0.2,0.8M291.5,435.4l1.2,1.0M287.3,480.2l-1.0,1.1M286.6,448.6l-1.9,0.0M285.3,462.7l-0.1,1.8M293.8,471.4l-0.9,1.4M324.9,431.4l1.3,1.3M329.8,456.1l-0.4,0.6M303.0,440.6l1.1,0.0M338.7,472.8l-0.5,0.9M289.6,460.8l0.6,1.5M319.6,458.3l0.4,0.4M302.4,474.4l0.2,1.0M335.4,436.9l-0.3,0.6M316.7,414.6l-1.7,0.9M271.5,419.3l-0.9,0.9M308.5,473.8l0.5,0.4M273.9,445.7l-1.0,1.6M339.2,450.8l0.9,1.4M274.9,445.5l-1.7,0.2M316.7,428.1l-0.1,1.5M304.3,439.0l0.6,1.1M309.5,431.4l1.3,1.0M292.7,429.2l1.2,1.2M325.6,420.2l-0.6,0.7M315.9,416.6l1.4,0.4M329.5,422.3l0.7,1.2M287.0,418.8l-0.9,0.4M275.1,481.5l1.2,0.6M311.4,434.1l-0.8,1.1M287.1,473.7l1.2,0.1M312.3,449.7l-0.7,1.7M328.2,435.6l0.7,0.8M332.6,459.3l0.6,1.4M302.3,447.8l1.0,1.3M273.3,468.8l-0.2,1.4" fill="none" stroke="#192874" stroke-width="3.20" stroke-linecap="round" opacity="0.41"/>
<path d="M328.5,477.6l2.1,0.7M289.3,418.9l0.1,1.5M323.7,466.9l0.8,2.1M328.2,470.4l-2.0,0.4M289.8,427.0l-1.3,0.1M297.9,430.1l-2.0,0.1M287.4,420.5l-1.7,1.4M323.7,437.0l0.6,0.4M297.6,445.7l2.1,1.0M271.9,433.9l-0.0,0.7M335.8,434.6l-1.0,1.8M311.4,475.6l1.2,1.0M323.2,466.1l1.1,1.1M311.8,431.0l0.8,1.0M338.0,474.6l-0.8,1.8M339.7,423.2l-1.2,0.0M339.2,422.8l-1.3,0.1M321.9,463.4l0.3,1.4M306.6,445.7l0.9,1.3M277.5,441.0l-1.9,1.2M300.0,427.9l-1.4,0.1M322.0,457.3l0.6,0.9M316.0,432.5l-0.3,1.2M289.0,450.9l1.2,0.3M324.0,433.7l-1.5,1.1M289.2,424.5l-0.4,1.2M330.1,455.9l-1.3,0.7M298.7,456.5l0.6,1.0M337.3,484.4l0.5,1.3M316.3,441.7l0.7,1.3M280.6,428.4l0.2,1.3M317.1,414.1l0.9,0.7M329.4,444.1l0.5,2.3M319.0,477.4l2.3,0.1M270.9,477.4l0.0,0.7M334.8,453.0l0.2,1.2M302.5,463.8l2.1,0.0M285.3,421.0l-1.4,1.9M276.0,467.1l1.0,2.1M317.3,454.1l-1.7,0.3M269.2,467.2l-0.2,1.1M271.2,447.1l-1.0,1.3M310.2,441.1l-0.7,0.9M318.0,480.5l1.0,0.0M306.3,419.7l1.4,1.0M267.9,454.6l0.5,1.6M325.5,466.5l-1.2,0.3" fill="none" stroke="#192874" stroke-width="4.00" stroke-linecap="round" opacity="0.55"/>
<path d="M331.4,438.6l0.0,2.4M304.3,423.3l2.7,0.5M273.2,416.5l-0.5,1.8M335.2,455.0l-2.2,0.5M306.0,456.3l-1.6,2.3M326.5,454.4l0.3,1.1M287.6,478.2l-1.2,2.0M330.2,418.6l1.1,0.5M276.5,432.1l-0.7,0.6M274.5,450.3l2.2,1.1M305.8,477.3l-2.4,0.3M271.7,465.6l-1.0,2.4M291.9,438.5l0.5,1.1M305.8,416.2l-1.4,0.8M306.9,467.7l-0.8,1.7M335.1,483.9l-0.1,1.4M300.9,455.3l1.3,1.2M329.6,465.6l-0.9,0.3M296.6,445.8l0.1,1.3M336.0,434.3l1.8,1.9M331.2,481.7l0.4,1.2M275.7,429.2l0.4,2.4M331.2,468.7l-1.1,1.9M304.9,482.7l-1.3,2.5M331.5,477.1l-0.7,0.8M303.8,414.7l-0.7,2.0M330.2,480.9l-1.1,1.2M279.1,444.5l0.8,2.7M321.7,415.3l0.0,2.8M323.6,434.9l-1.1,0.8M281.3,463.2l-0.1,1.7M335.9,429.1l-1.4,0.3M279.2,474.8l2.7,0.3M321.3,469.9l0.7,1.6M283.9,438.9l-1.0,2.2M279.4,471.2l2.8,0.7M286.8,436.5l0.4,2.6M302.6,444.5l2.5,0.8M309.4,470.6l2.1,1.2M327.4,417.4l2.7,0.1M269.1,465.6l0.1,1.6M338.5,450.9l1.7,0.4M286.2,433.7l-0.0,2.2M334.8,473.9l-2.6,0.6M272.3,433.9l1.6,2.5M292.8,440.7l-0.5,2.1" fill="none" stroke="#192874" stroke-width="5.00" stroke-linecap="round" opacity="0.47"/>
<ellipse cx="293.7" cy="418.8" rx="5.0" ry="4.6" fill="#23b456" opacity="0.95" transform="rotate(41 293.7 418.8)"/>
<circle cx="293.7" cy="418.8" r="1.8" fill="#1a4a6a" opacity="0.55"/>
<ellipse cx="308.1" cy="420.0" rx="3.4" ry="2.9" fill="#23b456" opacity="0.95" transform="rotate(153 308.1 420.0)"/>
<circle cx="308.1" cy="420.0" r="1.2" fill="#1a4a6a" opacity="0.55"/>
<ellipse cx="311.7" cy="430.8" rx="4.2" ry="2.8" fill="#23b456" opacity="0.95" transform="rotate(7 311.7 430.8)"/>
<circle cx="311.7" cy="430.8" r="1.5" fill="#1a4a6a" opacity="0.55"/>
<ellipse cx="283.0" cy="430.8" rx="3.6" ry="2.6" fill="#23b456" opacity="0.95" transform="rotate(163 283.0 430.8)"/>
<circle cx="283.0" cy="430.8" r="1.3" fill="#1a4a6a" opacity="0.55"/>
<ellipse cx="272.2" cy="444.0" rx="3.6" ry="2.9" fill="#23b456" opacity="0.95" transform="rotate(122 272.2 444.0)"/>
<circle cx="272.2" cy="444.0" r="1.3" fill="#1a4a6a" opacity="0.55"/>
<ellipse cx="301.0" cy="451.1" rx="4.6" ry="3.9" fill="#23b456" opacity="0.95" transform="rotate(10 301.0 451.1)"/>
<circle cx="301.0" cy="451.1" r="1.7" fill="#1a4a6a" opacity="0.55"/>
<ellipse cx="315.3" cy="445.1" rx="4.6" ry="4.1" fill="#23b456" opacity="0.95" transform="rotate(141 315.3 445.1)"/>
<circle cx="315.3" cy="445.1" r="1.7" fill="#1a4a6a" opacity="0.55"/>
<ellipse cx="336.8" cy="444.0" rx="3.4" ry="2.8" fill="#23b456" opacity="0.95" transform="rotate(33 336.8 444.0)"/>
<circle cx="336.8" cy="444.0" r="1.2" fill="#1a4a6a" opacity="0.55"/>
<ellipse cx="269.8" cy="452.3" rx="2.6" ry="2.2" fill="#23b456" opacity="0.95" transform="rotate(104 269.8 452.3)"/>
<circle cx="269.8" cy="452.3" r="0.9" fill="#1a4a6a" opacity="0.55"/>
<ellipse cx="283.0" cy="465.5" rx="3.0" ry="2.1" fill="#23b456" opacity="0.95" transform="rotate(81 283.0 465.5)"/>
<circle cx="283.0" cy="465.5" r="1.1" fill="#1a4a6a" opacity="0.55"/>
<ellipse cx="272.2" cy="470.3" rx="3.0" ry="2.4" fill="#23b456" opacity="0.95" transform="rotate(130 272.2 470.3)"/>
<circle cx="272.2" cy="470.3" r="1.1" fill="#1a4a6a" opacity="0.55"/>
<ellipse cx="289.0" cy="471.5" rx="2.6" ry="2.3" fill="#23b456" opacity="0.95" transform="rotate(139 289.0 471.5)"/>
<circle cx="289.0" cy="471.5" r="0.9" fill="#1a4a6a" opacity="0.55"/>
<ellipse cx="283.0" cy="479.8" rx="2.8" ry="1.9" fill="#23b456" opacity="0.95" transform="rotate(84 283.0 479.8)"/>
<circle cx="283.0" cy="479.8" r="1.0" fill="#1a4a6a" opacity="0.55"/>
<ellipse cx="326.0" cy="478.7" rx="3.4" ry="2.6" fill="#23b456" opacity="0.95" transform="rotate(111 326.0 478.7)"/>
<circle cx="326.0" cy="478.7" r="1.2" fill="#1a4a6a" opacity="0.55"/>
<ellipse cx="314.0" cy="468.0" rx="2.6" ry="2.3" fill="#23b456" opacity="0.60" transform="rotate(87 314.0 468.0)"/>
<circle cx="314.0" cy="468.0" r="0.9" fill="#1a4a6a" opacity="0.55"/>
</g></g>
<text x="26.60" y="423.20" font-size="5.6" text-anchor="start" fill="#1fae4a" font-weight="bold" stroke="#1fae4a" stroke-width="0.17">CD8</text>
<text x="26.60" y="436.10" font-size="5.6" text-anchor="start" fill="#e8202c" font-weight="bold" stroke="#e8202c" stroke-width="0.17">PD-1</text>
<line x1="59.0" y1="479.7" x2="45.2" y2="472.4" stroke="#fff" stroke-width="1.1"/>
<polygon points="41.5,470.4 47.3,471.0 45.2,472.4 45.2,474.9" fill="#fff"/>
<line x1="158.8" y1="471.4" x2="144.3" y2="462.6" stroke="#fff" stroke-width="1.1"/>
<polygon points="140.7,460.4 146.5,461.3 144.3,462.6 144.2,465.1" fill="#fff"/>
<line x1="251.0" y1="444.5" x2="235.9" y2="435.4" stroke="#fff" stroke-width="1.1"/>
<polygon points="232.3,433.2 238.1,434.1 235.9,435.4 235.8,437.9" fill="#fff"/>
<line x1="331.5" y1="467.0" x2="317.5" y2="457.6" stroke="#fff" stroke-width="1.1"/>
<polygon points="314.0,455.3 319.7,456.5 317.5,457.6 317.3,460.1" fill="#fff"/>
<text x="356.30" y="334.20" font-size="15.5" text-anchor="start" fill="#1a1311" font-weight="bold" stroke="#1a1311" stroke-width="0.46">E</text>
<rect x="389.00" y="445.26" width="15.00" height="15.04" fill="#7f7f7f"/>
<rect x="410.80" y="442.79" width="15.00" height="17.52" fill="#33508d"/>
<rect x="432.20" y="425.58" width="15.00" height="34.72" fill="#a3cde1"/>
<rect x="453.50" y="392.88" width="15.00" height="67.42" fill="#f3d9bb"/>
<line x1="396.50" y1="442.00" x2="396.50" y2="448.20" stroke="#1a1311" stroke-width="0.7"/>
<line x1="393.30" y1="442.00" x2="399.70" y2="442.00" stroke="#1a1311" stroke-width="0.7"/>
<line x1="393.30" y1="448.20" x2="399.70" y2="448.20" stroke="#1a1311" stroke-width="0.7"/>
<line x1="418.30" y1="437.70" x2="418.30" y2="448.20" stroke="#1a1311" stroke-width="0.7"/>
<line x1="415.10" y1="437.70" x2="421.50" y2="437.70" stroke="#1a1311" stroke-width="0.7"/>
<line x1="415.10" y1="448.20" x2="421.50" y2="448.20" stroke="#1a1311" stroke-width="0.7"/>
<line x1="439.70" y1="416.00" x2="439.70" y2="435.70" stroke="#1a1311" stroke-width="0.7"/>
<line x1="436.50" y1="416.00" x2="442.90" y2="416.00" stroke="#1a1311" stroke-width="0.7"/>
<line x1="436.50" y1="435.70" x2="442.90" y2="435.70" stroke="#1a1311" stroke-width="0.7"/>
<line x1="461.00" y1="381.00" x2="461.00" y2="404.30" stroke="#1a1311" stroke-width="0.7"/>
<line x1="457.80" y1="381.00" x2="464.20" y2="381.00" stroke="#1a1311" stroke-width="0.7"/>
<line x1="457.80" y1="404.30" x2="464.20" y2="404.30" stroke="#1a1311" stroke-width="0.7"/>
<line x1="382.50" y1="366.90" x2="382.50" y2="461.00" stroke="#000" stroke-width="1.0"/>
<line x1="382.00" y1="460.50" x2="475.70" y2="460.50" stroke="#000" stroke-width="1.0"/>
<line x1="377.80" y1="460.30" x2="382.40" y2="460.30" stroke="#000" stroke-width="0.9"/>
<text x="376.40" y="462.57" font-size="6.3" text-anchor="end" fill="#1a1311" font-weight="bold" stroke="#1a1311" stroke-width="0.19">0</text>
<line x1="377.80" y1="429.30" x2="382.40" y2="429.30" stroke="#000" stroke-width="0.9"/>
<text x="376.40" y="431.57" font-size="6.3" text-anchor="end" fill="#1a1311" font-weight="bold" stroke="#1a1311" stroke-width="0.19">20</text>
<line x1="377.80" y1="398.30" x2="382.40" y2="398.30" stroke="#000" stroke-width="0.9"/>
<text x="376.40" y="400.57" font-size="6.3" text-anchor="end" fill="#1a1311" font-weight="bold" stroke="#1a1311" stroke-width="0.19">40</text>
<line x1="377.80" y1="367.30" x2="382.40" y2="367.30" stroke="#000" stroke-width="0.9"/>
<text x="376.40" y="369.57" font-size="6.3" text-anchor="end" fill="#1a1311" font-weight="bold" stroke="#1a1311" stroke-width="0.19">60</text>
<line x1="396.50" y1="460.30" x2="396.50" y2="464.30" stroke="#000" stroke-width="0.9"/>
<line x1="418.30" y1="460.30" x2="418.30" y2="464.30" stroke="#000" stroke-width="0.9"/>
<line x1="439.70" y1="460.30" x2="439.70" y2="464.30" stroke="#000" stroke-width="0.9"/>
<line x1="461.00" y1="460.30" x2="461.00" y2="464.30" stroke="#000" stroke-width="0.9"/>
<circle cx="390.74" cy="441.96" r="1.75" fill="#000"/>
<circle cx="390.74" cy="445.73" r="1.75" fill="#000"/>
<circle cx="396.52" cy="443.72" r="1.75" fill="#000"/>
<circle cx="396.52" cy="448.74" r="1.75" fill="#000"/>
<circle cx="402.55" cy="444.47" r="1.75" fill="#000"/>
<circle cx="402.55" cy="447.49" r="1.75" fill="#000"/>
<polygon points="415.86,438.54 419.89,438.54 417.87,435.12" fill="#000"/>
<polygon points="412.60,446.08 416.62,446.08 414.61,442.66" fill="#000"/>
<polygon points="418.88,445.33 422.90,445.33 420.89,441.91" fill="#000"/>
<polygon points="413.85,448.59 417.88,448.59 415.86,445.17" fill="#000"/>
<polygon points="415.86,446.84 419.89,446.84 417.87,443.41" fill="#000"/>
<polygon points="419.63,447.84 423.66,447.84 421.64,444.42" fill="#000"/>
<polygon points="437.55,412.31 439.73,410.12 441.92,412.31 439.73,414.50" fill="#000"/>
<polygon points="437.55,423.12 439.73,420.93 441.92,423.12 439.73,425.30" fill="#000"/>
<polygon points="434.28,435.68 436.47,433.49 438.65,435.68 436.47,437.87" fill="#000"/>
<polygon points="440.06,434.42 442.25,432.23 444.43,434.42 442.25,436.61" fill="#000"/>
<polygon points="437.55,430.65 439.73,428.47 441.92,430.65 439.73,432.84" fill="#000"/>
<polygon points="438.80,427.39 440.99,425.20 443.18,427.39 440.99,429.57" fill="#000"/>
<rect x="459.43" y="379.24" width="3.32" height="3.32" fill="#000"/>
<rect x="456.41" y="390.80" width="3.32" height="3.32" fill="#000"/>
<rect x="461.94" y="388.79" width="3.32" height="3.32" fill="#000"/>
<rect x="459.43" y="398.84" width="3.32" height="3.32" fill="#000"/>
<rect x="459.43" y="408.89" width="3.32" height="3.32" fill="#000"/>
<rect x="459.93" y="381.75" width="3.32" height="3.32" fill="#000"/>
<line x1="440.50" y1="371.60" x2="461.00" y2="371.60" stroke="#1a1311" stroke-width="0.8"/>
<text x="450.75" y="371.70" font-size="6.4" text-anchor="middle" fill="#1a1311" font-weight="normal">****</text>
<line x1="396.50" y1="405.00" x2="439.70" y2="405.00" stroke="#1a1311" stroke-width="0.8"/>
<text x="418.10" y="405.10" font-size="6.4" text-anchor="middle" fill="#1a1311" font-weight="normal">***</text>
<line x1="396.50" y1="415.60" x2="417.90" y2="415.60" stroke="#1a1311" stroke-width="0.8"/>
<text x="407.20" y="414.00" font-size="5.58" text-anchor="middle" fill="#1a1311" font-weight="normal">ns</text>
<text x="364.50" y="413.70" font-size="7.75" text-anchor="middle" fill="#1a1311" font-weight="bold" stroke="#1a1311" stroke-width="0.23" transform="rotate(-90 364.50 413.70)" textLength="74.2" lengthAdjust="spacingAndGlyphs">CD8<tspan font-size="0.62em" dy="-0.677em">+</tspan><tspan dy="0.420em">&#8203;</tspan> Cells Per Field</text>
<circle cx="472.90" cy="328.40" r="1.7" fill="#808080"/>
<text x="505.00" y="326.15" font-size="5.65" text-anchor="middle" fill="#1a1311" font-weight="bold" stroke="#1a1311" stroke-width="0.17">CL+IgG+</text>
<text x="505.00" y="333.10" font-size="5.65" text-anchor="middle" fill="#1a1311" font-weight="bold" stroke="#1a1311" stroke-width="0.17">Scr BMDMs</text>
<circle cx="472.90" cy="346.40" r="1.7" fill="#2e4a8a"/>
<text x="505.00" y="344.15" font-size="5.65" text-anchor="middle" fill="#1a1311" font-weight="bold" stroke="#1a1311" stroke-width="0.17">CL+Anti-PD-L1</text>
<text x="505.00" y="351.10" font-size="5.65" text-anchor="middle" fill="#1a1311" font-weight="bold" stroke="#1a1311" stroke-width="0.17">+Scr BMDMs</text>
<circle cx="472.90" cy="364.40" r="1.7" fill="#8fc6de"/>
<text x="505.00" y="362.15" font-size="5.65" text-anchor="middle" fill="#1a1311" font-weight="bold" stroke="#1a1311" stroke-width="0.17">CL+IgG+</text>
<text x="505.00" y="369.10" font-size="5.65" text-anchor="middle" fill="#1a1311" font-weight="bold" stroke="#1a1311" stroke-width="0.17">siTREM2 BMDMs</text>
<circle cx="472.90" cy="382.40" r="1.7" fill="#f6d7b3"/>
<text x="505.00" y="380.15" font-size="5.65" text-anchor="middle" fill="#1a1311" font-weight="bold" stroke="#1a1311" stroke-width="0.17">CL+Anti-PD-L1</text>
<text x="505.00" y="387.10" font-size="5.65" text-anchor="middle" fill="#1a1311" font-weight="bold" stroke="#1a1311" stroke-width="0.17">+siTREM2 BMDMs</text>
<rect x="565.20" y="397.43" width="14.80" height="62.87" fill="#7f7f7f"/>
<rect x="586.70" y="423.10" width="14.80" height="37.20" fill="#33508d"/>
<rect x="608.30" y="426.82" width="14.80" height="33.48" fill="#a3cde1"/>
<rect x="630.00" y="441.70" width="14.80" height="18.60" fill="#f3d9bb"/>
<line x1="572.60" y1="386.00" x2="572.60" y2="408.50" stroke="#1a1311" stroke-width="0.7"/>
<line x1="569.40" y1="386.00" x2="575.80" y2="386.00" stroke="#1a1311" stroke-width="0.7"/>
<line x1="569.40" y1="408.50" x2="575.80" y2="408.50" stroke="#1a1311" stroke-width="0.7"/>
<line x1="594.10" y1="410.50" x2="594.10" y2="437.70" stroke="#1a1311" stroke-width="0.7"/>
<line x1="590.90" y1="410.50" x2="597.30" y2="410.50" stroke="#1a1311" stroke-width="0.7"/>
<line x1="590.90" y1="437.70" x2="597.30" y2="437.70" stroke="#1a1311" stroke-width="0.7"/>
<line x1="615.70" y1="421.00" x2="615.70" y2="432.40" stroke="#1a1311" stroke-width="0.7"/>
<line x1="612.50" y1="421.00" x2="618.90" y2="421.00" stroke="#1a1311" stroke-width="0.7"/>
<line x1="612.50" y1="432.40" x2="618.90" y2="432.40" stroke="#1a1311" stroke-width="0.7"/>
<line x1="637.40" y1="435.70" x2="637.40" y2="449.50" stroke="#1a1311" stroke-width="0.7"/>
<line x1="634.20" y1="435.70" x2="640.60" y2="435.70" stroke="#1a1311" stroke-width="0.7"/>
<line x1="634.20" y1="449.50" x2="640.60" y2="449.50" stroke="#1a1311" stroke-width="0.7"/>
<line x1="558.50" y1="366.90" x2="558.50" y2="461.00" stroke="#000" stroke-width="1.0"/>
<line x1="558.00" y1="460.50" x2="651.70" y2="460.50" stroke="#000" stroke-width="1.0"/>
<line x1="554.40" y1="460.30" x2="559.00" y2="460.30" stroke="#000" stroke-width="0.9"/>
<text x="552.70" y="462.57" font-size="6.3" text-anchor="end" fill="#1a1311" font-weight="bold" stroke="#1a1311" stroke-width="0.19">0</text>
<line x1="554.40" y1="441.70" x2="559.00" y2="441.70" stroke="#000" stroke-width="0.9"/>
<text x="552.70" y="443.97" font-size="6.3" text-anchor="end" fill="#1a1311" font-weight="bold" stroke="#1a1311" stroke-width="0.19">10</text>
<line x1="554.40" y1="423.10" x2="559.00" y2="423.10" stroke="#000" stroke-width="0.9"/>
<text x="552.70" y="425.37" font-size="6.3" text-anchor="end" fill="#1a1311" font-weight="bold" stroke="#1a1311" stroke-width="0.19">20</text>
<line x1="554.40" y1="404.50" x2="559.00" y2="404.50" stroke="#000" stroke-width="0.9"/>
<text x="552.70" y="406.77" font-size="6.3" text-anchor="end" fill="#1a1311" font-weight="bold" stroke="#1a1311" stroke-width="0.19">30</text>
<line x1="554.40" y1="385.90" x2="559.00" y2="385.90" stroke="#000" stroke-width="0.9"/>
<text x="552.70" y="388.17" font-size="6.3" text-anchor="end" fill="#1a1311" font-weight="bold" stroke="#1a1311" stroke-width="0.19">40</text>
<line x1="554.40" y1="367.30" x2="559.00" y2="367.30" stroke="#000" stroke-width="0.9"/>
<text x="552.70" y="369.57" font-size="6.3" text-anchor="end" fill="#1a1311" font-weight="bold" stroke="#1a1311" stroke-width="0.19">50</text>
<line x1="572.60" y1="460.30" x2="572.60" y2="464.30" stroke="#000" stroke-width="0.9"/>
<line x1="594.10" y1="460.30" x2="594.10" y2="464.30" stroke="#000" stroke-width="0.9"/>
<line x1="615.70" y1="460.30" x2="615.70" y2="464.30" stroke="#000" stroke-width="0.9"/>
<line x1="637.40" y1="460.30" x2="637.40" y2="464.30" stroke="#000" stroke-width="0.9"/>
<circle cx="572.55" cy="375.88" r="1.75" fill="#000"/>
<circle cx="567.02" cy="398.74" r="1.75" fill="#000"/>
<circle cx="572.55" cy="399.25" r="1.75" fill="#000"/>
<circle cx="578.33" cy="398.74" r="1.75" fill="#000"/>
<circle cx="570.29" cy="406.78" r="1.75" fill="#000"/>
<circle cx="575.31" cy="406.78" r="1.75" fill="#000"/>
<polygon points="591.89,412.16 595.92,412.16 593.90,408.74" fill="#000"/>
<polygon points="591.89,415.93 595.92,415.93 593.90,412.51" fill="#000"/>
<polygon points="591.89,425.23 595.92,425.23 593.90,421.81" fill="#000"/>
<polygon points="591.89,432.26 595.92,432.26 593.90,428.84" fill="#000"/>
<polygon points="591.89,438.54 595.92,438.54 593.90,435.12" fill="#000"/>
<polygon points="591.89,419.70 595.92,419.70 593.90,416.28" fill="#000"/>
<polygon points="610.06,422.61 612.25,420.43 614.43,422.61 612.25,424.80" fill="#000"/>
<polygon points="615.08,421.86 617.27,419.67 619.46,421.86 617.27,424.05" fill="#000"/>
<polygon points="611.32,426.88 613.50,424.70 615.69,426.88 613.50,429.07" fill="#000"/>
<polygon points="616.34,428.14 618.53,425.95 620.72,428.14 618.53,430.33" fill="#000"/>
<polygon points="610.81,431.91 613.00,429.72 615.19,431.91 613.00,434.10" fill="#000"/>
<polygon points="615.08,430.65 617.27,428.47 619.46,430.65 617.27,432.84" fill="#000"/>
<rect x="632.69" y="435.27" width="3.32" height="3.32" fill="#000"/>
<rect x="638.22" y="434.02" width="3.32" height="3.32" fill="#000"/>
<rect x="633.20" y="441.55" width="3.32" height="3.32" fill="#000"/>
<rect x="638.22" y="439.04" width="3.32" height="3.32" fill="#000"/>
<rect x="635.71" y="444.07" width="3.32" height="3.32" fill="#000"/>
<rect x="635.71" y="448.34" width="3.32" height="3.32" fill="#000"/>
<line x1="568.80" y1="343.50" x2="621.00" y2="343.50" stroke="#1a1311" stroke-width="0.8"/>
<text x="594.90" y="343.60" font-size="6.4" text-anchor="middle" fill="#1a1311" font-weight="normal">***</text>
<line x1="572.50" y1="365.80" x2="594.00" y2="365.80" stroke="#1a1311" stroke-width="0.8"/>
<text x="581.60" y="353.30" font-size="6.4" text-anchor="middle" fill="#1a1311" font-weight="normal">**</text>
<line x1="616.50" y1="412.30" x2="637.40" y2="412.30" stroke="#1a1311" stroke-width="0.8"/>
<text x="626.95" y="412.40" font-size="6.4" text-anchor="middle" fill="#1a1311" font-weight="normal">***</text>
<text x="540.30" y="413.60" font-size="7.5" text-anchor="middle" fill="#1a1311" font-weight="bold" stroke="#1a1311" stroke-width="0.22" transform="rotate(-90 540.30 413.60)" textLength="98.6" lengthAdjust="spacingAndGlyphs">PD-1<tspan font-size="0.62em" dy="-0.677em">+</tspan><tspan dy="0.420em">&#8203;</tspan> CD8<tspan font-size="0.62em" dy="-0.677em">+</tspan><tspan dy="0.420em">&#8203;</tspan>/CD8<tspan font-size="0.62em" dy="-0.677em">+</tspan><tspan dy="0.420em">&#8203;</tspan> T Cell (%)</text>
<circle cx="629.00" cy="320.80" r="1.7" fill="#808080"/>
<text x="659.70" y="318.55" font-size="5.65" text-anchor="middle" fill="#1a1311" font-weight="bold" stroke="#1a1311" stroke-width="0.17">CL+IgG+</text>
<text x="659.70" y="325.50" font-size="5.65" text-anchor="middle" fill="#1a1311" font-weight="bold" stroke="#1a1311" stroke-width="0.17">Scr BMDMs</text>
<circle cx="629.00" cy="338.80" r="1.7" fill="#2e4a8a"/>
<text x="659.70" y="336.55" font-size="5.65" text-anchor="middle" fill="#1a1311" font-weight="bold" stroke="#1a1311" stroke-width="0.17">CL+Anti-PD-L1</text>
<text x="659.70" y="343.50" font-size="5.65" text-anchor="middle" fill="#1a1311" font-weight="bold" stroke="#1a1311" stroke-width="0.17">+Scr BMDMs</text>
<circle cx="629.00" cy="356.80" r="1.7" fill="#8fc6de"/>
<text x="659.70" y="354.55" font-size="5.65" text-anchor="middle" fill="#1a1311" font-weight="bold" stroke="#1a1311" stroke-width="0.17">CL+IgG+</text>
<text x="659.70" y="361.50" font-size="5.65" text-anchor="middle" fill="#1a1311" font-weight="bold" stroke="#1a1311" stroke-width="0.17">siTREM2 BMDMs</text>
<circle cx="629.00" cy="374.80" r="1.7" fill="#f6d7b3"/>
<text x="659.70" y="372.55" font-size="5.65" text-anchor="middle" fill="#1a1311" font-weight="bold" stroke="#1a1311" stroke-width="0.17">CL+Anti-PD-L1</text>
<text x="659.70" y="379.50" font-size="5.65" text-anchor="middle" fill="#1a1311" font-weight="bold" stroke="#1a1311" stroke-width="0.17">+siTREM2 BMDMs</text>
<text x="3.30" y="508.60" font-size="15.5" text-anchor="start" fill="#1a1311" font-weight="bold" stroke="#1a1311" stroke-width="0.46">F</text>
<text x="93.50" y="512.00" font-size="10" text-anchor="middle" fill="#1a1311" font-weight="bold" stroke="#1a1311" stroke-width="0.30">TREM2 High</text>
<text x="276.40" y="512.00" font-size="10" text-anchor="middle" fill="#1a1311" font-weight="bold" stroke="#1a1311" stroke-width="0.30">TREM2 Low</text>
<defs><filter id="ff4" x="-3%" y="-3%" width="106%" height="106%"><feGaussianBlur stdDeviation="0.4"/></filter><clipPath id="fF1"><rect x="21.9" y="515.7" width="142.8" height="142.4"/></clipPath><clipPath id="fF2"><rect x="205.4" y="515.7" width="142.4" height="142.4"/></clipPath></defs>
<rect x="21.90" y="515.70" width="142.80" height="142.40" fill="#030303"/>
<g clip-path="url(#fF1)"><g filter="url(#ff4)">
<path d="M104.7,543.4l0.3,0.6M153.5,582.2l-0.1,1.2M52.4,547.3l-0.3,0.7M120.5,545.9l-0.7,0.4M31.9,543.2l-0.4,0.6M131.5,567.9l-0.3,0.3M68.3,606.5l0.8,0.5M51.6,577.0l-0.5,0.5M116.6,641.4l0.9,0.1M75.9,575.9l0.7,0.2M98.1,564.9l-0.9,0.6M43.7,520.6l-0.4,0.2M31.3,537.2l-0.3,0.3M125.6,567.4l-1.0,0.1M89.6,586.7l-0.9,0.7M119.2,516.5l-0.9,0.6M146.6,635.1l-0.4,0.1M122.4,626.0l1.0,0.2M134.7,535.7l1.0,0.4M134.8,620.8l0.3,1.0M85.5,642.4l0.8,0.3M158.2,641.6l-0.6,0.8M71.8,523.9l0.5,0.3M57.5,544.8l-0.9,0.5M161.6,644.0l-0.0,0.4M87.2,596.8l-0.7,0.8M55.9,554.6l-0.5,1.1M100.6,591.9l-0.4,1.0M149.2,572.8l0.4,0.4M53.3,525.1l-1.2,0.1M39.1,564.5l0.9,0.3M85.6,610.4l-0.5,0.8M119.8,567.6l0.2,0.6M67.2,611.9l-0.5,0.1M56.2,577.7l1.0,0.3M64.2,521.5l0.7,0.0M163.3,621.1l-0.2,1.0M116.8,554.0l0.6,0.7M157.3,625.8l-0.5,1.0M162.0,647.0l0.1,1.2M80.5,580.1l0.2,1.2M59.8,606.6l0.3,1.0M161.0,629.3l0.6,0.7M81.3,553.5l-0.3,0.3M52.8,629.1l-0.3,0.3M55.0,543.1l-0.4,0.3M125.9,599.3l0.5,0.4M150.1,579.6l0.6,0.7M48.9,589.3l0.5,1.0M152.7,588.5l0.4,1.0M106.3,648.8l0.5,0.7M154.5,644.4l-0.2,0.7M90.4,534.1l-0.7,0.6M163.4,601.5l-0.2,0.9M79.3,534.8l0.5,0.4M62.9,591.3l-0.9,0.4M64.2,549.2l0.1,1.2M77.2,595.2l-1.0,0.2M143.4,646.6l0.7,0.3M155.1,563.1l0.3,0.8M65.3,643.5l0.5,0.6M50.4,537.2l-0.4,0.2M84.4,647.5l0.8,0.2M129.8,623.4l0.7,0.0M26.7,642.8l0.7,0.7M106.3,610.0l0.7,0.5M119.1,568.3l-0.9,0.4M155.5,603.6l0.2,0.5M34.9,609.9l-1.0,0.2M28.1,523.8l-0.3,0.5M135.1,619.2l0.8,0.8M160.2,619.4l-1.0,0.6M62.4,572.3l0.6,0.8M95.4,585.2l-1.0,0.6M81.8,638.0l-0.3,0.3M97.4,617.2l0.6,0.1M121.1,556.4l-0.5,0.4M56.4,535.1l0.8,0.1M31.0,530.1l0.6,0.4M86.5,631.7l-0.5,0.6M45.3,526.6l-0.1,0.8M145.3,637.2l-1.2,0.1M94.5,652.1l-0.0,0.5M130.5,645.5l-0.3,0.4M127.4,598.9l0.5,0.0M58.3,617.7l0.2,1.1M102.0,556.6l0.0,1.1M147.1,655.2l-0.1,1.0M126.0,528.1l-0.1,1.0M101.6,633.4l0.3,0.5M42.9,586.9l-0.9,0.6M41.9,538.3l-0.8,0.6M32.5,551.4l-0.7,0.5M22.9,561.6l-0.5,0.9M54.7,642.0l0.1,0.4M124.4,645.3l-1.1,0.5M144.7,561.3l0.4,0.6M104.6,565.6l1.1,0.4M121.0,561.2l0.7,0.2M63.8,556.4l1.1,0.1M123.6,517.3l-0.6,0.9M84.0,642.1l-0.2,0.9M57.6,579.1l-0.4,0.1M51.8,530.6l0.3,0.4M118.8,640.0l0.0,0.4M23.6,540.7l-0.4,0.8M106.7,573.5l-0.7,0.8M109.5,603.2l0.4,0.1M139.0,627.1l0.1,0.8M121.1,584.6l-0.4,0.5M129.9,606.2l-0.8,0.2M147.1,561.4l0.0,1.0M84.3,615.6l-1.0,0.3M112.8,585.1l-0.5,0.2M74.0,597.1l0.4,0.1M64.6,554.8l-0.3,1.0M95.5,556.3l0.7,0.5M104.7,641.6l0.7,0.5M120.4,519.7l-1.1,0.1M81.0,560.3l0.3,0.3M103.0,622.1l0.6,0.6M94.3,627.0l0.4,0.7M139.4,549.2l-0.1,1.2M33.5,592.4l0.3,0.7M24.5,547.2l0.5,0.7M97.2,556.6l0.7,0.4M33.6,564.5l-0.1,1.1M139.3,570.2l-0.2,1.2M69.7,574.8l0.4,0.7M58.8,593.6l0.2,0.3M32.4,544.0l-0.6,0.8M44.8,590.6l-0.4,0.0M128.6,631.8l-0.9,0.5M87.9,642.4l-0.5,0.2M44.3,622.7l0.7,0.7M109.7,616.9l-0.2,0.4M140.7,618.5l1.2,0.1M159.4,620.1l-0.4,0.5M26.5,539.8l0.0,0.5M124.8,648.3l0.7,1.0M51.0,543.4l1.1,0.3M77.4,576.0l-0.5,0.5M138.8,603.0l-0.6,0.6M144.7,624.7l-0.4,0.8M80.2,592.0l0.3,1.2M117.1,637.0l-0.5,0.5M58.1,596.1l-0.1,0.6M39.4,530.7l0.6,0.2M155.9,615.8l-0.5,0.3M152.4,618.9l0.3,0.3M22.8,559.9l-0.6,0.0M109.0,606.9l0.8,0.6M145.5,636.9l1.0,0.3M56.4,557.6l-0.3,0.3M133.7,638.1l-0.4,0.3M107.4,629.5l1.0,0.3M39.1,525.4l-0.7,0.1M160.1,617.7l0.5,0.6M78.3,637.9l-1.0,0.8M29.6,630.1l-0.4,0.6M123.9,608.3l0.1,1.1M84.1,554.5l0.5,0.5M132.6,562.6l1.0,0.7M70.7,578.3l-0.5,0.4M156.9,561.4l-0.9,0.8M111.1,576.3l0.4,0.5M116.2,593.6l0.7,0.9M49.8,627.2l0.2,1.1M90.2,594.8l0.3,1.0M37.9,581.1l-0.8,0.1M61.3,575.7l1.0,0.6M51.3,613.3l-0.7,0.1M156.9,541.4l-1.2,0.5M79.8,600.4l-1.1,0.1M105.8,585.9l0.1,0.7M158.8,630.2l0.4,0.4M121.8,647.5l0.3,0.4M47.3,517.0l0.7,0.0M116.5,592.2l1.0,0.4M119.3,626.8l0.4,1.2M31.3,530.8l-0.3,0.5M40.9,594.3l-0.5,0.7M47.8,586.4l-1.0,0.1M24.3,553.4l0.3,0.4M119.9,653.7l0.2,0.6M91.7,581.8l0.8,0.7M43.0,651.9l0.5,0.7M104.3,573.8l0.4,0.8M147.3,603.7l0.6,0.4M117.8,550.5l0.6,0.7M145.2,588.1l-0.3,1.1M35.3,554.9l-0.2,0.3M156.3,568.3l-0.8,0.8M104.5,618.0l-0.6,0.1M39.3,537.2l-0.1,0.5M101.9,647.8l-0.4,0.9M100.1,575.3l-0.8,0.3M161.1,559.4l-0.1,0.6M38.7,522.0l0.7,0.2M75.2,603.6l0.8,0.5M128.7,653.0l0.5,0.5M143.5,561.4l0.6,0.0M99.3,657.6l-0.4,0.2M119.2,537.6l-0.0,1.0M45.6,588.7l-0.9,0.2M67.3,588.1l1.0,0.2M109.6,620.2l-1.0,0.5M153.8,532.3l-0.8,0.6M35.6,584.1l-0.5,0.5M50.2,516.7l0.6,0.1M57.8,599.6l0.1,0.8M84.3,646.6l-0.7,0.0M103.4,626.5l0.2,1.0M140.0,655.4l0.4,0.6M90.1,614.1l0.7,0.4M110.6,522.3l0.8,0.4M108.8,532.1l0.1,0.5M160.3,587.2l0.6,0.7M141.2,627.2l0.7,1.0M55.2,525.2l-0.7,0.1M92.7,602.4l-0.3,0.5M86.9,568.2l0.9,0.5M155.2,555.5l-0.6,0.1M91.3,552.8l0.5,0.8M157.6,591.4l0.5,0.3M29.4,605.4l0.0,0.8M111.1,563.4l0.5,0.6M161.7,519.5l0.5,0.6M108.8,564.1l-0.7,0.6M136.3,644.3l0.1,0.8M159.2,597.7l-1.2,0.1M95.2,629.0l-1.0,0.4M93.3,583.7l0.2,0.8M141.7,609.4l1.1,0.5M40.3,567.6l0.4,0.2M72.2,567.2l-0.2,0.4M42.4,606.5l-0.4,0.5M53.2,618.6l-0.6,0.6M23.4,648.5l0.8,0.3M90.4,518.1l-0.2,0.3" fill="none" stroke="#1b3fc4" stroke-width="2.50" stroke-linecap="round" opacity="0.85"/>
<path d="M104.3,543.7l-1.5,0.1M153.2,582.8l0.8,1.0M51.8,547.2l0.4,1.8M30.6,542.4l-1.3,0.1M133.1,568.4l0.9,0.9M67.5,605.9l-0.9,0.5M76.4,576.6l0.2,0.8M42.9,520.2l-1.0,1.5M30.4,535.7l-0.6,0.8M89.5,586.0l0.3,0.9M147.8,634.3l-1.8,0.3M133.9,536.1l-1.9,1.1M136.2,619.7l2.0,0.1M157.0,642.5l0.5,0.6M72.8,523.0l-1.5,1.6M56.0,543.5l2.0,0.7M56.9,553.9l-0.8,0.3M100.2,591.5l0.9,1.3M149.2,573.5l-0.4,1.0M38.8,564.7l0.4,0.6M84.2,608.9l-0.7,0.9M66.0,612.8l1.1,1.6M56.0,576.5l0.3,0.8M162.1,621.8l1.2,0.5M118.3,555.3l0.5,1.7M158.2,624.7l0.1,0.7M161.4,646.0l0.9,1.8M161.9,629.0l-1.4,0.7M82.0,554.0l-0.7,0.3M51.8,629.7l1.4,1.1M53.8,542.6l-0.9,0.7M148.5,578.2l1.1,0.4M50.3,590.7l1.2,0.1M151.6,587.3l-0.1,1.0M91.8,534.2l0.4,1.5M77.7,536.1l-0.2,0.7M61.5,592.3l1.4,1.2M63.5,550.2l-0.8,1.5M78.6,596.4l0.8,0.5M143.0,645.5l1.1,0.4M51.4,538.8l-0.8,0.1M84.4,648.1l1.3,1.4M129.4,623.4l0.4,1.0M105.0,611.5l1.0,0.8M118.1,567.6l-1.3,1.1M36.0,610.6l-2.0,0.5M133.9,619.7l-0.7,0.2M95.0,586.5l-1.9,1.2M98.1,615.9l0.6,0.6M55.3,535.4l0.3,1.0M31.3,529.2l2.1,0.7M43.8,528.1l-0.8,0.3M143.9,637.7l1.0,1.3M93.3,651.2l1.0,1.2M131.7,644.5l-0.4,0.7M125.9,598.4l1.2,0.1M58.1,617.5l-0.8,0.2M101.5,556.8l-2.0,0.4M102.8,633.2l-0.2,0.7M42.4,586.1l0.5,1.0M31.6,551.5l0.3,0.9M24.1,560.3l-0.5,1.1M125.6,645.3l0.8,1.0M145.7,561.0l-1.3,0.6M105.4,564.4l-0.7,0.8M120.4,560.1l2.0,0.1M123.0,518.1l-0.8,1.3M58.4,579.9l-1.3,0.3M23.3,540.4l-0.3,2.0M108.3,573.8l-0.4,2.0M138.8,626.4l0.9,1.7M122.1,585.3l0.3,2.0M129.4,604.6l-0.1,1.0M146.1,560.5l-2.0,0.9M83.4,617.0l-0.7,0.9M113.7,586.2l0.5,0.6M65.8,556.3l-0.2,1.3M121.4,519.5l1.6,0.2M81.1,559.1l1.0,1.4M140.6,550.6l-0.6,1.7M33.7,593.3l-0.2,1.4M23.6,548.7l-1.3,0.4M98.5,556.7l0.4,2.1M44.3,591.4l1.1,0.2M43.7,623.5l-0.4,0.9M108.5,617.6l-2.0,0.4M141.6,619.2l-1.1,1.5M161.0,619.2l-0.2,0.8M27.1,538.3l-0.6,1.2M125.0,649.6l0.7,0.8M76.6,575.5l1.3,1.6M137.4,603.3l1.6,0.1M81.5,592.5l0.9,1.1M116.8,638.2l-1.0,2.0M39.6,532.0l-0.0,1.0M154.5,614.3l1.2,1.8M109.2,606.8l-1.1,1.3M146.1,635.5l0.7,0.2M56.3,557.3l0.0,1.2M134.7,638.0l1.2,1.6M107.7,630.1l-1.0,1.5M38.6,526.6l0.7,1.9M160.2,618.8l1.2,1.6M79.6,637.9l2.1,0.9M29.6,629.9l1.2,1.6M125.2,609.4l-1.1,0.2M83.5,553.1l-0.7,1.4M133.6,562.5l1.1,1.6M72.2,578.5l0.3,2.2M110.1,577.1l-1.1,1.3M115.1,594.7l-0.6,1.6M90.8,595.5l1.8,0.7M37.6,582.4l-1.1,0.4M60.6,575.8l-0.4,1.5M52.3,614.8l1.7,1.4M156.8,542.9l-1.8,0.5M80.3,600.2l1.1,1.9M105.6,586.7l0.9,1.0M160.1,630.5l-0.5,0.7M48.2,516.6l-1.5,1.2M118.5,628.3l-0.6,2.1M30.2,531.8l-1.1,0.5M23.5,554.0l0.7,1.1M91.5,580.3l-1.2,0.6M105.4,574.4l-0.5,0.6M147.1,604.6l-0.2,0.7M116.3,551.5l1.1,1.6M143.9,586.6l-1.4,0.5M35.6,554.2l-0.6,1.0M104.9,617.4l-0.4,0.9M99.4,576.2l2.2,0.4M160.1,560.3l-1.3,0.7M39.1,521.7l1.1,2.0M129.9,653.9l0.5,0.9M143.8,560.3l0.0,1.0M98.4,658.3l1.3,1.3M117.9,538.7l-0.6,0.7M44.3,587.4l0.6,1.8M154.4,533.6l-0.9,0.2M35.9,585.4l-0.9,0.3M57.5,598.8l-0.9,0.9M83.7,648.0l-0.0,2.1M140.3,655.9l0.7,0.3M111.8,522.0l0.2,1.1M107.3,530.6l-1.5,1.2M160.6,587.4l0.7,0.4M54.9,524.8l-0.8,0.5M85.6,568.8l1.3,1.5M153.9,557.0l0.1,1.5M90.1,553.9l0.9,0.8M157.5,592.3l-0.9,1.9M137.0,642.9l-1.8,0.8M158.8,598.5l1.6,0.1M94.2,630.2l-2.2,0.1M93.9,582.6l0.9,0.8M41.2,566.5l1.6,1.1M73.5,566.6l1.3,0.5M24.9,648.9l0.7,1.6M91.6,517.6l-0.3,2.3" fill="none" stroke="#27c53a" stroke-width="1.80" stroke-linecap="round" opacity="0.95"/>
<path d="M161.8,640.4l-0.5,0.9M137.8,640.3l0.7,0.2M63.0,642.2l-0.5,0.5M123.2,618.4l0.3,0.4M76.9,565.2l1.0,0.1M110.5,652.8l1.0,0.0M95.9,578.8l0.3,0.5M60.7,559.0l0.1,0.6M99.7,599.6l0.4,0.1M89.0,535.7l-0.8,0.2M97.1,629.7l-0.6,0.5M80.4,636.0l-0.7,0.4M76.3,633.8l0.4,0.6M80.0,583.8l-1.3,0.0M111.4,569.9l1.1,0.1M122.8,636.2l0.1,0.5M76.3,645.9l-0.2,0.8M135.1,596.8l-0.7,0.2M119.2,637.8l0.2,1.2M63.4,619.1l-0.4,0.4M135.1,529.8l0.6,0.2M44.4,567.9l0.9,0.2M126.7,534.1l0.4,0.2M104.5,519.7l-0.4,0.7M103.4,654.7l-0.8,0.8M142.2,648.4l-0.3,0.5M126.7,579.0l0.8,0.2M118.3,535.7l0.0,1.2M120.5,561.2l-0.4,0.3M94.4,594.6l0.4,0.5M83.7,604.7l-0.4,0.3M52.1,647.6l0.2,1.1M41.6,628.6l-1.3,0.3M119.0,576.9l-0.8,0.1M160.3,632.7l0.9,0.8M22.7,525.0l0.9,0.2M43.5,602.8l0.2,1.1M84.2,620.1l-0.7,0.1M43.5,621.8l0.5,0.9M115.0,634.5l0.5,1.1M81.4,547.4l0.8,0.1M122.3,562.6l0.6,0.8M140.3,588.5l0.5,0.8M80.3,648.3l0.7,0.6M39.5,592.6l0.2,0.6M74.3,601.6l0.1,0.5M95.1,587.9l0.7,0.8M44.1,559.7l-1.0,0.4M67.5,643.3l0.6,1.1M131.5,549.9l0.3,1.2M39.1,547.8l0.5,0.9M130.4,572.5l-1.2,0.1M40.3,576.1l0.3,0.5M121.8,577.2l0.2,0.5M41.0,529.9l0.4,0.5M66.4,571.5l-0.9,0.9M119.0,532.6l1.0,0.2M46.5,526.4l-0.4,0.6M95.7,622.9l-0.7,0.3M78.8,543.3l-1.0,0.7M26.9,591.0l0.9,0.0M48.8,636.6l0.1,0.9M127.6,578.7l0.8,0.9M128.3,600.3l0.7,0.5M81.0,623.8l0.0,0.8M109.6,556.9l0.4,0.3M122.7,587.9l0.8,0.2M24.6,557.3l-0.4,0.3M157.8,612.9l-0.8,0.6M152.3,620.2l-0.3,0.4M56.9,523.6l-0.4,0.3M91.1,656.1l-0.4,0.3M105.7,538.2l0.2,1.1M141.1,567.4l1.0,0.1M102.6,586.5l0.6,0.3M160.6,622.6l0.8,0.4M158.4,628.3l0.4,0.0M78.0,631.6l0.7,0.3M39.3,527.6l-0.6,0.8M135.0,620.9l1.2,0.5M64.7,618.5l0.3,1.1M138.4,578.6l-1.0,0.3M73.6,568.7l-0.0,0.8M79.1,611.6l-0.3,0.5M140.3,612.7l-0.8,0.8M133.4,605.0l-0.5,0.6M53.5,618.6l-0.3,0.5M82.4,581.3l-0.4,0.3M24.5,541.1l-0.2,0.9M72.6,582.9l0.5,0.9" fill="none" stroke="#27c53a" stroke-width="1.30" stroke-linecap="round" opacity="0.9"/>
<path d="M157.2,615.1l0.1,0.9M128.3,646.1l0.1,0.5M113.2,648.2l-0.5,0.3M57.5,614.7l-0.6,0.8M61.7,618.0l0.2,0.6M40.5,564.5l-0.7,0.6M39.1,604.2l0.5,0.8M48.6,560.3l-0.7,0.7M86.3,633.8l0.6,0.3M63.5,590.5l0.5,0.8M57.3,565.6l-0.3,0.7M122.6,520.9l0.3,0.6M107.6,542.2l-0.6,0.1M112.1,633.1l0.8,0.5M45.3,518.6l0.5,0.6M162.6,572.0l0.1,0.4M162.6,579.3l0.5,0.1M133.5,609.6l-0.6,0.5M67.7,652.6l-0.0,0.7M77.1,581.0l-0.7,0.4M127.5,566.9l-0.7,1.0M47.5,596.5l-0.1,0.5" fill="none" stroke="#c04ac0" stroke-width="3.00" stroke-linecap="round" opacity="0.95"/>
<path d="M25.9,603.5l2.9,-0.9M149.0,637.4l1.4,-0.6M149.1,599.6l1.3,1.5M113.5,540.9l2.1,-0.4M42.6,519.7l0.8,0.6M120.9,625.0l0.6,0.7M43.5,588.3l1.2,0.0M151.8,516.3l1.7,1.9M106.4,581.1l1.4,0.3M84.0,570.5l2.6,-0.4M56.4,579.7l2.7,0.5M44.5,521.5l2.9,1.0M162.7,584.7l2.7,1.0M60.6,620.2l2.6,1.1M36.9,597.9l2.0,1.1M22.7,628.2l1.7,-0.3M103.7,562.8l1.1,0.7M43.1,620.6l2.5,1.2M130.0,567.3l2.0,-0.6M101.5,641.0l0.8,0.6M92.0,629.4l0.9,0.9M61.4,626.1l1.3,0.1M120.2,537.4l2.2,0.3M68.5,550.4l0.8,1.0M76.4,613.5l2.0,-0.9M64.2,627.9l1.3,-0.5M144.8,645.6l2.1,1.2M148.3,597.4l2.0,2.2M117.7,574.9l0.7,0.4M49.6,526.6l0.8,0.7M124.8,559.6l2.2,-1.0M22.4,536.9l2.8,-0.5M86.6,585.1l1.1,1.3M110.0,642.5l2.6,-0.2M27.0,573.8l1.9,2.2M89.9,597.0l0.9,0.5M98.8,599.6l1.6,-0.8M59.1,520.4l1.9,1.0M48.3,572.3l2.0,0.2M76.4,607.1l2.6,0.1M58.9,528.2l2.6,1.7M110.0,648.7l1.6,-0.7M95.4,530.4l2.6,-1.0M135.5,561.1l1.3,0.5M64.1,542.7l2.5,1.6M29.4,537.9l2.4,0.6M118.4,648.5l1.5,1.6M117.2,580.3l2.5,1.5M150.8,572.7l1.9,0.2M144.7,614.1l1.7,-0.3M74.7,605.2l2.9,0.3M86.2,602.2l0.9,0.5M63.1,600.7l1.8,0.6M118.8,629.1l2.1,-0.4M96.5,654.4l1.2,0.0M110.3,605.2l1.6,0.5M76.1,541.2l2.1,-0.6M138.1,594.2l2.1,-0.4M60.3,577.9l1.8,1.1M80.0,636.5l2.1,-1.0M85.2,553.1l1.4,0.7M134.9,596.5l1.9,1.0M112.9,633.2l0.8,1.0M123.5,614.6l1.6,-0.1M77.4,652.3l0.9,0.4M104.5,573.3l2.8,0.6M105.4,598.5l2.0,-0.9M159.2,599.7l2.1,-0.6M141.5,641.9l1.0,-0.2M93.6,554.3l2.4,0.6M52.4,621.9l2.8,-1.0M94.7,561.1l2.6,-1.1M75.0,551.3l1.7,-0.8M147.1,594.9l0.9,-0.2M130.1,555.3l2.1,-0.3M119.6,619.7l1.9,-0.0M113.2,577.8l1.9,-0.3M96.0,629.1l0.8,-0.2M158.3,647.8l1.1,-0.2M150.7,595.2l1.5,-0.8M78.3,572.9l1.5,-0.4M93.2,597.7l1.0,0.4M68.9,551.7l2.5,1.6M95.9,655.7l1.9,1.1M71.3,606.5l1.5,-0.0M155.4,591.8l1.7,-0.6M63.1,585.9l1.9,1.1M44.4,606.2l2.5,1.9M100.1,519.5l2.3,-0.5M146.1,610.4l1.1,-0.5M42.1,532.4l2.3,1.3M156.7,621.9l0.9,0.8M112.7,612.9l1.2,0.9M134.3,606.8l1.6,-0.3M59.1,645.6l1.5,0.7M61.5,574.4l2.0,0.9M109.8,615.0l2.8,0.4M122.6,547.3l2.4,1.1M42.6,617.9l2.3,0.0M92.1,563.5l2.9,0.5M112.5,566.5l2.9,1.2M72.8,557.3l1.6,0.9M78.0,619.2l1.9,0.3M114.9,644.8l2.0,-0.3M66.6,553.1l1.8,0.2M104.0,587.9l2.2,1.2M130.1,646.0l1.4,1.5M24.3,535.3l1.6,0.7M23.5,655.5l2.2,1.5M114.2,577.6l2.7,0.8M147.0,561.6l2.0,-0.9M71.4,544.9l0.8,0.1M123.8,538.5l1.3,1.1M99.8,523.3l2.0,1.7M60.7,647.0l1.0,1.1M161.1,630.4l1.5,-0.6M102.2,527.9l3.0,-0.1M44.9,631.9l2.0,-0.9M89.4,526.2l2.6,0.3M26.0,642.9l0.6,0.6M91.8,630.4l1.9,1.1M137.8,574.6l2.5,-0.9M93.6,564.8l1.7,0.1M136.3,588.0l0.8,-0.4M46.7,596.0l2.4,0.5M102.4,545.7l2.4,1.6M144.6,584.2l2.1,-0.5M99.5,591.6l2.6,0.3M138.7,559.3l2.9,-0.1M52.9,623.2l1.7,-0.4M40.1,601.5l2.0,1.6M104.3,564.0l3.2,0.0M147.5,566.9l3.1,-0.1M48.1,524.5l2.8,0.6M128.4,657.1l1.0,0.5M39.9,587.8l1.4,1.0M73.8,623.0l1.2,-0.1M67.3,585.8l2.8,1.1M74.6,587.8l1.6,1.6M42.8,543.3l1.3,1.5M128.6,628.4l1.7,-0.8M86.6,652.5l1.9,1.5M86.6,518.7l2.9,0.9M23.7,622.7l1.7,0.9M22.4,640.3l1.1,0.4M128.6,543.5l2.5,-0.3M105.1,579.6l2.3,1.1M27.4,651.1l2.1,0.8M111.2,565.2l0.8,0.5M59.8,532.0l1.2,1.2M96.7,651.7l1.6,1.6M147.7,626.0l1.8,0.3M36.7,531.8l1.7,-0.1M131.0,574.2l0.8,-0.3M154.2,552.3l2.5,0.1M69.6,555.0l1.6,0.1M38.3,545.0l2.5,-1.3M30.4,527.0l2.2,0.0M62.8,569.8l2.0,0.4M161.1,529.0l2.2,0.7M134.4,641.9l2.8,-0.2M29.8,576.1l0.6,0.8M26.8,529.1l0.9,0.1M82.2,577.5l1.2,0.3M147.8,573.9l0.8,-0.1M31.2,524.0l2.3,0.2M133.7,563.5l2.7,1.2M115.1,539.0l2.7,0.5M122.8,574.2l1.2,1.1M140.2,637.3l2.9,-0.0" fill="none" stroke="#e6d820" stroke-width="0.7" stroke-linecap="round" opacity="0.9"/>
<path d="M104.1,549.4l-0.2,0.2M113.4,588.4l0.4,0.3M163.2,654.5l0.1,0.2M133.3,597.7l0.2,0.0M96.5,581.9l-0.2,0.2M95.9,626.0l0.3,0.3M76.9,632.4l-0.1,0.2M121.1,555.4l-0.0,0.4M132.9,563.1l0.2,0.4M28.5,588.1l-0.1,0.3M82.2,563.1l-0.2,0.0M93.5,631.4l-0.2,0.1M41.4,564.6l0.3,0.0M114.5,645.9l0.1,0.3" fill="none" stroke="#e02020" stroke-width="0.90" stroke-linecap="round" opacity="0.9"/>
</g></g>
<text x="164.6" y="525.7" font-size="10.9" font-weight="bold" text-anchor="end"><tspan fill="#c653c0">M</tspan><tspan fill="#e8232a">e</tspan><tspan fill="#2dbb3a">r</tspan><tspan fill="#e9dd24">g</tspan><tspan fill="#2356d8">e</tspan></text>
<text x="150.80" y="650.60" font-size="5.8" text-anchor="middle" fill="#fff" font-weight="bold" stroke="#fff" stroke-width="0.17" font-style="italic">50um</text>
<line x1="144.20" y1="653.20" x2="157.40" y2="653.20" stroke="#fff" stroke-width="0.9"/>
<rect x="205.40" y="515.70" width="142.40" height="142.40" fill="#05050c"/>
<g clip-path="url(#fF2)"><g filter="url(#ff4)">
<path d="M314.2,607.5l-0.7,0.4M233.6,612.1l0.3,0.5M266.3,636.9l1.2,0.4M280.6,544.4l0.2,0.7M292.4,637.6l0.3,0.6M329.1,562.2l1.4,0.4M271.6,617.6l-1.0,0.5M272.6,638.4l-0.2,1.0M211.9,643.6l1.4,0.1M315.1,521.2l0.1,1.2M230.6,646.0l-1.0,0.1M233.6,655.7l-0.9,0.6M298.0,543.0l0.9,0.1M328.6,657.8l0.8,0.6M255.2,523.9l-1.0,0.3M255.2,538.2l-0.5,0.8M255.1,564.8l-0.2,0.5M289.0,517.9l0.8,0.4M343.5,571.2l-1.3,0.8M220.4,646.5l-0.7,0.9M328.4,612.2l-0.8,0.5M248.4,608.8l-0.0,0.8M224.4,523.5l-0.7,0.5M254.8,608.3l-0.5,0.8M291.4,519.5l-0.6,0.4M285.9,538.0l0.9,1.3M214.2,608.5l0.5,0.0M276.1,516.6l0.1,1.2M302.4,628.6l-1.1,0.2M272.0,520.9l-0.5,1.0M313.1,586.8l-0.4,0.5M238.8,610.5l-0.3,1.1M291.4,526.1l0.3,0.6M293.7,549.0l-0.4,0.6M208.2,575.2l-0.6,1.3M297.5,587.8l0.4,0.4M304.2,588.2l1.4,0.2M329.8,596.1l0.7,0.5M258.3,537.5l-1.5,0.1M269.4,570.5l-0.2,0.6M241.2,652.6l0.1,1.4M248.2,585.7l-0.8,0.3M340.8,615.4l0.6,0.3M320.3,568.0l-0.1,1.4M271.6,523.1l-1.3,0.4M284.0,627.8l-0.5,0.3M344.6,620.9l0.2,0.4M237.8,648.7l0.8,0.6M295.7,543.3l0.6,0.3M233.4,646.5l0.9,0.4M305.3,614.2l-0.5,0.6M246.5,544.4l-0.6,0.5M225.4,658.1l0.1,0.8M208.5,558.6l-0.9,1.2M263.1,535.6l-0.9,0.4M212.4,597.1l0.2,0.8M301.9,533.6l0.6,1.4M284.2,562.1l-0.8,0.2M242.5,622.6l0.6,0.0M264.1,616.0l0.7,1.2M336.5,621.3l1.4,0.2M326.5,605.1l0.2,0.4M306.5,645.9l0.7,1.4M254.5,620.4l0.8,0.1M280.2,617.7l0.4,0.6M252.8,544.2l-0.7,0.2M229.2,579.4l0.5,1.3M312.0,568.2l-0.8,0.8M341.2,634.1l1.0,0.4M337.6,610.5l-1.3,0.6M274.5,516.3l-0.7,1.3M214.9,635.1l1.3,0.0M319.2,631.0l0.3,1.2M242.8,518.9l-0.5,0.4M333.8,618.2l-1.0,0.3M254.2,577.9l1.5,0.2M278.0,635.0l1.1,1.1M296.6,607.9l1.4,0.1M227.0,532.5l-0.9,0.7M327.7,641.3l-1.2,0.4M283.5,603.9l-0.4,0.6M247.9,584.7l-0.8,0.9M252.6,567.8l-0.8,0.2M235.2,585.3l0.1,0.9M214.1,589.2l0.9,0.1M280.1,656.4l-0.9,0.4M294.5,640.5l0.8,0.4M315.0,534.6l0.2,1.0M313.6,626.9l-0.8,0.4M211.7,527.7l-1.1,0.2M214.7,645.4l1.4,0.3M238.5,619.0l0.7,1.0M328.0,565.8l0.1,0.6M324.5,526.1l1.4,0.6M259.6,616.5l-1.2,0.4M265.4,545.3l-0.5,0.7M265.0,608.0l-0.8,0.6M284.9,650.2l-0.5,0.5M239.1,625.7l-0.7,1.1M278.1,574.1l-0.9,0.3M252.4,629.4l0.9,0.5M240.9,599.9l-1.5,0.0M227.8,619.5l0.8,1.0M242.3,533.0l0.6,0.2M298.7,617.1l-0.4,1.1M291.0,542.8l-0.8,1.2M224.5,655.6l-1.4,0.0M267.8,649.9l-0.6,0.1M315.7,522.7l-0.6,1.1M209.6,602.3l0.4,1.1M272.7,603.6l0.5,1.2M272.2,575.8l-0.7,1.1M339.0,554.4l-1.1,0.2M270.6,561.0l-1.3,0.9M328.0,541.0l-0.8,0.0M324.9,638.9l-0.4,0.6M207.7,614.9l0.5,0.4M307.8,532.1l-1.1,0.5M218.6,599.7l-0.9,1.1M213.8,636.6l-0.9,1.3M297.5,565.3l0.5,0.3M286.1,547.7l-0.1,0.5M277.5,600.5l-1.0,0.6M287.2,576.9l0.8,1.3M280.6,585.0l-0.6,0.1M311.3,522.9l1.0,0.2M300.2,657.8l-0.5,0.6M278.4,613.8l1.3,0.3M248.0,648.0l1.4,0.2M307.7,516.8l-1.1,1.2M325.1,606.8l-0.2,0.5M291.9,538.1l0.8,0.7M278.8,597.0l1.0,0.0M269.0,615.6l0.4,1.5M219.9,653.6l-0.4,0.6M342.1,640.0l-0.3,0.5M243.5,542.8l-0.8,1.1M257.3,652.3l-0.4,1.4M298.3,657.3l0.5,0.0M261.6,650.5l0.1,0.5M315.3,626.5l1.2,0.2M219.2,566.8l1.3,0.9M252.7,542.3l1.2,0.6M234.8,610.4l1.0,0.1M315.2,617.4l0.4,0.3M315.7,643.1l0.7,0.5M278.6,616.0l1.0,0.7M284.4,575.4l-1.2,0.7M214.7,638.4l-0.5,0.9M283.1,629.5l0.6,0.7M212.3,569.3l0.9,0.0M293.0,538.0l-0.3,1.0M254.2,523.6l0.9,1.3M314.8,651.4l0.2,0.7M319.2,610.1l-0.5,0.3M251.3,543.2l-0.6,1.3M319.8,595.0l0.7,0.5M216.4,611.2l0.3,0.4M289.5,554.2l-0.1,1.3M305.7,550.9l0.4,1.5M309.9,529.8l-0.0,1.0M309.6,646.6l-0.5,0.2M321.4,542.0l0.3,0.7M259.6,626.3l0.3,0.5M222.2,522.4l-0.5,0.6M328.5,651.9l-0.2,0.5M314.7,570.1l-0.8,0.4M240.6,594.6l0.4,0.6M214.0,586.7l0.1,1.0M208.6,523.1l1.4,0.8M346.1,621.8l1.3,0.9M291.6,652.6l-0.1,1.6M213.2,632.3l-1.4,0.1M323.3,632.5l0.7,0.9M315.5,550.4l0.6,1.1M238.6,576.6l0.9,0.0M272.8,554.1l0.1,1.6M241.7,582.4l-0.8,0.4M289.7,650.6l-0.0,0.7M254.7,637.5l-0.6,1.5M268.9,642.3l-0.9,1.2M223.2,637.7l-1.0,1.2M230.9,619.5l-0.3,0.4M222.2,564.6l-1.1,0.8M291.6,537.0l0.6,1.0M286.5,554.9l-1.3,0.6M334.9,521.0l1.2,0.8M235.9,600.4l-1.1,1.1M280.1,593.1l1.1,1.0M302.9,531.5l0.8,0.6M238.5,527.1l1.1,0.2M344.5,578.6l-0.4,0.9M337.4,649.4l-0.2,1.4M231.9,625.3l-0.4,0.7M248.6,524.4l0.8,0.9M283.8,645.2l0.8,0.5M251.2,540.8l1.1,0.9M253.2,627.0l-1.2,0.7M221.5,650.6l0.6,0.4M245.1,653.1l-1.3,0.8M238.4,613.1l1.1,1.1M291.8,556.7l1.1,0.4M310.5,618.9l-0.5,1.2M221.8,558.8l-0.1,1.4M223.0,522.3l-1.4,0.3M259.8,573.9l-0.3,1.3M233.5,616.9l-0.1,0.6M244.7,653.9l1.6,0.2M275.9,616.9l0.2,0.4M294.4,519.2l-1.4,0.1M264.6,573.5l0.9,0.2M332.5,540.1l-0.9,0.8M218.0,632.6l-0.9,0.6M243.9,576.5l-0.7,0.2M206.4,581.5l0.3,0.5M255.9,649.8l-1.2,0.5M255.9,529.9l0.6,0.6M272.7,571.3l-0.2,1.4M324.2,649.0l0.6,1.1M306.4,557.5l-0.5,0.1M274.5,639.0l0.7,0.4M302.4,519.0l1.2,0.4M267.6,630.9l0.3,0.6M281.1,632.4l1.0,0.6M346.7,653.2l0.7,0.4M257.1,641.3l1.3,0.3M250.9,650.4l-0.2,0.6M215.7,634.1l1.0,0.1M311.1,594.8l-0.8,0.5M230.7,567.7l-0.6,0.7M260.9,544.5l-0.9,0.3M326.8,596.7l-0.6,0.3M209.5,516.4l0.6,0.9M324.8,637.3l-0.6,0.0M323.2,628.7l-1.1,0.3M304.5,639.6l0.9,0.2M220.2,652.5l-1.1,0.2M206.0,576.6l-0.6,1.4M342.6,581.9l0.0,0.5M235.3,628.8l0.4,1.2M232.2,582.7l-0.8,1.1M335.8,651.9l1.0,1.1M299.4,618.7l-0.8,1.3M300.0,553.0l-1.3,0.7M318.2,567.6l0.7,0.3M244.4,570.6l0.6,1.0M299.1,548.9l0.4,0.5M263.3,571.2l-0.8,0.4M328.4,596.0l1.2,0.1M225.4,557.9l-0.3,1.2M228.0,599.1l-0.1,0.6M236.8,590.4l0.4,1.4M250.8,606.8l0.9,1.2M211.9,556.8l-0.3,0.8M248.4,567.4l1.0,0.6M277.5,633.8l-0.4,1.2M241.5,521.2l-0.9,0.2M217.3,651.2l-0.5,0.6M263.9,532.7l0.7,1.4M258.9,629.7l-1.2,0.3M288.5,622.6l0.5,0.3M223.3,592.8l0.2,1.1M288.9,585.3l0.3,1.1M276.6,526.6l-0.1,0.5M289.9,539.1l-0.1,0.7M229.1,617.8l-1.5,0.4M325.7,541.4l0.9,0.4M276.1,598.4l-1.2,0.1M267.5,571.0l0.2,1.1M228.1,641.4l0.1,0.5M337.0,559.7l-0.4,1.0M233.6,554.6l-0.1,0.8M347.7,590.2l0.1,0.8M317.1,607.3l1.2,0.5M214.0,638.0l-0.3,0.7M261.0,552.5l-0.7,1.2M210.4,650.9l-0.1,1.2M346.1,627.0l-0.1,1.3M337.3,563.9l-0.3,0.7M208.4,622.4l1.1,0.6M208.6,527.2l1.1,0.5M301.3,639.9l-0.2,0.4M207.2,582.3l0.2,0.6M298.3,624.4l0.6,0.0M270.8,571.4l-1.3,0.2M318.2,611.0l-0.7,0.4M321.8,553.3l1.1,0.9M303.6,567.5l-0.7,0.5M268.8,535.6l-0.3,0.8M280.6,516.0l0.0,1.6M238.5,544.6l1.2,0.5M216.7,644.5l-0.1,1.3M209.1,606.4l-0.8,0.6M231.6,557.7l0.7,0.5M314.1,525.6l-0.6,0.9M274.3,589.7l0.3,0.4M263.9,602.5l0.7,1.1M300.0,648.0l0.6,0.3M218.3,631.9l1.4,0.4M255.3,624.8l-0.9,1.0M239.6,575.4l0.6,0.5M205.9,545.3l-0.9,0.0M333.7,616.8l-0.6,0.0M215.2,563.2l-0.6,0.4M280.3,610.4l1.2,0.9M283.0,521.7l-0.9,0.5M340.6,563.1l-0.5,1.1M308.2,534.7l-0.4,1.4M309.7,522.1l-0.2,0.5M256.4,542.8l0.9,0.4M292.5,584.3l1.1,0.4M298.7,582.7l-0.5,0.6M211.4,641.2l-1.2,0.9M303.9,561.0l-1.5,0.2M306.8,550.1l1.2,0.8M279.9,576.8l0.6,1.0M270.7,533.2l-0.5,1.1M322.8,579.1l-0.9,0.1M273.8,542.4l-0.4,0.6M256.1,603.3l1.0,1.1M333.0,532.5l0.8,0.0M294.4,589.6l-0.7,0.8M241.4,527.1l0.4,0.3M281.2,605.3l-1.5,0.0M237.6,548.0l1.6,0.3M227.4,517.5l1.4,0.5M306.1,561.2l0.4,1.0M281.3,555.2l-0.0,0.8M228.1,527.9l0.8,1.2M208.6,590.3l-0.5,0.4M249.4,591.6l-0.6,1.2M283.6,619.5l0.5,0.6M305.9,556.8l0.8,0.6M232.7,518.4l0.8,0.5M319.8,637.4l1.0,0.1M215.4,634.2l0.8,0.3M285.7,569.4l0.6,0.5M327.2,530.9l0.2,0.8M343.7,603.0l-0.4,0.5M325.0,521.1l-1.1,0.9M345.7,615.0l1.1,0.3M254.7,560.7l0.5,0.5M235.5,542.9l0.6,0.1M252.2,636.5l-1.1,0.1M233.2,630.6l1.2,0.7M243.4,649.0l-1.0,0.2M286.9,550.5l0.9,0.5M311.0,652.1l-0.8,0.7M214.0,636.2l0.6,0.7M344.7,538.0l-0.3,0.4M277.5,521.5l0.4,1.2M335.3,551.3l-1.2,0.6M340.7,635.3l-0.4,0.4M312.2,583.2l-0.0,0.6M347.1,548.3l-0.2,0.7M255.6,554.5l-1.0,0.5M264.6,568.7l-1.0,0.6M253.3,590.6l0.7,0.7M336.4,583.2l1.1,0.2M328.5,552.7l1.2,0.8M310.6,653.9l-0.5,1.3M223.1,607.1l0.5,0.3M317.1,517.1l-0.7,0.4M308.8,621.7l-0.3,1.4M324.9,517.9l-1.1,0.0M225.6,640.6l-0.4,0.3M285.6,551.6l-0.5,0.3M318.0,548.3l0.6,1.4M283.6,611.9l0.3,1.4M302.3,538.8l0.5,0.6M238.2,567.2l0.8,0.7M255.0,606.5l1.2,0.9M341.5,520.0l-0.7,0.1M231.9,535.9l1.1,0.7M238.2,608.9l0.1,1.5M337.7,558.3l-0.1,1.1M250.4,550.8l-1.2,0.1M317.9,573.5l-0.8,1.3M284.5,593.2l0.9,0.9M324.7,573.6l-0.7,0.1M337.8,642.8l0.1,0.7M262.5,597.1l-1.1,0.7M299.9,608.4l0.9,0.3M318.6,638.4l0.6,0.2M218.0,563.4l0.3,1.0M325.3,541.0l-0.6,0.9M205.4,524.2l0.6,0.1M250.9,529.8l-1.3,0.2M284.7,594.5l-0.5,0.7M265.3,622.8l0.8,0.4M237.1,547.7l0.8,0.4M308.7,543.4l-0.3,1.1M242.5,620.7l-0.6,0.7M218.7,630.6l0.8,0.3M214.2,600.1l-0.1,1.4M318.8,635.3l0.8,1.2M255.9,593.8l0.5,0.7M219.2,633.2l-0.4,0.3M256.2,649.1l1.1,0.7M324.4,614.4l-0.1,0.5M314.8,644.3l0.4,0.6M226.0,539.4l-0.5,0.5M250.8,636.9l0.3,0.7M253.2,569.1l0.5,0.6M282.2,543.1l0.5,0.2M213.2,607.1l0.5,0.0M340.9,559.3l-0.3,0.9M250.2,614.5l-0.9,0.5M291.1,555.4l0.4,0.3M300.7,650.2l0.1,0.6" fill="none" stroke="#142aa2" stroke-width="3.20" stroke-linecap="round" opacity="0.85"/>
<path d="M285.7,533.3l0.2,0.4M337.6,556.3l-0.9,0.5M304.4,649.5l0.7,1.1M301.5,530.9l0.5,0.2M250.6,576.5l0.2,0.9M227.9,546.5l-0.9,0.8M338.8,554.2l-1.0,0.4M248.5,527.8l0.2,0.4M264.5,596.5l0.8,0.8M263.9,649.2l0.9,0.4M216.2,607.3l0.3,0.8M247.7,598.4l0.2,0.4M345.4,653.6l0.4,0.6M299.1,538.8l0.5,0.2M263.2,545.5l-0.3,0.7M330.8,618.1l0.4,0.4M252.2,617.3l-0.4,0.5M220.6,647.7l-0.1,0.4M275.8,623.7l0.2,0.5M273.9,565.1l1.0,0.3M232.5,653.9l0.7,0.1M304.5,635.0l0.5,0.1M274.6,633.8l0.5,0.2M314.9,549.8l-1.3,0.0M324.2,657.8l0.6,0.7M322.1,640.9l-0.0,0.4M228.1,530.4l0.8,0.7M327.3,635.3l-0.1,1.0M254.5,634.8l0.3,0.7M291.5,575.4l0.4,0.5M345.7,653.1l0.0,0.7M271.9,576.1l-0.8,0.9M270.2,621.2l0.5,0.2M247.3,623.8l-0.7,0.0M322.9,642.2l0.8,0.2M345.4,599.0l0.6,0.4M288.2,633.3l0.9,0.6M235.2,542.1l-1.0,0.7M342.0,541.4l0.8,0.4M274.8,564.2l0.7,1.0M226.3,541.7l0.5,0.3M327.6,528.3l-0.9,0.7M342.3,648.9l-1.2,0.0M243.5,532.2l-0.4,0.1M250.6,647.0l-0.1,0.7M332.0,634.9l-0.5,1.2M343.5,621.4l-1.0,0.6M340.4,597.8l0.4,0.3M234.5,625.0l-0.3,0.5M313.1,516.0l0.1,0.5M263.3,566.7l-0.3,0.3M315.0,633.3l0.3,0.6M266.3,551.6l0.1,0.4M333.1,625.5l0.8,0.9M220.5,574.9l-0.1,0.8M274.7,642.7l1.0,0.3M316.3,599.8l-0.8,0.3M232.1,541.0l0.3,0.7M282.7,583.8l-0.2,0.7M344.0,601.0l-0.7,0.4M232.9,649.3l0.6,0.6M302.6,567.6l-1.2,0.5M267.6,653.8l-0.2,1.2M338.2,541.3l-0.7,1.0M220.1,519.4l0.3,0.7M321.0,605.1l-0.8,0.5M209.8,515.9l0.8,0.1M217.2,609.8l0.8,1.0M213.2,621.6l-0.2,0.6M270.9,579.4l-0.5,1.0M323.9,598.2l0.3,1.0M302.3,610.9l-0.0,0.5M308.7,656.1l0.3,0.3M250.6,557.2l0.2,0.5M236.5,580.4l0.1,1.1M310.1,551.0l-0.5,0.4M301.7,648.2l0.4,0.2M343.2,611.2l-0.6,1.0M331.4,649.8l0.7,1.1M334.8,633.2l-1.2,0.4M224.5,653.0l-0.2,0.7M245.5,525.7l0.9,0.4M340.3,577.4l0.3,1.2M279.4,556.7l-0.5,0.7M324.5,597.6l0.2,0.9M271.3,579.1l-0.6,0.0M273.9,521.5l-1.0,0.1M298.7,537.5l0.5,0.7M334.0,629.3l-0.3,0.3M310.9,580.9l-0.1,1.2M248.0,635.5l0.2,0.9M261.3,648.9l0.4,0.1M223.4,535.4l-0.5,0.3M310.1,562.4l0.5,1.0M256.7,570.5l-1.0,0.6M299.3,561.7l-0.6,0.5M237.1,617.8l0.3,0.7M230.7,613.6l0.3,0.6M310.8,522.5l0.0,0.7M277.3,574.5l-1.2,0.6M279.2,631.6l-0.6,0.0M234.9,580.3l1.2,0.5M232.4,610.5l-0.6,0.2M284.4,536.3l0.5,0.3M287.3,562.1l-0.4,0.4M254.4,613.0l0.3,0.2M225.1,537.5l-1.1,0.0M215.5,516.3l-0.7,0.2M330.9,652.3l-0.4,0.4M244.8,638.6l-0.4,0.1M268.8,573.2l0.4,0.0M319.7,572.7l-0.1,1.2M323.6,545.6l-0.3,0.2M252.3,534.1l1.2,0.1M213.0,651.1l-0.3,0.7M263.5,594.1l-0.5,0.6M285.8,620.4l-0.8,1.0M305.2,574.1l0.1,0.5M227.2,643.8l-0.5,0.2M287.4,592.1l0.9,0.1M298.9,549.6l0.3,0.5M264.4,561.4l0.1,0.8M300.4,567.9l-0.6,0.1M303.6,615.4l0.2,0.5M268.9,536.8l-0.7,0.2M248.8,648.3l-0.5,0.1M255.8,602.2l-0.3,0.6M214.5,524.5l-0.8,0.7M236.9,593.3l0.8,0.3M344.2,559.7l-0.6,0.3M338.9,565.3l0.5,1.1M213.0,575.5l0.1,0.7M327.9,633.9l0.3,1.0M262.0,569.1l-0.3,0.8M311.7,643.0l0.1,0.8M242.5,549.9l1.0,0.4M343.2,567.9l0.5,1.1M322.0,613.5l-0.3,1.1M285.3,604.2l0.3,0.4M314.1,550.5l0.2,0.5M275.4,576.0l0.3,0.3M247.5,610.4l0.5,0.6M330.2,651.1l-0.7,1.1M236.3,590.6l-0.7,0.8M250.5,547.8l0.4,0.9M310.1,568.4l-0.6,1.1M311.1,543.8l-0.4,0.3M243.3,591.4l-0.2,0.4M344.7,623.2l0.8,0.5M308.7,553.6l-1.1,0.4M304.8,614.9l0.7,0.7M259.8,541.5l0.1,0.6M209.8,518.0l-0.3,0.4M230.6,625.0l0.3,0.4M284.3,525.2l-0.5,0.2M244.3,627.9l-0.6,0.2M339.0,613.9l-1.1,0.0M306.7,588.1l0.5,1.1M285.6,575.3l-0.5,0.3M215.2,600.8l0.6,0.2M330.7,613.5l0.6,0.9M277.0,528.3l-0.8,0.7M338.6,521.4l0.4,1.0M304.4,557.4l0.1,0.4M283.4,656.0l0.7,0.5M328.4,517.8l0.1,0.7M301.0,631.2l0.7,0.4M245.8,545.2l-0.9,0.1M237.7,572.4l-0.4,0.1M216.6,525.9l0.3,0.2M300.3,543.3l0.4,0.9M250.8,607.6l-0.4,1.1M281.0,644.0l0.2,0.9M276.6,631.9l0.5,0.6M284.4,590.6l-0.5,0.8M270.5,572.5l-0.2,1.0M240.2,617.5l1.1,0.2M299.6,563.6l1.1,0.4M331.0,628.7l-0.2,0.7M240.4,627.4l-0.5,0.5M281.8,592.3l0.4,0.5M258.1,636.7l0.2,0.8M260.5,527.1l0.2,0.9M273.7,602.2l-0.5,1.0M238.9,559.4l0.9,0.4M249.1,613.0l-0.4,0.5M260.4,533.8l0.7,0.2M237.0,632.4l0.4,0.1M268.1,616.8l0.5,0.7M319.4,588.4l0.1,1.0M340.0,544.2l0.5,0.2M317.4,597.5l0.0,0.4M273.6,648.6l-0.1,0.4M278.7,570.9l-0.5,0.1M270.1,602.2l-0.7,0.3M273.7,543.2l-0.9,0.4M297.8,613.7l0.4,0.3M237.5,526.5l-0.9,0.8M205.4,534.2l1.2,0.6M216.0,519.3l0.3,1.0M300.5,624.7l-0.5,1.1M236.5,646.8l-0.4,0.7M343.2,556.1l-0.9,0.7M272.3,566.1l0.9,0.9M300.4,566.1l-0.4,0.2M330.0,631.7l-0.2,0.3M284.0,606.5l0.5,0.8M345.8,526.6l0.5,1.0M342.8,623.2l-0.4,0.3M340.2,517.9l-0.1,0.7M212.3,630.6l0.1,0.4M294.1,554.5l-0.1,1.2M336.5,645.5l-0.6,0.9M258.9,570.8l-0.7,0.1M207.5,630.9l0.2,0.9M328.9,536.9l0.6,0.0M310.3,589.5l-0.1,1.2M314.6,593.5l0.6,1.0M329.4,558.8l-0.7,0.9M254.1,518.8l0.9,0.1M336.3,596.5l0.6,1.0M221.5,606.1l0.5,0.3M297.0,533.9l0.8,0.3M320.4,635.2l0.2,0.4M347.6,655.7l-0.4,0.9M330.9,519.2l-1.0,0.3M249.0,540.2l-1.2,0.4M265.1,651.2l0.5,0.4M246.0,625.8l0.6,0.1M254.7,574.1l0.5,0.5M270.6,559.3l-1.1,0.1M329.7,644.9l0.7,1.0M259.0,551.8l0.7,0.5M231.0,604.6l-0.8,0.1M297.4,611.4l0.4,1.1M307.4,597.4l-1.1,0.2M259.0,652.9l0.0,1.3M227.3,632.7l0.9,0.1M273.0,602.1l0.6,0.1M321.0,613.3l-0.4,0.8M254.7,560.3l-0.4,0.8M239.6,601.3l0.9,0.4M311.1,538.3l-0.5,0.4M294.1,572.2l0.2,0.7M303.5,574.9l0.9,0.2M236.2,536.5l-0.4,0.7M207.9,561.7l0.2,0.5M256.5,611.2l-0.9,0.8M326.4,611.7l1.0,0.0M340.6,548.2l-0.5,0.4M270.3,575.5l-0.4,0.0M262.5,519.5l-0.5,0.7M257.3,605.5l-0.2,0.5M269.5,614.8l0.8,0.1M254.8,613.1l-0.8,0.9M207.3,596.0l-0.7,0.5M317.5,543.0l-0.1,1.3M230.7,609.2l-1.3,0.2M330.3,647.1l-0.9,0.0M326.1,537.1l0.6,0.8M213.9,575.0l-0.6,0.1M251.5,607.9l1.0,0.3M268.7,572.2l0.0,0.7M331.5,593.3l0.8,0.6M280.3,562.5l0.9,0.5M305.2,572.8l-0.2,1.1M250.7,629.6l0.6,0.4M247.7,634.4l0.1,0.6M310.8,650.8l1.0,0.4M245.3,652.5l-1.0,0.7M280.1,586.0l1.0,0.8M248.1,591.9l0.3,0.3M346.4,597.2l-0.1,0.9M214.1,535.2l0.8,0.4M305.8,590.5l0.3,0.9M260.0,648.1l0.6,0.2M307.2,535.8l-0.6,0.6M311.6,650.9l-0.7,0.2M286.8,558.0l0.6,0.4M295.0,622.3l0.5,1.2M212.2,643.3l1.3,0.3M327.2,518.1l-0.1,0.9M313.9,609.3l-0.5,0.0M311.9,620.2l0.3,0.6M276.0,527.0l-0.7,0.8M332.5,546.9l0.1,0.4M310.5,526.3l-0.2,0.5M256.6,605.7l-1.0,0.2M262.2,523.1l0.6,0.3M212.5,523.2l0.5,0.6M313.8,599.1l-0.6,0.4M252.0,611.0l-1.2,0.1M292.0,612.3l-1.0,0.2M260.7,543.4l0.3,0.5M262.5,604.5l-0.7,0.2M255.2,623.4l-0.7,0.2M234.6,524.5l-0.5,0.8M268.5,603.7l0.6,0.9M233.1,609.7l0.6,0.8M217.6,593.7l-0.2,1.1M276.9,556.2l0.8,0.3M255.8,574.3l-1.3,0.2M345.9,570.7l1.0,0.5M325.3,604.6l-0.9,0.4M317.3,626.4l0.3,0.5M326.0,579.2l0.5,0.6M261.9,614.4l1.1,0.7M217.2,633.0l-0.8,0.2M284.9,527.0l0.7,0.3M329.1,563.8l-0.9,0.4M207.7,564.8l-0.4,0.1M305.2,613.0l-0.7,0.1M282.0,580.0l0.6,0.1M328.1,542.9l-0.0,1.1M288.2,526.9l-0.8,0.1M304.6,581.5l-0.3,0.6M283.7,567.5l0.7,0.7M269.1,622.5l0.1,1.1M236.7,628.3l-0.3,1.1M265.6,626.4l0.7,1.0M248.3,637.8l-1.2,0.3M266.7,635.5l0.2,0.5M346.5,555.4l-0.4,0.1M215.7,620.4l-0.7,0.1M316.4,534.0l0.3,0.8M235.7,615.1l0.6,0.8M211.7,593.7l0.5,0.3M243.0,644.0l0.2,0.5M207.6,603.2l-0.5,1.1M245.9,571.8l-0.4,0.0M267.6,656.9l0.7,0.3M310.5,609.5l-1.3,0.2M254.5,517.7l-0.9,0.9M273.5,646.9l0.9,0.3M249.9,529.1l0.1,1.2M270.1,522.6l-0.4,0.4M330.4,587.3l0.5,0.0M225.6,563.2l-1.1,0.7M340.2,651.9l0.1,0.7M312.5,538.9l-0.2,0.3M297.6,581.0l0.3,0.3M299.8,656.7l0.6,0.4M231.6,584.3l0.1,0.8M276.9,622.7l0.7,0.1M326.8,538.4l0.1,0.4M208.6,615.9l-0.6,0.4M211.1,565.3l0.3,0.3M320.9,579.2l-0.9,0.4M310.2,635.4l-0.2,0.5M333.3,546.7l0.3,0.6M332.0,653.2l-1.1,0.1M283.0,528.9l0.5,0.9M273.9,616.8l0.1,0.8M241.5,562.5l-0.6,0.7M254.9,535.8l0.3,0.9M326.1,601.1l0.6,0.0M252.4,564.2l-0.3,0.4M217.3,535.1l0.2,0.7M298.8,516.9l0.1,0.6M253.7,621.9l-0.5,0.1M319.3,542.4l0.9,0.5M308.0,539.6l-0.0,0.7M235.6,579.8l-1.2,0.0M316.5,552.6l-0.3,0.6M291.7,527.3l0.1,1.3M254.6,619.1l-0.9,0.1M291.1,530.1l-1.3,0.3M344.3,604.9l0.1,0.4M244.8,601.5l-0.5,1.1M337.3,595.9l-0.1,0.4M312.8,606.5l-0.5,0.5M331.2,595.5l-0.0,1.0M322.6,573.8l0.4,0.1M327.4,648.3l0.0,0.6M273.5,583.3l-0.8,0.2M312.1,636.1l0.3,0.5M346.7,624.5l-0.0,1.3M290.8,521.9l0.7,0.8M321.0,599.6l-0.3,0.3M269.2,523.9l0.4,1.1M286.0,568.7l-0.4,0.2M344.4,624.2l-1.0,0.7M206.1,633.8l1.3,0.0M294.0,520.4l0.6,0.8M322.4,652.8l-1.1,0.2M205.7,607.5l-0.6,1.1M247.6,629.6l0.9,0.1M248.3,589.4l-0.1,0.8M262.0,528.8l-1.1,0.3M234.0,522.4l-1.1,0.1M270.4,543.8l-1.0,0.1M328.3,606.6l0.3,0.3M214.8,531.4l0.7,0.8M275.6,600.9l0.1,1.2M282.8,577.1l0.4,0.1M302.3,535.8l1.1,0.4M276.2,638.6l-0.7,0.5M299.9,639.0l-1.0,0.2M345.5,571.2l1.1,0.6M213.4,574.9l-0.1,1.0M247.8,617.7l-0.4,0.9M344.2,620.5l-0.5,0.3M275.4,646.8l0.6,0.4M232.6,528.2l0.5,0.4M344.3,611.1l-0.2,0.5M233.1,541.6l-0.3,0.9M261.3,552.7l0.3,0.3M248.5,576.6l0.3,0.6M229.3,631.0l0.6,0.1M312.6,605.2l-1.0,0.4" fill="none" stroke="#1934ba" stroke-width="2.60" stroke-linecap="round" opacity="0.9"/>
<path d="M304.7,533.6l1.0,2.8M254.4,551.6l-1.3,1.8M333.7,546.2l2.6,1.5M255.7,556.0l2.2,0.6M333.7,655.5l0.7,0.5M205.7,523.3l1.9,0.4M245.8,622.0l-3.5,0.2M231.5,596.0l1.4,1.9M289.3,579.0l2.1,2.5M250.4,607.3l-0.7,2.1M269.4,574.7l0.3,2.7M345.8,576.2l1.2,2.8M278.6,614.5l2.7,0.6M286.4,619.9l3.5,0.2M339.2,602.0l2.6,0.8M217.3,583.2l-0.2,0.8M312.6,647.7l-1.4,0.4M329.6,549.4l-0.5,1.5M334.6,527.9l-2.6,0.1M259.6,600.3l-1.1,1.9M316.3,634.6l2.7,1.2M335.6,639.9l-1.1,1.7M222.4,638.7l1.3,0.3M334.1,523.1l-1.7,2.1M274.0,602.0l1.5,3.0M306.5,561.2l-1.6,1.6M259.4,544.6l1.3,1.3M211.9,528.4l-2.0,0.5M287.2,583.7l-1.9,2.5M248.0,558.6l0.9,0.5M282.9,587.5l-1.1,1.0M306.4,520.7l-2.6,2.3M292.2,637.4l1.7,1.6M223.2,655.5l2.2,0.9M251.6,629.4l-3.5,0.5M322.9,650.2l1.6,0.5M299.5,620.8l-0.1,2.2M260.5,635.6l0.1,2.9M279.9,547.3l1.0,3.3M250.9,557.3l0.4,1.7M216.9,619.8l-0.8,0.9M261.6,658.1l-0.0,2.1M234.3,532.3l-1.0,2.0M340.6,623.2l0.4,0.7M206.7,587.1l1.1,0.3M228.5,648.6l-2.0,2.3M206.7,602.4l2.0,1.4M248.6,518.9l-0.2,1.8M309.6,537.7l-2.2,1.3M252.4,654.8l-2.1,1.2M219.3,630.2l-2.8,0.6M294.9,564.1l-0.6,1.5M318.2,545.8l2.0,0.3M328.5,530.3l1.8,0.6M246.5,536.6l1.5,2.8M218.8,523.0l-0.9,1.0M221.9,565.1l2.0,0.1M340.2,594.9l2.9,0.8M230.5,644.1l-2.0,0.8M218.9,607.2l0.8,2.5M330.7,592.3l0.7,2.4M238.1,654.7l0.2,1.7M239.4,613.2l-0.5,1.5M300.7,552.8l0.6,0.6M214.4,520.7l0.9,0.2M333.4,600.9l-2.7,0.3M233.9,577.9l1.0,1.7M266.8,613.3l1.6,3.2M227.9,579.1l1.1,0.4M324.2,647.0l1.5,1.9M290.5,542.1l1.7,2.3M284.0,550.7l-2.4,0.5M255.0,539.0l2.3,0.5M275.8,636.5l-1.0,0.7M335.1,620.1l0.7,1.5M278.5,627.7l-1.1,1.0M216.8,529.5l0.3,3.2M272.5,531.2l-0.5,1.2M324.1,610.0l-1.5,0.4M208.6,578.6l1.8,2.1M344.3,654.8l-1.5,0.1M225.3,559.3l-0.9,3.1M299.9,529.8l0.5,2.3M295.6,629.0l-1.6,1.2M228.2,523.9l-2.2,2.3M232.9,593.5l-2.5,0.5M273.8,601.4l-2.9,2.1M207.6,605.5l-3.3,0.6M266.9,593.3l-1.5,0.2M218.0,615.1l-3.4,0.8M310.9,644.3l-2.7,0.0M261.5,622.6l0.6,0.6M256.2,598.8l-1.4,1.1M314.2,621.2l1.1,2.9M221.8,606.1l-1.4,0.2M297.8,568.2l1.9,1.7M242.9,520.4l-1.1,0.9M296.1,588.1l-1.2,0.8M303.5,521.5l1.4,0.2M214.6,634.4l0.3,0.8M328.7,564.7l0.9,1.4M219.2,569.5l-2.6,0.3M329.0,544.7l-1.6,1.9M237.9,568.5l-0.1,3.3M239.5,517.8l2.2,0.1M330.6,586.1l-0.4,2.2M251.2,610.8l-0.3,2.6M340.6,622.9l-0.4,2.3M281.0,658.1l1.3,0.8M254.2,601.5l1.4,2.6M256.2,592.7l-0.7,0.7M322.6,629.0l0.0,1.5M210.8,582.7l-1.8,1.3M246.6,620.6l1.3,3.0M303.3,575.7l-3.2,1.0M227.9,646.0l-0.2,1.0M291.7,591.2l1.3,1.6M256.9,536.0l-1.8,0.5M326.3,555.3l-0.9,3.0M332.7,632.4l-2.1,2.7M281.7,549.1l0.6,0.9M274.1,600.1l1.8,1.1M338.2,592.0l0.4,2.7M259.8,651.2l0.3,2.8M328.9,595.4l-0.8,1.9M233.6,546.6l2.0,1.7M303.1,530.1l-2.2,2.3M209.6,568.6l-2.1,0.1M244.2,578.7l1.7,3.1M238.1,623.0l0.3,0.8M305.2,536.3l-0.7,2.1M299.7,589.2l0.8,0.2M241.9,621.3l-0.7,0.5M250.8,566.1l0.3,1.1M338.8,519.0l-1.1,2.1M286.6,537.1l-0.1,1.7M280.1,523.6l-0.5,2.2M245.5,566.3l0.6,1.1M304.9,557.7l2.3,1.8M251.3,519.4l-0.9,1.3M347.5,595.1l3.3,1.3M332.8,560.2l-3.4,0.2M268.8,621.3l-1.3,0.6M344.5,580.3l2.6,2.4M265.4,578.8l-0.8,0.5M252.1,637.8l-2.4,2.6M234.5,647.7l0.5,1.7M293.5,651.8l-2.6,1.4M254.0,622.0l-0.8,1.7M247.0,658.0l1.6,3.1M304.7,610.0l0.5,1.3M283.0,631.3l-1.2,0.3M214.3,524.6l1.2,0.4M317.0,572.7l-2.0,2.0M338.3,624.4l1.3,3.1M336.5,519.2l2.5,1.3M234.9,614.8l-1.4,0.5M215.5,579.5l2.2,2.1M306.8,580.8l2.8,1.5M212.1,564.4l-1.4,0.6M267.7,564.8l-2.4,1.4M291.0,529.2l0.1,1.8M215.3,627.1l0.6,3.3M284.6,652.5l3.5,0.1M253.6,578.2l1.1,2.7M344.8,584.0l-0.1,2.1M268.1,580.6l-0.7,1.0M253.1,623.1l-3.0,0.5M336.3,602.2l2.6,0.2M325.2,599.4l-1.4,2.7M311.9,598.1l-1.4,1.5M343.0,539.3l3.2,0.1M287.3,650.8l-1.3,1.5M280.1,537.8l-1.3,2.2M322.2,613.4l-2.8,1.3M250.9,645.1l-1.5,1.3M284.5,537.9l0.8,0.1M331.8,529.1l0.3,0.9M230.6,540.8l-1.9,1.3M250.3,634.9l-2.2,1.5M315.8,640.8l1.3,1.0M321.0,641.1l-2.5,0.9M266.5,522.4l-0.7,0.9M344.7,627.0l-0.1,1.3M337.3,570.5l-1.2,2.8M316.9,605.1l-1.1,0.3M228.7,538.1l2.6,0.6M241.0,650.3l0.4,3.6M337.8,555.9l0.5,3.4M252.9,604.7l-2.3,0.6M211.5,523.3l1.3,1.2M271.4,544.3l1.6,0.1M323.6,618.3l-1.3,2.8M331.1,542.2l-0.9,0.2M230.6,571.1l0.5,1.5M240.9,546.8l-1.9,0.4M241.8,621.3l2.9,0.3M327.5,533.1l-0.9,0.9M317.5,585.5l-0.9,0.1M216.9,658.1l0.3,1.2M295.1,583.2l-0.2,1.0M307.7,581.0l1.7,0.8M272.9,605.2l-1.5,2.0M216.6,639.2l1.0,1.3M230.6,615.1l1.3,0.3M303.8,571.5l1.1,1.8M248.5,602.9l-1.8,0.3M345.0,516.4l-1.3,0.9M250.1,557.2l1.3,0.4M297.1,554.9l2.3,2.1M261.9,534.1l0.5,2.5M285.6,611.7l-1.9,0.7M289.8,548.7l1.9,1.3M260.7,549.8l3.0,1.1M218.4,591.9l-0.2,1.1M219.9,559.4l-0.5,2.0M224.7,561.3l1.8,1.3M306.3,575.8l0.9,0.5M228.9,520.4l0.2,2.8M251.5,576.9l-0.5,1.6M312.1,556.4l1.1,0.7M329.5,656.7l0.4,1.2M289.4,642.7l-1.0,1.9M272.9,539.5l1.1,2.6M300.6,530.4l1.7,0.4M207.1,547.5l0.5,0.8M261.1,585.3l-0.3,0.9M314.2,532.0l-1.3,1.6M339.3,614.0l1.0,0.3M306.2,599.9l-0.9,1.8M316.9,609.3l1.7,2.8M218.2,531.4l-3.4,1.1M325.2,525.9l0.9,2.4M259.0,535.6l-1.0,1.3M330.8,594.4l-3.0,1.1M256.2,549.8l-1.6,0.4M271.9,517.7l1.3,1.6M282.6,616.2l-1.4,3.0M321.9,558.5l-0.1,1.4M343.5,559.5l2.6,2.5M233.3,553.1l2.6,1.6M288.7,644.1l0.1,0.9M339.7,563.4l1.5,0.5M290.5,638.2l0.0,3.5M242.0,581.9l0.7,1.2M264.5,558.3l-1.9,3.0M340.7,625.1l1.0,2.1M209.0,588.5l-2.6,2.2M289.6,652.4l-1.0,2.0M306.1,629.0l-0.1,2.7M332.3,525.5l2.3,0.9M298.5,556.6l0.2,1.3M235.9,567.9l1.9,1.2M300.7,540.4l1.3,0.7M267.0,539.8l-2.3,1.3M305.5,629.4l0.9,1.5M216.9,558.6l-1.4,2.6M331.5,537.0l-1.0,0.4M241.0,565.2l0.5,0.6M247.4,651.5l0.7,0.7M220.4,534.6l0.8,0.6M252.0,645.9l-2.5,2.4M323.9,563.4l-0.8,0.2M310.7,565.5l-1.0,1.9M211.7,655.0l1.5,1.0M243.8,638.9l-2.4,1.7M282.0,620.8l-3.2,1.4M214.7,621.2l1.8,2.4M225.6,526.3l0.5,1.3M249.1,580.9l-1.4,2.9M288.1,520.8l1.8,0.6M316.4,531.6l2.2,2.0M279.5,543.0l1.0,1.5M233.2,592.9l-3.1,0.5M259.1,537.7l0.5,1.6M212.4,527.0l0.1,1.3M242.3,583.5l-1.6,0.6M302.1,635.3l2.1,2.8M238.3,576.8l0.8,1.3M249.3,656.1l-0.3,2.2M211.0,615.5l3.3,0.8M264.4,524.1l2.4,2.3M284.3,537.7l0.3,3.1M286.9,655.2l-1.3,1.1M322.5,522.0l-0.1,1.5M275.5,534.5l-0.5,0.7M289.0,532.6l-1.8,2.7M226.8,535.9l0.9,2.1M339.9,603.3l-2.7,1.0M259.4,554.7l1.8,2.7M344.2,577.8l0.9,0.3M240.2,571.4l-1.4,1.6M308.2,640.1l0.0,1.4M333.8,588.1l-3.0,0.7M347.7,636.9l2.1,1.6M280.9,575.1l1.5,0.2M285.2,531.9l-3.1,0.7M221.6,644.0l1.6,1.5M250.6,549.5l0.7,1.0M219.3,656.1l-2.1,0.8M241.7,570.4l2.3,0.5M301.8,542.7l-0.5,1.5M276.6,540.6l0.4,3.0M296.2,649.7l-2.0,1.3M213.0,531.2l1.7,2.2M288.3,546.3l0.2,3.4M251.8,629.7l-1.9,1.1M347.1,627.5l0.1,1.0M301.0,636.3l1.7,0.6M267.5,520.6l-2.6,0.5M234.6,618.8l-0.5,3.1M264.7,601.4l0.0,1.6M205.8,643.7l-0.7,0.5M205.9,640.4l-1.1,0.8M304.2,541.2l1.7,0.8M333.0,598.9l-1.2,1.2M317.0,596.6l1.6,0.2M326.2,630.8l-1.5,1.7M298.5,652.1l-1.4,1.6M262.0,621.3l0.2,1.4M315.7,570.5l1.7,0.0M208.5,621.5l0.9,2.4M250.1,622.1l-0.7,1.8M260.5,591.2l-1.4,2.5M288.4,637.5l-1.3,0.7M340.9,616.9l0.6,1.5M299.0,545.2l2.9,0.6M299.2,651.9l-0.2,1.7M303.2,604.8l2.8,1.7M270.9,599.4l-0.8,0.4M275.1,530.2l-1.5,2.1M303.3,518.7l-0.6,2.5M307.0,575.7l1.6,2.9M338.1,635.4l-0.8,0.6M303.4,564.9l2.2,1.9M266.2,569.3l1.6,0.6M296.7,558.0l-2.3,1.2M263.7,535.9l-2.2,1.0M331.4,554.5l-1.3,1.8M300.2,555.7l1.4,0.1M293.8,572.7l-3.4,1.0M258.7,622.2l-0.3,2.7M205.6,626.9l-1.1,0.7M332.0,522.6l-2.0,1.1M308.1,525.2l-3.1,0.3M237.6,533.8l-0.8,0.5M239.2,619.0l-2.5,0.6M304.6,538.8l-2.3,0.6M338.7,542.7l2.5,1.5M331.7,586.5l1.2,0.1M214.8,577.0l0.2,3.5M331.7,649.6l-2.3,1.3M345.3,604.6l-0.4,1.2M318.9,568.3l0.3,1.9M329.8,584.7l1.9,1.6M269.4,554.2l-2.2,0.8M325.6,650.8l1.0,1.3M316.9,564.1l-0.1,1.0M339.7,602.8l-2.0,0.8M227.8,542.8l0.2,1.0M243.2,538.0l1.5,0.1M276.1,657.4l-0.2,1.7M280.5,640.8l-1.8,1.6M322.6,591.8l0.6,1.9M294.8,651.9l-0.7,0.7M277.1,643.5l-2.2,1.7M237.3,524.1l-2.2,0.6M227.2,608.9l1.7,0.3M245.6,590.3l-0.9,2.5M268.9,563.2l-0.3,1.6M267.0,602.6l-0.0,0.8M268.0,560.3l-3.0,0.1M342.3,585.6l-1.8,2.5M241.9,558.2l-1.2,0.8M214.3,606.6l1.4,2.1M241.3,547.8l2.6,1.9M221.0,573.8l-2.4,0.4M229.3,604.5l1.7,2.3M333.0,587.6l-0.7,1.4M327.3,587.6l-1.3,3.1" fill="none" stroke="#25c238" stroke-width="1.0" stroke-linecap="round" opacity="0.9"/>
<path d="M259.2,644.1l1.6,0.3M324.5,580.8l-2.1,0.3M247.2,649.0l-0.6,1.7M311.1,593.8l1.1,0.5M260.8,564.9l1.8,0.7M219.7,631.3l-1.6,1.0M286.2,568.6l0.3,1.2M305.1,652.9l1.2,0.3M337.3,553.5l0.5,0.8M295.6,547.4l-1.0,0.9M307.8,627.5l-0.8,0.1M246.6,527.4l0.0,1.8M240.4,523.6l-1.2,1.0M236.9,570.6l0.5,0.5M248.3,560.0l0.5,0.9M327.1,611.2l0.3,0.8M317.4,571.3l-0.1,1.4M257.5,571.7l-1.5,1.7M293.3,541.1l0.8,1.5M317.5,646.1l-1.2,0.3M238.8,567.6l-1.8,0.9M237.7,581.3l0.3,1.2M292.3,517.7l0.2,1.7M342.6,640.0l0.2,0.9M226.3,570.6l-1.7,1.1M249.7,593.7l-0.9,0.5M282.6,583.9l0.9,0.8M324.8,618.6l-1.5,1.2M279.0,579.3l1.0,2.0M304.4,644.0l0.2,0.9M276.1,619.0l-0.2,1.7M286.2,549.0l-0.1,1.9M239.1,603.8l-0.9,1.8M292.9,520.4l0.8,0.6M317.1,537.0l1.7,0.3M328.2,528.6l-0.4,2.2M319.8,607.8l-1.5,1.4M346.7,622.6l-0.0,1.5M230.2,536.2l-1.1,0.9M274.8,554.6l-1.1,1.5M233.0,546.9l-0.4,1.7M297.2,576.3l1.2,0.1M230.3,545.3l-0.9,1.8M255.8,557.9l-1.4,0.7M324.1,601.3l0.8,0.8M326.3,600.8l-0.7,0.1M308.2,647.7l-0.7,2.0M239.8,650.3l-0.1,1.7M274.9,516.6l1.0,0.5M248.2,539.4l1.9,1.3M273.4,603.8l1.1,0.4M224.1,609.6l-0.7,1.2M338.0,634.9l-1.2,0.9M312.4,519.3l0.9,1.3M213.9,578.3l1.4,0.9M244.1,604.3l0.7,1.1M244.2,530.9l-0.3,1.6M319.7,533.2l0.1,1.8M240.3,525.2l0.7,0.2M339.8,518.4l-1.3,0.3M313.7,575.3l-1.3,0.7M229.3,570.1l1.6,0.7M210.5,612.9l-1.3,1.5M238.0,602.6l1.4,1.5M265.4,649.0l1.6,1.6M270.9,544.1l-1.0,0.9M299.4,576.2l0.8,1.1M342.7,559.5l0.7,1.1M239.6,551.5l0.1,2.0M281.0,602.2l0.8,0.4M301.5,560.1l-1.1,0.1M316.5,564.1l1.3,0.5M231.9,538.7l-0.9,0.3M212.0,607.6l-1.7,0.0M314.8,604.9l-0.4,1.5M301.4,632.5l1.4,0.1M323.2,563.1l-0.3,1.0M345.1,570.7l-2.0,0.5M226.7,553.2l0.6,1.8M258.0,556.3l1.8,1.3M226.3,605.9l-1.3,1.2M267.8,550.9l-0.2,1.0M346.6,541.6l-1.4,0.2M239.3,538.9l0.9,0.9M326.7,573.3l1.3,1.9M334.9,537.1l1.6,0.8M320.8,602.0l-1.1,0.1M263.6,639.6l-0.8,0.4M263.6,657.5l1.7,0.3M206.8,575.9l-0.4,0.7M227.9,637.6l0.7,1.2M273.0,557.2l-0.8,1.7M230.5,550.5l-1.1,0.8M208.0,635.8l0.5,1.7M334.5,540.4l0.7,0.2M241.0,624.5l0.2,1.2M338.0,601.9l0.3,0.8M308.0,568.2l-1.5,0.1M298.0,648.9l1.3,0.4M327.1,650.1l-0.8,2.0M207.3,589.1l0.7,0.7M321.1,625.8l1.0,0.6M248.5,519.9l0.2,1.5M281.6,525.1l-1.1,0.6M307.3,643.9l-1.4,0.6" fill="none" stroke="#b548b8" stroke-width="2.90" stroke-linecap="round" opacity="0.92"/>
</g></g>
<text x="347.6" y="525.7" font-size="10.9" font-weight="bold" text-anchor="end"><tspan fill="#c653c0">M</tspan><tspan fill="#e8232a">e</tspan><tspan fill="#2dbb3a">r</tspan><tspan fill="#e9dd24">g</tspan><tspan fill="#2356d8">e</tspan></text>
<text x="333.60" y="650.80" font-size="5.8" text-anchor="middle" fill="#fff" font-weight="bold" stroke="#fff" stroke-width="0.17" font-style="italic">50um</text>
<line x1="327.00" y1="653.40" x2="340.20" y2="653.40" stroke="#fff" stroke-width="0.9"/>
<rect x="168.80" y="515.70" width="32.30" height="32.10" fill="#040404"/>
<path d="M173.7,542.3h0M193.0,524.3h0M184.8,530.2h0M189.6,540.6h0M172.5,517.4h0M195.3,529.7h0M193.0,516.6h0M183.3,538.5h0M176.6,545.3h0M197.3,517.4h0M170.4,533.0h0M198.4,528.1h0M176.2,529.4h0M170.5,523.3h0M183.0,531.6h0M176.8,523.5h0M176.3,530.5h0M178.5,517.2h0M195.3,533.5h0M189.3,522.2h0M200.1,542.7h0M173.3,526.6h0M191.7,538.2h0M198.3,529.4h0M195.1,536.9h0M178.9,534.4h0M196.7,542.3h0M185.1,534.5h0" fill="none" stroke="#b044b0" stroke-width="0.70" stroke-linecap="round" opacity="0.8"/>
<clipPath id="sc1"><rect x="168.8" y="515.7" width="32.3" height="32.1"/></clipPath><g clip-path="url(#sc1)">
<text x="201.60" y="521.60" font-size="7.2" text-anchor="end" fill="#c653c0" font-weight="bold" stroke="#c653c0" stroke-width="0.22">CD8</text>
</g>
<rect x="168.80" y="552.40" width="32.30" height="32.10" fill="#040404"/>
<path d="M199.0,582.1h0M171.3,555.8h0M195.2,575.6h0M190.2,562.6h0M188.2,571.7h0M187.4,558.0h0M182.8,565.2h0M191.8,583.5h0" fill="none" stroke="#a01818" stroke-width="0.50" stroke-linecap="round" opacity="0.5"/>
<clipPath id="sc2"><rect x="168.8" y="552.4" width="32.3" height="32.1"/></clipPath><g clip-path="url(#sc2)">
<text x="201.60" y="558.30" font-size="7.2" text-anchor="end" fill="#e8232a" font-weight="bold" stroke="#e8232a" stroke-width="0.22">PD-1</text>
</g>
<rect x="168.80" y="589.10" width="32.30" height="32.10" fill="#040404"/>
<path d="M176.9,606.5h0M181.0,608.3h0M188.8,591.9h0M170.0,615.4h0M177.6,597.0h0M200.2,604.2h0M195.3,604.4h0M189.2,594.5h0M189.1,616.4h0M185.7,612.5h0M190.2,591.9h0M192.9,607.9h0M178.8,590.8h0M196.2,604.3h0M191.7,616.7h0M191.5,618.0h0M181.7,614.3h0M183.2,618.4h0M196.6,592.9h0M173.8,596.5h0M199.2,603.2h0M188.8,599.1h0M185.2,601.7h0M180.4,607.7h0M187.5,617.5h0M190.5,618.2h0M195.9,620.1h0M190.2,594.9h0M196.0,619.3h0M197.4,607.3h0M191.5,596.3h0M195.1,607.4h0M178.3,591.8h0M195.8,620.1h0M172.3,614.3h0M182.2,594.5h0M178.6,613.3h0M196.4,591.2h0M188.5,591.3h0M191.7,600.0h0M196.6,619.8h0M185.1,620.4h0M179.1,592.2h0M188.0,590.9h0M175.7,602.3h0M188.3,594.7h0M170.9,616.4h0M179.2,619.1h0M197.1,601.4h0M183.7,605.8h0M189.4,608.1h0M186.8,608.8h0M198.5,605.4h0M182.8,611.9h0M176.9,599.1h0M199.6,605.8h0M186.4,590.2h0M182.3,607.6h0M170.2,608.7h0M189.0,591.7h0M188.9,604.1h0M190.5,600.7h0M191.3,612.4h0M170.3,591.7h0M190.4,619.3h0M177.3,603.8h0M187.8,599.7h0M180.8,599.4h0M180.9,608.1h0M178.8,601.4h0M193.3,590.7h0M187.1,612.3h0M179.1,596.7h0M194.3,597.2h0M175.4,603.2h0M191.0,593.0h0M179.5,600.1h0M195.2,603.3h0M195.9,595.1h0M179.9,609.7h0M196.8,603.7h0M176.5,593.6h0M185.9,595.7h0M194.4,615.5h0M175.2,598.4h0M194.4,609.5h0M194.4,600.4h0M173.6,598.8h0M194.0,598.2h0M180.2,602.6h0M182.5,602.4h0M197.9,594.7h0M169.7,618.7h0M196.6,620.0h0M182.9,618.9h0M198.1,596.7h0M192.5,615.4h0M190.0,605.7h0M178.5,600.3h0M176.6,592.0h0M187.7,598.7h0M194.5,591.3h0M197.3,611.1h0M198.0,617.2h0M197.2,607.5h0M170.0,612.6h0M174.9,599.0h0M190.0,605.9h0M182.3,618.5h0M188.4,600.3h0" fill="none" stroke="#23a030" stroke-width="0.65" stroke-linecap="round" opacity="0.75"/>
<clipPath id="sc3"><rect x="168.8" y="589.1" width="32.3" height="32.1"/></clipPath><g clip-path="url(#sc3)">
<text x="201.60" y="595.00" font-size="7.2" text-anchor="end" fill="#2dbb3a" font-weight="bold" stroke="#2dbb3a" stroke-width="0.22">CD68</text>
</g>
<rect x="168.80" y="625.80" width="32.30" height="32.10" fill="#040404"/>
<path d="M176.8,629.7h0M181.8,631.3h0M171.6,638.8h0M197.8,651.0h0M193.1,633.4h0M186.1,635.0h0M174.9,629.8h0M176.2,654.9h0M195.0,651.2h0M194.2,632.5h0M179.1,645.7h0M192.1,652.7h0M196.6,629.2h0M188.2,647.1h0M185.1,632.0h0M184.1,629.3h0M198.3,653.0h0M186.4,635.8h0M197.5,644.1h0M196.7,652.5h0M185.2,639.2h0M188.0,639.7h0M174.6,635.9h0M194.5,627.9h0M171.0,645.7h0M178.2,642.9h0M184.1,637.1h0M200.2,632.6h0M182.3,632.8h0M189.0,635.0h0M180.5,649.4h0M179.4,643.6h0M197.4,629.7h0M171.5,633.6h0M193.1,645.4h0M176.9,636.7h0M175.1,640.6h0M170.9,647.9h0M197.1,655.7h0M192.2,655.9h0M170.2,635.4h0M199.3,650.2h0M182.2,655.4h0M188.6,651.5h0M178.6,632.4h0M183.2,630.8h0M181.3,655.9h0M179.8,626.9h0M171.0,631.8h0M193.7,637.7h0M178.5,629.6h0M199.7,639.5h0M176.0,628.4h0M171.3,631.7h0M190.4,631.2h0M170.9,641.6h0M177.2,657.0h0M173.4,642.7h0M193.4,639.1h0M199.9,641.2h0M177.0,639.1h0M170.7,639.4h0M177.2,653.7h0M195.1,641.8h0M170.6,634.4h0M177.0,632.9h0M176.7,653.1h0M174.0,628.2h0M198.1,643.8h0M200.0,638.9h0M197.3,646.5h0M193.9,649.3h0M184.8,629.4h0M176.1,653.3h0M197.2,654.8h0M179.9,646.6h0M194.1,646.2h0M194.6,642.7h0M189.7,647.5h0M177.8,654.7h0M199.0,628.9h0M199.4,655.9h0M190.1,628.0h0M197.2,630.5h0M199.3,646.9h0M171.5,631.7h0M189.1,644.0h0M192.5,654.9h0M176.3,626.7h0M197.9,627.0h0M196.5,630.1h0M194.5,650.5h0M196.6,643.4h0M196.6,632.8h0M190.2,636.7h0M197.0,650.2h0M184.1,642.7h0M170.4,627.6h0M187.9,641.5h0M196.1,645.1h0M173.9,637.7h0M193.2,642.6h0M169.9,652.1h0M195.0,629.2h0M186.3,638.2h0M193.8,636.1h0M176.8,641.4h0M199.3,629.5h0M173.1,645.5h0M196.8,642.2h0M182.9,652.8h0M193.4,628.6h0M196.7,632.6h0M178.9,652.1h0M182.6,650.9h0M174.7,653.3h0M175.0,631.2h0M184.8,636.9h0M186.2,654.2h0M191.4,626.8h0M179.2,643.2h0M184.5,648.4h0M184.5,628.9h0M177.1,652.5h0M180.6,650.0h0M199.9,645.7h0M190.4,645.2h0M179.2,654.4h0M183.9,654.4h0M179.0,653.1h0M193.8,645.3h0M183.2,630.9h0M193.3,637.6h0M189.9,630.7h0M172.1,631.0h0M194.4,632.0h0M197.3,637.9h0M187.3,637.3h0M188.7,629.5h0M182.0,655.2h0M175.1,646.6h0M179.6,635.8h0M170.3,627.2h0M198.7,651.9h0M194.2,651.2h0M198.9,631.4h0M187.5,641.7h0M187.2,655.2h0M192.9,656.1h0M173.2,646.5h0M190.3,649.3h0M188.6,652.0h0M178.9,654.9h0M182.1,644.9h0M197.1,648.1h0M179.1,633.6h0M179.6,645.7h0M200.2,654.0h0M181.9,638.8h0M194.7,635.3h0M182.2,627.0h0M175.2,643.1h0M190.9,645.4h0M180.8,655.6h0M188.7,631.4h0M171.7,656.3h0M199.9,654.7h0M188.1,636.1h0M172.4,634.5h0M176.4,654.9h0M197.0,650.3h0M174.2,633.9h0M178.8,655.5h0M174.6,650.7h0M190.5,643.3h0M199.1,634.6h0M185.7,631.4h0M172.6,627.6h0M179.3,630.3h0M171.5,656.9h0M178.5,653.8h0M191.2,648.9h0M189.7,655.7h0M196.6,648.5h0M186.8,647.8h0M191.8,643.4h0M185.0,631.3h0M195.5,641.4h0M171.7,631.7h0M196.5,634.4h0M181.6,647.4h0M196.1,636.6h0M181.5,639.5h0M170.5,653.3h0M170.2,655.9h0M174.3,631.4h0M195.7,651.7h0M176.7,643.5h0M184.2,648.5h0M175.3,651.8h0M200.2,648.1h0M197.9,655.2h0M181.2,652.4h0M195.2,644.5h0M172.9,645.5h0M197.6,635.9h0M189.5,654.0h0M188.0,627.7h0M189.0,634.4h0M195.9,646.8h0M179.0,653.9h0M188.8,636.9h0M195.2,653.8h0M197.0,653.5h0M189.8,647.9h0M188.2,642.7h0M199.9,637.4h0M172.1,648.4h0M184.9,643.2h0M188.0,634.2h0M175.8,628.8h0M193.6,654.3h0M191.0,630.2h0M199.6,651.8h0M185.2,626.6h0M195.5,645.6h0M188.7,627.2h0M192.1,627.6h0M184.3,631.0h0M180.6,653.7h0M192.6,651.5h0M178.8,638.4h0M188.2,627.6h0M182.3,656.3h0M192.7,652.9h0M178.8,647.7h0M193.8,648.1h0M183.0,631.9h0M170.2,653.7h0M198.2,635.0h0" fill="none" stroke="#8a8418" stroke-width="0.55" stroke-linecap="round" opacity="0.5"/>
<clipPath id="sc4"><rect x="168.8" y="625.8" width="32.3" height="32.1"/></clipPath><g clip-path="url(#sc4)">
<text x="201.60" y="631.70" font-size="7.2" text-anchor="end" fill="#e9dd24" font-weight="bold" stroke="#e9dd24" stroke-width="0.22">TREM2</text>
</g>
<rect x="352.00" y="515.70" width="32.30" height="32.10" fill="#040404"/>
<path d="M371.9,539.1h0M377.2,545.2h0M375.5,544.6h0M353.7,530.7h0M381.8,536.3h0M380.5,520.0h0M367.2,524.0h0M369.5,534.0h0M353.2,523.1h0M361.4,544.4h0M376.3,521.4h0M377.3,520.7h0M371.8,520.4h0M352.9,543.1h0M359.2,523.1h0M383.0,543.1h0M361.7,545.8h0M369.4,537.2h0M359.1,545.2h0M374.0,546.0h0M380.2,525.6h0M363.9,521.6h0M357.3,518.5h0M362.1,534.9h0M352.9,537.2h0M363.2,526.0h0M377.9,531.2h0M362.5,531.2h0M374.4,518.2h0M382.7,517.2h0M375.8,542.3h0M353.4,540.5h0M364.0,534.1h0M353.1,517.9h0M358.4,545.6h0M358.8,539.5h0M381.3,545.2h0M363.4,527.3h0M368.9,540.2h0M356.1,539.3h0M377.3,542.7h0M353.9,545.3h0M355.6,526.9h0M371.6,544.5h0M363.2,544.7h0M369.5,526.0h0M362.5,521.9h0M355.2,521.0h0M374.0,546.9h0M357.8,518.0h0M383.1,532.8h0M365.3,523.7h0M371.0,541.7h0M366.8,529.4h0M354.5,544.4h0M353.8,531.6h0M378.5,520.5h0M375.3,545.5h0M372.2,540.5h0M356.1,529.8h0M357.4,542.3h0M361.9,530.3h0M383.5,542.5h0M382.8,530.3h0M367.8,538.7h0M367.5,525.4h0M365.2,521.0h0M364.4,546.6h0M382.3,535.6h0M368.1,526.8h0M355.5,524.8h0M376.8,543.0h0M363.9,540.5h0M376.6,537.7h0M373.2,539.7h0M364.0,538.0h0M361.4,531.3h0M376.4,537.6h0M361.8,545.3h0M372.7,534.2h0M353.2,533.2h0M360.5,537.0h0M367.0,541.4h0M372.7,540.8h0M363.5,536.1h0M375.5,541.8h0M363.5,542.2h0M379.5,537.5h0M382.8,545.7h0M368.7,532.6h0M357.9,542.0h0M381.6,531.1h0M374.0,538.5h0M375.2,521.7h0M376.8,534.2h0M373.2,529.3h0M371.9,540.1h0M372.4,538.5h0M353.6,521.4h0M366.3,536.3h0M359.5,537.4h0M372.2,517.8h0M367.3,523.4h0M354.5,520.6h0M362.5,522.0h0M358.7,517.6h0M367.1,528.1h0M371.6,534.5h0M360.1,544.0h0M352.8,528.9h0M361.4,529.0h0M356.3,541.9h0M364.3,517.6h0M371.6,519.4h0M369.5,526.9h0M370.6,545.7h0M377.9,529.3h0M377.8,536.1h0M364.1,520.8h0M371.1,533.7h0M382.2,546.0h0M371.5,527.2h0M380.2,516.5h0M356.1,533.8h0M371.7,520.8h0M372.1,543.7h0M364.3,529.7h0M359.7,525.4h0M382.7,528.1h0M382.3,544.4h0M371.1,524.4h0M382.9,531.6h0M365.6,526.2h0M383.0,531.5h0M361.6,531.0h0M356.5,535.5h0M366.4,525.4h0M376.8,541.7h0M353.2,532.7h0M361.2,545.0h0M376.8,524.0h0M361.0,521.2h0M383.2,525.4h0M371.5,531.0h0M372.6,534.9h0M375.6,520.1h0M376.1,525.7h0M369.2,526.8h0M361.9,532.7h0M367.1,527.5h0M375.7,534.5h0M353.9,524.2h0M366.8,544.5h0M380.1,533.1h0M353.2,540.2h0M365.9,534.1h0M374.5,535.8h0M367.6,544.3h0M364.6,528.5h0M379.0,522.5h0M361.9,541.8h0M354.8,542.0h0M374.1,529.7h0M361.6,540.3h0M380.8,520.9h0M367.5,533.2h0M368.1,526.6h0M357.5,534.4h0M377.7,518.6h0M359.9,541.5h0M377.1,536.7h0M353.6,538.5h0M382.8,546.9h0M374.3,518.0h0M378.7,523.2h0M372.6,545.5h0M374.7,520.6h0M361.8,544.5h0M357.4,535.1h0M365.5,521.4h0M371.9,517.8h0M356.1,528.1h0M355.0,518.3h0M370.5,539.1h0M379.8,520.6h0M366.1,526.1h0M371.2,531.4h0M381.6,527.9h0M354.5,537.8h0M357.4,535.8h0" fill="none" stroke="#b848b8" stroke-width="0.80" stroke-linecap="round" opacity="0.85"/>
<clipPath id="sc5"><rect x="352" y="515.7" width="32.3" height="32.1"/></clipPath><g clip-path="url(#sc5)">
<text x="384.80" y="521.60" font-size="7.2" text-anchor="end" fill="#c653c0" font-weight="bold" stroke="#c653c0" stroke-width="0.22">CD8</text>
</g>
<rect x="352.00" y="552.40" width="32.30" height="32.10" fill="#040404"/>
<path d="M377.2,578.3h0M367.7,561.2h0M352.8,573.4h0M367.2,576.4h0M364.3,576.7h0" fill="none" stroke="#801010" stroke-width="0.50" stroke-linecap="round" opacity="0.4"/>
<clipPath id="sc6"><rect x="352" y="552.4" width="32.3" height="32.1"/></clipPath><g clip-path="url(#sc6)">
<text x="384.80" y="558.30" font-size="7.2" text-anchor="end" fill="#e8232a" font-weight="bold" stroke="#e8232a" stroke-width="0.22">PD-1</text>
</g>
<rect x="352.00" y="589.10" width="32.30" height="32.10" fill="#040404"/>
<path d="M362.7,594.5h0M372.8,592.1h0M369.3,601.1h0M354.6,605.4h0M354.0,603.1h0M354.9,592.7h0M365.8,615.1h0M356.6,596.7h0M372.1,618.8h0M370.5,602.0h0M382.8,591.3h0M379.2,598.7h0M357.2,593.5h0M362.3,614.8h0M358.3,607.6h0M372.4,601.3h0M369.6,591.8h0M354.6,596.2h0M373.7,602.9h0M362.4,607.8h0M366.7,599.0h0M377.2,611.2h0M360.3,607.4h0M368.9,616.6h0M375.2,598.7h0M382.9,593.5h0M365.6,613.0h0M357.5,604.8h0M354.0,610.3h0M376.3,607.4h0M379.7,599.5h0M374.1,608.0h0M370.6,603.8h0M378.6,618.7h0M367.4,610.2h0M354.7,611.3h0M372.7,620.2h0M378.0,598.6h0M364.6,610.3h0M353.5,604.0h0M358.0,593.5h0M354.6,613.3h0M356.8,597.5h0M364.8,616.5h0M355.3,603.6h0M369.7,616.8h0M378.0,616.3h0M361.3,602.6h0M363.8,616.9h0M382.2,594.5h0M358.2,597.0h0M360.0,604.7h0M370.9,597.9h0M352.9,602.7h0M364.1,607.2h0M382.1,611.0h0M368.6,608.7h0M373.6,591.5h0M380.4,613.7h0M379.6,614.2h0M364.8,602.1h0M356.0,609.2h0M354.7,592.0h0M359.2,594.9h0M363.2,591.5h0M352.8,594.5h0M355.9,601.0h0M353.6,616.6h0M371.7,594.4h0M360.5,600.5h0M364.0,593.6h0M378.9,620.2h0M367.1,604.7h0M355.4,593.0h0M363.3,598.0h0M378.2,594.8h0M353.5,618.9h0M369.0,594.4h0M369.5,590.7h0M369.0,619.7h0M379.3,611.1h0M360.8,601.1h0M357.9,613.4h0M369.2,613.7h0M362.9,596.7h0M377.7,619.9h0M379.0,614.5h0M377.9,612.5h0M359.8,605.7h0M363.7,590.8h0M353.7,598.4h0M360.8,611.0h0M382.2,603.5h0M381.6,620.0h0M382.1,601.0h0M359.6,596.8h0M358.8,596.1h0M372.0,617.4h0M378.6,604.5h0M372.8,614.3h0M355.4,610.0h0M380.7,613.8h0M375.8,604.5h0M358.3,614.0h0M363.0,614.3h0M382.6,602.0h0M365.1,618.8h0M375.1,595.1h0M356.7,594.5h0M380.6,614.5h0M357.3,615.1h0M382.9,609.9h0M363.6,606.6h0M356.8,590.3h0M382.6,609.7h0M369.0,618.4h0M366.1,616.5h0M378.2,596.3h0M360.5,598.8h0M360.2,607.8h0M360.8,602.7h0M356.8,617.7h0M363.7,603.9h0M370.7,617.5h0M365.7,617.9h0M368.2,606.1h0M368.9,590.5h0M366.3,595.5h0M352.9,614.3h0M358.1,604.3h0" fill="none" stroke="#23a030" stroke-width="0.65" stroke-linecap="round" opacity="0.7"/>
<clipPath id="sc7"><rect x="352" y="589.1" width="32.3" height="32.1"/></clipPath><g clip-path="url(#sc7)">
<text x="384.80" y="595.00" font-size="7.2" text-anchor="end" fill="#2dbb3a" font-weight="bold" stroke="#2dbb3a" stroke-width="0.22">CD68</text>
</g>
<rect x="352.00" y="625.80" width="32.30" height="32.10" fill="#040404"/>
<path d="M359.8,655.9h0M356.7,648.1h0M355.4,634.1h0M383.5,633.0h0M372.5,640.6h0M366.7,641.7h0M358.7,651.9h0M355.5,633.7h0M353.4,634.7h0M365.3,654.1h0M364.4,630.1h0M360.7,656.8h0M354.7,645.5h0M364.4,646.8h0M363.2,647.7h0M368.1,646.4h0M380.5,644.3h0M357.2,628.6h0M381.8,641.5h0M358.8,655.5h0M370.6,648.8h0M379.8,635.3h0M363.8,653.4h0M356.9,649.9h0M355.8,647.7h0M374.4,655.6h0M378.7,642.0h0M358.9,631.2h0M369.0,642.1h0M355.0,654.1h0M368.4,648.0h0M359.6,634.0h0M353.2,637.1h0M361.0,639.5h0M364.4,652.0h0M380.2,631.9h0M365.0,631.7h0M373.2,656.3h0M359.0,650.0h0M362.0,627.0h0" fill="none" stroke="#6a6410" stroke-width="0.50" stroke-linecap="round" opacity="0.35"/>
<clipPath id="sc8"><rect x="352" y="625.8" width="32.3" height="32.1"/></clipPath><g clip-path="url(#sc8)">
<text x="384.80" y="631.70" font-size="7.2" text-anchor="end" fill="#e9dd24" font-weight="bold" stroke="#e9dd24" stroke-width="0.22">TREM2</text>
</g>
<text x="388.30" y="509.60" font-size="15.5" text-anchor="start" fill="#1a1311" font-weight="bold" stroke="#1a1311" stroke-width="0.46">G</text>
<line x1="442.50" y1="504.15" x2="442.50" y2="639.00" stroke="#000" stroke-width="1.0"/>
<line x1="442.00" y1="638.50" x2="532.50" y2="638.50" stroke="#000" stroke-width="1.0"/>
<line x1="436.80" y1="638.80" x2="442.30" y2="638.80" stroke="#000" stroke-width="1.0"/>
<text x="435.40" y="642.22" font-size="9.5" text-anchor="end" fill="#1a1311" font-weight="bold" stroke="#1a1311" stroke-width="0.28">0</text>
<line x1="436.80" y1="594.07" x2="442.30" y2="594.07" stroke="#000" stroke-width="1.0"/>
<text x="435.40" y="597.49" font-size="9.5" text-anchor="end" fill="#1a1311" font-weight="bold" stroke="#1a1311" stroke-width="0.28">100</text>
<line x1="436.80" y1="549.33" x2="442.30" y2="549.33" stroke="#000" stroke-width="1.0"/>
<text x="435.40" y="552.75" font-size="9.5" text-anchor="end" fill="#1a1311" font-weight="bold" stroke="#1a1311" stroke-width="0.28">200</text>
<line x1="436.80" y1="504.60" x2="442.30" y2="504.60" stroke="#000" stroke-width="1.0"/>
<text x="435.40" y="508.02" font-size="9.5" text-anchor="end" fill="#1a1311" font-weight="bold" stroke="#1a1311" stroke-width="0.28">300</text>
<line x1="468.40" y1="638.80" x2="468.40" y2="644.20" stroke="#000" stroke-width="1.0"/>
<line x1="506.50" y1="638.80" x2="506.50" y2="644.20" stroke="#000" stroke-width="1.0"/>
<circle cx="468.22" cy="529.75" r="2.45" fill="#34508e"/>
<circle cx="468.22" cy="578.78" r="2.45" fill="#34508e"/>
<circle cx="466.10" cy="584.95" r="2.45" fill="#34508e"/>
<circle cx="469.98" cy="586.18" r="2.45" fill="#34508e"/>
<circle cx="464.34" cy="605.58" r="2.45" fill="#34508e"/>
<circle cx="468.22" cy="608.76" r="2.45" fill="#34508e"/>
<circle cx="472.10" cy="609.46" r="2.45" fill="#34508e"/>
<circle cx="460.81" cy="612.99" r="2.45" fill="#34508e"/>
<circle cx="468.22" cy="614.40" r="2.45" fill="#34508e"/>
<circle cx="472.10" cy="614.40" r="2.45" fill="#34508e"/>
<circle cx="464.34" cy="619.69" r="2.45" fill="#34508e"/>
<circle cx="471.75" cy="619.69" r="2.45" fill="#34508e"/>
<circle cx="479.15" cy="617.05" r="2.45" fill="#34508e"/>
<circle cx="457.11" cy="621.81" r="2.45" fill="#34508e"/>
<circle cx="460.81" cy="622.34" r="2.45" fill="#34508e"/>
<circle cx="475.27" cy="621.46" r="2.45" fill="#34508e"/>
<circle cx="479.15" cy="622.69" r="2.45" fill="#34508e"/>
<circle cx="464.34" cy="624.10" r="2.45" fill="#34508e"/>
<circle cx="468.22" cy="625.34" r="2.45" fill="#34508e"/>
<circle cx="472.10" cy="625.34" r="2.45" fill="#34508e"/>
<circle cx="476.16" cy="625.34" r="2.45" fill="#34508e"/>
<circle cx="460.81" cy="630.28" r="2.45" fill="#34508e"/>
<circle cx="465.57" cy="628.51" r="2.45" fill="#34508e"/>
<circle cx="470.86" cy="629.39" r="2.45" fill="#34508e"/>
<circle cx="475.27" cy="631.16" r="2.45" fill="#34508e"/>
<circle cx="468.22" cy="632.04" r="2.45" fill="#34508e"/>
<polygon points="503.50,554.44 506.49,551.45 509.48,554.44 506.49,557.43" fill="#a4cee2"/>
<polygon points="497.86,559.73 500.85,556.74 503.84,559.73 500.85,562.72" fill="#a4cee2"/>
<polygon points="503.50,561.49 506.49,558.50 509.48,561.49 506.49,564.48" fill="#a4cee2"/>
<polygon points="508.97,558.85 511.96,555.86 514.95,558.85 511.96,561.84" fill="#a4cee2"/>
<polygon points="503.50,578.25 506.49,575.26 509.48,578.25 506.49,581.24" fill="#a4cee2"/>
<polygon points="497.86,581.25 500.85,578.26 503.84,581.25 500.85,584.23" fill="#a4cee2"/>
<polygon points="503.50,582.66 506.49,579.67 509.48,582.66 506.49,585.65" fill="#a4cee2"/>
<polygon points="508.97,583.89 511.96,580.90 514.95,583.89 511.96,586.88" fill="#a4cee2"/>
<polygon points="508.97,593.24 511.96,590.25 514.95,593.24 511.96,596.23" fill="#a4cee2"/>
<polygon points="492.57,595.88 495.56,592.89 498.54,595.88 495.56,598.87" fill="#a4cee2"/>
<polygon points="503.50,597.29 506.49,594.31 509.48,597.29 506.49,600.28" fill="#a4cee2"/>
<polygon points="497.86,599.41 500.85,596.42 503.84,599.41 500.85,602.40" fill="#a4cee2"/>
<polygon points="508.97,598.53 511.96,595.54 514.95,598.53 511.96,601.52" fill="#a4cee2"/>
<polygon points="508.97,605.94 511.96,602.95 514.95,605.94 511.96,608.93" fill="#a4cee2"/>
<polygon points="503.50,608.58 506.49,605.59 509.48,608.58 506.49,611.57" fill="#a4cee2"/>
<polygon points="508.97,610.87 511.96,607.89 514.95,610.87 511.96,613.86" fill="#a4cee2"/>
<polygon points="497.86,613.52 500.85,610.53 503.84,613.52 500.85,616.51" fill="#a4cee2"/>
<polygon points="503.50,613.52 506.49,610.53 509.48,613.52 506.49,616.51" fill="#a4cee2"/>
<polygon points="503.50,618.81 506.49,615.82 509.48,618.81 506.49,621.80" fill="#a4cee2"/>
<polygon points="508.97,617.05 511.96,614.06 514.95,617.05 511.96,620.04" fill="#a4cee2"/>
<polygon points="514.26,617.40 517.25,614.41 520.24,617.40 517.25,620.39" fill="#a4cee2"/>
<polygon points="497.86,620.93 500.85,617.94 503.84,620.93 500.85,623.92" fill="#a4cee2"/>
<polygon points="508.97,620.93 511.96,617.94 514.95,620.93 511.96,623.92" fill="#a4cee2"/>
<polygon points="492.57,623.57 495.56,620.58 498.54,623.57 495.56,626.56" fill="#a4cee2"/>
<polygon points="503.50,623.57 506.49,620.58 509.48,623.57 506.49,626.56" fill="#a4cee2"/>
<polygon points="514.26,624.28 517.25,621.29 520.24,624.28 517.25,627.27" fill="#a4cee2"/>
<line x1="456.40" y1="613.40" x2="480.40" y2="613.40" stroke="#34508e" stroke-width="0.9"/>
<line x1="468.40" y1="591.20" x2="468.40" y2="635.20" stroke="#34508e" stroke-width="0.9"/>
<line x1="462.40" y1="591.20" x2="474.40" y2="591.20" stroke="#34508e" stroke-width="0.9"/>
<line x1="462.40" y1="635.20" x2="474.40" y2="635.20" stroke="#34508e" stroke-width="0.9"/>
<line x1="494.50" y1="598.30" x2="518.50" y2="598.30" stroke="#a4cee2" stroke-width="0.9"/>
<line x1="506.50" y1="576.10" x2="506.50" y2="620.60" stroke="#a4cee2" stroke-width="0.9"/>
<line x1="500.50" y1="576.10" x2="512.50" y2="576.10" stroke="#a4cee2" stroke-width="0.9"/>
<line x1="500.50" y1="620.60" x2="512.50" y2="620.60" stroke="#a4cee2" stroke-width="0.9"/>
<text x="469.00" y="658.80" font-size="10.6" text-anchor="middle" fill="#1a1311" font-weight="bold" stroke="#1a1311" stroke-width="0.32">High</text>
<text x="507.30" y="658.80" font-size="10.6" text-anchor="middle" fill="#1a1311" font-weight="bold" stroke="#1a1311" stroke-width="0.32">Low</text>
<text x="410.80" y="572.30" font-size="11.05" text-anchor="middle" fill="#1a1311" font-weight="bold" stroke="#1a1311" stroke-width="0.33" transform="rotate(-90 410.80 572.30)" textLength="105.8" lengthAdjust="spacingAndGlyphs">CD8<tspan font-size="0.62em" dy="-0.677em">+</tspan><tspan dy="0.420em">&#8203;</tspan> Cells Per Field</text>
<line x1="474.70" y1="506.40" x2="501.00" y2="506.40" stroke="#1a1311" stroke-width="0.8"/>
<text x="487.85" y="506.50" font-size="8.6" text-anchor="middle" fill="#1a1311" font-weight="normal">*</text>
<line x1="583.50" y1="504.55" x2="583.50" y2="639.00" stroke="#000" stroke-width="1.0"/>
<line x1="583.00" y1="638.50" x2="673.20" y2="638.50" stroke="#000" stroke-width="1.0"/>
<line x1="578.10" y1="638.80" x2="583.60" y2="638.80" stroke="#000" stroke-width="1.0"/>
<text x="576.40" y="642.22" font-size="9.5" text-anchor="end" fill="#1a1311" font-weight="bold" stroke="#1a1311" stroke-width="0.28">0</text>
<line x1="578.10" y1="612.04" x2="583.60" y2="612.04" stroke="#000" stroke-width="1.0"/>
<text x="576.40" y="615.46" font-size="9.5" text-anchor="end" fill="#1a1311" font-weight="bold" stroke="#1a1311" stroke-width="0.28">10</text>
<line x1="578.10" y1="585.28" x2="583.60" y2="585.28" stroke="#000" stroke-width="1.0"/>
<text x="576.40" y="588.70" font-size="9.5" text-anchor="end" fill="#1a1311" font-weight="bold" stroke="#1a1311" stroke-width="0.28">20</text>
<line x1="578.10" y1="558.52" x2="583.60" y2="558.52" stroke="#000" stroke-width="1.0"/>
<text x="576.40" y="561.94" font-size="9.5" text-anchor="end" fill="#1a1311" font-weight="bold" stroke="#1a1311" stroke-width="0.28">30</text>
<line x1="578.10" y1="531.76" x2="583.60" y2="531.76" stroke="#000" stroke-width="1.0"/>
<text x="576.40" y="535.18" font-size="9.5" text-anchor="end" fill="#1a1311" font-weight="bold" stroke="#1a1311" stroke-width="0.28">40</text>
<line x1="578.10" y1="505.00" x2="583.60" y2="505.00" stroke="#000" stroke-width="1.0"/>
<text x="576.40" y="508.42" font-size="9.5" text-anchor="end" fill="#1a1311" font-weight="bold" stroke="#1a1311" stroke-width="0.28">50</text>
<line x1="608.40" y1="638.80" x2="608.40" y2="644.20" stroke="#000" stroke-width="1.0"/>
<line x1="646.60" y1="638.80" x2="646.60" y2="644.20" stroke="#000" stroke-width="1.0"/>
<circle cx="608.75" cy="515.64" r="2.45" fill="#34508e"/>
<circle cx="606.46" cy="520.05" r="2.45" fill="#34508e"/>
<circle cx="610.86" cy="520.05" r="2.45" fill="#34508e"/>
<circle cx="608.75" cy="524.46" r="2.45" fill="#34508e"/>
<circle cx="608.75" cy="533.27" r="2.45" fill="#34508e"/>
<circle cx="608.75" cy="554.08" r="2.45" fill="#34508e"/>
<circle cx="608.75" cy="563.26" r="2.45" fill="#34508e"/>
<circle cx="602.05" cy="574.72" r="2.45" fill="#34508e"/>
<circle cx="606.46" cy="575.95" r="2.45" fill="#34508e"/>
<circle cx="610.86" cy="575.95" r="2.45" fill="#34508e"/>
<circle cx="615.27" cy="575.25" r="2.45" fill="#34508e"/>
<circle cx="604.16" cy="582.30" r="2.45" fill="#34508e"/>
<circle cx="608.75" cy="581.77" r="2.45" fill="#34508e"/>
<circle cx="612.98" cy="582.30" r="2.45" fill="#34508e"/>
<circle cx="597.64" cy="590.59" r="2.45" fill="#34508e"/>
<circle cx="602.05" cy="588.30" r="2.45" fill="#34508e"/>
<circle cx="606.46" cy="590.59" r="2.45" fill="#34508e"/>
<circle cx="610.86" cy="589.71" r="2.45" fill="#34508e"/>
<circle cx="615.27" cy="588.83" r="2.45" fill="#34508e"/>
<circle cx="619.68" cy="588.83" r="2.45" fill="#34508e"/>
<circle cx="610.86" cy="594.12" r="2.45" fill="#34508e"/>
<circle cx="606.46" cy="597.65" r="2.45" fill="#34508e"/>
<circle cx="610.86" cy="600.29" r="2.45" fill="#34508e"/>
<circle cx="606.46" cy="602.94" r="2.45" fill="#34508e"/>
<circle cx="610.86" cy="605.23" r="2.45" fill="#34508e"/>
<circle cx="608.75" cy="619.69" r="2.45" fill="#34508e"/>
<polygon points="640.50,551.79 643.49,548.80 646.48,551.79 643.49,554.78" fill="#a4cee2"/>
<polygon points="647.56,555.67 650.55,552.68 653.54,555.67 650.55,558.66" fill="#a4cee2"/>
<polygon points="647.56,562.37 650.55,559.38 653.54,562.37 650.55,565.36" fill="#a4cee2"/>
<polygon points="640.50,566.43 643.49,563.44 646.48,566.43 643.49,569.42" fill="#a4cee2"/>
<polygon points="640.50,571.72 643.49,568.73 646.48,571.72 643.49,574.71" fill="#a4cee2"/>
<polygon points="647.56,574.19 650.55,571.20 653.54,574.19 650.55,577.18" fill="#a4cee2"/>
<polygon points="644.03,578.60 647.02,575.61 650.01,578.60 647.02,581.59" fill="#a4cee2"/>
<polygon points="644.03,583.89 647.02,580.90 650.01,583.89 647.02,586.88" fill="#a4cee2"/>
<polygon points="647.56,589.71 650.55,586.72 653.54,589.71 650.55,592.70" fill="#a4cee2"/>
<polygon points="654.61,588.83 657.60,585.84 660.59,588.83 657.60,591.82" fill="#a4cee2"/>
<polygon points="640.50,593.24 643.49,590.25 646.48,593.24 643.49,596.23" fill="#a4cee2"/>
<polygon points="647.56,594.12 650.55,591.13 653.54,594.12 650.55,597.11" fill="#a4cee2"/>
<polygon points="647.56,599.76 650.55,596.77 653.54,599.76 650.55,602.75" fill="#a4cee2"/>
<polygon points="654.61,599.76 657.60,596.77 660.59,599.76 657.60,602.75" fill="#a4cee2"/>
<polygon points="640.50,603.29 643.49,600.30 646.48,603.29 643.49,606.28" fill="#a4cee2"/>
<polygon points="633.45,605.23 636.44,602.24 639.43,605.23 636.44,608.22" fill="#a4cee2"/>
<polygon points="647.56,605.23 650.55,602.24 653.54,605.23 650.55,608.22" fill="#a4cee2"/>
<polygon points="654.61,605.23 657.60,602.24 660.59,605.23 657.60,608.22" fill="#a4cee2"/>
<polygon points="640.50,609.99 643.49,607.00 646.48,609.99 643.49,612.98" fill="#a4cee2"/>
<polygon points="654.61,609.99 657.60,607.00 660.59,609.99 657.60,612.98" fill="#a4cee2"/>
<polygon points="647.56,612.99 650.55,610.00 653.54,612.99 650.55,615.98" fill="#a4cee2"/>
<polygon points="640.50,615.28 643.49,612.29 646.48,615.28 643.49,618.27" fill="#a4cee2"/>
<polygon points="647.56,620.22 650.55,617.23 653.54,620.22 650.55,623.21" fill="#a4cee2"/>
<polygon points="640.50,624.10 643.49,621.11 646.48,624.10 643.49,627.09" fill="#a4cee2"/>
<polygon points="644.03,630.63 647.02,627.64 650.01,630.63 647.02,633.62" fill="#a4cee2"/>
<polygon points="644.03,638.74 647.02,635.75 650.01,638.74 647.02,641.73" fill="#a4cee2"/>
<line x1="596.40" y1="574.40" x2="620.40" y2="574.40" stroke="#34508e" stroke-width="0.9"/>
<line x1="608.40" y1="545.40" x2="608.40" y2="603.30" stroke="#34508e" stroke-width="0.9"/>
<line x1="602.40" y1="545.40" x2="614.40" y2="545.40" stroke="#34508e" stroke-width="0.9"/>
<line x1="602.40" y1="603.30" x2="614.40" y2="603.30" stroke="#34508e" stroke-width="0.9"/>
<line x1="634.60" y1="595.50" x2="658.60" y2="595.50" stroke="#a4cee2" stroke-width="0.9"/>
<line x1="646.60" y1="573.00" x2="646.60" y2="618.00" stroke="#a4cee2" stroke-width="0.9"/>
<line x1="640.60" y1="573.00" x2="652.60" y2="573.00" stroke="#a4cee2" stroke-width="0.9"/>
<line x1="640.60" y1="618.00" x2="652.60" y2="618.00" stroke="#a4cee2" stroke-width="0.9"/>
<text x="609.00" y="658.80" font-size="10.6" text-anchor="middle" fill="#1a1311" font-weight="bold" stroke="#1a1311" stroke-width="0.32">High</text>
<text x="647.40" y="658.80" font-size="10.6" text-anchor="middle" fill="#1a1311" font-weight="bold" stroke="#1a1311" stroke-width="0.32">Low</text>
<text x="555.80" y="571.80" font-size="11.1" text-anchor="middle" fill="#1a1311" font-weight="bold" stroke="#1a1311" stroke-width="0.33" transform="rotate(-90 555.80 571.80)" textLength="140.4" lengthAdjust="spacingAndGlyphs">PD-1<tspan font-size="0.62em" dy="-0.677em">+</tspan><tspan dy="0.420em">&#8203;</tspan>CD8<tspan font-size="0.62em" dy="-0.677em">+</tspan><tspan dy="0.420em">&#8203;</tspan>/CD8<tspan font-size="0.62em" dy="-0.677em">+</tspan><tspan dy="0.420em">&#8203;</tspan> T Cell (%)</text>
<line x1="614.40" y1="506.50" x2="640.20" y2="506.50" stroke="#1a1311" stroke-width="0.8"/>
<text x="627.30" y="506.60" font-size="8.6" text-anchor="middle" fill="#1a1311" font-weight="normal">**</text>
<text x="2.20" y="682.80" font-size="15.5" text-anchor="start" fill="#1a1311" font-weight="bold" stroke="#1a1311" stroke-width="0.46">H</text>
<path d="M48.0,693.9 L70.6,693.9 L70.6,698.6 L74.4,698.6 L74.4,703.3 L78.5,703.3 L78.5,708.7 L81.0,708.7 L81.0,713.4 L87.3,713.4 L87.3,717.4 L95.7,717.4 L95.7,722.1 L126.2,722.1 L126.2,726.9 L131.8,726.9 L131.8,731.6 L140.6,731.6 L140.6,736.0 L170.4,736.0" fill="none" stroke="#a8d0e2" stroke-width="0.9" stroke-linejoin="miter"/>
<path d="M48.0,693.9 L57.4,693.9 L57.4,698.6 L61.8,698.6 L61.8,703.3 L66.5,703.3 L66.5,708.0 L71.6,708.0 L71.6,712.7 L75.3,712.7 L75.3,724.3 L77.2,724.3 L77.2,731.6 L80.7,731.6 L80.7,736.3 L108.3,736.3 L108.3,741.0 L109.9,741.0 L109.9,744.7 L124.6,744.7 L124.6,750.1 L128.1,750.1 L128.1,754.8 L131.8,754.8 L131.8,759.5 L139.7,759.5 L139.7,764.2 L142.8,764.2 L142.8,778.3 L146.9,778.3 L146.9,782.4 L170.4,782.4" fill="none" stroke="#34508e" stroke-width="0.9" stroke-linejoin="miter"/>
<line x1="162.59" y1="780.53" x2="162.59" y2="782.41" stroke="#34508e" stroke-width="0.5"/>
<line x1="165.41" y1="780.53" x2="165.41" y2="782.41" stroke="#34508e" stroke-width="0.5"/>
<line x1="168.24" y1="780.53" x2="168.24" y2="782.41" stroke="#34508e" stroke-width="0.5"/>
<line x1="165.73" y1="734.39" x2="165.73" y2="735.96" stroke="#a8d0e2" stroke-width="0.5"/>
<line x1="168.24" y1="734.39" x2="168.24" y2="735.96" stroke="#a8d0e2" stroke-width="0.5"/>
<line x1="48.50" y1="693.50" x2="48.50" y2="816.00" stroke="#000" stroke-width="1.0"/>
<line x1="48.00" y1="815.50" x2="170.60" y2="815.50" stroke="#000" stroke-width="1.0"/>
<line x1="43.40" y1="815.40" x2="48.00" y2="815.40" stroke="#1a1311" stroke-width="1.0"/>
<text x="41.60" y="818.50" font-size="8.6" text-anchor="end" fill="#1a1311" font-weight="bold" stroke="#1a1311" stroke-width="0.26">0</text>
<line x1="43.40" y1="785.02" x2="48.00" y2="785.02" stroke="#1a1311" stroke-width="1.0"/>
<text x="41.60" y="788.12" font-size="8.6" text-anchor="end" fill="#1a1311" font-weight="bold" stroke="#1a1311" stroke-width="0.26">25</text>
<line x1="43.40" y1="754.65" x2="48.00" y2="754.65" stroke="#1a1311" stroke-width="1.0"/>
<text x="41.60" y="757.75" font-size="8.6" text-anchor="end" fill="#1a1311" font-weight="bold" stroke="#1a1311" stroke-width="0.26">50</text>
<line x1="43.40" y1="724.27" x2="48.00" y2="724.27" stroke="#1a1311" stroke-width="1.0"/>
<text x="41.60" y="727.38" font-size="8.6" text-anchor="end" fill="#1a1311" font-weight="bold" stroke="#1a1311" stroke-width="0.26">75</text>
<line x1="43.40" y1="693.90" x2="48.00" y2="693.90" stroke="#1a1311" stroke-width="1.0"/>
<text x="41.60" y="697.00" font-size="8.6" text-anchor="end" fill="#1a1311" font-weight="bold" stroke="#1a1311" stroke-width="0.26">100</text>
<line x1="48.00" y1="815.40" x2="48.00" y2="819.80" stroke="#1a1311" stroke-width="1.0"/>
<text x="48.00" y="830.40" font-size="8.6" text-anchor="middle" fill="#1a1311" font-weight="bold" stroke="#1a1311" stroke-width="0.26">0</text>
<line x1="76.00" y1="815.40" x2="76.00" y2="819.80" stroke="#1a1311" stroke-width="1.0"/>
<text x="76.00" y="830.40" font-size="8.6" text-anchor="middle" fill="#1a1311" font-weight="bold" stroke="#1a1311" stroke-width="0.26">15</text>
<line x1="104.01" y1="815.40" x2="104.01" y2="819.80" stroke="#1a1311" stroke-width="1.0"/>
<text x="104.01" y="830.40" font-size="8.6" text-anchor="middle" fill="#1a1311" font-weight="bold" stroke="#1a1311" stroke-width="0.26">30</text>
<line x1="132.01" y1="815.40" x2="132.01" y2="819.80" stroke="#1a1311" stroke-width="1.0"/>
<text x="132.01" y="830.40" font-size="8.6" text-anchor="middle" fill="#1a1311" font-weight="bold" stroke="#1a1311" stroke-width="0.26">45</text>
<line x1="160.00" y1="815.40" x2="160.00" y2="819.80" stroke="#1a1311" stroke-width="1.0"/>
<text x="155.60" y="830.40" font-size="8.8" text-anchor="start" fill="#1a1311" font-weight="bold" stroke="#1a1311" stroke-width="0.26">60(Months)</text>
<text x="21.40" y="755.00" font-size="10" text-anchor="middle" fill="#1a1311" font-weight="bold" stroke="#1a1311" stroke-width="0.30" transform="rotate(-90 21.40 755.00)" textLength="105.0" lengthAdjust="spacingAndGlyphs">Probability of Survival</text>
<text x="131.80" y="699.00" font-size="7.3" text-anchor="start" fill="#3b2a2a" font-weight="bold" stroke="#3b2a2a" stroke-width="0.22" textLength="27.6" lengthAdjust="spacingAndGlyphs">P &lt; 0.01</text>
<text x="131.80" y="711.90" font-size="7.4" text-anchor="start" fill="#3b2a2a" font-weight="bold" stroke="#3b2a2a" stroke-width="0.22" textLength="38.6" lengthAdjust="spacingAndGlyphs">HR = 2.725</text>
<text x="54.30" y="795.00" font-size="7.5" text-anchor="start" fill="#34508e" font-weight="bold" stroke="#34508e" stroke-width="0.22" textLength="91.5" lengthAdjust="spacingAndGlyphs">TREM2<tspan font-size="0.6em" dy="-0.667em">+</tspan><tspan dy="0.400em">&#8203;</tspan> TAMs High(n=26)</text>
<text x="54.30" y="807.60" font-size="7.5" text-anchor="start" fill="#a8d0e2" font-weight="bold" stroke="#a8d0e2" stroke-width="0.22" textLength="89.6" lengthAdjust="spacingAndGlyphs">TREM2<tspan font-size="0.6em" dy="-0.667em">+</tspan><tspan dy="0.400em">&#8203;</tspan> TAMs Low(n=26)</text>
<text x="198.60" y="682.80" font-size="15.5" text-anchor="start" fill="#1a1311" font-weight="bold" stroke="#1a1311" stroke-width="0.46">I</text>
<text x="316.00" y="682.80" font-size="15.5" text-anchor="start" fill="#1a1311" font-weight="bold" stroke="#1a1311" stroke-width="0.46">J</text>
<text x="439.60" y="682.80" font-size="15.5" text-anchor="start" fill="#1a1311" font-weight="bold" stroke="#1a1311" stroke-width="0.46">K</text>
<text x="558.60" y="682.80" font-size="15.5" text-anchor="start" fill="#1a1311" font-weight="bold" stroke="#1a1311" stroke-width="0.46">L</text>
<line x1="232.50" y1="694.25" x2="232.50" y2="814.00" stroke="#000" stroke-width="1.0"/>
<line x1="232.00" y1="813.50" x2="311.30" y2="813.50" stroke="#000" stroke-width="1.0"/>
<line x1="227.20" y1="813.30" x2="232.70" y2="813.30" stroke="#000" stroke-width="1.0"/>
<text x="225.90" y="816.40" font-size="8.6" text-anchor="end" fill="#1a1311" font-weight="bold" stroke="#1a1311" stroke-width="0.26">0</text>
<line x1="227.20" y1="783.65" x2="232.70" y2="783.65" stroke="#000" stroke-width="1.0"/>
<text x="225.90" y="786.75" font-size="8.6" text-anchor="end" fill="#1a1311" font-weight="bold" stroke="#1a1311" stroke-width="0.26">20</text>
<line x1="227.20" y1="754.00" x2="232.70" y2="754.00" stroke="#000" stroke-width="1.0"/>
<text x="225.90" y="757.10" font-size="8.6" text-anchor="end" fill="#1a1311" font-weight="bold" stroke="#1a1311" stroke-width="0.26">40</text>
<line x1="227.20" y1="724.35" x2="232.70" y2="724.35" stroke="#000" stroke-width="1.0"/>
<text x="225.90" y="727.45" font-size="8.6" text-anchor="end" fill="#1a1311" font-weight="bold" stroke="#1a1311" stroke-width="0.26">60</text>
<line x1="227.20" y1="694.70" x2="232.70" y2="694.70" stroke="#000" stroke-width="1.0"/>
<text x="225.90" y="697.80" font-size="8.6" text-anchor="end" fill="#1a1311" font-weight="bold" stroke="#1a1311" stroke-width="0.26">80</text>
<line x1="254.50" y1="813.30" x2="254.50" y2="818.70" stroke="#000" stroke-width="1.0"/>
<line x1="288.50" y1="813.30" x2="288.50" y2="818.70" stroke="#000" stroke-width="1.0"/>
<circle cx="251.53" cy="742.73" r="2.15" fill="#34508e"/>
<circle cx="258.08" cy="741.01" r="2.15" fill="#34508e"/>
<circle cx="251.53" cy="751.31" r="2.15" fill="#34508e"/>
<circle cx="258.08" cy="754.74" r="2.15" fill="#34508e"/>
<circle cx="245.13" cy="758.33" r="2.15" fill="#34508e"/>
<circle cx="251.53" cy="758.64" r="2.15" fill="#34508e"/>
<circle cx="258.08" cy="759.42" r="2.15" fill="#34508e"/>
<circle cx="264.32" cy="760.67" r="2.15" fill="#34508e"/>
<circle cx="245.13" cy="762.07" r="2.15" fill="#34508e"/>
<circle cx="251.53" cy="768.00" r="2.15" fill="#34508e"/>
<circle cx="245.13" cy="771.12" r="2.15" fill="#34508e"/>
<circle cx="258.08" cy="771.44" r="2.15" fill="#34508e"/>
<circle cx="264.32" cy="770.81" r="2.15" fill="#34508e"/>
<circle cx="251.53" cy="775.80" r="2.15" fill="#34508e"/>
<circle cx="258.08" cy="775.49" r="2.15" fill="#34508e"/>
<circle cx="251.53" cy="780.48" r="2.15" fill="#34508e"/>
<circle cx="258.08" cy="781.73" r="2.15" fill="#34508e"/>
<circle cx="251.53" cy="785.16" r="2.15" fill="#34508e"/>
<circle cx="245.13" cy="786.72" r="2.15" fill="#34508e"/>
<circle cx="258.08" cy="787.97" r="2.15" fill="#34508e"/>
<circle cx="251.53" cy="791.40" r="2.15" fill="#34508e"/>
<circle cx="264.32" cy="792.18" r="2.15" fill="#34508e"/>
<circle cx="251.53" cy="796.40" r="2.15" fill="#34508e"/>
<circle cx="258.08" cy="794.84" r="2.15" fill="#34508e"/>
<circle cx="264.32" cy="796.71" r="2.15" fill="#34508e"/>
<circle cx="254.96" cy="801.23" r="2.15" fill="#34508e"/>
<polygon points="286.19,721.98 288.81,719.36 291.44,721.98 288.81,724.60" fill="#a4cee2"/>
<polygon points="283.07,731.81 285.69,729.19 288.32,731.81 285.69,734.43" fill="#a4cee2"/>
<polygon points="289.31,733.68 291.93,731.06 294.56,733.68 291.93,736.30" fill="#a4cee2"/>
<polygon points="283.07,736.33 285.69,733.71 288.32,736.33 285.69,738.96" fill="#a4cee2"/>
<polygon points="289.31,738.67 291.93,736.05 294.56,738.67 291.93,741.30" fill="#a4cee2"/>
<polygon points="286.19,742.57 288.81,739.95 291.44,742.57 288.81,745.20" fill="#a4cee2"/>
<polygon points="286.19,746.47 288.81,743.85 291.44,746.47 288.81,749.10" fill="#a4cee2"/>
<polygon points="283.07,755.52 285.69,752.90 288.32,755.52 285.69,758.15" fill="#a4cee2"/>
<polygon points="289.31,757.39 291.93,754.77 294.56,757.39 291.93,760.02" fill="#a4cee2"/>
<polygon points="283.07,766.44 285.69,763.82 288.32,766.44 285.69,769.07" fill="#a4cee2"/>
<polygon points="289.31,765.35 291.93,762.73 294.56,765.35 291.93,767.97" fill="#a4cee2"/>
<polygon points="283.07,771.44 285.69,768.81 288.32,771.44 285.69,774.06" fill="#a4cee2"/>
<polygon points="289.31,770.03 291.93,767.41 294.56,770.03 291.93,772.65" fill="#a4cee2"/>
<polygon points="276.52,775.02 279.14,772.40 281.76,775.02 279.14,777.65" fill="#a4cee2"/>
<polygon points="289.31,775.80 291.93,773.18 294.56,775.80 291.93,778.43" fill="#a4cee2"/>
<polygon points="295.71,776.58 298.33,773.96 300.95,776.58 298.33,779.21" fill="#a4cee2"/>
<polygon points="276.52,778.92 279.14,776.30 281.76,778.92 279.14,781.55" fill="#a4cee2"/>
<polygon points="283.07,779.24 285.69,776.61 288.32,779.24 285.69,781.86" fill="#a4cee2"/>
<polygon points="276.52,782.36 279.14,779.73 281.76,782.36 279.14,784.98" fill="#a4cee2"/>
<polygon points="283.07,783.29 285.69,780.67 288.32,783.29 285.69,785.91" fill="#a4cee2"/>
<polygon points="289.31,782.82 291.93,780.20 294.56,782.82 291.93,785.45" fill="#a4cee2"/>
<polygon points="295.71,781.26 298.33,778.64 300.95,781.26 298.33,783.89" fill="#a4cee2"/>
<polygon points="295.71,785.48 298.33,782.85 300.95,785.48 298.33,788.10" fill="#a4cee2"/>
<polygon points="283.07,789.84 285.69,787.22 288.32,789.84 285.69,792.47" fill="#a4cee2"/>
<polygon points="289.31,792.18 291.93,789.56 294.56,792.18 291.93,794.81" fill="#a4cee2"/>
<polygon points="286.19,796.86 288.81,794.24 291.44,796.86 288.81,799.49" fill="#a4cee2"/>
<line x1="243.30" y1="773.50" x2="265.70" y2="773.50" stroke="#34508e" stroke-width="0.9"/>
<line x1="254.50" y1="756.30" x2="254.50" y2="791.40" stroke="#34508e" stroke-width="0.9"/>
<line x1="248.80" y1="756.30" x2="260.20" y2="756.30" stroke="#34508e" stroke-width="0.9"/>
<line x1="248.80" y1="791.40" x2="260.20" y2="791.40" stroke="#34508e" stroke-width="0.9"/>
<line x1="277.30" y1="766.10" x2="299.70" y2="766.10" stroke="#a4cee2" stroke-width="0.9"/>
<line x1="288.50" y1="744.90" x2="288.50" y2="787.20" stroke="#a4cee2" stroke-width="0.9"/>
<line x1="282.80" y1="744.90" x2="294.20" y2="744.90" stroke="#a4cee2" stroke-width="0.9"/>
<line x1="282.80" y1="787.20" x2="294.20" y2="787.20" stroke="#a4cee2" stroke-width="0.9"/>
<text x="255.10" y="830.40" font-size="9.7" text-anchor="middle" fill="#1a1311" font-weight="bold" stroke="#1a1311" stroke-width="0.29">High</text>
<text x="289.30" y="830.40" font-size="9.7" text-anchor="middle" fill="#1a1311" font-weight="bold" stroke="#1a1311" stroke-width="0.29">Low</text>
<text x="210.00" y="750.80" font-size="10.5" text-anchor="middle" fill="#1a1311" font-weight="bold" stroke="#1a1311" stroke-width="0.32" transform="rotate(-90 210.00 750.80)" textLength="98.7" lengthAdjust="spacingAndGlyphs">CD8<tspan font-size="0.62em" dy="-0.677em">+</tspan><tspan dy="0.420em">&#8203;</tspan>/CD45<tspan font-size="0.62em" dy="-0.677em">+</tspan><tspan dy="0.420em">&#8203;</tspan> Cell(%)</text>
<line x1="261.00" y1="697.70" x2="284.20" y2="697.70" stroke="#1a1311" stroke-width="0.8"/>
<text x="272.60" y="696.10" font-size="6.48" text-anchor="middle" fill="#1a1311" font-weight="normal">ns</text>
<line x1="354.50" y1="693.45" x2="354.50" y2="814.00" stroke="#000" stroke-width="1.0"/>
<line x1="354.00" y1="813.50" x2="433.00" y2="813.50" stroke="#000" stroke-width="1.0"/>
<line x1="349.10" y1="813.30" x2="354.60" y2="813.30" stroke="#000" stroke-width="1.0"/>
<text x="347.80" y="816.40" font-size="8.6" text-anchor="end" fill="#1a1311" font-weight="bold" stroke="#1a1311" stroke-width="0.26">0</text>
<line x1="349.10" y1="789.42" x2="354.60" y2="789.42" stroke="#000" stroke-width="1.0"/>
<text x="347.80" y="792.52" font-size="8.6" text-anchor="end" fill="#1a1311" font-weight="bold" stroke="#1a1311" stroke-width="0.26">20</text>
<line x1="349.10" y1="765.54" x2="354.60" y2="765.54" stroke="#000" stroke-width="1.0"/>
<text x="347.80" y="768.64" font-size="8.6" text-anchor="end" fill="#1a1311" font-weight="bold" stroke="#1a1311" stroke-width="0.26">40</text>
<line x1="349.10" y1="741.66" x2="354.60" y2="741.66" stroke="#000" stroke-width="1.0"/>
<text x="347.80" y="744.76" font-size="8.6" text-anchor="end" fill="#1a1311" font-weight="bold" stroke="#1a1311" stroke-width="0.26">60</text>
<line x1="349.10" y1="717.78" x2="354.60" y2="717.78" stroke="#000" stroke-width="1.0"/>
<text x="347.80" y="720.88" font-size="8.6" text-anchor="end" fill="#1a1311" font-weight="bold" stroke="#1a1311" stroke-width="0.26">80</text>
<line x1="349.10" y1="693.90" x2="354.60" y2="693.90" stroke="#000" stroke-width="1.0"/>
<text x="347.80" y="697.00" font-size="8.6" text-anchor="end" fill="#1a1311" font-weight="bold" stroke="#1a1311" stroke-width="0.26">100</text>
<line x1="377.20" y1="813.30" x2="377.20" y2="818.70" stroke="#000" stroke-width="1.0"/>
<line x1="411.10" y1="813.30" x2="411.10" y2="818.70" stroke="#000" stroke-width="1.0"/>
<circle cx="377.27" cy="720.89" r="2.15" fill="#34508e"/>
<circle cx="381.95" cy="730.56" r="2.15" fill="#34508e"/>
<circle cx="377.27" cy="732.59" r="2.15" fill="#34508e"/>
<circle cx="367.60" cy="737.58" r="2.15" fill="#34508e"/>
<circle cx="367.60" cy="741.48" r="2.15" fill="#34508e"/>
<circle cx="372.28" cy="743.35" r="2.15" fill="#34508e"/>
<circle cx="377.27" cy="739.92" r="2.15" fill="#34508e"/>
<circle cx="381.95" cy="740.23" r="2.15" fill="#34508e"/>
<circle cx="386.63" cy="741.01" r="2.15" fill="#34508e"/>
<circle cx="381.95" cy="743.82" r="2.15" fill="#34508e"/>
<circle cx="372.28" cy="753.18" r="2.15" fill="#34508e"/>
<circle cx="381.95" cy="753.49" r="2.15" fill="#34508e"/>
<circle cx="377.27" cy="755.52" r="2.15" fill="#34508e"/>
<circle cx="381.95" cy="756.77" r="2.15" fill="#34508e"/>
<circle cx="377.27" cy="759.73" r="2.15" fill="#34508e"/>
<circle cx="379.30" cy="764.88" r="2.15" fill="#34508e"/>
<circle cx="374.62" cy="765.98" r="2.15" fill="#34508e"/>
<circle cx="367.60" cy="770.81" r="2.15" fill="#34508e"/>
<circle cx="372.28" cy="771.44" r="2.15" fill="#34508e"/>
<circle cx="377.27" cy="774.56" r="2.15" fill="#34508e"/>
<circle cx="381.95" cy="774.56" r="2.15" fill="#34508e"/>
<circle cx="377.27" cy="779.24" r="2.15" fill="#34508e"/>
<circle cx="377.27" cy="786.41" r="2.15" fill="#34508e"/>
<circle cx="372.28" cy="792.50" r="2.15" fill="#34508e"/>
<circle cx="377.27" cy="791.09" r="2.15" fill="#34508e"/>
<circle cx="381.95" cy="791.40" r="2.15" fill="#34508e"/>
<polygon points="408.66,741.79 411.28,739.17 413.91,741.79 411.28,744.42" fill="#a4cee2"/>
<polygon points="408.66,747.41 411.28,744.79 413.91,747.41 411.28,750.03" fill="#a4cee2"/>
<polygon points="403.67,758.95 406.29,756.33 408.91,758.95 406.29,761.58" fill="#a4cee2"/>
<polygon points="408.66,759.73 411.28,757.11 413.91,759.73 411.28,762.36" fill="#a4cee2"/>
<polygon points="413.34,760.98 415.96,758.36 418.59,760.98 415.96,763.61" fill="#a4cee2"/>
<polygon points="403.67,762.54 406.29,759.92 408.91,762.54 406.29,765.17" fill="#a4cee2"/>
<polygon points="408.66,766.76 411.28,764.13 413.91,766.76 411.28,769.38" fill="#a4cee2"/>
<polygon points="413.34,767.54 415.96,764.91 418.59,767.54 415.96,770.16" fill="#a4cee2"/>
<polygon points="403.67,768.32 406.29,765.69 408.91,768.32 406.29,770.94" fill="#a4cee2"/>
<polygon points="403.67,771.90 406.29,769.28 408.91,771.90 406.29,774.53" fill="#a4cee2"/>
<polygon points="413.34,771.44 415.96,768.81 418.59,771.44 415.96,774.06" fill="#a4cee2"/>
<polygon points="403.67,777.68 406.29,775.05 408.91,777.68 406.29,780.30" fill="#a4cee2"/>
<polygon points="408.66,779.70 411.28,777.08 413.91,779.70 411.28,782.33" fill="#a4cee2"/>
<polygon points="413.34,778.14 415.96,775.52 418.59,778.14 415.96,780.77" fill="#a4cee2"/>
<polygon points="398.99,783.29 401.61,780.67 404.23,783.29 401.61,785.91" fill="#a4cee2"/>
<polygon points="408.66,784.38 411.28,781.76 413.91,784.38 411.28,787.01" fill="#a4cee2"/>
<polygon points="403.67,785.94 406.29,783.32 408.91,785.94 406.29,788.57" fill="#a4cee2"/>
<polygon points="413.34,786.72 415.96,784.10 418.59,786.72 415.96,789.35" fill="#a4cee2"/>
<polygon points="418.02,786.72 420.64,784.10 423.27,786.72 420.64,789.35" fill="#a4cee2"/>
<polygon points="398.99,787.04 401.61,784.41 404.23,787.04 401.61,789.66" fill="#a4cee2"/>
<polygon points="408.66,792.18 411.28,789.56 413.91,792.18 411.28,794.81" fill="#a4cee2"/>
<polygon points="403.67,793.74 406.29,791.12 408.91,793.74 406.29,796.37" fill="#a4cee2"/>
<polygon points="418.02,794.06 420.64,791.43 423.27,794.06 420.64,796.68" fill="#a4cee2"/>
<polygon points="413.34,796.86 415.96,794.24 418.59,796.86 415.96,799.49" fill="#a4cee2"/>
<polygon points="403.67,799.20 406.29,796.58 408.91,799.20 406.29,801.83" fill="#a4cee2"/>
<polygon points="413.34,792.96 415.96,790.34 418.59,792.96 415.96,795.59" fill="#a4cee2"/>
<line x1="366.00" y1="758.30" x2="388.40" y2="758.30" stroke="#34508e" stroke-width="0.9"/>
<line x1="377.20" y1="737.30" x2="377.20" y2="778.60" stroke="#34508e" stroke-width="0.9"/>
<line x1="371.50" y1="737.30" x2="382.90" y2="737.30" stroke="#34508e" stroke-width="0.9"/>
<line x1="371.50" y1="778.60" x2="382.90" y2="778.60" stroke="#34508e" stroke-width="0.9"/>
<line x1="399.90" y1="776.90" x2="422.30" y2="776.90" stroke="#a4cee2" stroke-width="0.9"/>
<line x1="411.10" y1="761.00" x2="411.10" y2="792.20" stroke="#a4cee2" stroke-width="0.9"/>
<line x1="405.40" y1="761.00" x2="416.80" y2="761.00" stroke="#a4cee2" stroke-width="0.9"/>
<line x1="405.40" y1="792.20" x2="416.80" y2="792.20" stroke="#a4cee2" stroke-width="0.9"/>
<text x="377.80" y="830.40" font-size="9.7" text-anchor="middle" fill="#1a1311" font-weight="bold" stroke="#1a1311" stroke-width="0.29">High</text>
<text x="411.90" y="830.40" font-size="9.7" text-anchor="middle" fill="#1a1311" font-weight="bold" stroke="#1a1311" stroke-width="0.29">Low</text>
<text x="328.10" y="753.80" font-size="10.5" text-anchor="middle" fill="#1a1311" font-weight="bold" stroke="#1a1311" stroke-width="0.32" transform="rotate(-90 328.10 753.80)" textLength="124.9" lengthAdjust="spacingAndGlyphs">PD-1<tspan font-size="0.62em" dy="-0.677em">+</tspan><tspan dy="0.420em">&#8203;</tspan>CD8<tspan font-size="0.62em" dy="-0.677em">+</tspan><tspan dy="0.420em">&#8203;</tspan>/CD8<tspan font-size="0.62em" dy="-0.677em">+</tspan><tspan dy="0.420em">&#8203;</tspan> T Cell (%)</text>
<line x1="382.20" y1="697.00" x2="405.30" y2="697.00" stroke="#1a1311" stroke-width="0.8"/>
<text x="393.75" y="697.10" font-size="7.2" text-anchor="middle" fill="#1a1311" font-weight="normal">***</text>
<line x1="475.50" y1="695.45" x2="475.50" y2="814.00" stroke="#000" stroke-width="1.0"/>
<line x1="475.00" y1="813.50" x2="554.00" y2="813.50" stroke="#000" stroke-width="1.0"/>
<line x1="470.20" y1="813.30" x2="475.70" y2="813.30" stroke="#000" stroke-width="1.0"/>
<text x="468.90" y="816.40" font-size="8.6" text-anchor="end" fill="#1a1311" font-weight="bold" stroke="#1a1311" stroke-width="0.26">0</text>
<line x1="470.20" y1="783.95" x2="475.70" y2="783.95" stroke="#000" stroke-width="1.0"/>
<text x="468.90" y="787.05" font-size="8.6" text-anchor="end" fill="#1a1311" font-weight="bold" stroke="#1a1311" stroke-width="0.26">20</text>
<line x1="470.20" y1="754.60" x2="475.70" y2="754.60" stroke="#000" stroke-width="1.0"/>
<text x="468.90" y="757.70" font-size="8.6" text-anchor="end" fill="#1a1311" font-weight="bold" stroke="#1a1311" stroke-width="0.26">40</text>
<line x1="470.20" y1="725.25" x2="475.70" y2="725.25" stroke="#000" stroke-width="1.0"/>
<text x="468.90" y="728.35" font-size="8.6" text-anchor="end" fill="#1a1311" font-weight="bold" stroke="#1a1311" stroke-width="0.26">60</text>
<line x1="470.20" y1="695.90" x2="475.70" y2="695.90" stroke="#000" stroke-width="1.0"/>
<text x="468.90" y="699.00" font-size="8.6" text-anchor="end" fill="#1a1311" font-weight="bold" stroke="#1a1311" stroke-width="0.26">80</text>
<line x1="497.80" y1="813.30" x2="497.80" y2="818.70" stroke="#000" stroke-width="1.0"/>
<line x1="531.10" y1="813.30" x2="531.10" y2="818.70" stroke="#000" stroke-width="1.0"/>
<circle cx="497.65" cy="714.96" r="2.15" fill="#34508e"/>
<circle cx="495.15" cy="719.95" r="2.15" fill="#34508e"/>
<circle cx="499.83" cy="719.33" r="2.15" fill="#34508e"/>
<circle cx="497.65" cy="725.41" r="2.15" fill="#34508e"/>
<circle cx="497.65" cy="730.09" r="2.15" fill="#34508e"/>
<circle cx="492.81" cy="740.23" r="2.15" fill="#34508e"/>
<circle cx="502.33" cy="743.35" r="2.15" fill="#34508e"/>
<circle cx="492.81" cy="744.60" r="2.15" fill="#34508e"/>
<circle cx="492.81" cy="748.50" r="2.15" fill="#34508e"/>
<circle cx="502.33" cy="747.72" r="2.15" fill="#34508e"/>
<circle cx="492.81" cy="752.09" r="2.15" fill="#34508e"/>
<circle cx="502.33" cy="752.40" r="2.15" fill="#34508e"/>
<circle cx="497.65" cy="753.65" r="2.15" fill="#34508e"/>
<circle cx="488.13" cy="758.17" r="2.15" fill="#34508e"/>
<circle cx="497.65" cy="758.64" r="2.15" fill="#34508e"/>
<circle cx="502.33" cy="757.39" r="2.15" fill="#34508e"/>
<circle cx="492.81" cy="760.98" r="2.15" fill="#34508e"/>
<circle cx="502.33" cy="760.51" r="2.15" fill="#34508e"/>
<circle cx="507.01" cy="759.73" r="2.15" fill="#34508e"/>
<circle cx="497.65" cy="764.10" r="2.15" fill="#34508e"/>
<circle cx="497.65" cy="769.56" r="2.15" fill="#34508e"/>
<circle cx="502.33" cy="768.00" r="2.15" fill="#34508e"/>
<circle cx="492.81" cy="772.37" r="2.15" fill="#34508e"/>
<circle cx="502.33" cy="772.68" r="2.15" fill="#34508e"/>
<circle cx="495.15" cy="784.85" r="2.15" fill="#34508e"/>
<circle cx="499.83" cy="784.38" r="2.15" fill="#34508e"/>
<polygon points="526.54,727.44 529.16,724.82 531.79,727.44 529.16,730.06" fill="#a4cee2"/>
<polygon points="530.44,730.87 533.06,728.25 535.69,730.87 533.06,733.50" fill="#a4cee2"/>
<polygon points="528.41,745.69 531.03,743.07 533.66,745.69 531.03,748.32" fill="#a4cee2"/>
<polygon points="528.41,757.86 531.03,755.24 533.66,757.86 531.03,760.49" fill="#a4cee2"/>
<polygon points="526.54,766.44 529.16,763.82 531.79,766.44 529.16,769.07" fill="#a4cee2"/>
<polygon points="534.34,767.54 536.96,764.91 539.59,767.54 536.96,770.16" fill="#a4cee2"/>
<polygon points="530.44,768.78 533.06,766.16 535.69,768.78 533.06,771.41" fill="#a4cee2"/>
<polygon points="519.52,773.15 522.14,770.53 524.76,773.15 522.14,775.77" fill="#a4cee2"/>
<polygon points="522.64,773.15 525.26,770.53 527.89,773.15 525.26,775.77" fill="#a4cee2"/>
<polygon points="526.54,772.68 529.16,770.06 531.79,772.68 529.16,775.31" fill="#a4cee2"/>
<polygon points="530.44,772.37 533.06,769.75 535.69,772.37 533.06,774.99" fill="#a4cee2"/>
<polygon points="534.34,773.46 536.96,770.84 539.59,773.46 536.96,776.09" fill="#a4cee2"/>
<polygon points="538.24,774.56 540.86,771.93 543.49,774.56 540.86,777.18" fill="#a4cee2"/>
<polygon points="522.64,779.24 525.26,776.61 527.89,779.24 525.26,781.86" fill="#a4cee2"/>
<polygon points="534.34,777.36 536.96,774.74 539.59,777.36 536.96,779.99" fill="#a4cee2"/>
<polygon points="530.44,782.04 533.06,779.42 535.69,782.04 533.06,784.67" fill="#a4cee2"/>
<polygon points="534.34,784.85 536.96,782.23 539.59,784.85 536.96,787.47" fill="#a4cee2"/>
<polygon points="526.54,785.48 529.16,782.85 531.79,785.48 529.16,788.10" fill="#a4cee2"/>
<polygon points="522.64,787.04 525.26,784.41 527.89,787.04 525.26,789.66" fill="#a4cee2"/>
<polygon points="530.44,788.28 533.06,785.66 535.69,788.28 533.06,790.91" fill="#a4cee2"/>
<polygon points="526.54,788.28 529.16,785.66 531.79,788.28 529.16,790.91" fill="#a4cee2"/>
<polygon points="534.34,789.06 536.96,786.44 539.59,789.06 536.96,791.69" fill="#a4cee2"/>
<polygon points="522.64,791.72 525.26,789.09 527.89,791.72 525.26,794.34" fill="#a4cee2"/>
<polygon points="530.44,792.50 533.06,789.87 535.69,792.50 533.06,795.12" fill="#a4cee2"/>
<polygon points="526.54,796.40 529.16,793.77 531.79,796.40 529.16,799.02" fill="#a4cee2"/>
<polygon points="528.41,780.48 531.03,777.86 533.66,780.48 531.03,783.11" fill="#a4cee2"/>
<line x1="486.60" y1="752.40" x2="509.00" y2="752.40" stroke="#34508e" stroke-width="0.9"/>
<line x1="497.80" y1="733.40" x2="497.80" y2="771.10" stroke="#34508e" stroke-width="0.9"/>
<line x1="492.10" y1="733.40" x2="503.50" y2="733.40" stroke="#34508e" stroke-width="0.9"/>
<line x1="492.10" y1="771.10" x2="503.50" y2="771.10" stroke="#34508e" stroke-width="0.9"/>
<line x1="519.90" y1="773.50" x2="542.30" y2="773.50" stroke="#a4cee2" stroke-width="0.9"/>
<line x1="531.10" y1="756.60" x2="531.10" y2="790.60" stroke="#a4cee2" stroke-width="0.9"/>
<line x1="525.40" y1="756.60" x2="536.80" y2="756.60" stroke="#a4cee2" stroke-width="0.9"/>
<line x1="525.40" y1="790.60" x2="536.80" y2="790.60" stroke="#a4cee2" stroke-width="0.9"/>
<text x="498.40" y="830.40" font-size="9.7" text-anchor="middle" fill="#1a1311" font-weight="bold" stroke="#1a1311" stroke-width="0.29">High</text>
<text x="531.90" y="830.40" font-size="9.7" text-anchor="middle" fill="#1a1311" font-weight="bold" stroke="#1a1311" stroke-width="0.29">Low</text>
<text x="450.50" y="754.70" font-size="10.5" text-anchor="middle" fill="#1a1311" font-weight="bold" stroke="#1a1311" stroke-width="0.32" transform="rotate(-90 450.50 754.70)" textLength="129.5" lengthAdjust="spacingAndGlyphs">CTLA4<tspan font-size="0.62em" dy="-0.677em">+</tspan><tspan dy="0.420em">&#8203;</tspan>CD8<tspan font-size="0.62em" dy="-0.677em">+</tspan><tspan dy="0.420em">&#8203;</tspan>/CD8<tspan font-size="0.62em" dy="-0.677em">+</tspan><tspan dy="0.420em">&#8203;</tspan> T Cell(%)</text>
<line x1="502.30" y1="697.00" x2="525.30" y2="697.00" stroke="#1a1311" stroke-width="0.8"/>
<text x="513.80" y="697.10" font-size="7.2" text-anchor="middle" fill="#1a1311" font-weight="normal">****</text>
<line x1="595.50" y1="693.45" x2="595.50" y2="814.00" stroke="#000" stroke-width="1.0"/>
<line x1="595.00" y1="813.50" x2="673.80" y2="813.50" stroke="#000" stroke-width="1.0"/>
<line x1="589.90" y1="813.30" x2="595.40" y2="813.30" stroke="#000" stroke-width="1.0"/>
<text x="588.40" y="816.40" font-size="8.6" text-anchor="end" fill="#1a1311" font-weight="bold" stroke="#1a1311" stroke-width="0.26">0</text>
<line x1="589.90" y1="783.45" x2="595.40" y2="783.45" stroke="#000" stroke-width="1.0"/>
<text x="588.40" y="786.55" font-size="8.6" text-anchor="end" fill="#1a1311" font-weight="bold" stroke="#1a1311" stroke-width="0.26">20</text>
<line x1="589.90" y1="753.60" x2="595.40" y2="753.60" stroke="#000" stroke-width="1.0"/>
<text x="588.40" y="756.70" font-size="8.6" text-anchor="end" fill="#1a1311" font-weight="bold" stroke="#1a1311" stroke-width="0.26">40</text>
<line x1="589.90" y1="723.75" x2="595.40" y2="723.75" stroke="#000" stroke-width="1.0"/>
<text x="588.40" y="726.85" font-size="8.6" text-anchor="end" fill="#1a1311" font-weight="bold" stroke="#1a1311" stroke-width="0.26">60</text>
<line x1="589.90" y1="693.90" x2="595.40" y2="693.90" stroke="#000" stroke-width="1.0"/>
<text x="588.40" y="697.00" font-size="8.6" text-anchor="end" fill="#1a1311" font-weight="bold" stroke="#1a1311" stroke-width="0.26">80</text>
<line x1="617.80" y1="813.30" x2="617.80" y2="818.70" stroke="#000" stroke-width="1.0"/>
<line x1="652.00" y1="813.30" x2="652.00" y2="818.70" stroke="#000" stroke-width="1.0"/>
<circle cx="617.96" cy="721.51" r="2.15" fill="#34508e"/>
<circle cx="617.96" cy="727.44" r="2.15" fill="#34508e"/>
<circle cx="617.96" cy="736.49" r="2.15" fill="#34508e"/>
<circle cx="611.41" cy="743.04" r="2.15" fill="#34508e"/>
<circle cx="624.20" cy="743.35" r="2.15" fill="#34508e"/>
<circle cx="617.96" cy="745.38" r="2.15" fill="#34508e"/>
<circle cx="608.13" cy="751.62" r="2.15" fill="#34508e"/>
<circle cx="627.63" cy="750.53" r="2.15" fill="#34508e"/>
<circle cx="614.53" cy="752.87" r="2.15" fill="#34508e"/>
<circle cx="608.13" cy="755.52" r="2.15" fill="#34508e"/>
<circle cx="621.08" cy="755.21" r="2.15" fill="#34508e"/>
<circle cx="627.63" cy="755.52" r="2.15" fill="#34508e"/>
<circle cx="614.53" cy="758.17" r="2.15" fill="#34508e"/>
<circle cx="621.08" cy="762.85" r="2.15" fill="#34508e"/>
<circle cx="614.53" cy="765.66" r="2.15" fill="#34508e"/>
<circle cx="608.13" cy="770.34" r="2.15" fill="#34508e"/>
<circle cx="621.08" cy="771.59" r="2.15" fill="#34508e"/>
<circle cx="627.63" cy="772.68" r="2.15" fill="#34508e"/>
<circle cx="608.13" cy="775.49" r="2.15" fill="#34508e"/>
<circle cx="621.08" cy="775.34" r="2.15" fill="#34508e"/>
<circle cx="627.63" cy="775.80" r="2.15" fill="#34508e"/>
<circle cx="614.53" cy="778.14" r="2.15" fill="#34508e"/>
<circle cx="621.08" cy="779.39" r="2.15" fill="#34508e"/>
<circle cx="617.96" cy="794.21" r="2.15" fill="#34508e"/>
<circle cx="621.08" cy="802.64" r="2.15" fill="#34508e"/>
<circle cx="614.53" cy="805.91" r="2.15" fill="#34508e"/>
<polygon points="649.19,742.26 651.81,739.64 654.44,742.26 651.81,744.89" fill="#a4cee2"/>
<polygon points="649.19,754.74 651.81,752.12 654.44,754.74 651.81,757.37" fill="#a4cee2"/>
<polygon points="644.20,762.07 646.82,759.45 649.45,762.07 646.82,764.70" fill="#a4cee2"/>
<polygon points="647.79,761.29 650.41,758.67 653.03,761.29 650.41,763.92" fill="#a4cee2"/>
<polygon points="651.22,762.54 653.84,759.92 656.47,762.54 653.84,765.17" fill="#a4cee2"/>
<polygon points="647.79,765.35 650.41,762.73 653.03,765.35 650.41,767.97" fill="#a4cee2"/>
<polygon points="651.22,766.76 653.84,764.13 656.47,766.76 653.84,769.38" fill="#a4cee2"/>
<polygon points="647.79,769.56 650.41,766.94 653.03,769.56 650.41,772.19" fill="#a4cee2"/>
<polygon points="644.20,773.15 646.82,770.53 649.45,773.15 646.82,775.77" fill="#a4cee2"/>
<polygon points="655.12,773.46 657.74,770.84 660.37,773.46 657.74,776.09" fill="#a4cee2"/>
<polygon points="649.19,780.95 651.81,778.33 654.44,780.95 651.81,783.57" fill="#a4cee2"/>
<polygon points="647.79,788.28 650.41,785.66 653.03,788.28 650.41,790.91" fill="#a4cee2"/>
<polygon points="659.02,789.06 661.64,786.44 664.27,789.06 661.64,791.69" fill="#a4cee2"/>
<polygon points="644.20,790.62 646.82,788.00 649.45,790.62 646.82,793.25" fill="#a4cee2"/>
<polygon points="651.22,790.62 653.84,788.00 656.47,790.62 653.84,793.25" fill="#a4cee2"/>
<polygon points="639.52,793.43 642.14,790.81 644.76,793.43 642.14,796.06" fill="#a4cee2"/>
<polygon points="647.79,792.96 650.41,790.34 653.03,792.96 650.41,795.59" fill="#a4cee2"/>
<polygon points="655.12,793.43 657.74,790.81 660.37,793.43 657.74,796.06" fill="#a4cee2"/>
<polygon points="659.02,792.96 661.64,790.34 664.27,792.96 661.64,795.59" fill="#a4cee2"/>
<polygon points="644.20,796.08 646.82,793.46 649.45,796.08 646.82,798.71" fill="#a4cee2"/>
<polygon points="651.22,795.77 653.84,793.15 656.47,795.77 653.84,798.40" fill="#a4cee2"/>
<polygon points="647.79,797.64 650.41,795.02 653.03,797.64 650.41,800.27" fill="#a4cee2"/>
<polygon points="655.12,796.08 657.74,793.46 660.37,796.08 657.74,798.71" fill="#a4cee2"/>
<polygon points="644.20,800.76 646.82,798.14 649.45,800.76 646.82,803.39" fill="#a4cee2"/>
<polygon points="651.22,800.76 653.84,798.14 656.47,800.76 653.84,803.39" fill="#a4cee2"/>
<polygon points="655.12,799.67 657.74,797.05 660.37,799.67 657.74,802.30" fill="#a4cee2"/>
<line x1="606.60" y1="762.50" x2="629.00" y2="762.50" stroke="#34508e" stroke-width="0.9"/>
<line x1="617.80" y1="741.50" x2="617.80" y2="783.30" stroke="#34508e" stroke-width="0.9"/>
<line x1="612.10" y1="741.50" x2="623.50" y2="741.50" stroke="#34508e" stroke-width="0.9"/>
<line x1="612.10" y1="783.30" x2="623.50" y2="783.30" stroke="#34508e" stroke-width="0.9"/>
<line x1="640.80" y1="781.30" x2="663.20" y2="781.30" stroke="#a4cee2" stroke-width="0.9"/>
<line x1="652.00" y1="764.40" x2="652.00" y2="797.60" stroke="#a4cee2" stroke-width="0.9"/>
<line x1="646.30" y1="764.40" x2="657.70" y2="764.40" stroke="#a4cee2" stroke-width="0.9"/>
<line x1="646.30" y1="797.60" x2="657.70" y2="797.60" stroke="#a4cee2" stroke-width="0.9"/>
<text x="618.40" y="830.40" font-size="9.7" text-anchor="middle" fill="#1a1311" font-weight="bold" stroke="#1a1311" stroke-width="0.29">High</text>
<text x="652.80" y="830.40" font-size="9.7" text-anchor="middle" fill="#1a1311" font-weight="bold" stroke="#1a1311" stroke-width="0.29">Low</text>
<text x="570.20" y="753.30" font-size="10.5" text-anchor="middle" fill="#1a1311" font-weight="bold" stroke="#1a1311" stroke-width="0.32" transform="rotate(-90 570.20 753.30)" textLength="122.3" lengthAdjust="spacingAndGlyphs">TIM3<tspan font-size="0.62em" dy="-0.677em">+</tspan><tspan dy="0.420em">&#8203;</tspan>CD8<tspan font-size="0.62em" dy="-0.677em">+</tspan><tspan dy="0.420em">&#8203;</tspan>/CD8<tspan font-size="0.62em" dy="-0.677em">+</tspan><tspan dy="0.420em">&#8203;</tspan> T Cell(%)</text>
<line x1="623.00" y1="697.00" x2="645.70" y2="697.00" stroke="#1a1311" stroke-width="0.8"/>
<text x="634.35" y="697.10" font-size="7.2" text-anchor="middle" fill="#1a1311" font-weight="normal">***</text>
</svg>
</body></html>
